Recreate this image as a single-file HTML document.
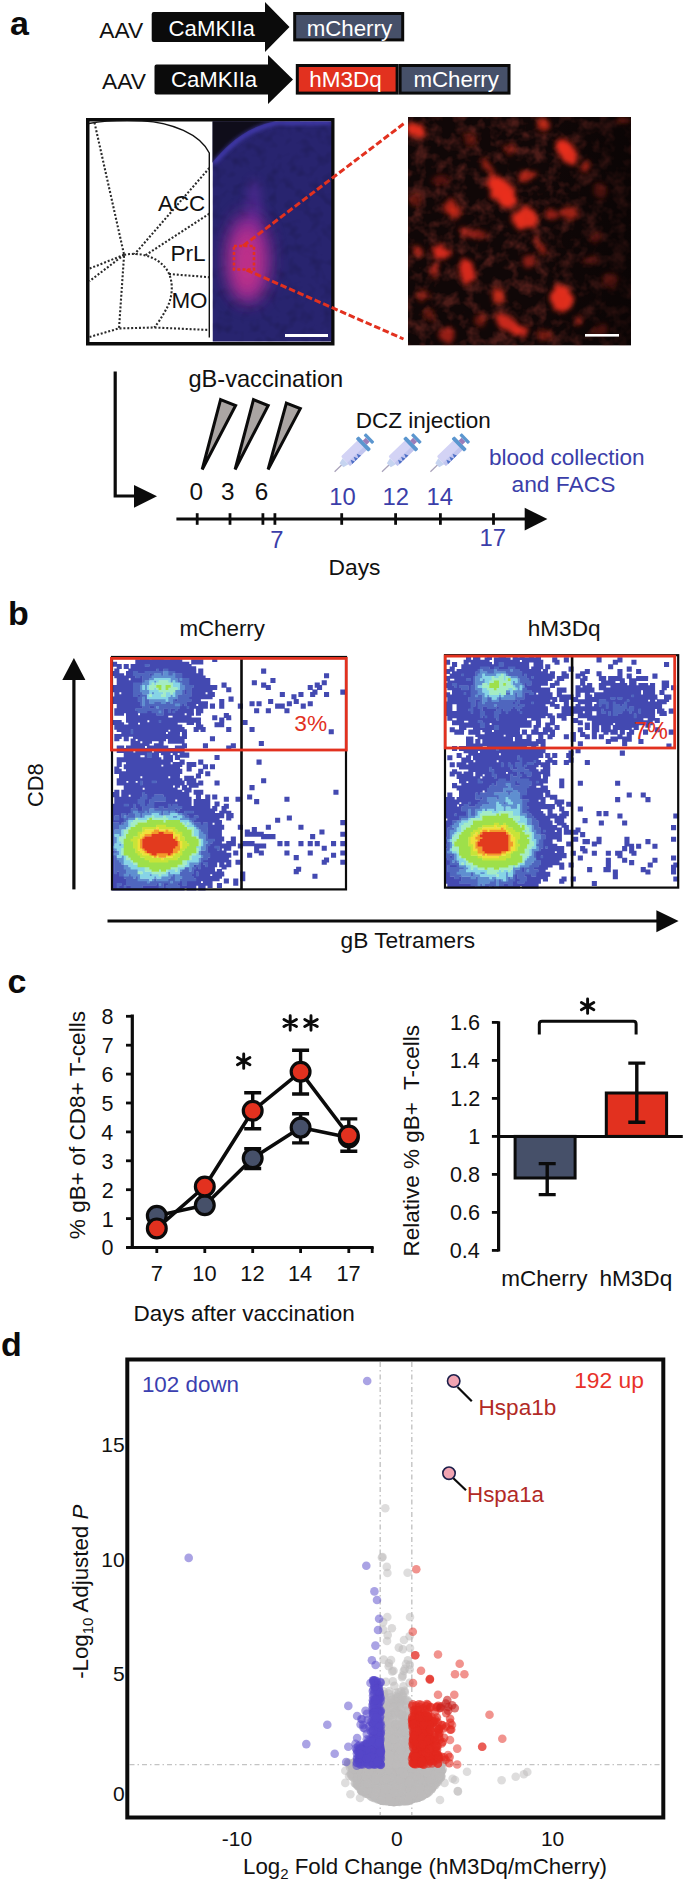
<!DOCTYPE html>
<html><head><meta charset="utf-8"><style>
html,body{margin:0;padding:0;background:#fff;width:685px;height:1881px;overflow:hidden}
svg{display:block;font-family:"Liberation Sans",sans-serif}
</style></head><body>
<svg width="685" height="1881" viewBox="0 0 685 1881">
<text x="10.08" y="34.50" font-size="34.00" fill="#0b0b0b" font-weight="bold">a</text>
<text x="7.99" y="624.80" font-size="34.00" fill="#0b0b0b" font-weight="bold">b</text>
<text x="7.44" y="992.80" font-size="34.00" fill="#0b0b0b" font-weight="bold">c</text>
<text x="0.94" y="1355.80" font-size="34.00" fill="#0b0b0b" font-weight="bold">d</text>
<text x="99.30" y="37.60" font-size="22.80" fill="#111">AAV</text>
<text x="102.00" y="88.60" font-size="22.80" fill="#111">AAV</text>
<path d="M153.7,12.1 L265,12.1 L265,2.0500000000000007 L289.5,27.05 L265,52.05 L265,42 L153.7,42 Q151.7,42 151.7,40 L151.7,14.1 Q151.7,12.1 153.7,12.1 Z" fill="#0b0b0b"/>
<path d="M156.5,64.5 L268,64.5 L268,55.05 L293,79.55 L268,104.05 L268,94.6 L156.5,94.6 Q154.5,94.6 154.5,92.6 L154.5,66.5 Q154.5,64.5 156.5,64.5 Z" fill="#0b0b0b"/>
<text x="168.59" y="35.60" font-size="22.20" fill="#fff">CaMKIIa</text>
<text x="170.89" y="87.20" font-size="22.20" fill="#fff">CaMKIIa</text>
<rect x="294.7" y="13.5" width="108.0" height="26.4" fill="#465069" stroke="#0b0b0b" stroke-width="3"/>
<text x="306.65" y="35.80" font-size="22.30" fill="#fff">mCherry</text>
<rect x="297.3" y="65.5" width="99.80000000000001" height="27.599999999999994" fill="#e2311f" stroke="#0b0b0b" stroke-width="3"/>
<rect x="400.1" y="65.5" width="108.89999999999998" height="27.599999999999994" fill="#465069" stroke="#0b0b0b" stroke-width="3"/>
<text x="309.23" y="87.00" font-size="22.50" fill="#fff">hM3Dq</text>
<text x="413.45" y="87.00" font-size="22.30" fill="#fff">mCherry</text>
<rect x="87.75" y="119.75" width="245" height="224" fill="#fff" stroke="#0b0b0b" stroke-width="3.5"/>
<path d="M88.8,123.5 C105,120.5 125,120 142,120.7 C172,122.5 200,134 209.3,153 L209.3,337.5" stroke="#111" stroke-width="1.4" fill="none"/>
<path d="M94.5,122.6 L124.1,254.8 L119,328.4" stroke="#2a2a2a" stroke-width="2.1" stroke-dasharray="2 1.9" fill="none"/>
<path d="M209.3,168 L134.6,254.2" stroke="#2a2a2a" stroke-width="2.1" stroke-dasharray="2 1.9" fill="none"/>
<path d="M124.1,254.8 L89.5,281.1" stroke="#2a2a2a" stroke-width="2.1" stroke-dasharray="2 1.9" fill="none"/>
<path d="M209.3,213.7 L145.1,255.5" stroke="#2a2a2a" stroke-width="2.1" stroke-dasharray="2 1.9" fill="none"/>
<path d="M124.1,254.8 L89.5,268.6" stroke="#2a2a2a" stroke-width="2.1" stroke-dasharray="2 1.9" fill="none"/>
<path d="M124.1,254.8 C145,251 162,260 168.5,272.6 C174,284 172,299 166.6,308.5 C162,317 158,323 154.3,327.5" stroke="#2a2a2a" stroke-width="2.1" stroke-dasharray="2 1.9" fill="none"/>
<path d="M169,274 L209.3,277.2" stroke="#2a2a2a" stroke-width="2.1" stroke-dasharray="2 1.9" fill="none"/>
<path d="M89.5,337 L119,328.4 L154.3,327.5 L209.3,330" stroke="#2a2a2a" stroke-width="2.1" stroke-dasharray="2 1.9" fill="none"/>
<text x="158.00" y="210.80" font-size="22.40" fill="#111">ACC</text>
<text x="170.49" y="261.40" font-size="22.60" fill="#111">PrL</text>
<text x="171.41" y="308.10" font-size="22.40" fill="#111">MO</text>
<defs>
<clipPath id="cb"><rect x="212.5" y="121.3" width="119" height="220.4"/></clipPath>
<clipPath id="cr"><rect x="408" y="117" width="223" height="228.5"/></clipPath>
<filter id="b2" x="-50%" y="-50%" width="200%" height="200%"><feGaussianBlur stdDeviation="2"/></filter>
<filter id="b3" x="-50%" y="-50%" width="200%" height="200%"><feGaussianBlur stdDeviation="3"/></filter>
<filter id="b5" x="-50%" y="-50%" width="200%" height="200%"><feGaussianBlur stdDeviation="5"/></filter>
<filter id="b9" x="-50%" y="-50%" width="200%" height="200%"><feGaussianBlur stdDeviation="9"/></filter>
<filter id="irr" x="-10%" y="-10%" width="120%" height="120%"><feTurbulence type="fractalNoise" baseFrequency="0.13" numOctaves="2" seed="4" result="t"/><feDisplacementMap in="SourceGraphic" in2="t" scale="9" xChannelSelector="R" yChannelSelector="G" result="d"/><feGaussianBlur in="d" stdDeviation="2.8"/></filter>
<filter id="nz1" x="0" y="0" width="100%" height="100%"><feTurbulence type="fractalNoise" baseFrequency="0.09" numOctaves="2" seed="5"/><feColorMatrix type="matrix" values="0 0 0 0 0  0 0 0 0 0  0 0 0 0 0  1.6 0 0 0 -0.75"/></filter>
<filter id="nzr" x="0" y="0" width="100%" height="100%"><feTurbulence type="fractalNoise" baseFrequency="0.075" numOctaves="3" seed="11"/><feColorMatrix type="matrix" values="0 0 0 0 0.62  0 0 0 0 0.07  0 0 0 0 0.05  2.6 0 0 0 -1.1"/></filter>
</defs>
<g clip-path="url(#cb)">
<rect x="212.5" y="121.3" width="119" height="220.4" fill="#28246f"/>
<rect x="212.5" y="121.3" width="119" height="220.4" fill="#000" filter="url(#nz1)" opacity="0.22"/>
<path d="M210,118 L300,118 L300,121.3 L276,121.3 C243,127 225,148 212.7,162 L210,166 Z" fill="#0f0d1a"/>
<path d="M213.5,163.5 C226,149.5 244,129 277,122.8 L331,122.6" stroke="#4d44cc" stroke-width="3" fill="none" filter="url(#b2)"/>
<ellipse cx="254" cy="205" rx="8" ry="26" fill="#6a2fa8" opacity="0.45" filter="url(#b5)"/>
<ellipse cx="248" cy="258" rx="21" ry="45" fill="#962c9c" opacity="0.92" filter="url(#b9)"/>
<ellipse cx="247" cy="262" rx="15" ry="34" fill="#c83286" opacity="0.9" filter="url(#b9)"/>
</g>
<rect x="285" y="334" width="43" height="3" fill="#fff"/>
<g clip-path="url(#cr)">
<rect x="408" y="117" width="223" height="228.5" fill="#100707"/>
<rect x="408" y="117" width="223" height="228.5" fill="#000" filter="url(#nzr)" opacity="0.32"/>
<defs><linearGradient id="gdk" x1="0" x2="1" y1="0" y2="0"><stop offset="0" stop-color="#070303" stop-opacity="0"/><stop offset="0.6" stop-color="#070303" stop-opacity="0"/><stop offset="1" stop-color="#070303" stop-opacity="0.6"/></linearGradient></defs>
<rect x="408" y="117" width="223" height="228.5" fill="url(#gdk)"/>
<g filter="url(#irr)">
<ellipse cx="415.4" cy="130.9" rx="9.8" ry="6.3" fill="#ea2f1c" opacity="0.95" transform="rotate(25 415.4 130.9)"/>
<ellipse cx="420" cy="127" rx="4.8" ry="3.6" fill="#ea2f1c" opacity="0.76" transform="rotate(0 420 127)"/>
<ellipse cx="502.8" cy="192.2" rx="11.2" ry="16.8" fill="#ea2f1c" opacity="0.95" transform="rotate(-35 502.8 192.2)"/>
<ellipse cx="497" cy="185" rx="8.4" ry="11.2" fill="#ea2f1c" opacity="0.85" transform="rotate(-35 497 185)"/>
<ellipse cx="508" cy="199" rx="8.4" ry="9.8" fill="#ea2f1c" opacity="0.95" transform="rotate(-35 508 199)"/>
<ellipse cx="488" cy="168" rx="3.6" ry="9.6" fill="#ea2f1c" opacity="0.66" transform="rotate(-30 488 168)"/>
<ellipse cx="450.5" cy="207" rx="8.4" ry="7.2" fill="#ea2f1c" opacity="0.71" transform="rotate(0 450.5 207)"/>
<ellipse cx="455" cy="212" rx="6.0" ry="6.0" fill="#ea2f1c" opacity="0.66" transform="rotate(0 455 212)"/>
<ellipse cx="516" cy="218.4" rx="6.0" ry="7.2" fill="#ea2f1c" opacity="0.66" transform="rotate(0 516 218.4)"/>
<ellipse cx="509.4" cy="149.7" rx="6.0" ry="4.8" fill="#ea2f1c" opacity="0.43" transform="rotate(0 509.4 149.7)"/>
<ellipse cx="542.7" cy="124.4" rx="7.2" ry="7.2" fill="#ea2f1c" opacity="0.76" transform="rotate(0 542.7 124.4)"/>
<ellipse cx="567.2" cy="151.3" rx="8.4" ry="14.0" fill="#ea2f1c" opacity="0.95" transform="rotate(-30 567.2 151.3)"/>
<ellipse cx="562" cy="146" rx="5.6" ry="8.4" fill="#ea2f1c" opacity="0.85" transform="rotate(-30 562 146)"/>
<ellipse cx="585.2" cy="166.9" rx="4.8" ry="4.8" fill="#ea2f1c" opacity="0.66" transform="rotate(0 585.2 166.9)"/>
<ellipse cx="526.4" cy="175.9" rx="9.6" ry="4.8" fill="#ea2f1c" opacity="0.71" transform="rotate(-15 526.4 175.9)"/>
<ellipse cx="525.5" cy="218.4" rx="11.2" ry="11.2" fill="#ea2f1c" opacity="0.95" transform="rotate(0 525.5 218.4)"/>
<ellipse cx="569.7" cy="213.5" rx="9.6" ry="6.0" fill="#ea2f1c" opacity="0.66" transform="rotate(0 569.7 213.5)"/>
<ellipse cx="551.7" cy="215" rx="7.2" ry="6.0" fill="#ea2f1c" opacity="0.62" transform="rotate(0 551.7 215)"/>
<ellipse cx="440.7" cy="252.9" rx="9.8" ry="7.0" fill="#ea2f1c" opacity="0.90" transform="rotate(20 440.7 252.9)"/>
<ellipse cx="417.8" cy="251.3" rx="6.0" ry="4.8" fill="#ea2f1c" opacity="0.66" transform="rotate(30 417.8 251.3)"/>
<ellipse cx="466.9" cy="270.9" rx="7.0" ry="12.6" fill="#ea2f1c" opacity="0.90" transform="rotate(-10 466.9 270.9)"/>
<ellipse cx="434.2" cy="269.2" rx="3.6" ry="8.4" fill="#ea2f1c" opacity="0.62" transform="rotate(15 434.2 269.2)"/>
<ellipse cx="473.4" cy="233.3" rx="14.4" ry="4.8" fill="#ea2f1c" opacity="0.57" transform="rotate(10 473.4 233.3)"/>
<ellipse cx="497.9" cy="295.4" rx="6.0" ry="8.4" fill="#ea2f1c" opacity="0.76" transform="rotate(0 497.9 295.4)"/>
<ellipse cx="507.7" cy="323.2" rx="14.0" ry="7.0" fill="#ea2f1c" opacity="0.85" transform="rotate(30 507.7 323.2)"/>
<ellipse cx="447.2" cy="334.6" rx="8.4" ry="7.2" fill="#ea2f1c" opacity="0.62" transform="rotate(0 447.2 334.6)"/>
<ellipse cx="422.7" cy="295.4" rx="6.0" ry="6.0" fill="#ea2f1c" opacity="0.43" transform="rotate(0 422.7 295.4)"/>
<ellipse cx="561.5" cy="298.7" rx="11.2" ry="14.0" fill="#ea2f1c" opacity="0.95" transform="rotate(-20 561.5 298.7)"/>
<ellipse cx="540.3" cy="246.4" rx="3.6" ry="10.8" fill="#ea2f1c" opacity="0.66" transform="rotate(-30 540.3 246.4)"/>
<ellipse cx="528.8" cy="261" rx="6.0" ry="4.8" fill="#ea2f1c" opacity="0.57" transform="rotate(0 528.8 261)"/>
<ellipse cx="521.5" cy="330.6" rx="7.0" ry="7.0" fill="#ea2f1c" opacity="0.85" transform="rotate(0 521.5 330.6)"/>
<ellipse cx="578.7" cy="320.7" rx="3.6" ry="3.6" fill="#ea2f1c" opacity="0.57" transform="rotate(0 578.7 320.7)"/>
<ellipse cx="595.8" cy="238.2" rx="4.8" ry="4.8" fill="#ea2f1c" opacity="0.33" transform="rotate(0 595.8 238.2)"/>
<ellipse cx="623.6" cy="119.5" rx="6.0" ry="3.6" fill="#ea2f1c" opacity="0.38" transform="rotate(0 623.6 119.5)"/>
<ellipse cx="470" cy="140" rx="7.2" ry="6.0" fill="#ea2f1c" opacity="0.38" transform="rotate(0 470 140)"/>
<ellipse cx="440" cy="180" rx="7.2" ry="6.0" fill="#ea2f1c" opacity="0.33" transform="rotate(0 440 180)"/>
<ellipse cx="600" cy="190" rx="7.2" ry="7.2" fill="#ea2f1c" opacity="0.28" transform="rotate(0 600 190)"/>
<ellipse cx="610" cy="280" rx="7.2" ry="7.2" fill="#ea2f1c" opacity="0.28" transform="rotate(0 610 280)"/>
<ellipse cx="600" cy="330" rx="7.2" ry="6.0" fill="#ea2f1c" opacity="0.28" transform="rotate(0 600 330)"/>
<ellipse cx="430" cy="315" rx="6.0" ry="6.0" fill="#ea2f1c" opacity="0.38" transform="rotate(0 430 315)"/>
<ellipse cx="480" cy="320" rx="6.0" ry="6.0" fill="#ea2f1c" opacity="0.43" transform="rotate(0 480 320)"/>
<ellipse cx="545" cy="335" rx="7.2" ry="4.8" fill="#ea2f1c" opacity="0.43" transform="rotate(0 545 335)"/>
<ellipse cx="415" cy="200" rx="6.0" ry="6.0" fill="#ea2f1c" opacity="0.38" transform="rotate(0 415 200)"/>
<ellipse cx="590" cy="260" rx="7.2" ry="6.0" fill="#ea2f1c" opacity="0.28" transform="rotate(0 590 260)"/>
</g>
</g>
<rect x="585" y="334" width="34" height="2.6" fill="#fff"/>
<rect x="234" y="246" width="20" height="23.5" fill="none" stroke="#e2311f" stroke-width="2.6" stroke-dasharray="3 2.2"/>
<path d="M243,246 L404,123.5 M246.5,270 L403.5,339" stroke="#e2311f" stroke-width="3" stroke-dasharray="6.5 2.8"/>
<path d="M115.2,371.4 L115.2,496 L136,496" stroke="#0b0b0b" stroke-width="3.2" fill="none"/>
<path d="M134,485 L157,496.3 L134,507.8 Z" fill="#0b0b0b"/>
<text x="188.46" y="386.90" font-size="23.60" fill="#111">gB-vaccination</text>
<path d="M220.6,399.6 L235.6,405.5 L202.2,469.5 Z" fill="#aaa5a3" stroke="#0b0b0b" stroke-width="3" stroke-linejoin="miter"/>
<path d="M253.5,399.6 L268.2,405.5 L235.1,469.5 Z" fill="#aaa5a3" stroke="#0b0b0b" stroke-width="3" stroke-linejoin="miter"/>
<path d="M286.4,403.1 L300.3,408.6 L268.1,469.5 Z" fill="#aaa5a3" stroke="#0b0b0b" stroke-width="3" stroke-linejoin="miter"/>
<text x="355.70" y="427.60" font-size="22.50" fill="#111">DCZ injection</text>
<text x="488.93" y="465.10" font-size="22.60" fill="#3b3ea9">blood collection</text>
<text x="511.49" y="491.80" font-size="22.80" fill="#3b3ea9">and FACS</text>
<g transform="translate(334.6,471.8) rotate(-44) scale(0.95)">
<line x1="0" y1="0" x2="11" y2="0" stroke="#a9a2ba" stroke-width="1.3"/>
<path d="M10,-3 L16,-4.5 L16,4.5 L10,3 Z" fill="#c6d4f0"/>
<rect x="16" y="-7" width="25" height="14" rx="1.5" fill="#d3d3f5"/>
<rect x="16" y="2.5" width="25" height="4.5" fill="#c2c6ef"/>
<path d="M19,7 l2,-4.5 l2,4.5 z M23.5,7 l2,-4.5 l2,4.5 z M28,7 l2,-4.5 l2,4.5z" fill="#4d6fc6"/>
<rect x="40" y="-9.5" width="4.2" height="19" rx="1.2" fill="#5b96cf"/>
<rect x="44" y="-3" width="4.5" height="6" fill="#9b7db9"/>
<rect x="48.5" y="-6.5" width="3.6" height="13" rx="1" fill="#5b96cf"/>
</g>
<g transform="translate(382,471.8) rotate(-44) scale(0.95)">
<line x1="0" y1="0" x2="11" y2="0" stroke="#a9a2ba" stroke-width="1.3"/>
<path d="M10,-3 L16,-4.5 L16,4.5 L10,3 Z" fill="#c6d4f0"/>
<rect x="16" y="-7" width="25" height="14" rx="1.5" fill="#d3d3f5"/>
<rect x="16" y="2.5" width="25" height="4.5" fill="#c2c6ef"/>
<path d="M19,7 l2,-4.5 l2,4.5 z M23.5,7 l2,-4.5 l2,4.5 z M28,7 l2,-4.5 l2,4.5z" fill="#4d6fc6"/>
<rect x="40" y="-9.5" width="4.2" height="19" rx="1.2" fill="#5b96cf"/>
<rect x="44" y="-3" width="4.5" height="6" fill="#9b7db9"/>
<rect x="48.5" y="-6.5" width="3.6" height="13" rx="1" fill="#5b96cf"/>
</g>
<g transform="translate(430.4,471.8) rotate(-44) scale(0.95)">
<line x1="0" y1="0" x2="11" y2="0" stroke="#a9a2ba" stroke-width="1.3"/>
<path d="M10,-3 L16,-4.5 L16,4.5 L10,3 Z" fill="#c6d4f0"/>
<rect x="16" y="-7" width="25" height="14" rx="1.5" fill="#d3d3f5"/>
<rect x="16" y="2.5" width="25" height="4.5" fill="#c2c6ef"/>
<path d="M19,7 l2,-4.5 l2,4.5 z M23.5,7 l2,-4.5 l2,4.5 z M28,7 l2,-4.5 l2,4.5z" fill="#4d6fc6"/>
<rect x="40" y="-9.5" width="4.2" height="19" rx="1.2" fill="#5b96cf"/>
<rect x="44" y="-3" width="4.5" height="6" fill="#9b7db9"/>
<rect x="48.5" y="-6.5" width="3.6" height="13" rx="1" fill="#5b96cf"/>
</g>
<line x1="176.4" y1="519" x2="526" y2="519" stroke="#0b0b0b" stroke-width="3"/>
<path d="M524.7,507.8 L547.4,519 L524.7,530.4 Z" fill="#0b0b0b"/>
<line x1="197.2" y1="513.2" x2="197.2" y2="524.8" stroke="#0b0b0b" stroke-width="2.8"/>
<line x1="230" y1="513.2" x2="230" y2="524.8" stroke="#0b0b0b" stroke-width="2.8"/>
<line x1="262.9" y1="513.2" x2="262.9" y2="524.8" stroke="#0b0b0b" stroke-width="2.8"/>
<line x1="274.9" y1="513.2" x2="274.9" y2="524.8" stroke="#0b0b0b" stroke-width="2.8"/>
<line x1="341.7" y1="513.2" x2="341.7" y2="524.8" stroke="#0b0b0b" stroke-width="2.8"/>
<line x1="395.6" y1="513.2" x2="395.6" y2="524.8" stroke="#0b0b0b" stroke-width="2.8"/>
<line x1="440.4" y1="513.2" x2="440.4" y2="524.8" stroke="#0b0b0b" stroke-width="2.8"/>
<line x1="493.5" y1="513.2" x2="493.5" y2="524.8" stroke="#0b0b0b" stroke-width="2.8"/>
<text x="189.53" y="500.20" font-size="24.30" fill="#111">0</text>
<text x="221.03" y="500.20" font-size="24.30" fill="#111">3</text>
<text x="254.78" y="500.20" font-size="24.30" fill="#111">6</text>
<text x="329.21" y="504.80" font-size="23.80" fill="#3b3ea9">10</text>
<text x="382.51" y="504.80" font-size="23.80" fill="#3b3ea9">12</text>
<text x="426.51" y="504.80" font-size="23.80" fill="#3b3ea9">14</text>
<text x="270.31" y="547.70" font-size="23.80" fill="#3b3ea9">7</text>
<text x="479.61" y="546.00" font-size="23.80" fill="#3b3ea9">17</text>
<text x="328.58" y="574.60" font-size="22.80" fill="#111">Days</text>
<text x="179.45" y="635.90" font-size="22.30" fill="#111">mCherry</text>
<text x="527.72" y="635.90" font-size="22.60" fill="#111">hM3Dq</text>
<line x1="73.9" y1="678" x2="73.9" y2="889.4" stroke="#0b0b0b" stroke-width="3.2"/>
<path d="M62.3,680 L73.9,658 L85.4,680 Z" fill="#0b0b0b"/>
<text transform="translate(43.3,785.3) rotate(-90)" text-anchor="middle" font-size="21.8" fill="#111">CD8</text>
<line x1="107.5" y1="921" x2="658" y2="921" stroke="#0b0b0b" stroke-width="3.2"/>
<path d="M656.4,910.3 L678.6,921 L656.4,932.2 Z" fill="#0b0b0b"/>
<text x="340.59" y="947.80" font-size="22.70" fill="#111">gB Tetramers</text>
<g><path fill="#4349b1" d="M140.0 657.0h9.7v2.73h-9.7zM151.6 657.0h12.1v2.73h-12.1zM170.2 657.0h9.7v2.73h-9.7zM212.2 657.0h5.1v2.73h-5.1zM135.3 659.3h47.0v2.73h-47.0zM191.2 659.3h12.1v2.73h-12.1zM212.2 659.3h5.1v2.73h-5.1zM112.0 661.7h5.1v2.73h-5.1zM135.3 661.7h54.0v2.73h-54.0zM191.2 661.7h12.1v2.73h-12.1zM112.0 664.0h9.7v2.73h-9.7zM123.7 664.0h5.1v2.73h-5.1zM130.6 664.0h14.4v2.73h-14.4zM149.3 664.0h42.3v2.73h-42.3zM116.7 666.3h5.1v2.73h-5.1zM123.7 666.3h5.1v2.73h-5.1zM130.6 666.3h65.6v2.73h-65.6zM114.3 668.6h5.1v2.73h-5.1zM128.3 668.6h28.4v2.73h-28.4zM158.6 668.6h5.1v2.73h-5.1zM167.9 668.6h28.4v2.73h-28.4zM198.2 668.6h5.1v2.73h-5.1zM261.1 668.6h5.1v2.73h-5.1zM112.0 671.0h7.4v2.73h-7.4zM126.0 671.0h7.4v2.73h-7.4zM137.6 671.0h7.4v2.73h-7.4zM174.9 671.0h21.4v2.73h-21.4zM198.2 671.0h5.1v2.73h-5.1zM261.1 671.0h5.1v2.73h-5.1zM112.0 673.3h12.1v2.73h-12.1zM126.0 673.3h7.4v2.73h-7.4zM149.3 673.3h2.7v2.73h-2.7zM181.9 673.3h21.4v2.73h-21.4zM324.0 673.3h5.1v2.73h-5.1zM114.3 675.6h21.4v2.73h-21.4zM140.0 675.6h2.7v2.73h-2.7zM181.9 675.6h23.7v2.73h-23.7zM324.0 675.6h5.1v2.73h-5.1zM116.7 678.0h12.1v2.73h-12.1zM130.6 678.0h12.1v2.73h-12.1zM188.9 678.0h21.4v2.73h-21.4zM270.4 678.0h5.1v2.73h-5.1zM116.7 680.3h26.0v2.73h-26.0zM188.9 680.3h21.4v2.73h-21.4zM251.8 680.3h5.1v2.73h-5.1zM270.4 680.3h5.1v2.73h-5.1zM321.7 680.3h5.1v2.73h-5.1zM116.7 682.6h16.7v2.73h-16.7zM188.9 682.6h21.4v2.73h-21.4zM221.5 682.6h5.1v2.73h-5.1zM251.8 682.6h5.1v2.73h-5.1zM261.1 682.6h5.1v2.73h-5.1zM314.7 682.6h5.1v2.73h-5.1zM321.7 682.6h5.1v2.73h-5.1zM112.0 685.0h21.4v2.73h-21.4zM193.6 685.0h23.7v2.73h-23.7zM221.5 685.0h5.1v2.73h-5.1zM261.1 685.0h9.7v2.73h-9.7zM307.7 685.0h5.1v2.73h-5.1zM314.7 685.0h7.4v2.73h-7.4zM112.0 687.3h21.4v2.73h-21.4zM191.2 687.3h26.0v2.73h-26.0zM226.2 687.3h5.1v2.73h-5.1zM265.8 687.3h5.1v2.73h-5.1zM307.7 687.3h5.1v2.73h-5.1zM317.0 687.3h5.1v2.73h-5.1zM112.0 689.6h21.4v2.73h-21.4zM184.2 689.6h2.7v2.73h-2.7zM191.2 689.6h21.4v2.73h-21.4zM226.2 689.6h5.1v2.73h-5.1zM312.4 689.6h5.1v2.73h-5.1zM340.3 689.6h5.1v2.73h-5.1zM114.3 692.0h5.1v2.73h-5.1zM121.3 692.0h12.1v2.73h-12.1zM184.2 692.0h2.7v2.73h-2.7zM191.2 692.0h14.4v2.73h-14.4zM207.5 692.0h7.4v2.73h-7.4zM279.8 692.0h5.1v2.73h-5.1zM298.4 692.0h5.1v2.73h-5.1zM310.1 692.0h7.4v2.73h-7.4zM324.0 692.0h5.1v2.73h-5.1zM340.3 692.0h5.1v2.73h-5.1zM114.3 694.3h19.0v2.73h-19.0zM137.6 694.3h2.7v2.73h-2.7zM191.2 694.3h23.7v2.73h-23.7zM279.8 694.3h5.1v2.73h-5.1zM291.4 694.3h5.1v2.73h-5.1zM298.4 694.3h5.1v2.73h-5.1zM310.1 694.3h5.1v2.73h-5.1zM324.0 694.3h5.1v2.73h-5.1zM112.0 696.6h26.0v2.73h-26.0zM188.9 696.6h23.7v2.73h-23.7zM228.5 696.6h5.1v2.73h-5.1zM291.4 696.6h5.1v2.73h-5.1zM112.0 698.9h26.0v2.73h-26.0zM174.9 698.9h2.7v2.73h-2.7zM191.2 698.9h9.7v2.73h-9.7zM219.2 698.9h5.1v2.73h-5.1zM228.5 698.9h5.1v2.73h-5.1zM268.1 698.9h5.1v2.73h-5.1zM293.7 698.9h5.1v2.73h-5.1zM112.0 701.3h28.4v2.73h-28.4zM186.6 701.3h21.4v2.73h-21.4zM219.2 701.3h5.1v2.73h-5.1zM249.5 701.3h5.1v2.73h-5.1zM256.5 701.3h5.1v2.73h-5.1zM268.1 701.3h5.1v2.73h-5.1zM286.8 701.3h5.1v2.73h-5.1zM293.7 701.3h5.1v2.73h-5.1zM307.7 701.3h5.1v2.73h-5.1zM116.7 703.6h23.7v2.73h-23.7zM181.9 703.6h2.7v2.73h-2.7zM186.6 703.6h9.7v2.73h-9.7zM198.2 703.6h9.7v2.73h-9.7zM209.9 703.6h5.1v2.73h-5.1zM219.2 703.6h5.1v2.73h-5.1zM237.8 703.6h5.1v2.73h-5.1zM249.5 703.6h5.1v2.73h-5.1zM256.5 703.6h5.1v2.73h-5.1zM275.1 703.6h9.7v2.73h-9.7zM286.8 703.6h5.1v2.73h-5.1zM300.7 703.6h5.1v2.73h-5.1zM307.7 703.6h5.1v2.73h-5.1zM116.7 705.9h26.0v2.73h-26.0zM149.3 705.9h5.1v2.73h-5.1zM179.6 705.9h7.4v2.73h-7.4zM188.9 705.9h19.0v2.73h-19.0zM209.9 705.9h5.1v2.73h-5.1zM219.2 705.9h5.1v2.73h-5.1zM237.8 705.9h5.1v2.73h-5.1zM275.1 705.9h9.7v2.73h-9.7zM300.7 705.9h5.1v2.73h-5.1zM114.3 708.3h21.4v2.73h-21.4zM163.3 708.3h5.1v2.73h-5.1zM170.2 708.3h5.1v2.73h-5.1zM177.2 708.3h16.7v2.73h-16.7zM195.9 708.3h7.4v2.73h-7.4zM254.1 708.3h5.1v2.73h-5.1zM265.8 708.3h5.1v2.73h-5.1zM284.4 708.3h5.1v2.73h-5.1zM114.3 710.6h23.7v2.73h-23.7zM146.9 710.6h5.1v2.73h-5.1zM163.3 710.6h5.1v2.73h-5.1zM170.2 710.6h2.7v2.73h-2.7zM174.9 710.6h19.0v2.73h-19.0zM195.9 710.6h7.4v2.73h-7.4zM254.1 710.6h5.1v2.73h-5.1zM265.8 710.6h5.1v2.73h-5.1zM284.4 710.6h5.1v2.73h-5.1zM114.3 712.9h9.7v2.73h-9.7zM126.0 712.9h12.1v2.73h-12.1zM140.0 712.9h16.7v2.73h-16.7zM163.3 712.9h21.4v2.73h-21.4zM186.6 712.9h7.4v2.73h-7.4zM195.9 712.9h5.1v2.73h-5.1zM223.8 712.9h5.1v2.73h-5.1zM126.0 715.2h42.3v2.73h-42.3zM172.6 715.2h19.0v2.73h-19.0zM212.2 715.2h5.1v2.73h-5.1zM223.8 715.2h7.4v2.73h-7.4zM126.0 717.6h75.0v2.73h-75.0zM212.2 717.6h5.1v2.73h-5.1zM219.2 717.6h5.1v2.73h-5.1zM226.2 717.6h5.1v2.73h-5.1zM112.0 719.9h9.7v2.73h-9.7zM126.0 719.9h21.4v2.73h-21.4zM149.3 719.9h9.7v2.73h-9.7zM160.9 719.9h40.0v2.73h-40.0zM219.2 719.9h5.1v2.73h-5.1zM242.5 719.9h5.1v2.73h-5.1zM112.0 722.2h12.1v2.73h-12.1zM128.3 722.2h9.7v2.73h-9.7zM140.0 722.2h37.7v2.73h-37.7zM186.6 722.2h7.4v2.73h-7.4zM195.9 722.2h5.1v2.73h-5.1zM214.5 722.2h9.7v2.73h-9.7zM242.5 722.2h5.1v2.73h-5.1zM114.3 724.6h68.0v2.73h-68.0zM195.9 724.6h7.4v2.73h-7.4zM214.5 724.6h9.7v2.73h-9.7zM114.3 726.9h70.3v2.73h-70.3zM193.6 726.9h12.1v2.73h-12.1zM226.2 726.9h5.1v2.73h-5.1zM249.5 726.9h5.1v2.73h-5.1zM116.7 729.2h14.4v2.73h-14.4zM133.0 729.2h35.4v2.73h-35.4zM170.2 729.2h16.7v2.73h-16.7zM193.6 729.2h5.1v2.73h-5.1zM200.5 729.2h5.1v2.73h-5.1zM226.2 729.2h5.1v2.73h-5.1zM249.5 729.2h5.1v2.73h-5.1zM328.7 729.2h5.1v2.73h-5.1zM121.3 731.6h9.7v2.73h-9.7zM133.0 731.6h33.0v2.73h-33.0zM167.9 731.6h12.1v2.73h-12.1zM181.9 731.6h5.1v2.73h-5.1zM328.7 731.6h5.1v2.73h-5.1zM114.3 733.9h65.6v2.73h-65.6zM181.9 733.9h5.1v2.73h-5.1zM114.3 736.2h7.4v2.73h-7.4zM123.7 736.2h5.1v2.73h-5.1zM133.0 736.2h54.0v2.73h-54.0zM209.9 736.2h5.1v2.73h-5.1zM114.3 738.5h5.1v2.73h-5.1zM123.7 738.5h5.1v2.73h-5.1zM130.6 738.5h5.1v2.73h-5.1zM137.6 738.5h28.4v2.73h-28.4zM167.9 738.5h16.7v2.73h-16.7zM209.9 738.5h5.1v2.73h-5.1zM130.6 740.9h9.7v2.73h-9.7zM142.3 740.9h9.7v2.73h-9.7zM158.6 740.9h5.1v2.73h-5.1zM167.9 740.9h16.7v2.73h-16.7zM258.8 740.9h5.1v2.73h-5.1zM130.6 743.2h19.0v2.73h-19.0zM153.9 743.2h9.7v2.73h-9.7zM181.9 743.2h5.1v2.73h-5.1zM202.9 743.2h5.1v2.73h-5.1zM230.8 743.2h5.1v2.73h-5.1zM258.8 743.2h5.1v2.73h-5.1zM116.7 745.5h7.4v2.73h-7.4zM126.0 745.5h19.0v2.73h-19.0zM146.9 745.5h21.4v2.73h-21.4zM174.9 745.5h12.1v2.73h-12.1zM202.9 745.5h5.1v2.73h-5.1zM226.2 745.5h9.7v2.73h-9.7zM116.7 747.9h68.0v2.73h-68.0zM226.2 747.9h5.1v2.73h-5.1zM116.7 750.2h16.7v2.73h-16.7zM135.3 750.2h16.7v2.73h-16.7zM153.9 750.2h30.7v2.73h-30.7zM123.7 752.5h23.7v2.73h-23.7zM151.6 752.5h7.4v2.73h-7.4zM160.9 752.5h9.7v2.73h-9.7zM172.6 752.5h5.1v2.73h-5.1zM179.6 752.5h9.7v2.73h-9.7zM123.7 754.9h16.7v2.73h-16.7zM144.6 754.9h2.7v2.73h-2.7zM151.6 754.9h7.4v2.73h-7.4zM163.3 754.9h9.7v2.73h-9.7zM174.9 754.9h14.4v2.73h-14.4zM214.5 754.9h5.1v2.73h-5.1zM116.7 757.2h44.7v2.73h-44.7zM163.3 757.2h9.7v2.73h-9.7zM174.9 757.2h5.1v2.73h-5.1zM214.5 757.2h5.1v2.73h-5.1zM116.7 759.5h56.3v2.73h-56.3zM179.6 759.5h5.1v2.73h-5.1zM198.2 759.5h5.1v2.73h-5.1zM256.5 759.5h5.1v2.73h-5.1zM116.7 761.9h5.1v2.73h-5.1zM126.0 761.9h44.7v2.73h-44.7zM172.6 761.9h12.1v2.73h-12.1zM186.6 761.9h9.7v2.73h-9.7zM198.2 761.9h5.1v2.73h-5.1zM256.5 761.9h5.1v2.73h-5.1zM116.7 764.2h5.1v2.73h-5.1zM123.7 764.2h37.7v2.73h-37.7zM163.3 764.2h19.0v2.73h-19.0zM186.6 764.2h9.7v2.73h-9.7zM202.9 764.2h5.1v2.73h-5.1zM209.9 764.2h5.1v2.73h-5.1zM114.3 766.5h5.1v2.73h-5.1zM123.7 766.5h56.3v2.73h-56.3zM186.6 766.5h5.1v2.73h-5.1zM202.9 766.5h5.1v2.73h-5.1zM209.9 766.5h5.1v2.73h-5.1zM114.3 768.8h7.4v2.73h-7.4zM126.0 768.8h56.3v2.73h-56.3zM186.6 768.8h5.1v2.73h-5.1zM198.2 768.8h5.1v2.73h-5.1zM114.3 771.2h68.0v2.73h-68.0zM198.2 771.2h5.1v2.73h-5.1zM205.2 771.2h5.1v2.73h-5.1zM119.0 773.5h61.0v2.73h-61.0zM195.9 773.5h5.1v2.73h-5.1zM205.2 773.5h5.1v2.73h-5.1zM119.0 775.8h21.4v2.73h-21.4zM142.3 775.8h26.0v2.73h-26.0zM170.2 775.8h9.7v2.73h-9.7zM184.2 775.8h9.7v2.73h-9.7zM195.9 775.8h5.1v2.73h-5.1zM116.7 778.2h65.6v2.73h-65.6zM184.2 778.2h12.1v2.73h-12.1zM261.1 778.2h5.1v2.73h-5.1zM116.7 780.5h9.7v2.73h-9.7zM128.3 780.5h7.4v2.73h-7.4zM137.6 780.5h2.7v2.73h-2.7zM142.3 780.5h9.7v2.73h-9.7zM156.3 780.5h28.4v2.73h-28.4zM186.6 780.5h9.7v2.73h-9.7zM198.2 780.5h5.1v2.73h-5.1zM214.5 780.5h5.1v2.73h-5.1zM261.1 780.5h5.1v2.73h-5.1zM116.7 782.8h23.7v2.73h-23.7zM142.3 782.8h42.3v2.73h-42.3zM186.6 782.8h16.7v2.73h-16.7zM214.5 782.8h5.1v2.73h-5.1zM123.7 785.1h49.3v2.73h-49.3zM174.9 785.1h5.1v2.73h-5.1zM181.9 785.1h5.1v2.73h-5.1zM188.9 785.1h9.7v2.73h-9.7zM249.5 785.1h5.1v2.73h-5.1zM123.7 787.5h19.0v2.73h-19.0zM144.6 787.5h33.0v2.73h-33.0zM181.9 787.5h9.7v2.73h-9.7zM249.5 787.5h5.1v2.73h-5.1zM114.3 789.8h5.1v2.73h-5.1zM121.3 789.8h61.0v2.73h-61.0zM184.2 789.8h7.4v2.73h-7.4zM193.6 789.8h9.7v2.73h-9.7zM333.4 789.8h5.1v2.73h-5.1zM112.0 792.1h7.4v2.73h-7.4zM121.3 792.1h21.4v2.73h-21.4zM144.6 792.1h44.7v2.73h-44.7zM193.6 792.1h9.7v2.73h-9.7zM333.4 792.1h5.1v2.73h-5.1zM112.0 794.5h7.4v2.73h-7.4zM121.3 794.5h7.4v2.73h-7.4zM130.6 794.5h12.1v2.73h-12.1zM146.9 794.5h7.4v2.73h-7.4zM163.3 794.5h26.0v2.73h-26.0zM195.9 794.5h5.1v2.73h-5.1zM205.2 794.5h5.1v2.73h-5.1zM212.2 794.5h5.1v2.73h-5.1zM247.1 794.5h5.1v2.73h-5.1zM114.3 796.8h26.0v2.73h-26.0zM146.9 796.8h5.1v2.73h-5.1zM165.6 796.8h26.0v2.73h-26.0zM195.9 796.8h5.1v2.73h-5.1zM205.2 796.8h5.1v2.73h-5.1zM212.2 796.8h5.1v2.73h-5.1zM223.8 796.8h5.1v2.73h-5.1zM235.5 796.8h5.1v2.73h-5.1zM247.1 796.8h5.1v2.73h-5.1zM284.4 796.8h5.1v2.73h-5.1zM114.3 799.1h23.7v2.73h-23.7zM144.6 799.1h5.1v2.73h-5.1zM165.6 799.1h9.7v2.73h-9.7zM177.2 799.1h14.4v2.73h-14.4zM193.6 799.1h16.7v2.73h-16.7zM223.8 799.1h5.1v2.73h-5.1zM235.5 799.1h5.1v2.73h-5.1zM254.1 799.1h5.1v2.73h-5.1zM284.4 799.1h5.1v2.73h-5.1zM114.3 801.5h23.7v2.73h-23.7zM144.6 801.5h5.1v2.73h-5.1zM153.9 801.5h37.7v2.73h-37.7zM193.6 801.5h16.7v2.73h-16.7zM214.5 801.5h5.1v2.73h-5.1zM254.1 801.5h5.1v2.73h-5.1zM112.0 803.8h12.1v2.73h-12.1zM128.3 803.8h5.1v2.73h-5.1zM135.3 803.8h5.1v2.73h-5.1zM144.6 803.8h2.7v2.73h-2.7zM153.9 803.8h14.4v2.73h-14.4zM170.2 803.8h2.7v2.73h-2.7zM177.2 803.8h14.4v2.73h-14.4zM193.6 803.8h16.7v2.73h-16.7zM214.5 803.8h5.1v2.73h-5.1zM223.8 803.8h5.1v2.73h-5.1zM112.0 806.1h21.4v2.73h-21.4zM135.3 806.1h7.4v2.73h-7.4zM153.9 806.1h5.1v2.73h-5.1zM163.3 806.1h5.1v2.73h-5.1zM181.9 806.1h28.4v2.73h-28.4zM212.2 806.1h5.1v2.73h-5.1zM221.5 806.1h7.4v2.73h-7.4zM112.0 808.5h19.0v2.73h-19.0zM137.6 808.5h5.1v2.73h-5.1zM174.9 808.5h2.7v2.73h-2.7zM179.6 808.5h37.7v2.73h-37.7zM221.5 808.5h5.1v2.73h-5.1zM112.0 810.8h19.0v2.73h-19.0zM177.2 810.8h7.4v2.73h-7.4zM193.6 810.8h21.4v2.73h-21.4zM219.2 810.8h12.1v2.73h-12.1zM112.0 813.1h9.7v2.73h-9.7zM126.0 813.1h2.7v2.73h-2.7zM186.6 813.1h37.7v2.73h-37.7zM226.2 813.1h7.4v2.73h-7.4zM112.0 815.4h2.7v2.73h-2.7zM119.0 815.4h2.7v2.73h-2.7zM188.9 815.4h5.1v2.73h-5.1zM198.2 815.4h26.0v2.73h-26.0zM226.2 815.4h7.4v2.73h-7.4zM286.8 815.4h5.1v2.73h-5.1zM112.0 817.8h2.7v2.73h-2.7zM119.0 817.8h5.1v2.73h-5.1zM195.9 817.8h23.7v2.73h-23.7zM226.2 817.8h5.1v2.73h-5.1zM275.1 817.8h5.1v2.73h-5.1zM286.8 817.8h5.1v2.73h-5.1zM112.0 820.1h12.1v2.73h-12.1zM193.6 820.1h28.4v2.73h-28.4zM275.1 820.1h5.1v2.73h-5.1zM340.3 820.1h5.1v2.73h-5.1zM119.0 822.4h2.7v2.73h-2.7zM200.5 822.4h2.7v2.73h-2.7zM207.5 822.4h5.1v2.73h-5.1zM214.5 822.4h7.4v2.73h-7.4zM340.3 822.4h5.1v2.73h-5.1zM207.5 824.8h16.7v2.73h-16.7zM237.8 824.8h5.1v2.73h-5.1zM265.8 824.8h5.1v2.73h-5.1zM298.4 824.8h5.1v2.73h-5.1zM207.5 827.1h16.7v2.73h-16.7zM237.8 827.1h5.1v2.73h-5.1zM251.8 827.1h5.1v2.73h-5.1zM265.8 827.1h5.1v2.73h-5.1zM298.4 827.1h5.1v2.73h-5.1zM207.5 829.4h14.4v2.73h-14.4zM244.8 829.4h5.1v2.73h-5.1zM251.8 829.4h5.1v2.73h-5.1zM319.4 829.4h5.1v2.73h-5.1zM207.5 831.8h14.4v2.73h-14.4zM244.8 831.8h19.0v2.73h-19.0zM319.4 831.8h5.1v2.73h-5.1zM340.3 831.8h5.1v2.73h-5.1zM207.5 834.1h14.4v2.73h-14.4zM244.8 834.1h30.7v2.73h-30.7zM310.1 834.1h5.1v2.73h-5.1zM340.3 834.1h5.1v2.73h-5.1zM207.5 836.4h16.7v2.73h-16.7zM230.8 836.4h5.1v2.73h-5.1zM261.1 836.4h14.4v2.73h-14.4zM310.1 836.4h5.1v2.73h-5.1zM214.5 838.7h9.7v2.73h-9.7zM230.8 838.7h5.1v2.73h-5.1zM212.2 841.1h9.7v2.73h-9.7zM226.2 841.1h9.7v2.73h-9.7zM242.5 841.1h12.1v2.73h-12.1zM277.4 841.1h5.1v2.73h-5.1zM284.4 841.1h5.1v2.73h-5.1zM298.4 841.1h5.1v2.73h-5.1zM307.7 841.1h5.1v2.73h-5.1zM314.7 841.1h5.1v2.73h-5.1zM331.0 841.1h5.1v2.73h-5.1zM340.3 841.1h5.1v2.73h-5.1zM209.9 843.4h26.0v2.73h-26.0zM237.8 843.4h28.4v2.73h-28.4zM277.4 843.4h5.1v2.73h-5.1zM284.4 843.4h5.1v2.73h-5.1zM298.4 843.4h5.1v2.73h-5.1zM307.7 843.4h5.1v2.73h-5.1zM314.7 843.4h5.1v2.73h-5.1zM331.0 843.4h5.1v2.73h-5.1zM340.3 843.4h5.1v2.73h-5.1zM207.5 845.7h7.4v2.73h-7.4zM219.2 845.7h12.1v2.73h-12.1zM237.8 845.7h5.1v2.73h-5.1zM254.1 845.7h12.1v2.73h-12.1zM321.7 845.7h5.1v2.73h-5.1zM207.5 848.1h9.7v2.73h-9.7zM219.2 848.1h2.7v2.73h-2.7zM223.8 848.1h7.4v2.73h-7.4zM254.1 848.1h5.1v2.73h-5.1zM321.7 848.1h5.1v2.73h-5.1zM112.0 850.4h2.7v2.73h-2.7zM207.5 850.4h19.0v2.73h-19.0zM233.2 850.4h5.1v2.73h-5.1zM254.1 850.4h9.7v2.73h-9.7zM284.4 850.4h5.1v2.73h-5.1zM307.7 850.4h5.1v2.73h-5.1zM340.3 850.4h5.1v2.73h-5.1zM209.9 852.7h21.4v2.73h-21.4zM233.2 852.7h5.1v2.73h-5.1zM247.1 852.7h5.1v2.73h-5.1zM258.8 852.7h5.1v2.73h-5.1zM284.4 852.7h5.1v2.73h-5.1zM307.7 852.7h5.1v2.73h-5.1zM331.0 852.7h5.1v2.73h-5.1zM340.3 852.7h5.1v2.73h-5.1zM112.0 855.0h2.7v2.73h-2.7zM209.9 855.0h21.4v2.73h-21.4zM247.1 855.0h5.1v2.73h-5.1zM293.7 855.0h5.1v2.73h-5.1zM331.0 855.0h5.1v2.73h-5.1zM112.0 857.4h2.7v2.73h-2.7zM207.5 857.4h21.4v2.73h-21.4zM293.7 857.4h5.1v2.73h-5.1zM324.0 857.4h5.1v2.73h-5.1zM112.0 859.7h2.7v2.73h-2.7zM202.9 859.7h28.4v2.73h-28.4zM235.5 859.7h5.1v2.73h-5.1zM321.7 859.7h7.4v2.73h-7.4zM340.3 859.7h5.1v2.73h-5.1zM112.0 862.0h2.7v2.73h-2.7zM200.5 862.0h2.7v2.73h-2.7zM207.5 862.0h9.7v2.73h-9.7zM219.2 862.0h5.1v2.73h-5.1zM226.2 862.0h5.1v2.73h-5.1zM235.5 862.0h5.1v2.73h-5.1zM321.7 862.0h5.1v2.73h-5.1zM340.3 862.0h5.1v2.73h-5.1zM112.0 864.4h2.7v2.73h-2.7zM193.6 864.4h2.7v2.73h-2.7zM200.5 864.4h5.1v2.73h-5.1zM207.5 864.4h9.7v2.73h-9.7zM219.2 864.4h12.1v2.73h-12.1zM112.0 866.7h2.7v2.73h-2.7zM195.9 866.7h2.7v2.73h-2.7zM200.5 866.7h14.4v2.73h-14.4zM221.5 866.7h5.1v2.73h-5.1zM296.1 866.7h5.1v2.73h-5.1zM112.0 869.0h2.7v2.73h-2.7zM193.6 869.0h21.4v2.73h-21.4zM216.9 869.0h5.1v2.73h-5.1zM293.7 869.0h7.4v2.73h-7.4zM112.0 871.4h2.7v2.73h-2.7zM116.7 871.4h2.7v2.73h-2.7zM193.6 871.4h2.7v2.73h-2.7zM198.2 871.4h26.0v2.73h-26.0zM240.2 871.4h5.1v2.73h-5.1zM293.7 871.4h5.1v2.73h-5.1zM112.0 873.7h7.4v2.73h-7.4zM191.2 873.7h5.1v2.73h-5.1zM198.2 873.7h12.1v2.73h-12.1zM212.2 873.7h12.1v2.73h-12.1zM240.2 873.7h5.1v2.73h-5.1zM312.4 873.7h5.1v2.73h-5.1zM112.0 876.0h12.1v2.73h-12.1zM193.6 876.0h28.4v2.73h-28.4zM240.2 876.0h5.1v2.73h-5.1zM312.4 876.0h5.1v2.73h-5.1zM112.0 878.4h14.4v2.73h-14.4zM195.9 878.4h23.7v2.73h-23.7zM223.8 878.4h5.1v2.73h-5.1zM233.2 878.4h5.1v2.73h-5.1zM240.2 878.4h5.1v2.73h-5.1zM112.0 880.7h14.4v2.73h-14.4zM179.6 880.7h2.7v2.73h-2.7zM186.6 880.7h14.4v2.73h-14.4zM202.9 880.7h9.7v2.73h-9.7zM223.8 880.7h5.1v2.73h-5.1zM233.2 880.7h5.1v2.73h-5.1zM112.0 883.0h5.1v2.73h-5.1zM121.3 883.0h5.1v2.73h-5.1zM156.3 883.0h2.7v2.73h-2.7zM163.3 883.0h5.1v2.73h-5.1zM177.2 883.0h5.1v2.73h-5.1zM186.6 883.0h26.0v2.73h-26.0zM216.9 883.0h5.1v2.73h-5.1zM233.2 883.0h5.1v2.73h-5.1zM112.0 885.3h5.1v2.73h-5.1zM119.0 885.3h5.1v2.73h-5.1zM126.0 885.3h5.1v2.73h-5.1zM142.3 885.3h16.7v2.73h-16.7zM163.3 885.3h2.7v2.73h-2.7zM179.6 885.3h16.7v2.73h-16.7zM198.2 885.3h7.4v2.73h-7.4zM207.5 885.3h5.1v2.73h-5.1zM216.9 885.3h5.1v2.73h-5.1zM112.0 887.7h56.3v2.73h-56.3zM170.2 887.7h14.4v2.73h-14.4zM186.6 887.7h9.7v2.73h-9.7zM198.2 887.7h7.4v2.73h-7.4z"/>
<path fill="#4f66be" d="M144.6 664.0h5.1v2.73h-5.1zM156.3 668.6h2.7v2.73h-2.7zM163.3 668.6h5.1v2.73h-5.1zM133.0 671.0h5.1v2.73h-5.1zM144.6 671.0h19.0v2.73h-19.0zM167.9 671.0h7.4v2.73h-7.4zM133.0 673.3h16.7v2.73h-16.7zM151.6 673.3h2.7v2.73h-2.7zM160.9 673.3h2.7v2.73h-2.7zM167.9 673.3h5.1v2.73h-5.1zM174.9 673.3h7.4v2.73h-7.4zM135.3 675.6h5.1v2.73h-5.1zM142.3 675.6h9.7v2.73h-9.7zM174.9 675.6h7.4v2.73h-7.4zM142.3 678.0h7.4v2.73h-7.4zM177.2 678.0h2.7v2.73h-2.7zM181.9 678.0h7.4v2.73h-7.4zM142.3 680.3h2.7v2.73h-2.7zM177.2 680.3h12.1v2.73h-12.1zM133.0 682.6h9.7v2.73h-9.7zM181.9 682.6h7.4v2.73h-7.4zM133.0 685.0h7.4v2.73h-7.4zM184.2 685.0h9.7v2.73h-9.7zM133.0 687.3h7.4v2.73h-7.4zM184.2 687.3h7.4v2.73h-7.4zM133.0 689.6h7.4v2.73h-7.4zM181.9 689.6h2.7v2.73h-2.7zM186.6 689.6h5.1v2.73h-5.1zM133.0 692.0h9.7v2.73h-9.7zM181.9 692.0h2.7v2.73h-2.7zM186.6 692.0h5.1v2.73h-5.1zM133.0 694.3h5.1v2.73h-5.1zM140.0 694.3h7.4v2.73h-7.4zM177.2 694.3h14.4v2.73h-14.4zM137.6 696.6h5.1v2.73h-5.1zM144.6 696.6h2.7v2.73h-2.7zM177.2 696.6h12.1v2.73h-12.1zM137.6 698.9h5.1v2.73h-5.1zM144.6 698.9h5.1v2.73h-5.1zM172.6 698.9h2.7v2.73h-2.7zM177.2 698.9h14.4v2.73h-14.4zM140.0 701.3h2.7v2.73h-2.7zM144.6 701.3h5.1v2.73h-5.1zM153.9 701.3h7.4v2.73h-7.4zM165.6 701.3h5.1v2.73h-5.1zM172.6 701.3h14.4v2.73h-14.4zM140.0 703.6h2.7v2.73h-2.7zM144.6 703.6h30.7v2.73h-30.7zM179.6 703.6h2.7v2.73h-2.7zM184.2 703.6h2.7v2.73h-2.7zM142.3 705.9h7.4v2.73h-7.4zM153.9 705.9h2.7v2.73h-2.7zM158.6 705.9h21.4v2.73h-21.4zM186.6 705.9h2.7v2.73h-2.7zM135.3 708.3h28.4v2.73h-28.4zM167.9 708.3h2.7v2.73h-2.7zM174.9 708.3h2.7v2.73h-2.7zM137.6 710.6h9.7v2.73h-9.7zM151.6 710.6h7.4v2.73h-7.4zM160.9 710.6h2.7v2.73h-2.7zM167.9 710.6h2.7v2.73h-2.7zM172.6 710.6h2.7v2.73h-2.7zM156.3 712.9h7.4v2.73h-7.4zM158.6 719.9h2.7v2.73h-2.7zM130.6 729.2h2.7v2.73h-2.7zM130.6 731.6h2.7v2.73h-2.7zM146.9 752.5h5.1v2.73h-5.1zM146.9 754.9h5.1v2.73h-5.1zM140.0 780.5h2.7v2.73h-2.7zM151.6 780.5h5.1v2.73h-5.1zM140.0 782.8h2.7v2.73h-2.7zM142.3 792.1h2.7v2.73h-2.7zM142.3 794.5h5.1v2.73h-5.1zM153.9 794.5h9.7v2.73h-9.7zM140.0 796.8h7.4v2.73h-7.4zM151.6 796.8h14.4v2.73h-14.4zM137.6 799.1h7.4v2.73h-7.4zM149.3 799.1h16.7v2.73h-16.7zM137.6 801.5h7.4v2.73h-7.4zM149.3 801.5h5.1v2.73h-5.1zM123.7 803.8h5.1v2.73h-5.1zM133.0 803.8h2.7v2.73h-2.7zM140.0 803.8h5.1v2.73h-5.1zM146.9 803.8h7.4v2.73h-7.4zM167.9 803.8h2.7v2.73h-2.7zM172.6 803.8h5.1v2.73h-5.1zM133.0 806.1h2.7v2.73h-2.7zM142.3 806.1h12.1v2.73h-12.1zM158.6 806.1h5.1v2.73h-5.1zM167.9 806.1h14.4v2.73h-14.4zM130.6 808.5h7.4v2.73h-7.4zM142.3 808.5h7.4v2.73h-7.4zM153.9 808.5h21.4v2.73h-21.4zM177.2 808.5h2.7v2.73h-2.7zM130.6 810.8h2.7v2.73h-2.7zM137.6 810.8h7.4v2.73h-7.4zM146.9 810.8h2.7v2.73h-2.7zM160.9 810.8h2.7v2.73h-2.7zM167.9 810.8h2.7v2.73h-2.7zM174.9 810.8h2.7v2.73h-2.7zM184.2 810.8h9.7v2.73h-9.7zM121.3 813.1h5.1v2.73h-5.1zM128.3 813.1h7.4v2.73h-7.4zM140.0 813.1h2.7v2.73h-2.7zM160.9 813.1h2.7v2.73h-2.7zM181.9 813.1h5.1v2.73h-5.1zM114.3 815.4h5.1v2.73h-5.1zM121.3 815.4h2.7v2.73h-2.7zM126.0 815.4h9.7v2.73h-9.7zM140.0 815.4h2.7v2.73h-2.7zM184.2 815.4h5.1v2.73h-5.1zM193.6 815.4h5.1v2.73h-5.1zM114.3 817.8h5.1v2.73h-5.1zM123.7 817.8h5.1v2.73h-5.1zM188.9 817.8h7.4v2.73h-7.4zM123.7 820.1h2.7v2.73h-2.7zM191.2 820.1h2.7v2.73h-2.7zM112.0 822.4h7.4v2.73h-7.4zM121.3 822.4h2.7v2.73h-2.7zM193.6 822.4h7.4v2.73h-7.4zM202.9 822.4h5.1v2.73h-5.1zM112.0 824.8h7.4v2.73h-7.4zM195.9 824.8h12.1v2.73h-12.1zM112.0 827.1h7.4v2.73h-7.4zM198.2 827.1h9.7v2.73h-9.7zM112.0 829.4h2.7v2.73h-2.7zM200.5 829.4h7.4v2.73h-7.4zM112.0 831.8h2.7v2.73h-2.7zM202.9 831.8h5.1v2.73h-5.1zM112.0 834.1h2.7v2.73h-2.7zM205.2 834.1h2.7v2.73h-2.7zM112.0 836.4h2.7v2.73h-2.7zM205.2 836.4h2.7v2.73h-2.7zM112.0 838.7h2.7v2.73h-2.7zM205.2 838.7h9.7v2.73h-9.7zM112.0 841.1h2.7v2.73h-2.7zM207.5 841.1h5.1v2.73h-5.1zM112.0 843.4h2.7v2.73h-2.7zM205.2 843.4h5.1v2.73h-5.1zM205.2 845.7h2.7v2.73h-2.7zM214.5 845.7h5.1v2.73h-5.1zM112.0 848.1h2.7v2.73h-2.7zM205.2 848.1h2.7v2.73h-2.7zM216.9 848.1h2.7v2.73h-2.7zM114.3 850.4h2.7v2.73h-2.7zM200.5 850.4h7.4v2.73h-7.4zM112.0 852.7h2.7v2.73h-2.7zM200.5 852.7h9.7v2.73h-9.7zM114.3 855.0h2.7v2.73h-2.7zM202.9 855.0h7.4v2.73h-7.4zM114.3 857.4h2.7v2.73h-2.7zM200.5 857.4h7.4v2.73h-7.4zM114.3 859.7h5.1v2.73h-5.1zM200.5 859.7h2.7v2.73h-2.7zM114.3 862.0h7.4v2.73h-7.4zM198.2 862.0h2.7v2.73h-2.7zM202.9 862.0h5.1v2.73h-5.1zM114.3 864.4h9.7v2.73h-9.7zM195.9 864.4h5.1v2.73h-5.1zM205.2 864.4h2.7v2.73h-2.7zM114.3 866.7h9.7v2.73h-9.7zM184.2 866.7h5.1v2.73h-5.1zM191.2 866.7h5.1v2.73h-5.1zM198.2 866.7h2.7v2.73h-2.7zM114.3 869.0h12.1v2.73h-12.1zM181.9 869.0h7.4v2.73h-7.4zM191.2 869.0h2.7v2.73h-2.7zM114.3 871.4h2.7v2.73h-2.7zM119.0 871.4h7.4v2.73h-7.4zM179.6 871.4h14.4v2.73h-14.4zM195.9 871.4h2.7v2.73h-2.7zM119.0 873.7h5.1v2.73h-5.1zM128.3 873.7h2.7v2.73h-2.7zM172.6 873.7h2.7v2.73h-2.7zM179.6 873.7h12.1v2.73h-12.1zM195.9 873.7h2.7v2.73h-2.7zM123.7 876.0h9.7v2.73h-9.7zM135.3 876.0h2.7v2.73h-2.7zM170.2 876.0h5.1v2.73h-5.1zM181.9 876.0h12.1v2.73h-12.1zM126.0 878.4h12.1v2.73h-12.1zM153.9 878.4h2.7v2.73h-2.7zM167.9 878.4h7.4v2.73h-7.4zM179.6 878.4h16.7v2.73h-16.7zM126.0 880.7h21.4v2.73h-21.4zM149.3 880.7h21.4v2.73h-21.4zM172.6 880.7h7.4v2.73h-7.4zM181.9 880.7h5.1v2.73h-5.1zM116.7 883.0h5.1v2.73h-5.1zM126.0 883.0h30.7v2.73h-30.7zM160.9 883.0h2.7v2.73h-2.7zM167.9 883.0h9.7v2.73h-9.7zM181.9 883.0h5.1v2.73h-5.1zM116.7 885.3h2.7v2.73h-2.7zM123.7 885.3h2.7v2.73h-2.7zM130.6 885.3h12.1v2.73h-12.1zM158.6 885.3h5.1v2.73h-5.1zM165.6 885.3h14.4v2.73h-14.4zM167.9 887.7h2.7v2.73h-2.7z"/>
<path fill="#5f8fd0" d="M163.3 671.0h5.1v2.73h-5.1zM153.9 673.3h7.4v2.73h-7.4zM163.3 673.3h5.1v2.73h-5.1zM172.6 673.3h2.7v2.73h-2.7zM151.6 675.6h23.7v2.73h-23.7zM149.3 678.0h5.1v2.73h-5.1zM170.2 678.0h7.4v2.73h-7.4zM179.6 678.0h2.7v2.73h-2.7zM144.6 680.3h5.1v2.73h-5.1zM153.9 680.3h2.7v2.73h-2.7zM170.2 680.3h2.7v2.73h-2.7zM174.9 680.3h2.7v2.73h-2.7zM142.3 682.6h7.4v2.73h-7.4zM179.6 682.6h2.7v2.73h-2.7zM140.0 685.0h2.7v2.73h-2.7zM144.6 685.0h2.7v2.73h-2.7zM179.6 685.0h5.1v2.73h-5.1zM140.0 687.3h2.7v2.73h-2.7zM144.6 687.3h2.7v2.73h-2.7zM179.6 687.3h5.1v2.73h-5.1zM140.0 689.6h9.7v2.73h-9.7zM174.9 689.6h7.4v2.73h-7.4zM142.3 692.0h7.4v2.73h-7.4zM151.6 692.0h2.7v2.73h-2.7zM174.9 692.0h7.4v2.73h-7.4zM170.2 694.3h2.7v2.73h-2.7zM174.9 694.3h2.7v2.73h-2.7zM142.3 696.6h2.7v2.73h-2.7zM167.9 696.6h9.7v2.73h-9.7zM142.3 698.9h2.7v2.73h-2.7zM149.3 698.9h16.7v2.73h-16.7zM167.9 698.9h5.1v2.73h-5.1zM142.3 701.3h2.7v2.73h-2.7zM149.3 701.3h5.1v2.73h-5.1zM160.9 701.3h5.1v2.73h-5.1zM170.2 701.3h2.7v2.73h-2.7zM142.3 703.6h2.7v2.73h-2.7zM174.9 703.6h5.1v2.73h-5.1zM156.3 705.9h2.7v2.73h-2.7zM158.6 710.6h2.7v2.73h-2.7zM149.3 808.5h5.1v2.73h-5.1zM133.0 810.8h5.1v2.73h-5.1zM144.6 810.8h2.7v2.73h-2.7zM149.3 810.8h12.1v2.73h-12.1zM163.3 810.8h5.1v2.73h-5.1zM170.2 810.8h5.1v2.73h-5.1zM135.3 813.1h5.1v2.73h-5.1zM142.3 813.1h9.7v2.73h-9.7zM158.6 813.1h2.7v2.73h-2.7zM163.3 813.1h7.4v2.73h-7.4zM177.2 813.1h5.1v2.73h-5.1zM123.7 815.4h2.7v2.73h-2.7zM135.3 815.4h5.1v2.73h-5.1zM142.3 815.4h2.7v2.73h-2.7zM172.6 815.4h5.1v2.73h-5.1zM181.9 815.4h2.7v2.73h-2.7zM128.3 817.8h7.4v2.73h-7.4zM179.6 817.8h9.7v2.73h-9.7zM126.0 820.1h2.7v2.73h-2.7zM188.9 820.1h2.7v2.73h-2.7zM123.7 822.4h5.1v2.73h-5.1zM191.2 822.4h2.7v2.73h-2.7zM119.0 824.8h9.7v2.73h-9.7zM193.6 824.8h2.7v2.73h-2.7zM119.0 827.1h7.4v2.73h-7.4zM195.9 827.1h2.7v2.73h-2.7zM114.3 829.4h7.4v2.73h-7.4zM198.2 829.4h2.7v2.73h-2.7zM114.3 831.8h7.4v2.73h-7.4zM198.2 831.8h5.1v2.73h-5.1zM119.0 834.1h2.7v2.73h-2.7zM198.2 834.1h7.4v2.73h-7.4zM114.3 836.4h2.7v2.73h-2.7zM198.2 836.4h7.4v2.73h-7.4zM114.3 838.7h2.7v2.73h-2.7zM202.9 838.7h2.7v2.73h-2.7zM114.3 841.1h2.7v2.73h-2.7zM202.9 841.1h5.1v2.73h-5.1zM119.0 843.4h2.7v2.73h-2.7zM202.9 843.4h2.7v2.73h-2.7zM112.0 845.7h2.7v2.73h-2.7zM200.5 845.7h5.1v2.73h-5.1zM114.3 848.1h2.7v2.73h-2.7zM200.5 848.1h5.1v2.73h-5.1zM116.7 850.4h2.7v2.73h-2.7zM198.2 850.4h2.7v2.73h-2.7zM114.3 852.7h5.1v2.73h-5.1zM198.2 852.7h2.7v2.73h-2.7zM121.3 855.0h2.7v2.73h-2.7zM200.5 855.0h2.7v2.73h-2.7zM116.7 857.4h7.4v2.73h-7.4zM198.2 857.4h2.7v2.73h-2.7zM119.0 859.7h5.1v2.73h-5.1zM198.2 859.7h2.7v2.73h-2.7zM121.3 862.0h2.7v2.73h-2.7zM188.9 862.0h9.7v2.73h-9.7zM123.7 864.4h5.1v2.73h-5.1zM188.9 864.4h5.1v2.73h-5.1zM123.7 866.7h7.4v2.73h-7.4zM188.9 866.7h2.7v2.73h-2.7zM126.0 869.0h12.1v2.73h-12.1zM179.6 869.0h2.7v2.73h-2.7zM188.9 869.0h2.7v2.73h-2.7zM126.0 871.4h12.1v2.73h-12.1zM167.9 871.4h2.7v2.73h-2.7zM123.7 873.7h5.1v2.73h-5.1zM130.6 873.7h9.7v2.73h-9.7zM149.3 873.7h2.7v2.73h-2.7zM167.9 873.7h5.1v2.73h-5.1zM174.9 873.7h5.1v2.73h-5.1zM133.0 876.0h2.7v2.73h-2.7zM137.6 876.0h2.7v2.73h-2.7zM153.9 876.0h2.7v2.73h-2.7zM160.9 876.0h9.7v2.73h-9.7zM174.9 876.0h7.4v2.73h-7.4zM137.6 878.4h12.1v2.73h-12.1zM151.6 878.4h2.7v2.73h-2.7zM156.3 878.4h12.1v2.73h-12.1zM174.9 878.4h5.1v2.73h-5.1zM146.9 880.7h2.7v2.73h-2.7zM170.2 880.7h2.7v2.73h-2.7zM158.6 883.0h2.7v2.73h-2.7z"/>
<path fill="#86d4e6" d="M153.9 678.0h16.7v2.73h-16.7zM149.3 680.3h5.1v2.73h-5.1zM156.3 680.3h2.7v2.73h-2.7zM167.9 680.3h2.7v2.73h-2.7zM172.6 680.3h2.7v2.73h-2.7zM149.3 682.6h2.7v2.73h-2.7zM153.9 682.6h2.7v2.73h-2.7zM172.6 682.6h7.4v2.73h-7.4zM142.3 685.0h2.7v2.73h-2.7zM146.9 685.0h2.7v2.73h-2.7zM172.6 685.0h7.4v2.73h-7.4zM142.3 687.3h2.7v2.73h-2.7zM146.9 687.3h2.7v2.73h-2.7zM153.9 687.3h2.7v2.73h-2.7zM177.2 687.3h2.7v2.73h-2.7zM149.3 689.6h9.7v2.73h-9.7zM149.3 692.0h2.7v2.73h-2.7zM153.9 692.0h9.7v2.73h-9.7zM165.6 692.0h5.1v2.73h-5.1zM172.6 692.0h2.7v2.73h-2.7zM146.9 694.3h2.7v2.73h-2.7zM151.6 694.3h9.7v2.73h-9.7zM165.6 694.3h5.1v2.73h-5.1zM172.6 694.3h2.7v2.73h-2.7zM146.9 696.6h21.4v2.73h-21.4zM165.6 698.9h2.7v2.73h-2.7zM151.6 813.1h7.4v2.73h-7.4zM170.2 813.1h7.4v2.73h-7.4zM144.6 815.4h7.4v2.73h-7.4zM153.9 815.4h9.7v2.73h-9.7zM165.6 815.4h7.4v2.73h-7.4zM177.2 815.4h5.1v2.73h-5.1zM137.6 817.8h9.7v2.73h-9.7zM167.9 817.8h12.1v2.73h-12.1zM128.3 820.1h5.1v2.73h-5.1zM179.6 820.1h9.7v2.73h-9.7zM128.3 822.4h2.7v2.73h-2.7zM184.2 822.4h2.7v2.73h-2.7zM188.9 822.4h2.7v2.73h-2.7zM128.3 824.8h2.7v2.73h-2.7zM186.6 824.8h7.4v2.73h-7.4zM126.0 827.1h2.7v2.73h-2.7zM193.6 827.1h2.7v2.73h-2.7zM121.3 829.4h2.7v2.73h-2.7zM193.6 829.4h5.1v2.73h-5.1zM121.3 831.8h2.7v2.73h-2.7zM193.6 831.8h5.1v2.73h-5.1zM114.3 834.1h5.1v2.73h-5.1zM121.3 834.1h2.7v2.73h-2.7zM193.6 834.1h5.1v2.73h-5.1zM116.7 836.4h2.7v2.73h-2.7zM116.7 838.7h2.7v2.73h-2.7zM200.5 838.7h2.7v2.73h-2.7zM116.7 841.1h5.1v2.73h-5.1zM200.5 841.1h2.7v2.73h-2.7zM114.3 843.4h5.1v2.73h-5.1zM121.3 843.4h2.7v2.73h-2.7zM200.5 843.4h2.7v2.73h-2.7zM114.3 845.7h9.7v2.73h-9.7zM195.9 845.7h5.1v2.73h-5.1zM116.7 848.1h5.1v2.73h-5.1zM198.2 848.1h2.7v2.73h-2.7zM119.0 850.4h2.7v2.73h-2.7zM119.0 852.7h2.7v2.73h-2.7zM195.9 852.7h2.7v2.73h-2.7zM116.7 855.0h5.1v2.73h-5.1zM123.7 855.0h2.7v2.73h-2.7zM191.2 855.0h9.7v2.73h-9.7zM123.7 857.4h2.7v2.73h-2.7zM191.2 857.4h7.4v2.73h-7.4zM123.7 859.7h7.4v2.73h-7.4zM186.6 859.7h12.1v2.73h-12.1zM123.7 862.0h9.7v2.73h-9.7zM186.6 862.0h2.7v2.73h-2.7zM128.3 864.4h9.7v2.73h-9.7zM184.2 864.4h5.1v2.73h-5.1zM130.6 866.7h14.4v2.73h-14.4zM177.2 866.7h7.4v2.73h-7.4zM137.6 869.0h7.4v2.73h-7.4zM167.9 869.0h7.4v2.73h-7.4zM177.2 869.0h2.7v2.73h-2.7zM142.3 871.4h9.7v2.73h-9.7zM165.6 871.4h2.7v2.73h-2.7zM170.2 871.4h9.7v2.73h-9.7zM140.0 873.7h9.7v2.73h-9.7zM151.6 873.7h7.4v2.73h-7.4zM160.9 873.7h7.4v2.73h-7.4zM140.0 876.0h14.4v2.73h-14.4zM156.3 876.0h5.1v2.73h-5.1zM149.3 878.4h2.7v2.73h-2.7z"/>
<path fill="#a4ecc4" d="M158.6 680.3h9.7v2.73h-9.7zM151.6 682.6h2.7v2.73h-2.7zM156.3 682.6h16.7v2.73h-16.7zM149.3 685.0h7.4v2.73h-7.4zM160.9 685.0h5.1v2.73h-5.1zM170.2 685.0h2.7v2.73h-2.7zM149.3 687.3h5.1v2.73h-5.1zM156.3 687.3h2.7v2.73h-2.7zM160.9 687.3h5.1v2.73h-5.1zM167.9 687.3h9.7v2.73h-9.7zM158.6 689.6h16.7v2.73h-16.7zM163.3 692.0h2.7v2.73h-2.7zM170.2 692.0h2.7v2.73h-2.7zM149.3 694.3h2.7v2.73h-2.7zM160.9 694.3h5.1v2.73h-5.1zM151.6 815.4h2.7v2.73h-2.7zM163.3 815.4h2.7v2.73h-2.7zM135.3 817.8h2.7v2.73h-2.7zM146.9 817.8h2.7v2.73h-2.7zM151.6 817.8h16.7v2.73h-16.7zM133.0 820.1h14.4v2.73h-14.4zM163.3 820.1h2.7v2.73h-2.7zM130.6 822.4h7.4v2.73h-7.4zM181.9 822.4h2.7v2.73h-2.7zM186.6 822.4h2.7v2.73h-2.7zM130.6 824.8h5.1v2.73h-5.1zM184.2 824.8h2.7v2.73h-2.7zM128.3 827.1h2.7v2.73h-2.7zM186.6 827.1h7.4v2.73h-7.4zM123.7 829.4h5.1v2.73h-5.1zM191.2 829.4h2.7v2.73h-2.7zM123.7 831.8h5.1v2.73h-5.1zM191.2 831.8h2.7v2.73h-2.7zM123.7 834.1h2.7v2.73h-2.7zM191.2 834.1h2.7v2.73h-2.7zM119.0 836.4h7.4v2.73h-7.4zM195.9 836.4h2.7v2.73h-2.7zM119.0 838.7h5.1v2.73h-5.1zM198.2 838.7h2.7v2.73h-2.7zM121.3 841.1h2.7v2.73h-2.7zM198.2 841.1h2.7v2.73h-2.7zM198.2 843.4h2.7v2.73h-2.7zM121.3 848.1h2.7v2.73h-2.7zM195.9 848.1h2.7v2.73h-2.7zM121.3 850.4h2.7v2.73h-2.7zM195.9 850.4h2.7v2.73h-2.7zM121.3 852.7h2.7v2.73h-2.7zM191.2 852.7h5.1v2.73h-5.1zM126.0 855.0h2.7v2.73h-2.7zM188.9 855.0h2.7v2.73h-2.7zM126.0 857.4h5.1v2.73h-5.1zM188.9 857.4h2.7v2.73h-2.7zM130.6 859.7h2.7v2.73h-2.7zM181.9 859.7h5.1v2.73h-5.1zM133.0 862.0h5.1v2.73h-5.1zM181.9 862.0h5.1v2.73h-5.1zM177.2 864.4h7.4v2.73h-7.4zM144.6 866.7h5.1v2.73h-5.1zM170.2 866.7h7.4v2.73h-7.4zM144.6 869.0h7.4v2.73h-7.4zM158.6 869.0h2.7v2.73h-2.7zM165.6 869.0h2.7v2.73h-2.7zM174.9 869.0h2.7v2.73h-2.7zM137.6 871.4h5.1v2.73h-5.1zM151.6 871.4h14.4v2.73h-14.4zM158.6 873.7h2.7v2.73h-2.7z"/>
<path fill="#9ee04a" d="M156.3 685.0h5.1v2.73h-5.1zM165.6 685.0h5.1v2.73h-5.1zM158.6 687.3h2.7v2.73h-2.7zM165.6 687.3h2.7v2.73h-2.7zM149.3 817.8h2.7v2.73h-2.7zM146.9 820.1h16.7v2.73h-16.7zM165.6 820.1h14.4v2.73h-14.4zM137.6 822.4h44.7v2.73h-44.7zM135.3 824.8h21.4v2.73h-21.4zM165.6 824.8h19.0v2.73h-19.0zM130.6 827.1h12.1v2.73h-12.1zM174.9 827.1h12.1v2.73h-12.1zM128.3 829.4h14.4v2.73h-14.4zM177.2 829.4h14.4v2.73h-14.4zM128.3 831.8h9.7v2.73h-9.7zM181.9 831.8h9.7v2.73h-9.7zM126.0 834.1h12.1v2.73h-12.1zM181.9 834.1h9.7v2.73h-9.7zM126.0 836.4h7.4v2.73h-7.4zM184.2 836.4h12.1v2.73h-12.1zM123.7 838.7h7.4v2.73h-7.4zM184.2 838.7h14.4v2.73h-14.4zM123.7 841.1h9.7v2.73h-9.7zM186.6 841.1h12.1v2.73h-12.1zM123.7 843.4h9.7v2.73h-9.7zM188.9 843.4h9.7v2.73h-9.7zM123.7 845.7h9.7v2.73h-9.7zM186.6 845.7h9.7v2.73h-9.7zM123.7 848.1h12.1v2.73h-12.1zM184.2 848.1h12.1v2.73h-12.1zM123.7 850.4h12.1v2.73h-12.1zM181.9 850.4h14.4v2.73h-14.4zM123.7 852.7h14.4v2.73h-14.4zM181.9 852.7h9.7v2.73h-9.7zM128.3 855.0h12.1v2.73h-12.1zM179.6 855.0h9.7v2.73h-9.7zM130.6 857.4h14.4v2.73h-14.4zM177.2 857.4h12.1v2.73h-12.1zM133.0 859.7h16.7v2.73h-16.7zM167.9 859.7h14.4v2.73h-14.4zM137.6 862.0h44.7v2.73h-44.7zM137.6 864.4h40.0v2.73h-40.0zM149.3 866.7h21.4v2.73h-21.4zM151.6 869.0h7.4v2.73h-7.4zM160.9 869.0h5.1v2.73h-5.1z"/>
<path fill="#c8e438" d="M156.3 824.8h9.7v2.73h-9.7zM142.3 827.1h14.4v2.73h-14.4zM158.6 827.1h16.7v2.73h-16.7zM142.3 829.4h2.7v2.73h-2.7zM172.6 829.4h5.1v2.73h-5.1zM137.6 831.8h5.1v2.73h-5.1zM174.9 831.8h7.4v2.73h-7.4zM137.6 834.1h2.7v2.73h-2.7zM179.6 834.1h2.7v2.73h-2.7zM133.0 836.4h7.4v2.73h-7.4zM179.6 836.4h5.1v2.73h-5.1zM130.6 838.7h7.4v2.73h-7.4zM179.6 838.7h5.1v2.73h-5.1zM133.0 841.1h5.1v2.73h-5.1zM181.9 841.1h5.1v2.73h-5.1zM133.0 843.4h5.1v2.73h-5.1zM181.9 843.4h7.4v2.73h-7.4zM133.0 845.7h5.1v2.73h-5.1zM181.9 845.7h5.1v2.73h-5.1zM135.3 848.1h2.7v2.73h-2.7zM179.6 848.1h5.1v2.73h-5.1zM135.3 850.4h5.1v2.73h-5.1zM179.6 850.4h2.7v2.73h-2.7zM137.6 852.7h5.1v2.73h-5.1zM174.9 852.7h7.4v2.73h-7.4zM140.0 855.0h12.1v2.73h-12.1zM172.6 855.0h7.4v2.73h-7.4zM144.6 857.4h16.7v2.73h-16.7zM163.3 857.4h14.4v2.73h-14.4zM149.3 859.7h19.0v2.73h-19.0z"/>
<path fill="#f0e03a" d="M156.3 827.1h2.7v2.73h-2.7zM144.6 829.4h9.7v2.73h-9.7zM158.6 829.4h7.4v2.73h-7.4zM167.9 829.4h5.1v2.73h-5.1zM142.3 831.8h9.7v2.73h-9.7zM172.6 831.8h2.7v2.73h-2.7zM140.0 834.1h5.1v2.73h-5.1zM172.6 834.1h7.4v2.73h-7.4zM140.0 836.4h2.7v2.73h-2.7zM172.6 836.4h2.7v2.73h-2.7zM177.2 836.4h2.7v2.73h-2.7zM137.6 838.7h2.7v2.73h-2.7zM177.2 838.7h2.7v2.73h-2.7zM137.6 841.1h2.7v2.73h-2.7zM179.6 841.1h2.7v2.73h-2.7zM137.6 843.4h2.7v2.73h-2.7zM179.6 843.4h2.7v2.73h-2.7zM137.6 845.7h2.7v2.73h-2.7zM179.6 845.7h2.7v2.73h-2.7zM137.6 848.1h5.1v2.73h-5.1zM140.0 850.4h5.1v2.73h-5.1zM177.2 850.4h2.7v2.73h-2.7zM142.3 852.7h7.4v2.73h-7.4zM172.6 852.7h2.7v2.73h-2.7zM151.6 855.0h2.7v2.73h-2.7zM156.3 855.0h2.7v2.73h-2.7zM165.6 855.0h7.4v2.73h-7.4zM160.9 857.4h2.7v2.73h-2.7z"/>
<path fill="#f29a2a" d="M153.9 829.4h5.1v2.73h-5.1zM165.6 829.4h2.7v2.73h-2.7zM151.6 831.8h7.4v2.73h-7.4zM163.3 831.8h9.7v2.73h-9.7zM144.6 834.1h7.4v2.73h-7.4zM142.3 836.4h2.7v2.73h-2.7zM174.9 836.4h2.7v2.73h-2.7zM140.0 838.7h2.7v2.73h-2.7zM174.9 838.7h2.7v2.73h-2.7zM140.0 841.1h2.7v2.73h-2.7zM177.2 841.1h2.7v2.73h-2.7zM140.0 843.4h2.7v2.73h-2.7zM177.2 843.4h2.7v2.73h-2.7zM140.0 845.7h2.7v2.73h-2.7zM174.9 845.7h5.1v2.73h-5.1zM142.3 848.1h2.7v2.73h-2.7zM172.6 848.1h7.4v2.73h-7.4zM144.6 850.4h2.7v2.73h-2.7zM172.6 850.4h5.1v2.73h-5.1zM149.3 852.7h2.7v2.73h-2.7zM156.3 852.7h12.1v2.73h-12.1zM170.2 852.7h2.7v2.73h-2.7zM153.9 855.0h2.7v2.73h-2.7zM158.6 855.0h7.4v2.73h-7.4z"/>
<path fill="#e23a1e" d="M158.6 831.8h5.1v2.73h-5.1zM151.6 834.1h21.4v2.73h-21.4zM144.6 836.4h28.4v2.73h-28.4zM142.3 838.7h33.0v2.73h-33.0zM142.3 841.1h35.4v2.73h-35.4zM142.3 843.4h35.4v2.73h-35.4zM142.3 845.7h33.0v2.73h-33.0zM144.6 848.1h28.4v2.73h-28.4zM146.9 850.4h26.0v2.73h-26.0zM151.6 852.7h5.1v2.73h-5.1zM167.9 852.7h2.7v2.73h-2.7z"/></g>
<rect x="112" y="657" width="234" height="232.4" fill="none" stroke="#0b0b0b" stroke-width="2.2"/>
<line x1="241.5" y1="657" x2="241.5" y2="889" stroke="#0b0b0b" stroke-width="2.6"/>
<rect x="111.4" y="658.4" width="234.9" height="91.6" fill="none" stroke="#e2311f" stroke-width="2.8"/>
<text x="294.29" y="731.00" font-size="22.70" fill="#e2311f">3%</text>
<g><path fill="#4349b1" d="M466.0 655.0h5.1v2.73h-5.1zM473.0 655.0h7.4v2.73h-7.4zM486.9 655.0h5.1v2.73h-5.1zM498.6 655.0h7.4v2.73h-7.4zM512.6 655.0h5.1v2.73h-5.1zM519.6 655.0h5.1v2.73h-5.1zM528.9 655.0h5.1v2.73h-5.1zM535.9 655.0h5.1v2.73h-5.1zM596.5 655.0h5.1v2.73h-5.1zM466.0 657.3h5.1v2.73h-5.1zM473.0 657.3h7.4v2.73h-7.4zM484.6 657.3h7.4v2.73h-7.4zM493.9 657.3h16.7v2.73h-16.7zM512.6 657.3h28.4v2.73h-28.4zM552.2 657.3h5.1v2.73h-5.1zM563.8 657.3h5.1v2.73h-5.1zM596.5 657.3h5.1v2.73h-5.1zM617.4 657.3h5.1v2.73h-5.1zM445.0 659.7h5.1v2.73h-5.1zM463.6 659.7h26.0v2.73h-26.0zM493.9 659.7h26.0v2.73h-26.0zM521.9 659.7h21.4v2.73h-21.4zM552.2 659.7h7.4v2.73h-7.4zM563.8 659.7h5.1v2.73h-5.1zM596.5 659.7h5.1v2.73h-5.1zM612.8 659.7h9.7v2.73h-9.7zM631.4 659.7h5.1v2.73h-5.1zM445.0 662.0h5.1v2.73h-5.1zM452.0 662.0h5.1v2.73h-5.1zM463.6 662.0h5.1v2.73h-5.1zM470.6 662.0h21.4v2.73h-21.4zM493.9 662.0h5.1v2.73h-5.1zM503.2 662.0h26.0v2.73h-26.0zM533.5 662.0h9.7v2.73h-9.7zM554.5 662.0h5.1v2.73h-5.1zM612.8 662.0h5.1v2.73h-5.1zM631.4 662.0h5.1v2.73h-5.1zM664.0 662.0h5.1v2.73h-5.1zM452.0 664.3h5.1v2.73h-5.1zM461.3 664.3h37.7v2.73h-37.7zM503.2 664.3h26.0v2.73h-26.0zM533.5 664.3h9.7v2.73h-9.7zM545.2 664.3h5.1v2.73h-5.1zM608.1 664.3h5.1v2.73h-5.1zM664.0 664.3h5.1v2.73h-5.1zM449.7 666.6h5.1v2.73h-5.1zM461.3 666.6h19.0v2.73h-19.0zM489.3 666.6h5.1v2.73h-5.1zM498.6 666.6h9.7v2.73h-9.7zM514.9 666.6h14.4v2.73h-14.4zM531.2 666.6h12.1v2.73h-12.1zM545.2 666.6h5.1v2.73h-5.1zM568.5 666.6h5.1v2.73h-5.1zM608.1 666.6h5.1v2.73h-5.1zM626.7 666.6h5.1v2.73h-5.1zM445.0 669.0h9.7v2.73h-9.7zM456.6 669.0h21.4v2.73h-21.4zM519.6 669.0h21.4v2.73h-21.4zM542.9 669.0h5.1v2.73h-5.1zM568.5 669.0h5.1v2.73h-5.1zM584.8 669.0h5.1v2.73h-5.1zM617.4 669.0h5.1v2.73h-5.1zM626.7 669.0h5.1v2.73h-5.1zM636.1 669.0h5.1v2.73h-5.1zM445.0 671.3h5.1v2.73h-5.1zM452.0 671.3h23.7v2.73h-23.7zM521.9 671.3h26.0v2.73h-26.0zM549.9 671.3h5.1v2.73h-5.1zM561.5 671.3h5.1v2.73h-5.1zM580.1 671.3h9.7v2.73h-9.7zM596.5 671.3h5.1v2.73h-5.1zM617.4 671.3h5.1v2.73h-5.1zM636.1 671.3h5.1v2.73h-5.1zM449.7 673.6h12.1v2.73h-12.1zM463.6 673.6h12.1v2.73h-12.1zM521.9 673.6h2.7v2.73h-2.7zM526.5 673.6h28.4v2.73h-28.4zM561.5 673.6h7.4v2.73h-7.4zM575.5 673.6h9.7v2.73h-9.7zM596.5 673.6h5.1v2.73h-5.1zM617.4 673.6h5.1v2.73h-5.1zM626.7 673.6h5.1v2.73h-5.1zM652.4 673.6h5.1v2.73h-5.1zM445.0 676.0h28.4v2.73h-28.4zM526.5 676.0h5.1v2.73h-5.1zM533.5 676.0h21.4v2.73h-21.4zM556.8 676.0h12.1v2.73h-12.1zM575.5 676.0h5.1v2.73h-5.1zM582.5 676.0h5.1v2.73h-5.1zM598.8 676.0h7.4v2.73h-7.4zM608.1 676.0h14.4v2.73h-14.4zM626.7 676.0h5.1v2.73h-5.1zM636.1 676.0h12.1v2.73h-12.1zM652.4 676.0h5.1v2.73h-5.1zM445.0 678.3h5.1v2.73h-5.1zM454.3 678.3h12.1v2.73h-12.1zM470.6 678.3h2.7v2.73h-2.7zM528.9 678.3h23.7v2.73h-23.7zM556.8 678.3h7.4v2.73h-7.4zM580.1 678.3h7.4v2.73h-7.4zM598.8 678.3h7.4v2.73h-7.4zM608.1 678.3h16.7v2.73h-16.7zM629.1 678.3h19.0v2.73h-19.0zM447.3 680.6h26.0v2.73h-26.0zM531.2 680.6h16.7v2.73h-16.7zM554.5 680.6h5.1v2.73h-5.1zM580.1 680.6h5.1v2.73h-5.1zM601.1 680.6h14.4v2.73h-14.4zM619.8 680.6h5.1v2.73h-5.1zM629.1 680.6h7.4v2.73h-7.4zM661.7 680.6h7.4v2.73h-7.4zM445.0 683.0h7.4v2.73h-7.4zM456.6 683.0h16.7v2.73h-16.7zM524.2 683.0h2.7v2.73h-2.7zM531.2 683.0h16.7v2.73h-16.7zM549.9 683.0h9.7v2.73h-9.7zM580.1 683.0h5.1v2.73h-5.1zM587.1 683.0h5.1v2.73h-5.1zM598.8 683.0h28.4v2.73h-28.4zM629.1 683.0h7.4v2.73h-7.4zM638.4 683.0h9.7v2.73h-9.7zM650.0 683.0h5.1v2.73h-5.1zM661.7 683.0h7.4v2.73h-7.4zM445.0 685.3h9.7v2.73h-9.7zM456.6 685.3h2.7v2.73h-2.7zM468.3 685.3h2.7v2.73h-2.7zM524.2 685.3h16.7v2.73h-16.7zM549.9 685.3h5.1v2.73h-5.1zM575.5 685.3h5.1v2.73h-5.1zM582.5 685.3h9.7v2.73h-9.7zM598.8 685.3h7.4v2.73h-7.4zM610.4 685.3h44.7v2.73h-44.7zM661.7 685.3h7.4v2.73h-7.4zM671.0 685.3h5.1v2.73h-5.1zM447.3 687.6h14.4v2.73h-14.4zM468.3 687.6h2.7v2.73h-2.7zM526.5 687.6h23.7v2.73h-23.7zM556.8 687.6h9.7v2.73h-9.7zM575.5 687.6h19.0v2.73h-19.0zM598.8 687.6h56.3v2.73h-56.3zM661.7 687.6h5.1v2.73h-5.1zM671.0 687.6h5.1v2.73h-5.1zM452.0 690.0h19.0v2.73h-19.0zM531.2 690.0h19.0v2.73h-19.0zM556.8 690.0h9.7v2.73h-9.7zM575.5 690.0h19.0v2.73h-19.0zM603.4 690.0h37.7v2.73h-37.7zM643.0 690.0h12.1v2.73h-12.1zM659.4 690.0h5.1v2.73h-5.1zM445.0 692.3h5.1v2.73h-5.1zM452.0 692.3h12.1v2.73h-12.1zM466.0 692.3h5.1v2.73h-5.1zM524.2 692.3h5.1v2.73h-5.1zM533.5 692.3h2.7v2.73h-2.7zM538.2 692.3h14.4v2.73h-14.4zM556.8 692.3h5.1v2.73h-5.1zM575.5 692.3h5.1v2.73h-5.1zM584.8 692.3h5.1v2.73h-5.1zM594.1 692.3h47.0v2.73h-47.0zM643.0 692.3h12.1v2.73h-12.1zM659.4 692.3h5.1v2.73h-5.1zM445.0 694.6h26.0v2.73h-26.0zM524.2 694.6h28.4v2.73h-28.4zM556.8 694.6h16.7v2.73h-16.7zM575.5 694.6h5.1v2.73h-5.1zM584.8 694.6h7.4v2.73h-7.4zM594.1 694.6h37.7v2.73h-37.7zM633.7 694.6h23.7v2.73h-23.7zM664.0 694.6h7.4v2.73h-7.4zM447.3 696.9h21.4v2.73h-21.4zM524.2 696.9h33.0v2.73h-33.0zM559.2 696.9h19.0v2.73h-19.0zM584.8 696.9h26.0v2.73h-26.0zM615.1 696.9h2.7v2.73h-2.7zM622.1 696.9h35.4v2.73h-35.4zM664.0 696.9h7.4v2.73h-7.4zM447.3 699.3h21.4v2.73h-21.4zM475.3 699.3h5.1v2.73h-5.1zM514.9 699.3h2.7v2.73h-2.7zM519.6 699.3h30.7v2.73h-30.7zM552.2 699.3h5.1v2.73h-5.1zM559.2 699.3h9.7v2.73h-9.7zM573.1 699.3h26.0v2.73h-26.0zM605.8 699.3h21.4v2.73h-21.4zM629.1 699.3h19.0v2.73h-19.0zM650.0 699.3h5.1v2.73h-5.1zM657.0 699.3h12.1v2.73h-12.1zM445.0 701.6h26.0v2.73h-26.0zM475.3 701.6h2.7v2.73h-2.7zM512.6 701.6h2.7v2.73h-2.7zM519.6 701.6h12.1v2.73h-12.1zM533.5 701.6h21.4v2.73h-21.4zM563.8 701.6h5.1v2.73h-5.1zM577.8 701.6h14.4v2.73h-14.4zM596.5 701.6h2.7v2.73h-2.7zM608.1 701.6h5.1v2.73h-5.1zM615.1 701.6h9.7v2.73h-9.7zM626.7 701.6h40.0v2.73h-40.0zM445.0 703.9h7.4v2.73h-7.4zM456.6 703.9h14.4v2.73h-14.4zM475.3 703.9h2.7v2.73h-2.7zM517.2 703.9h2.7v2.73h-2.7zM524.2 703.9h21.4v2.73h-21.4zM549.9 703.9h9.7v2.73h-9.7zM563.8 703.9h5.1v2.73h-5.1zM575.5 703.9h5.1v2.73h-5.1zM584.8 703.9h7.4v2.73h-7.4zM594.1 703.9h5.1v2.73h-5.1zM601.1 703.9h5.1v2.73h-5.1zM608.1 703.9h5.1v2.73h-5.1zM619.8 703.9h2.7v2.73h-2.7zM626.7 703.9h35.4v2.73h-35.4zM445.0 706.3h7.4v2.73h-7.4zM456.6 706.3h14.4v2.73h-14.4zM473.0 706.3h5.1v2.73h-5.1zM482.3 706.3h5.1v2.73h-5.1zM496.3 706.3h2.7v2.73h-2.7zM512.6 706.3h2.7v2.73h-2.7zM521.9 706.3h26.0v2.73h-26.0zM554.5 706.3h5.1v2.73h-5.1zM561.5 706.3h44.7v2.73h-44.7zM608.1 706.3h5.1v2.73h-5.1zM626.7 706.3h2.7v2.73h-2.7zM633.7 706.3h28.4v2.73h-28.4zM445.0 708.6h7.4v2.73h-7.4zM456.6 708.6h12.1v2.73h-12.1zM473.0 708.6h7.4v2.73h-7.4zM482.3 708.6h14.4v2.73h-14.4zM500.9 708.6h2.7v2.73h-2.7zM510.2 708.6h7.4v2.73h-7.4zM519.6 708.6h28.4v2.73h-28.4zM561.5 708.6h40.0v2.73h-40.0zM603.4 708.6h9.7v2.73h-9.7zM624.4 708.6h2.7v2.73h-2.7zM633.7 708.6h5.1v2.73h-5.1zM640.7 708.6h14.4v2.73h-14.4zM657.0 708.6h7.4v2.73h-7.4zM668.7 708.6h5.1v2.73h-5.1zM445.0 710.9h26.0v2.73h-26.0zM473.0 710.9h7.4v2.73h-7.4zM484.6 710.9h9.7v2.73h-9.7zM500.9 710.9h5.1v2.73h-5.1zM507.9 710.9h12.1v2.73h-12.1zM521.9 710.9h26.0v2.73h-26.0zM561.5 710.9h21.4v2.73h-21.4zM584.8 710.9h7.4v2.73h-7.4zM596.5 710.9h5.1v2.73h-5.1zM605.8 710.9h2.7v2.73h-2.7zM610.4 710.9h2.7v2.73h-2.7zM622.1 710.9h7.4v2.73h-7.4zM631.4 710.9h7.4v2.73h-7.4zM640.7 710.9h14.4v2.73h-14.4zM657.0 710.9h9.7v2.73h-9.7zM668.7 710.9h5.1v2.73h-5.1zM445.0 713.2h35.4v2.73h-35.4zM484.6 713.2h9.7v2.73h-9.7zM498.6 713.2h54.0v2.73h-54.0zM556.8 713.2h16.7v2.73h-16.7zM577.8 713.2h14.4v2.73h-14.4zM596.5 713.2h12.1v2.73h-12.1zM610.4 713.2h2.7v2.73h-2.7zM617.4 713.2h16.7v2.73h-16.7zM636.1 713.2h19.0v2.73h-19.0zM659.4 713.2h7.4v2.73h-7.4zM447.3 715.6h33.0v2.73h-33.0zM482.3 715.6h2.7v2.73h-2.7zM486.9 715.6h7.4v2.73h-7.4zM498.6 715.6h47.0v2.73h-47.0zM547.5 715.6h7.4v2.73h-7.4zM556.8 715.6h9.7v2.73h-9.7zM577.8 715.6h56.3v2.73h-56.3zM636.1 715.6h19.0v2.73h-19.0zM447.3 717.9h5.1v2.73h-5.1zM456.6 717.9h40.0v2.73h-40.0zM498.6 717.9h28.4v2.73h-28.4zM531.2 717.9h9.7v2.73h-9.7zM549.9 717.9h5.1v2.73h-5.1zM561.5 717.9h5.1v2.73h-5.1zM573.1 717.9h5.1v2.73h-5.1zM587.1 717.9h56.3v2.73h-56.3zM647.7 717.9h12.1v2.73h-12.1zM452.0 720.2h12.1v2.73h-12.1zM468.3 720.2h9.7v2.73h-9.7zM482.3 720.2h49.3v2.73h-49.3zM535.9 720.2h5.1v2.73h-5.1zM549.9 720.2h5.1v2.73h-5.1zM573.1 720.2h9.7v2.73h-9.7zM591.8 720.2h61.0v2.73h-61.0zM654.7 720.2h5.1v2.73h-5.1zM452.0 722.6h28.4v2.73h-28.4zM484.6 722.6h5.1v2.73h-5.1zM491.6 722.6h40.0v2.73h-40.0zM535.9 722.6h5.1v2.73h-5.1zM545.2 722.6h9.7v2.73h-9.7zM577.8 722.6h5.1v2.73h-5.1zM584.8 722.6h5.1v2.73h-5.1zM591.8 722.6h21.4v2.73h-21.4zM615.1 722.6h37.7v2.73h-37.7zM459.0 724.9h21.4v2.73h-21.4zM484.6 724.9h9.7v2.73h-9.7zM498.6 724.9h33.0v2.73h-33.0zM533.5 724.9h7.4v2.73h-7.4zM545.2 724.9h5.1v2.73h-5.1zM554.5 724.9h5.1v2.73h-5.1zM584.8 724.9h5.1v2.73h-5.1zM591.8 724.9h7.4v2.73h-7.4zM601.1 724.9h9.7v2.73h-9.7zM612.8 724.9h26.0v2.73h-26.0zM645.4 724.9h5.1v2.73h-5.1zM449.7 727.2h5.1v2.73h-5.1zM459.0 727.2h7.4v2.73h-7.4zM473.0 727.2h21.4v2.73h-21.4zM498.6 727.2h21.4v2.73h-21.4zM533.5 727.2h5.1v2.73h-5.1zM542.9 727.2h9.7v2.73h-9.7zM554.5 727.2h5.1v2.73h-5.1zM577.8 727.2h5.1v2.73h-5.1zM584.8 727.2h5.1v2.73h-5.1zM591.8 727.2h7.4v2.73h-7.4zM601.1 727.2h9.7v2.73h-9.7zM612.8 727.2h19.0v2.73h-19.0zM633.7 727.2h5.1v2.73h-5.1zM654.7 727.2h5.1v2.73h-5.1zM449.7 729.6h14.4v2.73h-14.4zM468.3 729.6h12.1v2.73h-12.1zM482.3 729.6h9.7v2.73h-9.7zM493.9 729.6h26.0v2.73h-26.0zM521.9 729.6h5.1v2.73h-5.1zM531.2 729.6h7.4v2.73h-7.4zM542.9 729.6h12.1v2.73h-12.1zM577.8 729.6h5.1v2.73h-5.1zM591.8 729.6h7.4v2.73h-7.4zM601.1 729.6h16.7v2.73h-16.7zM619.8 729.6h5.1v2.73h-5.1zM629.1 729.6h5.1v2.73h-5.1zM643.0 729.6h5.1v2.73h-5.1zM654.7 729.6h5.1v2.73h-5.1zM668.7 729.6h5.1v2.73h-5.1zM454.3 731.9h9.7v2.73h-9.7zM468.3 731.9h12.1v2.73h-12.1zM484.6 731.9h35.4v2.73h-35.4zM521.9 731.9h5.1v2.73h-5.1zM531.2 731.9h16.7v2.73h-16.7zM549.9 731.9h5.1v2.73h-5.1zM570.8 731.9h5.1v2.73h-5.1zM580.1 731.9h5.1v2.73h-5.1zM591.8 731.9h5.1v2.73h-5.1zM603.4 731.9h5.1v2.73h-5.1zM610.4 731.9h7.4v2.73h-7.4zM619.8 731.9h5.1v2.73h-5.1zM626.7 731.9h7.4v2.73h-7.4zM643.0 731.9h5.1v2.73h-5.1zM668.7 731.9h5.1v2.73h-5.1zM475.3 734.2h28.4v2.73h-28.4zM505.6 734.2h16.7v2.73h-16.7zM526.5 734.2h5.1v2.73h-5.1zM538.2 734.2h5.1v2.73h-5.1zM547.5 734.2h7.4v2.73h-7.4zM563.8 734.2h5.1v2.73h-5.1zM570.8 734.2h5.1v2.73h-5.1zM580.1 734.2h9.7v2.73h-9.7zM591.8 734.2h5.1v2.73h-5.1zM598.8 734.2h5.1v2.73h-5.1zM617.4 734.2h5.1v2.73h-5.1zM626.7 734.2h5.1v2.73h-5.1zM466.0 736.5h7.4v2.73h-7.4zM477.6 736.5h35.4v2.73h-35.4zM514.9 736.5h7.4v2.73h-7.4zM526.5 736.5h5.1v2.73h-5.1zM538.2 736.5h5.1v2.73h-5.1zM547.5 736.5h5.1v2.73h-5.1zM563.8 736.5h5.1v2.73h-5.1zM570.8 736.5h5.1v2.73h-5.1zM584.8 736.5h5.1v2.73h-5.1zM591.8 736.5h5.1v2.73h-5.1zM598.8 736.5h5.1v2.73h-5.1zM610.4 736.5h21.4v2.73h-21.4zM466.0 738.9h7.4v2.73h-7.4zM475.3 738.9h5.1v2.73h-5.1zM482.3 738.9h30.7v2.73h-30.7zM514.9 738.9h16.7v2.73h-16.7zM535.9 738.9h9.7v2.73h-9.7zM570.8 738.9h5.1v2.73h-5.1zM605.8 738.9h12.1v2.73h-12.1zM622.1 738.9h9.7v2.73h-9.7zM638.4 738.9h5.1v2.73h-5.1zM466.0 741.2h7.4v2.73h-7.4zM475.3 741.2h5.1v2.73h-5.1zM482.3 741.2h63.3v2.73h-63.3zM577.8 741.2h5.1v2.73h-5.1zM605.8 741.2h5.1v2.73h-5.1zM622.1 741.2h5.1v2.73h-5.1zM638.4 741.2h5.1v2.73h-5.1zM466.0 743.5h72.6v2.73h-72.6zM540.5 743.5h5.1v2.73h-5.1zM577.8 743.5h5.1v2.73h-5.1zM622.1 743.5h5.1v2.73h-5.1zM666.4 743.5h5.1v2.73h-5.1zM452.0 745.9h5.1v2.73h-5.1zM459.0 745.9h23.7v2.73h-23.7zM486.9 745.9h40.0v2.73h-40.0zM531.2 745.9h5.1v2.73h-5.1zM540.5 745.9h5.1v2.73h-5.1zM666.4 745.9h5.1v2.73h-5.1zM452.0 748.2h5.1v2.73h-5.1zM459.0 748.2h37.7v2.73h-37.7zM498.6 748.2h47.0v2.73h-47.0zM575.5 748.2h5.1v2.73h-5.1zM463.6 750.5h14.4v2.73h-14.4zM479.9 750.5h65.6v2.73h-65.6zM568.5 750.5h5.1v2.73h-5.1zM575.5 750.5h5.1v2.73h-5.1zM619.8 750.5h5.1v2.73h-5.1zM456.6 752.9h5.1v2.73h-5.1zM468.3 752.9h30.7v2.73h-30.7zM500.9 752.9h42.3v2.73h-42.3zM545.2 752.9h5.1v2.73h-5.1zM552.2 752.9h5.1v2.73h-5.1zM566.2 752.9h7.4v2.73h-7.4zM619.8 752.9h5.1v2.73h-5.1zM447.3 755.2h5.1v2.73h-5.1zM456.6 755.2h5.1v2.73h-5.1zM466.0 755.2h5.1v2.73h-5.1zM473.0 755.2h44.7v2.73h-44.7zM519.6 755.2h23.7v2.73h-23.7zM545.2 755.2h5.1v2.73h-5.1zM552.2 755.2h5.1v2.73h-5.1zM566.2 755.2h5.1v2.73h-5.1zM447.3 757.5h5.1v2.73h-5.1zM461.3 757.5h9.7v2.73h-9.7zM473.0 757.5h44.7v2.73h-44.7zM521.9 757.5h16.7v2.73h-16.7zM547.5 757.5h5.1v2.73h-5.1zM568.5 757.5h5.1v2.73h-5.1zM461.3 759.9h12.1v2.73h-12.1zM475.3 759.9h21.4v2.73h-21.4zM498.6 759.9h21.4v2.73h-21.4zM521.9 759.9h12.1v2.73h-12.1zM535.9 759.9h5.1v2.73h-5.1zM545.2 759.9h12.1v2.73h-12.1zM563.8 759.9h9.7v2.73h-9.7zM584.8 759.9h5.1v2.73h-5.1zM449.7 762.2h5.1v2.73h-5.1zM456.6 762.2h9.7v2.73h-9.7zM468.3 762.2h33.0v2.73h-33.0zM503.2 762.2h5.1v2.73h-5.1zM510.2 762.2h5.1v2.73h-5.1zM521.9 762.2h5.1v2.73h-5.1zM533.5 762.2h16.7v2.73h-16.7zM552.2 762.2h5.1v2.73h-5.1zM563.8 762.2h5.1v2.73h-5.1zM584.8 762.2h5.1v2.73h-5.1zM449.7 764.5h5.1v2.73h-5.1zM456.6 764.5h44.7v2.73h-44.7zM503.2 764.5h5.1v2.73h-5.1zM512.6 764.5h2.7v2.73h-2.7zM521.9 764.5h2.7v2.73h-2.7zM526.5 764.5h12.1v2.73h-12.1zM540.5 764.5h9.7v2.73h-9.7zM459.0 766.8h30.7v2.73h-30.7zM491.6 766.8h19.0v2.73h-19.0zM512.6 766.8h5.1v2.73h-5.1zM524.2 766.8h12.1v2.73h-12.1zM542.9 766.8h7.4v2.73h-7.4zM452.0 769.2h5.1v2.73h-5.1zM468.3 769.2h21.4v2.73h-21.4zM493.9 769.2h19.0v2.73h-19.0zM528.9 769.2h9.7v2.73h-9.7zM540.5 769.2h9.7v2.73h-9.7zM449.7 771.5h12.1v2.73h-12.1zM463.6 771.5h9.7v2.73h-9.7zM475.3 771.5h16.7v2.73h-16.7zM493.9 771.5h12.1v2.73h-12.1zM507.9 771.5h9.7v2.73h-9.7zM519.6 771.5h5.1v2.73h-5.1zM531.2 771.5h19.0v2.73h-19.0zM449.7 773.8h5.1v2.73h-5.1zM456.6 773.8h16.7v2.73h-16.7zM475.3 773.8h7.4v2.73h-7.4zM484.6 773.8h7.4v2.73h-7.4zM496.3 773.8h14.4v2.73h-14.4zM512.6 773.8h5.1v2.73h-5.1zM521.9 773.8h5.1v2.73h-5.1zM531.2 773.8h9.7v2.73h-9.7zM542.9 773.8h7.4v2.73h-7.4zM456.6 776.2h23.7v2.73h-23.7zM482.3 776.2h12.1v2.73h-12.1zM496.3 776.2h14.4v2.73h-14.4zM519.6 776.2h21.4v2.73h-21.4zM542.9 776.2h5.1v2.73h-5.1zM459.0 778.5h19.0v2.73h-19.0zM479.9 778.5h19.0v2.73h-19.0zM505.6 778.5h5.1v2.73h-5.1zM528.9 778.5h19.0v2.73h-19.0zM559.2 778.5h5.1v2.73h-5.1zM459.0 780.8h7.4v2.73h-7.4zM468.3 780.8h9.7v2.73h-9.7zM482.3 780.8h14.4v2.73h-14.4zM514.9 780.8h2.7v2.73h-2.7zM531.2 780.8h5.1v2.73h-5.1zM538.2 780.8h9.7v2.73h-9.7zM559.2 780.8h5.1v2.73h-5.1zM577.8 780.8h5.1v2.73h-5.1zM615.1 780.8h5.1v2.73h-5.1zM452.0 783.1h5.1v2.73h-5.1zM461.3 783.1h30.7v2.73h-30.7zM493.9 783.1h2.7v2.73h-2.7zM514.9 783.1h5.1v2.73h-5.1zM531.2 783.1h12.1v2.73h-12.1zM559.2 783.1h5.1v2.73h-5.1zM577.8 783.1h5.1v2.73h-5.1zM615.1 783.1h5.1v2.73h-5.1zM452.0 785.5h37.7v2.73h-37.7zM528.9 785.5h7.4v2.73h-7.4zM540.5 785.5h7.4v2.73h-7.4zM559.2 785.5h5.1v2.73h-5.1zM456.6 787.8h30.7v2.73h-30.7zM526.5 787.8h21.4v2.73h-21.4zM459.0 790.1h23.7v2.73h-23.7zM484.6 790.1h2.7v2.73h-2.7zM526.5 790.1h23.7v2.73h-23.7zM447.3 792.5h5.1v2.73h-5.1zM459.0 792.5h16.7v2.73h-16.7zM477.6 792.5h2.7v2.73h-2.7zM526.5 792.5h16.7v2.73h-16.7zM545.2 792.5h5.1v2.73h-5.1zM626.7 792.5h5.1v2.73h-5.1zM640.7 792.5h5.1v2.73h-5.1zM447.3 794.8h5.1v2.73h-5.1zM459.0 794.8h16.7v2.73h-16.7zM521.9 794.8h21.4v2.73h-21.4zM545.2 794.8h12.1v2.73h-12.1zM626.7 794.8h5.1v2.73h-5.1zM640.7 794.8h5.1v2.73h-5.1zM445.0 797.1h9.7v2.73h-9.7zM456.6 797.1h19.0v2.73h-19.0zM479.9 797.1h2.7v2.73h-2.7zM521.9 797.1h23.7v2.73h-23.7zM549.9 797.1h7.4v2.73h-7.4zM615.1 797.1h5.1v2.73h-5.1zM645.4 797.1h5.1v2.73h-5.1zM445.0 799.5h35.4v2.73h-35.4zM528.9 799.5h9.7v2.73h-9.7zM540.5 799.5h5.1v2.73h-5.1zM554.5 799.5h9.7v2.73h-9.7zM615.1 799.5h5.1v2.73h-5.1zM645.4 799.5h5.1v2.73h-5.1zM445.0 801.8h14.4v2.73h-14.4zM461.3 801.8h7.4v2.73h-7.4zM470.6 801.8h7.4v2.73h-7.4zM526.5 801.8h19.0v2.73h-19.0zM554.5 801.8h9.7v2.73h-9.7zM566.2 801.8h5.1v2.73h-5.1zM445.0 804.1h12.1v2.73h-12.1zM459.0 804.1h5.1v2.73h-5.1zM468.3 804.1h7.4v2.73h-7.4zM526.5 804.1h28.4v2.73h-28.4zM556.8 804.1h5.1v2.73h-5.1zM566.2 804.1h5.1v2.73h-5.1zM445.0 806.5h16.7v2.73h-16.7zM528.9 806.5h26.0v2.73h-26.0zM559.2 806.5h5.1v2.73h-5.1zM577.8 806.5h5.1v2.73h-5.1zM445.0 808.8h16.7v2.73h-16.7zM526.5 808.8h14.4v2.73h-14.4zM547.5 808.8h5.1v2.73h-5.1zM559.2 808.8h5.1v2.73h-5.1zM577.8 808.8h5.1v2.73h-5.1zM445.0 811.1h21.4v2.73h-21.4zM528.9 811.1h14.4v2.73h-14.4zM547.5 811.1h5.1v2.73h-5.1zM561.5 811.1h7.4v2.73h-7.4zM596.5 811.1h5.1v2.73h-5.1zM603.4 811.1h5.1v2.73h-5.1zM445.0 813.4h9.7v2.73h-9.7zM456.6 813.4h9.7v2.73h-9.7zM531.2 813.4h14.4v2.73h-14.4zM547.5 813.4h9.7v2.73h-9.7zM559.2 813.4h9.7v2.73h-9.7zM596.5 813.4h5.1v2.73h-5.1zM603.4 813.4h5.1v2.73h-5.1zM617.4 813.4h5.1v2.73h-5.1zM673.3 813.4h5.1v2.73h-5.1zM445.0 815.8h14.4v2.73h-14.4zM533.5 815.8h33.0v2.73h-33.0zM617.4 815.8h5.1v2.73h-5.1zM673.3 815.8h5.1v2.73h-5.1zM447.3 818.1h12.1v2.73h-12.1zM535.9 818.1h14.4v2.73h-14.4zM554.5 818.1h9.7v2.73h-9.7zM582.5 818.1h5.1v2.73h-5.1zM445.0 820.4h7.4v2.73h-7.4zM538.2 820.4h14.4v2.73h-14.4zM554.5 820.4h9.7v2.73h-9.7zM582.5 820.4h5.1v2.73h-5.1zM598.8 820.4h5.1v2.73h-5.1zM622.1 820.4h5.1v2.73h-5.1zM445.0 822.8h7.4v2.73h-7.4zM538.2 822.8h14.4v2.73h-14.4zM556.8 822.8h9.7v2.73h-9.7zM598.8 822.8h5.1v2.73h-5.1zM622.1 822.8h5.1v2.73h-5.1zM445.0 825.1h5.1v2.73h-5.1zM538.2 825.1h19.0v2.73h-19.0zM561.5 825.1h7.4v2.73h-7.4zM671.0 825.1h5.1v2.73h-5.1zM445.0 827.4h2.7v2.73h-2.7zM540.5 827.4h21.4v2.73h-21.4zM563.8 827.4h5.1v2.73h-5.1zM575.5 827.4h5.1v2.73h-5.1zM671.0 827.4h5.1v2.73h-5.1zM445.0 829.8h2.7v2.73h-2.7zM540.5 829.8h2.7v2.73h-2.7zM545.2 829.8h9.7v2.73h-9.7zM556.8 829.8h5.1v2.73h-5.1zM563.8 829.8h7.4v2.73h-7.4zM573.1 829.8h7.4v2.73h-7.4zM445.0 832.1h2.7v2.73h-2.7zM540.5 832.1h21.4v2.73h-21.4zM563.8 832.1h7.4v2.73h-7.4zM573.1 832.1h5.1v2.73h-5.1zM580.1 832.1h5.1v2.73h-5.1zM445.0 834.4h2.7v2.73h-2.7zM545.2 834.4h16.7v2.73h-16.7zM580.1 834.4h5.1v2.73h-5.1zM545.2 836.7h16.7v2.73h-16.7zM573.1 836.7h5.1v2.73h-5.1zM596.5 836.7h5.1v2.73h-5.1zM624.4 836.7h5.1v2.73h-5.1zM671.0 836.7h5.1v2.73h-5.1zM445.0 839.1h2.7v2.73h-2.7zM542.9 839.1h9.7v2.73h-9.7zM556.8 839.1h5.1v2.73h-5.1zM573.1 839.1h5.1v2.73h-5.1zM582.5 839.1h7.4v2.73h-7.4zM596.5 839.1h5.1v2.73h-5.1zM624.4 839.1h5.1v2.73h-5.1zM645.4 839.1h5.1v2.73h-5.1zM671.0 839.1h5.1v2.73h-5.1zM445.0 841.4h2.7v2.73h-2.7zM542.9 841.4h9.7v2.73h-9.7zM566.2 841.4h5.1v2.73h-5.1zM582.5 841.4h7.4v2.73h-7.4zM591.8 841.4h9.7v2.73h-9.7zM624.4 841.4h5.1v2.73h-5.1zM645.4 841.4h5.1v2.73h-5.1zM542.9 843.7h14.4v2.73h-14.4zM566.2 843.7h5.1v2.73h-5.1zM591.8 843.7h5.1v2.73h-5.1zM624.4 843.7h9.7v2.73h-9.7zM636.1 843.7h5.1v2.73h-5.1zM652.4 843.7h5.1v2.73h-5.1zM445.0 846.1h2.7v2.73h-2.7zM542.9 846.1h2.7v2.73h-2.7zM547.5 846.1h16.7v2.73h-16.7zM580.1 846.1h5.1v2.73h-5.1zM622.1 846.1h5.1v2.73h-5.1zM629.1 846.1h5.1v2.73h-5.1zM636.1 846.1h5.1v2.73h-5.1zM652.4 846.1h5.1v2.73h-5.1zM540.5 848.4h23.7v2.73h-23.7zM580.1 848.4h7.4v2.73h-7.4zM622.1 848.4h5.1v2.73h-5.1zM629.1 848.4h5.1v2.73h-5.1zM535.9 850.7h19.0v2.73h-19.0zM556.8 850.7h7.4v2.73h-7.4zM570.8 850.7h5.1v2.73h-5.1zM582.5 850.7h5.1v2.73h-5.1zM591.8 850.7h5.1v2.73h-5.1zM605.8 850.7h5.1v2.73h-5.1zM615.1 850.7h7.4v2.73h-7.4zM629.1 850.7h7.4v2.73h-7.4zM535.9 853.0h30.7v2.73h-30.7zM570.8 853.0h5.1v2.73h-5.1zM591.8 853.0h5.1v2.73h-5.1zM605.8 853.0h5.1v2.73h-5.1zM615.1 853.0h7.4v2.73h-7.4zM631.4 853.0h5.1v2.73h-5.1zM449.7 855.4h2.7v2.73h-2.7zM535.9 855.4h5.1v2.73h-5.1zM542.9 855.4h23.7v2.73h-23.7zM577.8 855.4h5.1v2.73h-5.1zM617.4 855.4h5.1v2.73h-5.1zM671.0 855.4h5.1v2.73h-5.1zM445.0 857.7h2.7v2.73h-2.7zM535.9 857.7h26.0v2.73h-26.0zM577.8 857.7h5.1v2.73h-5.1zM605.8 857.7h5.1v2.73h-5.1zM622.1 857.7h5.1v2.73h-5.1zM652.4 857.7h5.1v2.73h-5.1zM671.0 857.7h5.1v2.73h-5.1zM445.0 860.0h5.1v2.73h-5.1zM540.5 860.0h19.0v2.73h-19.0zM605.8 860.0h5.1v2.73h-5.1zM622.1 860.0h5.1v2.73h-5.1zM629.1 860.0h5.1v2.73h-5.1zM652.4 860.0h5.1v2.73h-5.1zM445.0 862.4h5.1v2.73h-5.1zM540.5 862.4h23.7v2.73h-23.7zM568.5 862.4h5.1v2.73h-5.1zM605.8 862.4h5.1v2.73h-5.1zM629.1 862.4h5.1v2.73h-5.1zM647.7 862.4h5.1v2.73h-5.1zM673.3 862.4h5.1v2.73h-5.1zM445.0 864.7h2.7v2.73h-2.7zM449.7 864.7h7.4v2.73h-7.4zM538.2 864.7h14.4v2.73h-14.4zM559.2 864.7h5.1v2.73h-5.1zM568.5 864.7h5.1v2.73h-5.1zM605.8 864.7h5.1v2.73h-5.1zM647.7 864.7h5.1v2.73h-5.1zM671.0 864.7h7.4v2.73h-7.4zM445.0 867.0h2.7v2.73h-2.7zM521.9 867.0h2.7v2.73h-2.7zM533.5 867.0h14.4v2.73h-14.4zM559.2 867.0h5.1v2.73h-5.1zM587.1 867.0h5.1v2.73h-5.1zM603.4 867.0h7.4v2.73h-7.4zM640.7 867.0h5.1v2.73h-5.1zM671.0 867.0h5.1v2.73h-5.1zM445.0 869.4h2.7v2.73h-2.7zM521.9 869.4h2.7v2.73h-2.7zM538.2 869.4h7.4v2.73h-7.4zM587.1 869.4h5.1v2.73h-5.1zM603.4 869.4h7.4v2.73h-7.4zM612.8 869.4h5.1v2.73h-5.1zM640.7 869.4h9.7v2.73h-9.7zM671.0 869.4h5.1v2.73h-5.1zM445.0 871.7h5.1v2.73h-5.1zM535.9 871.7h14.4v2.73h-14.4zM612.8 871.7h5.1v2.73h-5.1zM645.4 871.7h5.1v2.73h-5.1zM671.0 871.7h5.1v2.73h-5.1zM445.0 874.0h5.1v2.73h-5.1zM514.9 874.0h2.7v2.73h-2.7zM524.2 874.0h7.4v2.73h-7.4zM535.9 874.0h14.4v2.73h-14.4zM612.8 874.0h5.1v2.73h-5.1zM445.0 876.4h9.7v2.73h-9.7zM459.0 876.4h2.7v2.73h-2.7zM514.9 876.4h2.7v2.73h-2.7zM526.5 876.4h21.4v2.73h-21.4zM561.5 876.4h5.1v2.73h-5.1zM570.8 876.4h5.1v2.73h-5.1zM612.8 876.4h5.1v2.73h-5.1zM673.3 876.4h5.1v2.73h-5.1zM445.0 878.7h16.7v2.73h-16.7zM514.9 878.7h5.1v2.73h-5.1zM526.5 878.7h14.4v2.73h-14.4zM542.9 878.7h5.1v2.73h-5.1zM559.2 878.7h7.4v2.73h-7.4zM570.8 878.7h5.1v2.73h-5.1zM673.3 878.7h5.1v2.73h-5.1zM445.0 881.0h14.4v2.73h-14.4zM512.6 881.0h5.1v2.73h-5.1zM524.2 881.0h16.7v2.73h-16.7zM559.2 881.0h5.1v2.73h-5.1zM591.8 881.0h5.1v2.73h-5.1zM447.3 883.3h23.7v2.73h-23.7zM503.2 883.3h5.1v2.73h-5.1zM512.6 883.3h26.0v2.73h-26.0zM591.8 883.3h5.1v2.73h-5.1zM447.3 885.7h28.4v2.73h-28.4zM479.9 885.7h9.7v2.73h-9.7zM491.6 885.7h2.7v2.73h-2.7zM498.6 885.7h21.4v2.73h-21.4zM521.9 885.7h16.7v2.73h-16.7z"/>
<path fill="#4f66be" d="M498.6 662.0h5.1v2.73h-5.1zM498.6 664.3h5.1v2.73h-5.1zM479.9 666.6h9.7v2.73h-9.7zM493.9 666.6h5.1v2.73h-5.1zM507.9 666.6h7.4v2.73h-7.4zM477.6 669.0h2.7v2.73h-2.7zM482.3 669.0h12.1v2.73h-12.1zM496.3 669.0h14.4v2.73h-14.4zM512.6 669.0h7.4v2.73h-7.4zM475.3 671.3h5.1v2.73h-5.1zM486.9 671.3h7.4v2.73h-7.4zM505.6 671.3h16.7v2.73h-16.7zM461.3 673.6h2.7v2.73h-2.7zM475.3 673.6h2.7v2.73h-2.7zM507.9 673.6h14.4v2.73h-14.4zM524.2 673.6h2.7v2.73h-2.7zM473.0 676.0h2.7v2.73h-2.7zM517.2 676.0h9.7v2.73h-9.7zM531.2 676.0h2.7v2.73h-2.7zM466.0 678.3h5.1v2.73h-5.1zM473.0 678.3h2.7v2.73h-2.7zM519.6 678.3h9.7v2.73h-9.7zM473.0 680.6h2.7v2.73h-2.7zM519.6 680.6h12.1v2.73h-12.1zM452.0 683.0h5.1v2.73h-5.1zM473.0 683.0h2.7v2.73h-2.7zM521.9 683.0h2.7v2.73h-2.7zM526.5 683.0h5.1v2.73h-5.1zM454.3 685.3h2.7v2.73h-2.7zM459.0 685.3h9.7v2.73h-9.7zM470.6 685.3h5.1v2.73h-5.1zM461.3 687.6h7.4v2.73h-7.4zM470.6 687.6h5.1v2.73h-5.1zM521.9 687.6h5.1v2.73h-5.1zM470.6 690.0h7.4v2.73h-7.4zM521.9 690.0h9.7v2.73h-9.7zM463.6 692.3h2.7v2.73h-2.7zM470.6 692.3h7.4v2.73h-7.4zM505.6 692.3h5.1v2.73h-5.1zM514.9 692.3h2.7v2.73h-2.7zM521.9 692.3h2.7v2.73h-2.7zM528.9 692.3h5.1v2.73h-5.1zM470.6 694.6h5.1v2.73h-5.1zM477.6 694.6h5.1v2.73h-5.1zM514.9 694.6h2.7v2.73h-2.7zM521.9 694.6h2.7v2.73h-2.7zM631.4 694.6h2.7v2.73h-2.7zM468.3 696.9h14.4v2.73h-14.4zM486.9 696.9h5.1v2.73h-5.1zM498.6 696.9h2.7v2.73h-2.7zM514.9 696.9h9.7v2.73h-9.7zM610.4 696.9h5.1v2.73h-5.1zM617.4 696.9h5.1v2.73h-5.1zM468.3 699.3h7.4v2.73h-7.4zM479.9 699.3h2.7v2.73h-2.7zM486.9 699.3h5.1v2.73h-5.1zM498.6 699.3h16.7v2.73h-16.7zM517.2 699.3h2.7v2.73h-2.7zM598.8 699.3h7.4v2.73h-7.4zM626.7 699.3h2.7v2.73h-2.7zM470.6 701.6h5.1v2.73h-5.1zM477.6 701.6h5.1v2.73h-5.1zM484.6 701.6h28.4v2.73h-28.4zM514.9 701.6h5.1v2.73h-5.1zM531.2 701.6h2.7v2.73h-2.7zM598.8 701.6h9.7v2.73h-9.7zM612.8 701.6h2.7v2.73h-2.7zM624.4 701.6h2.7v2.73h-2.7zM470.6 703.9h5.1v2.73h-5.1zM477.6 703.9h16.7v2.73h-16.7zM496.3 703.9h21.4v2.73h-21.4zM519.6 703.9h5.1v2.73h-5.1zM598.8 703.9h2.7v2.73h-2.7zM605.8 703.9h2.7v2.73h-2.7zM612.8 703.9h7.4v2.73h-7.4zM622.1 703.9h5.1v2.73h-5.1zM470.6 706.3h2.7v2.73h-2.7zM477.6 706.3h5.1v2.73h-5.1zM486.9 706.3h9.7v2.73h-9.7zM498.6 706.3h14.4v2.73h-14.4zM514.9 706.3h7.4v2.73h-7.4zM605.8 706.3h2.7v2.73h-2.7zM612.8 706.3h14.4v2.73h-14.4zM629.1 706.3h5.1v2.73h-5.1zM468.3 708.6h5.1v2.73h-5.1zM479.9 708.6h2.7v2.73h-2.7zM496.3 708.6h5.1v2.73h-5.1zM503.2 708.6h7.4v2.73h-7.4zM517.2 708.6h2.7v2.73h-2.7zM601.1 708.6h2.7v2.73h-2.7zM612.8 708.6h12.1v2.73h-12.1zM626.7 708.6h7.4v2.73h-7.4zM638.4 708.6h2.7v2.73h-2.7zM470.6 710.9h2.7v2.73h-2.7zM479.9 710.9h5.1v2.73h-5.1zM493.9 710.9h7.4v2.73h-7.4zM505.6 710.9h2.7v2.73h-2.7zM519.6 710.9h2.7v2.73h-2.7zM601.1 710.9h5.1v2.73h-5.1zM608.1 710.9h2.7v2.73h-2.7zM612.8 710.9h9.7v2.73h-9.7zM629.1 710.9h2.7v2.73h-2.7zM638.4 710.9h2.7v2.73h-2.7zM479.9 713.2h5.1v2.73h-5.1zM493.9 713.2h5.1v2.73h-5.1zM608.1 713.2h2.7v2.73h-2.7zM612.8 713.2h5.1v2.73h-5.1zM633.7 713.2h2.7v2.73h-2.7zM479.9 715.6h2.7v2.73h-2.7zM484.6 715.6h2.7v2.73h-2.7zM493.9 715.6h5.1v2.73h-5.1zM633.7 715.6h2.7v2.73h-2.7zM496.3 717.9h2.7v2.73h-2.7zM477.6 720.2h5.1v2.73h-5.1zM479.9 722.6h5.1v2.73h-5.1zM479.9 724.9h5.1v2.73h-5.1zM493.9 724.9h5.1v2.73h-5.1zM493.9 727.2h5.1v2.73h-5.1zM496.3 748.2h2.7v2.73h-2.7zM517.2 755.2h2.7v2.73h-2.7zM517.2 757.5h5.1v2.73h-5.1zM519.6 759.9h2.7v2.73h-2.7zM533.5 759.9h2.7v2.73h-2.7zM500.9 762.2h2.7v2.73h-2.7zM507.9 762.2h2.7v2.73h-2.7zM514.9 762.2h7.4v2.73h-7.4zM526.5 762.2h7.4v2.73h-7.4zM500.9 764.5h2.7v2.73h-2.7zM507.9 764.5h5.1v2.73h-5.1zM514.9 764.5h7.4v2.73h-7.4zM524.2 764.5h2.7v2.73h-2.7zM489.3 766.8h2.7v2.73h-2.7zM510.2 766.8h2.7v2.73h-2.7zM517.2 766.8h7.4v2.73h-7.4zM489.3 769.2h5.1v2.73h-5.1zM512.6 769.2h16.7v2.73h-16.7zM491.6 771.5h2.7v2.73h-2.7zM517.2 771.5h2.7v2.73h-2.7zM524.2 771.5h7.4v2.73h-7.4zM491.6 773.8h5.1v2.73h-5.1zM510.2 773.8h2.7v2.73h-2.7zM517.2 773.8h5.1v2.73h-5.1zM526.5 773.8h5.1v2.73h-5.1zM493.9 776.2h2.7v2.73h-2.7zM510.2 776.2h9.7v2.73h-9.7zM477.6 778.5h2.7v2.73h-2.7zM498.6 778.5h7.4v2.73h-7.4zM510.2 778.5h19.0v2.73h-19.0zM477.6 780.8h5.1v2.73h-5.1zM496.3 780.8h19.0v2.73h-19.0zM517.2 780.8h14.4v2.73h-14.4zM535.9 780.8h2.7v2.73h-2.7zM491.6 783.1h2.7v2.73h-2.7zM496.3 783.1h9.7v2.73h-9.7zM510.2 783.1h5.1v2.73h-5.1zM519.6 783.1h12.1v2.73h-12.1zM489.3 785.5h19.0v2.73h-19.0zM510.2 785.5h19.0v2.73h-19.0zM486.9 787.8h16.7v2.73h-16.7zM512.6 787.8h14.4v2.73h-14.4zM486.9 790.1h16.7v2.73h-16.7zM505.6 790.1h7.4v2.73h-7.4zM517.2 790.1h9.7v2.73h-9.7zM475.3 792.5h2.7v2.73h-2.7zM479.9 792.5h14.4v2.73h-14.4zM507.9 792.5h2.7v2.73h-2.7zM519.6 792.5h7.4v2.73h-7.4zM475.3 794.8h23.7v2.73h-23.7zM519.6 794.8h2.7v2.73h-2.7zM475.3 797.1h5.1v2.73h-5.1zM482.3 797.1h5.1v2.73h-5.1zM496.3 797.1h2.7v2.73h-2.7zM519.6 797.1h2.7v2.73h-2.7zM479.9 799.5h7.4v2.73h-7.4zM521.9 799.5h7.4v2.73h-7.4zM468.3 801.8h2.7v2.73h-2.7zM477.6 801.8h12.1v2.73h-12.1zM503.2 801.8h2.7v2.73h-2.7zM521.9 801.8h5.1v2.73h-5.1zM463.6 804.1h5.1v2.73h-5.1zM475.3 804.1h7.4v2.73h-7.4zM521.9 804.1h5.1v2.73h-5.1zM461.3 806.5h19.0v2.73h-19.0zM521.9 806.5h7.4v2.73h-7.4zM461.3 808.8h7.4v2.73h-7.4zM470.6 808.8h5.1v2.73h-5.1zM521.9 808.8h5.1v2.73h-5.1zM466.0 811.1h2.7v2.73h-2.7zM470.6 811.1h5.1v2.73h-5.1zM521.9 811.1h7.4v2.73h-7.4zM454.3 813.4h2.7v2.73h-2.7zM466.0 813.4h2.7v2.73h-2.7zM470.6 813.4h5.1v2.73h-5.1zM526.5 813.4h5.1v2.73h-5.1zM459.0 815.8h9.7v2.73h-9.7zM526.5 815.8h7.4v2.73h-7.4zM459.0 818.1h2.7v2.73h-2.7zM531.2 818.1h5.1v2.73h-5.1zM452.0 820.4h5.1v2.73h-5.1zM531.2 820.4h7.4v2.73h-7.4zM452.0 822.8h2.7v2.73h-2.7zM531.2 822.8h7.4v2.73h-7.4zM449.7 825.1h2.7v2.73h-2.7zM533.5 825.1h5.1v2.73h-5.1zM447.3 827.4h7.4v2.73h-7.4zM533.5 827.4h7.4v2.73h-7.4zM447.3 829.8h2.7v2.73h-2.7zM535.9 829.8h5.1v2.73h-5.1zM542.9 829.8h2.7v2.73h-2.7zM447.3 832.1h2.7v2.73h-2.7zM535.9 832.1h5.1v2.73h-5.1zM447.3 834.4h2.7v2.73h-2.7zM540.5 834.4h5.1v2.73h-5.1zM445.0 836.7h5.1v2.73h-5.1zM540.5 836.7h5.1v2.73h-5.1zM538.2 839.1h5.1v2.73h-5.1zM447.3 841.4h2.7v2.73h-2.7zM538.2 841.4h5.1v2.73h-5.1zM445.0 843.7h5.1v2.73h-5.1zM535.9 843.7h7.4v2.73h-7.4zM447.3 846.1h2.7v2.73h-2.7zM538.2 846.1h5.1v2.73h-5.1zM545.2 846.1h2.7v2.73h-2.7zM445.0 848.4h5.1v2.73h-5.1zM538.2 848.4h2.7v2.73h-2.7zM445.0 850.7h2.7v2.73h-2.7zM533.5 850.7h2.7v2.73h-2.7zM445.0 853.0h9.7v2.73h-9.7zM533.5 853.0h2.7v2.73h-2.7zM445.0 855.4h5.1v2.73h-5.1zM452.0 855.4h2.7v2.73h-2.7zM533.5 855.4h2.7v2.73h-2.7zM540.5 855.4h2.7v2.73h-2.7zM447.3 857.7h7.4v2.73h-7.4zM449.7 860.0h2.7v2.73h-2.7zM454.3 860.0h2.7v2.73h-2.7zM533.5 860.0h7.4v2.73h-7.4zM449.7 862.4h9.7v2.73h-9.7zM531.2 862.4h9.7v2.73h-9.7zM447.3 864.7h2.7v2.73h-2.7zM456.6 864.7h2.7v2.73h-2.7zM528.9 864.7h9.7v2.73h-9.7zM447.3 867.0h16.7v2.73h-16.7zM519.6 867.0h2.7v2.73h-2.7zM524.2 867.0h9.7v2.73h-9.7zM447.3 869.4h12.1v2.73h-12.1zM514.9 869.4h7.4v2.73h-7.4zM524.2 869.4h2.7v2.73h-2.7zM528.9 869.4h9.7v2.73h-9.7zM449.7 871.7h7.4v2.73h-7.4zM470.6 871.7h2.7v2.73h-2.7zM514.9 871.7h21.4v2.73h-21.4zM449.7 874.0h12.1v2.73h-12.1zM470.6 874.0h2.7v2.73h-2.7zM512.6 874.0h2.7v2.73h-2.7zM517.2 874.0h7.4v2.73h-7.4zM531.2 874.0h5.1v2.73h-5.1zM454.3 876.4h5.1v2.73h-5.1zM461.3 876.4h9.7v2.73h-9.7zM475.3 876.4h2.7v2.73h-2.7zM507.9 876.4h2.7v2.73h-2.7zM512.6 876.4h2.7v2.73h-2.7zM517.2 876.4h9.7v2.73h-9.7zM461.3 878.7h16.7v2.73h-16.7zM493.9 878.7h2.7v2.73h-2.7zM498.6 878.7h2.7v2.73h-2.7zM507.9 878.7h7.4v2.73h-7.4zM519.6 878.7h7.4v2.73h-7.4zM459.0 881.0h19.0v2.73h-19.0zM489.3 881.0h7.4v2.73h-7.4zM498.6 881.0h14.4v2.73h-14.4zM517.2 881.0h7.4v2.73h-7.4zM470.6 883.3h7.4v2.73h-7.4zM479.9 883.3h2.7v2.73h-2.7zM484.6 883.3h12.1v2.73h-12.1zM498.6 883.3h5.1v2.73h-5.1zM507.9 883.3h5.1v2.73h-5.1zM475.3 885.7h5.1v2.73h-5.1zM489.3 885.7h2.7v2.73h-2.7zM493.9 885.7h5.1v2.73h-5.1z"/>
<path fill="#5f8fd0" d="M479.9 669.0h2.7v2.73h-2.7zM493.9 669.0h2.7v2.73h-2.7zM510.2 669.0h2.7v2.73h-2.7zM479.9 671.3h7.4v2.73h-7.4zM493.9 671.3h12.1v2.73h-12.1zM477.6 673.6h5.1v2.73h-5.1zM484.6 673.6h12.1v2.73h-12.1zM505.6 673.6h2.7v2.73h-2.7zM475.3 676.0h7.4v2.73h-7.4zM510.2 676.0h7.4v2.73h-7.4zM475.3 678.3h5.1v2.73h-5.1zM482.3 678.3h2.7v2.73h-2.7zM517.2 678.3h2.7v2.73h-2.7zM475.3 680.6h9.7v2.73h-9.7zM512.6 680.6h2.7v2.73h-2.7zM517.2 680.6h2.7v2.73h-2.7zM475.3 683.0h7.4v2.73h-7.4zM512.6 683.0h9.7v2.73h-9.7zM475.3 685.3h2.7v2.73h-2.7zM514.9 685.3h5.1v2.73h-5.1zM521.9 685.3h2.7v2.73h-2.7zM475.3 687.6h7.4v2.73h-7.4zM517.2 687.6h2.7v2.73h-2.7zM477.6 690.0h5.1v2.73h-5.1zM505.6 690.0h5.1v2.73h-5.1zM512.6 690.0h9.7v2.73h-9.7zM477.6 692.3h7.4v2.73h-7.4zM512.6 692.3h2.7v2.73h-2.7zM517.2 692.3h5.1v2.73h-5.1zM475.3 694.6h2.7v2.73h-2.7zM482.3 694.6h2.7v2.73h-2.7zM486.9 694.6h2.7v2.73h-2.7zM498.6 694.6h2.7v2.73h-2.7zM503.2 694.6h12.1v2.73h-12.1zM517.2 694.6h5.1v2.73h-5.1zM482.3 696.9h5.1v2.73h-5.1zM496.3 696.9h2.7v2.73h-2.7zM500.9 696.9h14.4v2.73h-14.4zM482.3 699.3h5.1v2.73h-5.1zM491.6 699.3h7.4v2.73h-7.4zM482.3 701.6h2.7v2.73h-2.7zM493.9 703.9h2.7v2.73h-2.7zM505.6 783.1h5.1v2.73h-5.1zM507.9 785.5h2.7v2.73h-2.7zM503.2 787.8h9.7v2.73h-9.7zM503.2 790.1h2.7v2.73h-2.7zM512.6 790.1h5.1v2.73h-5.1zM493.9 792.5h14.4v2.73h-14.4zM510.2 792.5h9.7v2.73h-9.7zM498.6 794.8h21.4v2.73h-21.4zM486.9 797.1h9.7v2.73h-9.7zM498.6 797.1h7.4v2.73h-7.4zM507.9 797.1h12.1v2.73h-12.1zM486.9 799.5h19.0v2.73h-19.0zM510.2 799.5h12.1v2.73h-12.1zM489.3 801.8h7.4v2.73h-7.4zM498.6 801.8h5.1v2.73h-5.1zM505.6 801.8h2.7v2.73h-2.7zM512.6 801.8h9.7v2.73h-9.7zM482.3 804.1h14.4v2.73h-14.4zM500.9 804.1h16.7v2.73h-16.7zM519.6 804.1h2.7v2.73h-2.7zM479.9 806.5h16.7v2.73h-16.7zM503.2 806.5h2.7v2.73h-2.7zM510.2 806.5h7.4v2.73h-7.4zM519.6 806.5h2.7v2.73h-2.7zM468.3 808.8h2.7v2.73h-2.7zM475.3 808.8h7.4v2.73h-7.4zM484.6 808.8h2.7v2.73h-2.7zM493.9 808.8h2.7v2.73h-2.7zM503.2 808.8h2.7v2.73h-2.7zM519.6 808.8h2.7v2.73h-2.7zM468.3 811.1h2.7v2.73h-2.7zM475.3 811.1h2.7v2.73h-2.7zM519.6 811.1h2.7v2.73h-2.7zM468.3 813.4h2.7v2.73h-2.7zM475.3 813.4h2.7v2.73h-2.7zM519.6 813.4h7.4v2.73h-7.4zM468.3 815.8h7.4v2.73h-7.4zM524.2 815.8h2.7v2.73h-2.7zM461.3 818.1h7.4v2.73h-7.4zM526.5 818.1h5.1v2.73h-5.1zM456.6 820.4h5.1v2.73h-5.1zM526.5 820.4h5.1v2.73h-5.1zM454.3 822.8h5.1v2.73h-5.1zM526.5 822.8h5.1v2.73h-5.1zM452.0 825.1h7.4v2.73h-7.4zM531.2 825.1h2.7v2.73h-2.7zM454.3 827.4h2.7v2.73h-2.7zM531.2 827.4h2.7v2.73h-2.7zM449.7 829.8h7.4v2.73h-7.4zM531.2 829.8h5.1v2.73h-5.1zM449.7 832.1h5.1v2.73h-5.1zM533.5 832.1h2.7v2.73h-2.7zM449.7 834.4h2.7v2.73h-2.7zM533.5 834.4h7.4v2.73h-7.4zM449.7 836.7h2.7v2.73h-2.7zM533.5 836.7h7.4v2.73h-7.4zM447.3 839.1h2.7v2.73h-2.7zM535.9 839.1h2.7v2.73h-2.7zM449.7 841.4h2.7v2.73h-2.7zM535.9 841.4h2.7v2.73h-2.7zM449.7 843.7h2.7v2.73h-2.7zM449.7 846.1h2.7v2.73h-2.7zM535.9 846.1h2.7v2.73h-2.7zM531.2 848.4h7.4v2.73h-7.4zM447.3 850.7h5.1v2.73h-5.1zM531.2 850.7h2.7v2.73h-2.7zM454.3 853.0h2.7v2.73h-2.7zM531.2 853.0h2.7v2.73h-2.7zM454.3 855.4h2.7v2.73h-2.7zM528.9 855.4h5.1v2.73h-5.1zM454.3 857.7h2.7v2.73h-2.7zM526.5 857.7h9.7v2.73h-9.7zM452.0 860.0h2.7v2.73h-2.7zM456.6 860.0h2.7v2.73h-2.7zM524.2 860.0h9.7v2.73h-9.7zM524.2 862.4h7.4v2.73h-7.4zM459.0 864.7h7.4v2.73h-7.4zM519.6 864.7h9.7v2.73h-9.7zM463.6 867.0h5.1v2.73h-5.1zM512.6 867.0h7.4v2.73h-7.4zM459.0 869.4h7.4v2.73h-7.4zM512.6 869.4h2.7v2.73h-2.7zM526.5 869.4h2.7v2.73h-2.7zM456.6 871.7h14.4v2.73h-14.4zM473.0 871.7h2.7v2.73h-2.7zM479.9 871.7h5.1v2.73h-5.1zM505.6 871.7h2.7v2.73h-2.7zM512.6 871.7h2.7v2.73h-2.7zM461.3 874.0h9.7v2.73h-9.7zM473.0 874.0h7.4v2.73h-7.4zM505.6 874.0h2.7v2.73h-2.7zM470.6 876.4h5.1v2.73h-5.1zM477.6 876.4h12.1v2.73h-12.1zM491.6 876.4h5.1v2.73h-5.1zM505.6 876.4h2.7v2.73h-2.7zM510.2 876.4h2.7v2.73h-2.7zM477.6 878.7h16.7v2.73h-16.7zM496.3 878.7h2.7v2.73h-2.7zM500.9 878.7h2.7v2.73h-2.7zM505.6 878.7h2.7v2.73h-2.7zM477.6 881.0h12.1v2.73h-12.1zM496.3 881.0h2.7v2.73h-2.7zM477.6 883.3h2.7v2.73h-2.7zM482.3 883.3h2.7v2.73h-2.7zM496.3 883.3h2.7v2.73h-2.7z"/>
<path fill="#86d4e6" d="M482.3 673.6h2.7v2.73h-2.7zM496.3 673.6h5.1v2.73h-5.1zM503.2 673.6h2.7v2.73h-2.7zM482.3 676.0h9.7v2.73h-9.7zM493.9 676.0h5.1v2.73h-5.1zM503.2 676.0h2.7v2.73h-2.7zM507.9 676.0h2.7v2.73h-2.7zM479.9 678.3h2.7v2.73h-2.7zM484.6 678.3h7.4v2.73h-7.4zM503.2 678.3h2.7v2.73h-2.7zM510.2 678.3h7.4v2.73h-7.4zM484.6 680.6h5.1v2.73h-5.1zM510.2 680.6h2.7v2.73h-2.7zM514.9 680.6h2.7v2.73h-2.7zM486.9 683.0h2.7v2.73h-2.7zM510.2 683.0h2.7v2.73h-2.7zM477.6 685.3h5.1v2.73h-5.1zM512.6 685.3h2.7v2.73h-2.7zM519.6 685.3h2.7v2.73h-2.7zM482.3 687.6h5.1v2.73h-5.1zM507.9 687.6h5.1v2.73h-5.1zM514.9 687.6h2.7v2.73h-2.7zM519.6 687.6h2.7v2.73h-2.7zM482.3 690.0h7.4v2.73h-7.4zM510.2 690.0h2.7v2.73h-2.7zM484.6 692.3h5.1v2.73h-5.1zM498.6 692.3h2.7v2.73h-2.7zM510.2 692.3h2.7v2.73h-2.7zM484.6 694.6h2.7v2.73h-2.7zM489.3 694.6h9.7v2.73h-9.7zM500.9 694.6h2.7v2.73h-2.7zM491.6 696.9h5.1v2.73h-5.1zM505.6 797.1h2.7v2.73h-2.7zM505.6 799.5h5.1v2.73h-5.1zM496.3 801.8h2.7v2.73h-2.7zM507.9 801.8h5.1v2.73h-5.1zM496.3 804.1h5.1v2.73h-5.1zM517.2 804.1h2.7v2.73h-2.7zM496.3 806.5h7.4v2.73h-7.4zM505.6 806.5h5.1v2.73h-5.1zM517.2 806.5h2.7v2.73h-2.7zM482.3 808.8h2.7v2.73h-2.7zM486.9 808.8h7.4v2.73h-7.4zM496.3 808.8h7.4v2.73h-7.4zM505.6 808.8h14.4v2.73h-14.4zM477.6 811.1h5.1v2.73h-5.1zM491.6 811.1h7.4v2.73h-7.4zM512.6 811.1h7.4v2.73h-7.4zM477.6 813.4h2.7v2.73h-2.7zM512.6 813.4h7.4v2.73h-7.4zM475.3 815.8h5.1v2.73h-5.1zM519.6 815.8h5.1v2.73h-5.1zM468.3 818.1h2.7v2.73h-2.7zM519.6 818.1h7.4v2.73h-7.4zM461.3 820.4h7.4v2.73h-7.4zM517.2 820.4h9.7v2.73h-9.7zM459.0 822.8h5.1v2.73h-5.1zM524.2 822.8h2.7v2.73h-2.7zM459.0 825.1h2.7v2.73h-2.7zM526.5 825.1h5.1v2.73h-5.1zM456.6 827.4h5.1v2.73h-5.1zM528.9 827.4h2.7v2.73h-2.7zM456.6 829.8h5.1v2.73h-5.1zM524.2 829.8h2.7v2.73h-2.7zM528.9 829.8h2.7v2.73h-2.7zM454.3 832.1h2.7v2.73h-2.7zM531.2 832.1h2.7v2.73h-2.7zM452.0 834.4h2.7v2.73h-2.7zM531.2 834.4h2.7v2.73h-2.7zM531.2 836.7h2.7v2.73h-2.7zM449.7 839.1h2.7v2.73h-2.7zM531.2 839.1h5.1v2.73h-5.1zM533.5 841.4h2.7v2.73h-2.7zM452.0 843.7h2.7v2.73h-2.7zM533.5 843.7h2.7v2.73h-2.7zM531.2 846.1h5.1v2.73h-5.1zM449.7 848.4h2.7v2.73h-2.7zM528.9 848.4h2.7v2.73h-2.7zM452.0 850.7h5.1v2.73h-5.1zM528.9 850.7h2.7v2.73h-2.7zM456.6 853.0h2.7v2.73h-2.7zM528.9 853.0h2.7v2.73h-2.7zM456.6 855.4h2.7v2.73h-2.7zM526.5 855.4h2.7v2.73h-2.7zM456.6 857.7h7.4v2.73h-7.4zM524.2 857.7h2.7v2.73h-2.7zM459.0 860.0h7.4v2.73h-7.4zM459.0 862.4h2.7v2.73h-2.7zM463.6 862.4h2.7v2.73h-2.7zM519.6 862.4h5.1v2.73h-5.1zM466.0 864.7h5.1v2.73h-5.1zM512.6 864.7h2.7v2.73h-2.7zM517.2 864.7h2.7v2.73h-2.7zM468.3 867.0h2.7v2.73h-2.7zM473.0 867.0h5.1v2.73h-5.1zM466.0 869.4h21.4v2.73h-21.4zM498.6 869.4h2.7v2.73h-2.7zM503.2 869.4h5.1v2.73h-5.1zM510.2 869.4h2.7v2.73h-2.7zM475.3 871.7h5.1v2.73h-5.1zM484.6 871.7h2.7v2.73h-2.7zM496.3 871.7h9.7v2.73h-9.7zM507.9 871.7h5.1v2.73h-5.1zM479.9 874.0h16.7v2.73h-16.7zM498.6 874.0h7.4v2.73h-7.4zM507.9 874.0h5.1v2.73h-5.1zM489.3 876.4h2.7v2.73h-2.7zM496.3 876.4h9.7v2.73h-9.7zM503.2 878.7h2.7v2.73h-2.7z"/>
<path fill="#a4ecc4" d="M500.9 673.6h2.7v2.73h-2.7zM491.6 676.0h2.7v2.73h-2.7zM498.6 676.0h5.1v2.73h-5.1zM505.6 676.0h2.7v2.73h-2.7zM491.6 678.3h12.1v2.73h-12.1zM505.6 678.3h2.7v2.73h-2.7zM489.3 680.6h5.1v2.73h-5.1zM498.6 680.6h12.1v2.73h-12.1zM482.3 683.0h5.1v2.73h-5.1zM498.6 683.0h5.1v2.73h-5.1zM505.6 683.0h5.1v2.73h-5.1zM482.3 685.3h7.4v2.73h-7.4zM498.6 685.3h14.4v2.73h-14.4zM486.9 687.6h7.4v2.73h-7.4zM496.3 687.6h12.1v2.73h-12.1zM512.6 687.6h2.7v2.73h-2.7zM489.3 690.0h16.7v2.73h-16.7zM489.3 692.3h9.7v2.73h-9.7zM500.9 692.3h5.1v2.73h-5.1zM482.3 811.1h9.7v2.73h-9.7zM498.6 811.1h14.4v2.73h-14.4zM479.9 813.4h16.7v2.73h-16.7zM498.6 813.4h2.7v2.73h-2.7zM507.9 813.4h5.1v2.73h-5.1zM479.9 815.8h2.7v2.73h-2.7zM507.9 815.8h12.1v2.73h-12.1zM470.6 818.1h12.1v2.73h-12.1zM512.6 818.1h7.4v2.73h-7.4zM468.3 820.4h5.1v2.73h-5.1zM514.9 820.4h2.7v2.73h-2.7zM463.6 822.8h9.7v2.73h-9.7zM517.2 822.8h7.4v2.73h-7.4zM461.3 825.1h9.7v2.73h-9.7zM519.6 825.1h2.7v2.73h-2.7zM524.2 825.1h2.7v2.73h-2.7zM461.3 827.4h5.1v2.73h-5.1zM524.2 827.4h5.1v2.73h-5.1zM461.3 829.8h2.7v2.73h-2.7zM521.9 829.8h2.7v2.73h-2.7zM526.5 829.8h2.7v2.73h-2.7zM456.6 832.1h5.1v2.73h-5.1zM524.2 832.1h7.4v2.73h-7.4zM454.3 834.4h5.1v2.73h-5.1zM528.9 834.4h2.7v2.73h-2.7zM452.0 836.7h7.4v2.73h-7.4zM526.5 836.7h5.1v2.73h-5.1zM452.0 839.1h5.1v2.73h-5.1zM528.9 839.1h2.7v2.73h-2.7zM452.0 841.4h2.7v2.73h-2.7zM528.9 841.4h5.1v2.73h-5.1zM526.5 843.7h7.4v2.73h-7.4zM452.0 846.1h7.4v2.73h-7.4zM526.5 846.1h5.1v2.73h-5.1zM452.0 848.4h7.4v2.73h-7.4zM524.2 848.4h5.1v2.73h-5.1zM456.6 850.7h2.7v2.73h-2.7zM524.2 850.7h5.1v2.73h-5.1zM519.6 853.0h9.7v2.73h-9.7zM459.0 855.4h2.7v2.73h-2.7zM521.9 855.4h5.1v2.73h-5.1zM463.6 857.7h2.7v2.73h-2.7zM521.9 857.7h2.7v2.73h-2.7zM466.0 860.0h2.7v2.73h-2.7zM521.9 860.0h2.7v2.73h-2.7zM461.3 862.4h2.7v2.73h-2.7zM466.0 862.4h7.4v2.73h-7.4zM517.2 862.4h2.7v2.73h-2.7zM470.6 864.7h7.4v2.73h-7.4zM507.9 864.7h5.1v2.73h-5.1zM514.9 864.7h2.7v2.73h-2.7zM470.6 867.0h2.7v2.73h-2.7zM477.6 867.0h7.4v2.73h-7.4zM486.9 867.0h7.4v2.73h-7.4zM498.6 867.0h14.4v2.73h-14.4zM486.9 869.4h12.1v2.73h-12.1zM500.9 869.4h2.7v2.73h-2.7zM507.9 869.4h2.7v2.73h-2.7zM486.9 871.7h9.7v2.73h-9.7zM496.3 874.0h2.7v2.73h-2.7z"/>
<path fill="#9ee04a" d="M507.9 678.3h2.7v2.73h-2.7zM493.9 680.6h5.1v2.73h-5.1zM489.3 683.0h9.7v2.73h-9.7zM503.2 683.0h2.7v2.73h-2.7zM489.3 685.3h9.7v2.73h-9.7zM493.9 687.6h2.7v2.73h-2.7zM496.3 813.4h2.7v2.73h-2.7zM500.9 813.4h7.4v2.73h-7.4zM482.3 815.8h26.0v2.73h-26.0zM482.3 818.1h30.7v2.73h-30.7zM473.0 820.4h42.3v2.73h-42.3zM473.0 822.8h21.4v2.73h-21.4zM498.6 822.8h5.1v2.73h-5.1zM505.6 822.8h12.1v2.73h-12.1zM470.6 825.1h12.1v2.73h-12.1zM507.9 825.1h12.1v2.73h-12.1zM521.9 825.1h2.7v2.73h-2.7zM466.0 827.4h12.1v2.73h-12.1zM512.6 827.4h12.1v2.73h-12.1zM463.6 829.8h9.7v2.73h-9.7zM514.9 829.8h7.4v2.73h-7.4zM461.3 832.1h9.7v2.73h-9.7zM519.6 832.1h5.1v2.73h-5.1zM459.0 834.4h12.1v2.73h-12.1zM519.6 834.4h9.7v2.73h-9.7zM459.0 836.7h9.7v2.73h-9.7zM519.6 836.7h7.4v2.73h-7.4zM456.6 839.1h12.1v2.73h-12.1zM517.2 839.1h12.1v2.73h-12.1zM454.3 841.4h14.4v2.73h-14.4zM517.2 841.4h12.1v2.73h-12.1zM454.3 843.7h14.4v2.73h-14.4zM519.6 843.7h7.4v2.73h-7.4zM459.0 846.1h12.1v2.73h-12.1zM517.2 846.1h9.7v2.73h-9.7zM459.0 848.4h12.1v2.73h-12.1zM517.2 848.4h7.4v2.73h-7.4zM459.0 850.7h12.1v2.73h-12.1zM512.6 850.7h12.1v2.73h-12.1zM459.0 853.0h12.1v2.73h-12.1zM510.2 853.0h9.7v2.73h-9.7zM461.3 855.4h16.7v2.73h-16.7zM510.2 855.4h12.1v2.73h-12.1zM466.0 857.7h16.7v2.73h-16.7zM505.6 857.7h16.7v2.73h-16.7zM468.3 860.0h54.0v2.73h-54.0zM473.0 862.4h44.7v2.73h-44.7zM477.6 864.7h30.7v2.73h-30.7zM484.6 867.0h2.7v2.73h-2.7zM493.9 867.0h5.1v2.73h-5.1z"/>
<path fill="#c8e438" d="M493.9 822.8h5.1v2.73h-5.1zM503.2 822.8h2.7v2.73h-2.7zM482.3 825.1h12.1v2.73h-12.1zM496.3 825.1h5.1v2.73h-5.1zM505.6 825.1h2.7v2.73h-2.7zM477.6 827.4h5.1v2.73h-5.1zM505.6 827.4h7.4v2.73h-7.4zM473.0 829.8h7.4v2.73h-7.4zM507.9 829.8h7.4v2.73h-7.4zM470.6 832.1h5.1v2.73h-5.1zM477.6 832.1h2.7v2.73h-2.7zM510.2 832.1h9.7v2.73h-9.7zM470.6 834.4h2.7v2.73h-2.7zM512.6 834.4h7.4v2.73h-7.4zM468.3 836.7h2.7v2.73h-2.7zM514.9 836.7h5.1v2.73h-5.1zM468.3 839.1h2.7v2.73h-2.7zM514.9 839.1h2.7v2.73h-2.7zM468.3 841.4h2.7v2.73h-2.7zM514.9 841.4h2.7v2.73h-2.7zM468.3 843.7h5.1v2.73h-5.1zM514.9 843.7h5.1v2.73h-5.1zM470.6 846.1h2.7v2.73h-2.7zM514.9 846.1h2.7v2.73h-2.7zM470.6 848.4h2.7v2.73h-2.7zM514.9 848.4h2.7v2.73h-2.7zM470.6 850.7h7.4v2.73h-7.4zM510.2 850.7h2.7v2.73h-2.7zM470.6 853.0h7.4v2.73h-7.4zM505.6 853.0h5.1v2.73h-5.1zM477.6 855.4h5.1v2.73h-5.1zM498.6 855.4h12.1v2.73h-12.1zM482.3 857.7h23.7v2.73h-23.7z"/>
<path fill="#f0e03a" d="M493.9 825.1h2.7v2.73h-2.7zM500.9 825.1h5.1v2.73h-5.1zM482.3 827.4h19.0v2.73h-19.0zM503.2 827.4h2.7v2.73h-2.7zM479.9 829.8h2.7v2.73h-2.7zM486.9 829.8h2.7v2.73h-2.7zM505.6 829.8h2.7v2.73h-2.7zM475.3 832.1h2.7v2.73h-2.7zM507.9 832.1h2.7v2.73h-2.7zM473.0 834.4h5.1v2.73h-5.1zM510.2 834.4h2.7v2.73h-2.7zM470.6 836.7h5.1v2.73h-5.1zM510.2 836.7h5.1v2.73h-5.1zM470.6 839.1h7.4v2.73h-7.4zM510.2 839.1h5.1v2.73h-5.1zM470.6 841.4h5.1v2.73h-5.1zM512.6 841.4h2.7v2.73h-2.7zM473.0 843.7h2.7v2.73h-2.7zM512.6 843.7h2.7v2.73h-2.7zM473.0 846.1h2.7v2.73h-2.7zM510.2 846.1h5.1v2.73h-5.1zM473.0 848.4h5.1v2.73h-5.1zM510.2 848.4h5.1v2.73h-5.1zM505.6 850.7h5.1v2.73h-5.1zM477.6 853.0h5.1v2.73h-5.1zM484.6 853.0h2.7v2.73h-2.7zM500.9 853.0h5.1v2.73h-5.1zM482.3 855.4h16.7v2.73h-16.7z"/>
<path fill="#f29a2a" d="M500.9 827.4h2.7v2.73h-2.7zM482.3 829.8h5.1v2.73h-5.1zM489.3 829.8h16.7v2.73h-16.7zM479.9 832.1h2.7v2.73h-2.7zM505.6 832.1h2.7v2.73h-2.7zM477.6 834.4h2.7v2.73h-2.7zM507.9 834.4h2.7v2.73h-2.7zM475.3 836.7h7.4v2.73h-7.4zM507.9 836.7h2.7v2.73h-2.7zM477.6 839.1h2.7v2.73h-2.7zM507.9 839.1h2.7v2.73h-2.7zM475.3 841.4h2.7v2.73h-2.7zM507.9 841.4h5.1v2.73h-5.1zM475.3 843.7h2.7v2.73h-2.7zM507.9 843.7h5.1v2.73h-5.1zM475.3 846.1h7.4v2.73h-7.4zM507.9 846.1h2.7v2.73h-2.7zM477.6 848.4h5.1v2.73h-5.1zM507.9 848.4h2.7v2.73h-2.7zM477.6 850.7h7.4v2.73h-7.4zM500.9 850.7h5.1v2.73h-5.1zM482.3 853.0h2.7v2.73h-2.7zM486.9 853.0h14.4v2.73h-14.4z"/>
<path fill="#e23a1e" d="M482.3 832.1h23.7v2.73h-23.7zM479.9 834.4h28.4v2.73h-28.4zM482.3 836.7h26.0v2.73h-26.0zM479.9 839.1h28.4v2.73h-28.4zM477.6 841.4h30.7v2.73h-30.7zM477.6 843.7h30.7v2.73h-30.7zM482.3 846.1h26.0v2.73h-26.0zM482.3 848.4h26.0v2.73h-26.0zM484.6 850.7h16.7v2.73h-16.7z"/></g>
<rect x="445" y="655.2" width="233.2" height="232.4" fill="none" stroke="#0b0b0b" stroke-width="2.2"/>
<line x1="572.1" y1="655" x2="572.1" y2="888" stroke="#0b0b0b" stroke-width="2.6"/>
<rect x="445.2" y="656.1" width="229.5" height="91.9" fill="none" stroke="#e2311f" stroke-width="2.8"/>
<text x="633.93" y="738.50" font-size="23.50" fill="#e2311f">7%</text>
<path d="M132.3,1014.6 L132.3,1247.5 M126.4,1247.5 L373.6,1247.5" stroke="#0b0b0b" stroke-width="3.2" fill="none"/>
<line x1="126" y1="1247.5" x2="132" y2="1247.5" stroke="#0b0b0b" stroke-width="2.8"/>
<text x="101.42" y="1255.40" font-size="21.50" fill="#111">0</text>
<line x1="126" y1="1218.6" x2="132" y2="1218.6" stroke="#0b0b0b" stroke-width="2.8"/>
<text x="101.63" y="1226.50" font-size="21.50" fill="#111">1</text>
<line x1="126" y1="1189.7" x2="132" y2="1189.7" stroke="#0b0b0b" stroke-width="2.8"/>
<text x="101.74" y="1197.60" font-size="21.50" fill="#111">2</text>
<line x1="126" y1="1160.8" x2="132" y2="1160.8" stroke="#0b0b0b" stroke-width="2.8"/>
<text x="101.53" y="1168.70" font-size="21.50" fill="#111">3</text>
<line x1="126" y1="1131.9" x2="132" y2="1131.9" stroke="#0b0b0b" stroke-width="2.8"/>
<text x="101.31" y="1139.80" font-size="21.50" fill="#111">4</text>
<line x1="126" y1="1103.0" x2="132" y2="1103.0" stroke="#0b0b0b" stroke-width="2.8"/>
<text x="101.53" y="1110.90" font-size="21.50" fill="#111">5</text>
<line x1="126" y1="1074.1" x2="132" y2="1074.1" stroke="#0b0b0b" stroke-width="2.8"/>
<text x="101.53" y="1082.00" font-size="21.50" fill="#111">6</text>
<line x1="126" y1="1045.2" x2="132" y2="1045.2" stroke="#0b0b0b" stroke-width="2.8"/>
<text x="101.74" y="1053.10" font-size="21.50" fill="#111">7</text>
<line x1="126" y1="1016.3" x2="132" y2="1016.3" stroke="#0b0b0b" stroke-width="2.8"/>
<text x="101.53" y="1024.20" font-size="21.50" fill="#111">8</text>
<line x1="156.8" y1="1247" x2="156.8" y2="1253" stroke="#0b0b0b" stroke-width="2.8"/>
<line x1="204.8" y1="1247" x2="204.8" y2="1253" stroke="#0b0b0b" stroke-width="2.8"/>
<line x1="252.7" y1="1247" x2="252.7" y2="1253" stroke="#0b0b0b" stroke-width="2.8"/>
<line x1="300.6" y1="1247" x2="300.6" y2="1253" stroke="#0b0b0b" stroke-width="2.8"/>
<line x1="348.8" y1="1247" x2="348.8" y2="1253" stroke="#0b0b0b" stroke-width="2.8"/>
<line x1="372.2" y1="1247" x2="372.2" y2="1253" stroke="#0b0b0b" stroke-width="2.8"/>
<text x="150.75" y="1281.20" font-size="21.80" fill="#111">7</text>
<text x="192.27" y="1281.20" font-size="21.80" fill="#111">10</text>
<text x="240.33" y="1281.20" font-size="21.80" fill="#111">12</text>
<text x="288.01" y="1281.20" font-size="21.80" fill="#111">14</text>
<text x="336.43" y="1281.20" font-size="21.80" fill="#111">17</text>
<text x="133.50" y="1321.00" font-size="22.50" fill="#111">Days after vaccination</text>
<text transform="translate(84.7,1125.1) rotate(-90)" text-anchor="middle" font-size="22.6" fill="#111">% gB+ of CD8+ T-cells</text>
<path d="M252.7,1148.8 L252.7,1168.5 M244.2,1148.8 L261.2,1148.8 M244.2,1168.5 L261.2,1168.5" stroke="#0b0b0b" stroke-width="3.4"/>
<path d="M300.6,1113.7 L300.6,1142.9 M292.1,1113.7 L309.1,1113.7 M292.1,1142.9 L309.1,1142.9" stroke="#0b0b0b" stroke-width="3.4"/>
<polyline points="156.8,1215.7 204.8,1205.2 252.7,1158.2 300.6,1127.6 348.8,1137.5" fill="none" stroke="#0b0b0b" stroke-width="3.6" stroke-linejoin="round"/>
<circle cx="156.8" cy="1215.7" r="9.4" fill="#465069" stroke="#0b0b0b" stroke-width="3.2"/>
<circle cx="204.8" cy="1205.2" r="9.4" fill="#465069" stroke="#0b0b0b" stroke-width="3.2"/>
<circle cx="252.7" cy="1158.2" r="9.4" fill="#465069" stroke="#0b0b0b" stroke-width="3.2"/>
<circle cx="300.6" cy="1127.6" r="9.4" fill="#465069" stroke="#0b0b0b" stroke-width="3.2"/>
<circle cx="348.8" cy="1137.5" r="9.4" fill="#465069" stroke="#0b0b0b" stroke-width="3.2"/>
<path d="M252.7,1092.8 L252.7,1128.8 M244.2,1092.8 L261.2,1092.8 M244.2,1128.8 L261.2,1128.8" stroke="#0b0b0b" stroke-width="3.4"/>
<path d="M300.6,1050.2 L300.6,1094 M292.1,1050.2 L309.1,1050.2 M292.1,1094 L309.1,1094" stroke="#0b0b0b" stroke-width="3.4"/>
<path d="M348.8,1118.9 L348.8,1151.3 M340.3,1118.9 L357.3,1118.9 M340.3,1151.3 L357.3,1151.3" stroke="#0b0b0b" stroke-width="3.4"/>
<polyline points="156.8,1228.4 204.8,1186.5 252.7,1110.8 300.6,1071.8 348.8,1135.5" fill="none" stroke="#0b0b0b" stroke-width="3.6" stroke-linejoin="round"/>
<circle cx="156.8" cy="1228.4" r="9.4" fill="#e2311f" stroke="#0b0b0b" stroke-width="3.2"/>
<circle cx="204.8" cy="1186.5" r="9.4" fill="#e2311f" stroke="#0b0b0b" stroke-width="3.2"/>
<circle cx="252.7" cy="1110.8" r="9.4" fill="#e2311f" stroke="#0b0b0b" stroke-width="3.2"/>
<circle cx="300.6" cy="1071.8" r="9.4" fill="#e2311f" stroke="#0b0b0b" stroke-width="3.2"/>
<circle cx="348.8" cy="1135.5" r="9.4" fill="#e2311f" stroke="#0b0b0b" stroke-width="3.2"/>
<path d="M243.70,1068.40L243.70,1054.00M237.46,1064.80L249.94,1057.60M237.46,1057.60L249.94,1064.80" stroke="#0b0b0b" stroke-width="2.9" stroke-linecap="round"/>
<path d="M290.20,1030.20L290.20,1015.80M283.96,1026.60L296.44,1019.40M283.96,1019.40L296.44,1026.60" stroke="#0b0b0b" stroke-width="2.9" stroke-linecap="round"/>
<path d="M311.00,1030.20L311.00,1015.80M304.76,1026.60L317.24,1019.40M304.76,1019.40L317.24,1026.60" stroke="#0b0b0b" stroke-width="2.9" stroke-linecap="round"/>
<path d="M498.6,1021.3 L498.6,1251.5" stroke="#0b0b0b" stroke-width="3.2"/>
<line x1="491.9" y1="1022.4" x2="498.6" y2="1022.4" stroke="#0b0b0b" stroke-width="2.8"/>
<text x="450.04" y="1030.30" font-size="21.60" fill="#111">1.6</text>
<line x1="491.9" y1="1060.4" x2="498.6" y2="1060.4" stroke="#0b0b0b" stroke-width="2.8"/>
<text x="449.82" y="1068.30" font-size="21.60" fill="#111">1.4</text>
<line x1="491.9" y1="1098.4" x2="498.6" y2="1098.4" stroke="#0b0b0b" stroke-width="2.8"/>
<text x="450.26" y="1106.30" font-size="21.60" fill="#111">1.2</text>
<line x1="491.9" y1="1136.4" x2="498.6" y2="1136.4" stroke="#0b0b0b" stroke-width="2.8"/>
<text x="468.18" y="1144.30" font-size="21.60" fill="#111">1</text>
<line x1="491.9" y1="1174.4" x2="498.6" y2="1174.4" stroke="#0b0b0b" stroke-width="2.8"/>
<text x="450.04" y="1182.30" font-size="21.60" fill="#111">0.8</text>
<line x1="491.9" y1="1212.4" x2="498.6" y2="1212.4" stroke="#0b0b0b" stroke-width="2.8"/>
<text x="450.04" y="1220.30" font-size="21.60" fill="#111">0.6</text>
<line x1="491.9" y1="1250.4" x2="498.6" y2="1250.4" stroke="#0b0b0b" stroke-width="2.8"/>
<text x="449.82" y="1258.30" font-size="21.60" fill="#111">0.4</text>
<rect x="515.1" y="1136.4" width="60" height="41.6" fill="#465069" stroke="#0b0b0b" stroke-width="3"/>
<rect x="606.3" y="1093" width="60.3" height="43.4" fill="#e2311f" stroke="#0b0b0b" stroke-width="3"/>
<line x1="498.6" y1="1136.5" x2="682.8" y2="1136.5" stroke="#0b0b0b" stroke-width="3.2"/>
<path d="M547.2,1163.6 L547.2,1194.6 M538.7,1163.6 L555.7,1163.6 M538.7,1194.6 L555.7,1194.6" stroke="#0b0b0b" stroke-width="3.4"/>
<path d="M636.8,1063.1 L636.8,1122.3 M628.3,1063.1 L645.3,1063.1 M628.3,1122.3 L645.3,1122.3" stroke="#0b0b0b" stroke-width="3.4"/>
<path d="M539.3,1034.4 L539.3,1024 Q539.3,1021.2 542,1021.2 L633.4,1021.2 Q636.1,1021.2 636.1,1024 L636.1,1034.4" stroke="#0b0b0b" stroke-width="3" fill="none"/>
<path d="M587.60,1013.40L587.60,999.00M581.36,1009.80L593.84,1002.60M581.36,1002.60L593.84,1009.80" stroke="#0b0b0b" stroke-width="2.9" stroke-linecap="round"/>
<text x="501.34" y="1286.00" font-size="22.50" fill="#111">mCherry</text>
<text x="599.42" y="1286.00" font-size="22.60" fill="#111">hM3Dq</text>
<text transform="translate(418.8,1140.8) rotate(-90)" text-anchor="middle" font-size="22.5" fill="#111" xml:space="preserve">Relative % gB+  T-cells</text>
<path d="M380.2,1362 L380.2,1815 M411.8,1362 L411.8,1815 M129.5,1764.6 L661.5,1764.6" stroke="#c4c4c4" stroke-width="1.4" stroke-dasharray="5 3 1.5 3" fill="none"/>
<g clip-path="url(#cv)">
<circle cx="370.8" cy="1765.4" r="4.3" fill="#bdbbbb" fill-opacity="0.6"/>
<circle cx="401.0" cy="1794.1" r="4.3" fill="#bdbbbb" fill-opacity="0.6"/>
<circle cx="389.6" cy="1765.8" r="4.3" fill="#bdbbbb" fill-opacity="0.6"/>
<circle cx="366.6" cy="1781.2" r="4.3" fill="#bdbbbb" fill-opacity="0.6"/>
<circle cx="369.5" cy="1791.4" r="4.3" fill="#bdbbbb" fill-opacity="0.6"/>
<circle cx="397.5" cy="1777.6" r="4.3" fill="#bdbbbb" fill-opacity="0.6"/>
<circle cx="403.7" cy="1779.2" r="4.3" fill="#bdbbbb" fill-opacity="0.6"/>
<circle cx="427.1" cy="1791.5" r="4.3" fill="#bdbbbb" fill-opacity="0.6"/>
<circle cx="409.8" cy="1773.4" r="4.3" fill="#bdbbbb" fill-opacity="0.6"/>
<circle cx="381.0" cy="1789.8" r="4.3" fill="#bdbbbb" fill-opacity="0.6"/>
<circle cx="441.5" cy="1762.1" r="4.3" fill="#bdbbbb" fill-opacity="0.6"/>
<circle cx="378.8" cy="1773.9" r="4.3" fill="#bdbbbb" fill-opacity="0.6"/>
<circle cx="400.0" cy="1797.7" r="4.3" fill="#bdbbbb" fill-opacity="0.6"/>
<circle cx="419.7" cy="1780.9" r="4.3" fill="#bdbbbb" fill-opacity="0.6"/>
<circle cx="415.9" cy="1763.2" r="4.3" fill="#bdbbbb" fill-opacity="0.6"/>
<circle cx="359.0" cy="1777.0" r="4.3" fill="#bdbbbb" fill-opacity="0.6"/>
<circle cx="428.4" cy="1788.4" r="4.3" fill="#bdbbbb" fill-opacity="0.6"/>
<circle cx="408.3" cy="1770.3" r="4.3" fill="#bdbbbb" fill-opacity="0.6"/>
<circle cx="418.4" cy="1773.9" r="4.3" fill="#bdbbbb" fill-opacity="0.6"/>
<circle cx="376.4" cy="1790.9" r="4.3" fill="#bdbbbb" fill-opacity="0.6"/>
<circle cx="405.0" cy="1795.2" r="4.3" fill="#bdbbbb" fill-opacity="0.6"/>
<circle cx="419.5" cy="1789.3" r="4.3" fill="#bdbbbb" fill-opacity="0.6"/>
<circle cx="418.9" cy="1779.1" r="4.3" fill="#bdbbbb" fill-opacity="0.6"/>
<circle cx="376.2" cy="1797.1" r="4.3" fill="#bdbbbb" fill-opacity="0.6"/>
<circle cx="390.2" cy="1796.0" r="4.3" fill="#bdbbbb" fill-opacity="0.6"/>
<circle cx="365.5" cy="1781.2" r="4.3" fill="#bdbbbb" fill-opacity="0.6"/>
<circle cx="381.0" cy="1789.9" r="4.3" fill="#bdbbbb" fill-opacity="0.6"/>
<circle cx="384.5" cy="1796.8" r="4.3" fill="#bdbbbb" fill-opacity="0.6"/>
<circle cx="387.8" cy="1784.5" r="4.3" fill="#bdbbbb" fill-opacity="0.6"/>
<circle cx="372.1" cy="1786.5" r="4.3" fill="#bdbbbb" fill-opacity="0.6"/>
<circle cx="419.4" cy="1769.2" r="4.3" fill="#bdbbbb" fill-opacity="0.6"/>
<circle cx="400.5" cy="1792.1" r="4.3" fill="#bdbbbb" fill-opacity="0.6"/>
<circle cx="383.8" cy="1798.8" r="4.3" fill="#bdbbbb" fill-opacity="0.6"/>
<circle cx="378.0" cy="1796.0" r="4.3" fill="#bdbbbb" fill-opacity="0.6"/>
<circle cx="399.6" cy="1800.6" r="4.3" fill="#bdbbbb" fill-opacity="0.6"/>
<circle cx="433.2" cy="1786.3" r="4.3" fill="#bdbbbb" fill-opacity="0.6"/>
<circle cx="414.2" cy="1793.5" r="4.3" fill="#bdbbbb" fill-opacity="0.6"/>
<circle cx="383.5" cy="1764.2" r="4.3" fill="#bdbbbb" fill-opacity="0.6"/>
<circle cx="366.6" cy="1765.4" r="4.3" fill="#bdbbbb" fill-opacity="0.6"/>
<circle cx="429.9" cy="1770.6" r="4.3" fill="#bdbbbb" fill-opacity="0.6"/>
<circle cx="376.6" cy="1767.1" r="4.3" fill="#bdbbbb" fill-opacity="0.6"/>
<circle cx="426.0" cy="1781.7" r="4.3" fill="#bdbbbb" fill-opacity="0.6"/>
<circle cx="402.1" cy="1800.6" r="4.3" fill="#bdbbbb" fill-opacity="0.6"/>
<circle cx="400.2" cy="1770.5" r="4.3" fill="#bdbbbb" fill-opacity="0.6"/>
<circle cx="364.0" cy="1790.2" r="4.3" fill="#bdbbbb" fill-opacity="0.6"/>
<circle cx="386.3" cy="1789.2" r="4.3" fill="#bdbbbb" fill-opacity="0.6"/>
<circle cx="409.6" cy="1785.6" r="4.3" fill="#bdbbbb" fill-opacity="0.6"/>
<circle cx="397.7" cy="1788.8" r="4.3" fill="#bdbbbb" fill-opacity="0.6"/>
<circle cx="371.1" cy="1784.2" r="4.3" fill="#bdbbbb" fill-opacity="0.6"/>
<circle cx="363.9" cy="1781.8" r="4.3" fill="#bdbbbb" fill-opacity="0.6"/>
<circle cx="399.1" cy="1781.2" r="4.3" fill="#bdbbbb" fill-opacity="0.6"/>
<circle cx="389.2" cy="1793.0" r="4.3" fill="#bdbbbb" fill-opacity="0.6"/>
<circle cx="398.7" cy="1762.8" r="4.3" fill="#bdbbbb" fill-opacity="0.6"/>
<circle cx="418.8" cy="1770.2" r="4.3" fill="#bdbbbb" fill-opacity="0.6"/>
<circle cx="385.2" cy="1777.5" r="4.3" fill="#bdbbbb" fill-opacity="0.6"/>
<circle cx="391.3" cy="1798.4" r="4.3" fill="#bdbbbb" fill-opacity="0.6"/>
<circle cx="382.1" cy="1776.0" r="4.3" fill="#bdbbbb" fill-opacity="0.6"/>
<circle cx="360.9" cy="1781.2" r="4.3" fill="#bdbbbb" fill-opacity="0.6"/>
<circle cx="430.9" cy="1783.9" r="4.3" fill="#bdbbbb" fill-opacity="0.6"/>
<circle cx="416.0" cy="1784.5" r="4.3" fill="#bdbbbb" fill-opacity="0.6"/>
<circle cx="407.9" cy="1799.9" r="4.3" fill="#bdbbbb" fill-opacity="0.6"/>
<circle cx="417.2" cy="1791.8" r="4.3" fill="#bdbbbb" fill-opacity="0.6"/>
<circle cx="381.5" cy="1794.8" r="4.3" fill="#bdbbbb" fill-opacity="0.6"/>
<circle cx="382.4" cy="1781.3" r="4.3" fill="#bdbbbb" fill-opacity="0.6"/>
<circle cx="402.7" cy="1772.5" r="4.3" fill="#bdbbbb" fill-opacity="0.6"/>
<circle cx="406.9" cy="1774.7" r="4.3" fill="#bdbbbb" fill-opacity="0.6"/>
<circle cx="364.1" cy="1785.3" r="4.3" fill="#bdbbbb" fill-opacity="0.6"/>
<circle cx="386.3" cy="1779.7" r="4.3" fill="#bdbbbb" fill-opacity="0.6"/>
<circle cx="366.7" cy="1790.3" r="4.3" fill="#bdbbbb" fill-opacity="0.6"/>
<circle cx="397.2" cy="1768.8" r="4.3" fill="#bdbbbb" fill-opacity="0.6"/>
<circle cx="410.8" cy="1778.2" r="4.3" fill="#bdbbbb" fill-opacity="0.6"/>
<circle cx="368.2" cy="1775.3" r="4.3" fill="#bdbbbb" fill-opacity="0.6"/>
<circle cx="386.0" cy="1799.3" r="4.3" fill="#bdbbbb" fill-opacity="0.6"/>
<circle cx="375.0" cy="1767.9" r="4.3" fill="#bdbbbb" fill-opacity="0.6"/>
<circle cx="370.8" cy="1775.6" r="4.3" fill="#bdbbbb" fill-opacity="0.6"/>
<circle cx="432.5" cy="1783.5" r="4.3" fill="#bdbbbb" fill-opacity="0.6"/>
<circle cx="387.9" cy="1767.0" r="4.3" fill="#bdbbbb" fill-opacity="0.6"/>
<circle cx="424.7" cy="1788.7" r="4.3" fill="#bdbbbb" fill-opacity="0.6"/>
<circle cx="393.9" cy="1802.0" r="4.3" fill="#bdbbbb" fill-opacity="0.6"/>
<circle cx="427.8" cy="1783.5" r="4.3" fill="#bdbbbb" fill-opacity="0.6"/>
<circle cx="404.5" cy="1764.1" r="4.3" fill="#bdbbbb" fill-opacity="0.6"/>
<circle cx="421.4" cy="1769.0" r="4.3" fill="#bdbbbb" fill-opacity="0.6"/>
<circle cx="397.4" cy="1799.5" r="4.3" fill="#bdbbbb" fill-opacity="0.6"/>
<circle cx="354.2" cy="1762.4" r="4.3" fill="#bdbbbb" fill-opacity="0.6"/>
<circle cx="426.9" cy="1778.6" r="4.3" fill="#bdbbbb" fill-opacity="0.6"/>
<circle cx="411.9" cy="1771.5" r="4.3" fill="#bdbbbb" fill-opacity="0.6"/>
<circle cx="375.0" cy="1778.2" r="4.3" fill="#bdbbbb" fill-opacity="0.6"/>
<circle cx="382.3" cy="1790.2" r="4.3" fill="#bdbbbb" fill-opacity="0.6"/>
<circle cx="420.0" cy="1776.9" r="4.3" fill="#bdbbbb" fill-opacity="0.6"/>
<circle cx="420.3" cy="1781.8" r="4.3" fill="#bdbbbb" fill-opacity="0.6"/>
<circle cx="367.3" cy="1782.7" r="4.3" fill="#bdbbbb" fill-opacity="0.6"/>
<circle cx="428.8" cy="1779.7" r="4.3" fill="#bdbbbb" fill-opacity="0.6"/>
<circle cx="434.0" cy="1784.6" r="4.3" fill="#bdbbbb" fill-opacity="0.6"/>
<circle cx="380.7" cy="1762.0" r="4.3" fill="#bdbbbb" fill-opacity="0.6"/>
<circle cx="408.1" cy="1792.8" r="4.3" fill="#bdbbbb" fill-opacity="0.6"/>
<circle cx="409.4" cy="1784.4" r="4.3" fill="#bdbbbb" fill-opacity="0.6"/>
<circle cx="405.2" cy="1797.1" r="4.3" fill="#bdbbbb" fill-opacity="0.6"/>
<circle cx="401.2" cy="1783.9" r="4.3" fill="#bdbbbb" fill-opacity="0.6"/>
<circle cx="382.8" cy="1788.7" r="4.3" fill="#bdbbbb" fill-opacity="0.6"/>
<circle cx="404.6" cy="1788.8" r="4.3" fill="#bdbbbb" fill-opacity="0.6"/>
<circle cx="394.8" cy="1793.4" r="4.3" fill="#bdbbbb" fill-opacity="0.6"/>
<circle cx="399.5" cy="1763.1" r="4.3" fill="#bdbbbb" fill-opacity="0.6"/>
<circle cx="403.5" cy="1796.3" r="4.3" fill="#bdbbbb" fill-opacity="0.6"/>
<circle cx="387.7" cy="1787.7" r="4.3" fill="#bdbbbb" fill-opacity="0.6"/>
<circle cx="415.9" cy="1776.3" r="4.3" fill="#bdbbbb" fill-opacity="0.6"/>
<circle cx="431.1" cy="1765.1" r="4.3" fill="#bdbbbb" fill-opacity="0.6"/>
<circle cx="419.2" cy="1797.1" r="4.3" fill="#bdbbbb" fill-opacity="0.6"/>
<circle cx="359.3" cy="1767.4" r="4.3" fill="#bdbbbb" fill-opacity="0.6"/>
<circle cx="391.4" cy="1797.8" r="4.3" fill="#bdbbbb" fill-opacity="0.6"/>
<circle cx="385.0" cy="1772.8" r="4.3" fill="#bdbbbb" fill-opacity="0.6"/>
<circle cx="370.5" cy="1788.4" r="4.3" fill="#bdbbbb" fill-opacity="0.6"/>
<circle cx="409.8" cy="1781.5" r="4.3" fill="#bdbbbb" fill-opacity="0.6"/>
<circle cx="361.9" cy="1790.8" r="4.3" fill="#bdbbbb" fill-opacity="0.6"/>
<circle cx="392.1" cy="1794.4" r="4.3" fill="#bdbbbb" fill-opacity="0.6"/>
<circle cx="401.5" cy="1779.4" r="4.3" fill="#bdbbbb" fill-opacity="0.6"/>
<circle cx="432.0" cy="1773.2" r="4.3" fill="#bdbbbb" fill-opacity="0.6"/>
<circle cx="400.0" cy="1770.5" r="4.3" fill="#bdbbbb" fill-opacity="0.6"/>
<circle cx="407.0" cy="1768.7" r="4.3" fill="#bdbbbb" fill-opacity="0.6"/>
<circle cx="413.4" cy="1798.1" r="4.3" fill="#bdbbbb" fill-opacity="0.6"/>
<circle cx="407.9" cy="1767.4" r="4.3" fill="#bdbbbb" fill-opacity="0.6"/>
<circle cx="381.8" cy="1797.7" r="4.3" fill="#bdbbbb" fill-opacity="0.6"/>
<circle cx="415.0" cy="1778.6" r="4.3" fill="#bdbbbb" fill-opacity="0.6"/>
<circle cx="392.7" cy="1791.5" r="4.3" fill="#bdbbbb" fill-opacity="0.6"/>
<circle cx="409.0" cy="1787.5" r="4.3" fill="#bdbbbb" fill-opacity="0.6"/>
<circle cx="409.9" cy="1776.1" r="4.3" fill="#bdbbbb" fill-opacity="0.6"/>
<circle cx="412.0" cy="1785.1" r="4.3" fill="#bdbbbb" fill-opacity="0.6"/>
<circle cx="382.1" cy="1782.5" r="4.3" fill="#bdbbbb" fill-opacity="0.6"/>
<circle cx="433.3" cy="1779.4" r="4.3" fill="#bdbbbb" fill-opacity="0.6"/>
<circle cx="362.6" cy="1769.5" r="4.3" fill="#bdbbbb" fill-opacity="0.6"/>
<circle cx="429.8" cy="1762.5" r="4.3" fill="#bdbbbb" fill-opacity="0.6"/>
<circle cx="391.1" cy="1801.5" r="4.3" fill="#bdbbbb" fill-opacity="0.6"/>
<circle cx="367.8" cy="1772.6" r="4.3" fill="#bdbbbb" fill-opacity="0.6"/>
<circle cx="394.8" cy="1786.0" r="4.3" fill="#bdbbbb" fill-opacity="0.6"/>
<circle cx="379.0" cy="1794.8" r="4.3" fill="#bdbbbb" fill-opacity="0.6"/>
<circle cx="394.2" cy="1797.1" r="4.3" fill="#bdbbbb" fill-opacity="0.6"/>
<circle cx="414.2" cy="1794.3" r="4.3" fill="#bdbbbb" fill-opacity="0.6"/>
<circle cx="395.9" cy="1798.4" r="4.3" fill="#bdbbbb" fill-opacity="0.6"/>
<circle cx="400.8" cy="1786.4" r="4.3" fill="#bdbbbb" fill-opacity="0.6"/>
<circle cx="396.1" cy="1769.6" r="4.3" fill="#bdbbbb" fill-opacity="0.6"/>
<circle cx="412.4" cy="1799.1" r="4.3" fill="#bdbbbb" fill-opacity="0.6"/>
<circle cx="411.7" cy="1762.9" r="4.3" fill="#bdbbbb" fill-opacity="0.6"/>
<circle cx="362.5" cy="1775.1" r="4.3" fill="#bdbbbb" fill-opacity="0.6"/>
<circle cx="424.1" cy="1767.6" r="4.3" fill="#bdbbbb" fill-opacity="0.6"/>
<circle cx="396.6" cy="1800.4" r="4.3" fill="#bdbbbb" fill-opacity="0.6"/>
<circle cx="396.9" cy="1777.3" r="4.3" fill="#bdbbbb" fill-opacity="0.6"/>
<circle cx="410.2" cy="1795.2" r="4.3" fill="#bdbbbb" fill-opacity="0.6"/>
<circle cx="368.4" cy="1764.6" r="4.3" fill="#bdbbbb" fill-opacity="0.6"/>
<circle cx="395.6" cy="1796.7" r="4.3" fill="#bdbbbb" fill-opacity="0.6"/>
<circle cx="416.9" cy="1788.3" r="4.3" fill="#bdbbbb" fill-opacity="0.6"/>
<circle cx="414.0" cy="1787.5" r="4.3" fill="#bdbbbb" fill-opacity="0.6"/>
<circle cx="373.6" cy="1783.8" r="4.3" fill="#bdbbbb" fill-opacity="0.6"/>
<circle cx="442.8" cy="1769.5" r="4.3" fill="#bdbbbb" fill-opacity="0.6"/>
<circle cx="414.3" cy="1762.4" r="4.3" fill="#bdbbbb" fill-opacity="0.6"/>
<circle cx="382.7" cy="1797.2" r="4.3" fill="#bdbbbb" fill-opacity="0.6"/>
<circle cx="386.3" cy="1763.9" r="4.3" fill="#bdbbbb" fill-opacity="0.6"/>
<circle cx="392.5" cy="1775.2" r="4.3" fill="#bdbbbb" fill-opacity="0.6"/>
<circle cx="435.2" cy="1779.1" r="4.3" fill="#bdbbbb" fill-opacity="0.6"/>
<circle cx="438.4" cy="1766.8" r="4.3" fill="#bdbbbb" fill-opacity="0.6"/>
<circle cx="438.0" cy="1763.8" r="4.3" fill="#bdbbbb" fill-opacity="0.6"/>
<circle cx="416.8" cy="1775.3" r="4.3" fill="#bdbbbb" fill-opacity="0.6"/>
<circle cx="390.9" cy="1762.1" r="4.3" fill="#bdbbbb" fill-opacity="0.6"/>
<circle cx="405.5" cy="1789.1" r="4.3" fill="#bdbbbb" fill-opacity="0.6"/>
<circle cx="375.0" cy="1794.3" r="4.3" fill="#bdbbbb" fill-opacity="0.6"/>
<circle cx="406.2" cy="1778.0" r="4.3" fill="#bdbbbb" fill-opacity="0.6"/>
<circle cx="428.2" cy="1763.1" r="4.3" fill="#bdbbbb" fill-opacity="0.6"/>
<circle cx="373.4" cy="1778.6" r="4.3" fill="#bdbbbb" fill-opacity="0.6"/>
<circle cx="410.2" cy="1770.9" r="4.3" fill="#bdbbbb" fill-opacity="0.6"/>
<circle cx="371.5" cy="1763.9" r="4.3" fill="#bdbbbb" fill-opacity="0.6"/>
<circle cx="373.6" cy="1774.2" r="4.3" fill="#bdbbbb" fill-opacity="0.6"/>
<circle cx="402.4" cy="1791.2" r="4.3" fill="#bdbbbb" fill-opacity="0.6"/>
<circle cx="405.1" cy="1798.2" r="4.3" fill="#bdbbbb" fill-opacity="0.6"/>
<circle cx="379.7" cy="1773.8" r="4.3" fill="#bdbbbb" fill-opacity="0.6"/>
<circle cx="371.4" cy="1766.9" r="4.3" fill="#bdbbbb" fill-opacity="0.6"/>
<circle cx="414.3" cy="1786.2" r="4.3" fill="#bdbbbb" fill-opacity="0.6"/>
<circle cx="381.5" cy="1773.8" r="4.3" fill="#bdbbbb" fill-opacity="0.6"/>
<circle cx="423.9" cy="1794.1" r="4.3" fill="#bdbbbb" fill-opacity="0.6"/>
<circle cx="354.9" cy="1765.4" r="4.3" fill="#bdbbbb" fill-opacity="0.6"/>
<circle cx="395.7" cy="1792.4" r="4.3" fill="#bdbbbb" fill-opacity="0.6"/>
<circle cx="407.8" cy="1779.0" r="4.3" fill="#bdbbbb" fill-opacity="0.6"/>
<circle cx="367.7" cy="1792.4" r="4.3" fill="#bdbbbb" fill-opacity="0.6"/>
<circle cx="409.9" cy="1800.5" r="4.3" fill="#bdbbbb" fill-opacity="0.6"/>
<circle cx="393.3" cy="1778.7" r="4.3" fill="#bdbbbb" fill-opacity="0.6"/>
<circle cx="404.2" cy="1772.9" r="4.3" fill="#bdbbbb" fill-opacity="0.6"/>
<circle cx="399.3" cy="1770.2" r="4.3" fill="#bdbbbb" fill-opacity="0.6"/>
<circle cx="396.3" cy="1798.2" r="4.3" fill="#bdbbbb" fill-opacity="0.6"/>
<circle cx="377.5" cy="1795.1" r="4.3" fill="#bdbbbb" fill-opacity="0.6"/>
<circle cx="377.6" cy="1797.3" r="4.3" fill="#bdbbbb" fill-opacity="0.6"/>
<circle cx="416.8" cy="1770.5" r="4.3" fill="#bdbbbb" fill-opacity="0.6"/>
<circle cx="360.7" cy="1774.1" r="4.3" fill="#bdbbbb" fill-opacity="0.6"/>
<circle cx="424.1" cy="1765.5" r="4.3" fill="#bdbbbb" fill-opacity="0.6"/>
<circle cx="353.4" cy="1762.8" r="4.3" fill="#bdbbbb" fill-opacity="0.6"/>
<circle cx="406.0" cy="1799.8" r="4.3" fill="#bdbbbb" fill-opacity="0.6"/>
<circle cx="368.1" cy="1776.8" r="4.3" fill="#bdbbbb" fill-opacity="0.6"/>
<circle cx="410.9" cy="1796.7" r="4.3" fill="#bdbbbb" fill-opacity="0.6"/>
<circle cx="398.3" cy="1788.7" r="4.3" fill="#bdbbbb" fill-opacity="0.6"/>
<circle cx="436.2" cy="1783.0" r="4.3" fill="#bdbbbb" fill-opacity="0.6"/>
<circle cx="361.0" cy="1782.9" r="4.3" fill="#bdbbbb" fill-opacity="0.6"/>
<circle cx="405.2" cy="1765.0" r="4.3" fill="#bdbbbb" fill-opacity="0.6"/>
<circle cx="404.8" cy="1791.3" r="4.3" fill="#bdbbbb" fill-opacity="0.6"/>
<circle cx="382.1" cy="1791.7" r="4.3" fill="#bdbbbb" fill-opacity="0.6"/>
<circle cx="374.7" cy="1776.8" r="4.3" fill="#bdbbbb" fill-opacity="0.6"/>
<circle cx="374.9" cy="1776.9" r="4.3" fill="#bdbbbb" fill-opacity="0.6"/>
<circle cx="376.0" cy="1795.4" r="4.3" fill="#bdbbbb" fill-opacity="0.6"/>
<circle cx="416.2" cy="1770.3" r="4.3" fill="#bdbbbb" fill-opacity="0.6"/>
<circle cx="381.8" cy="1777.9" r="4.3" fill="#bdbbbb" fill-opacity="0.6"/>
<circle cx="406.1" cy="1801.0" r="4.3" fill="#bdbbbb" fill-opacity="0.6"/>
<circle cx="363.5" cy="1770.8" r="4.3" fill="#bdbbbb" fill-opacity="0.6"/>
<circle cx="402.4" cy="1781.7" r="4.3" fill="#bdbbbb" fill-opacity="0.6"/>
<circle cx="404.4" cy="1775.9" r="4.3" fill="#bdbbbb" fill-opacity="0.6"/>
<circle cx="419.2" cy="1789.1" r="4.3" fill="#bdbbbb" fill-opacity="0.6"/>
<circle cx="409.6" cy="1771.7" r="4.3" fill="#bdbbbb" fill-opacity="0.6"/>
<circle cx="354.3" cy="1764.3" r="4.3" fill="#bdbbbb" fill-opacity="0.6"/>
<circle cx="359.2" cy="1764.2" r="4.3" fill="#bdbbbb" fill-opacity="0.6"/>
<circle cx="387.8" cy="1793.3" r="4.3" fill="#bdbbbb" fill-opacity="0.6"/>
<circle cx="391.8" cy="1781.7" r="4.3" fill="#bdbbbb" fill-opacity="0.6"/>
<circle cx="353.1" cy="1770.3" r="4.3" fill="#bdbbbb" fill-opacity="0.6"/>
<circle cx="430.0" cy="1769.3" r="4.3" fill="#bdbbbb" fill-opacity="0.6"/>
<circle cx="388.7" cy="1775.5" r="4.3" fill="#bdbbbb" fill-opacity="0.6"/>
<circle cx="418.6" cy="1772.6" r="4.3" fill="#bdbbbb" fill-opacity="0.6"/>
<circle cx="387.7" cy="1790.1" r="4.3" fill="#bdbbbb" fill-opacity="0.6"/>
<circle cx="387.1" cy="1782.3" r="4.3" fill="#bdbbbb" fill-opacity="0.6"/>
<circle cx="403.6" cy="1784.9" r="4.3" fill="#bdbbbb" fill-opacity="0.6"/>
<circle cx="428.5" cy="1785.1" r="4.3" fill="#bdbbbb" fill-opacity="0.6"/>
<circle cx="380.8" cy="1800.0" r="4.3" fill="#bdbbbb" fill-opacity="0.6"/>
<circle cx="354.5" cy="1777.2" r="4.3" fill="#bdbbbb" fill-opacity="0.6"/>
<circle cx="423.4" cy="1777.0" r="4.3" fill="#bdbbbb" fill-opacity="0.6"/>
<circle cx="401.0" cy="1789.2" r="4.3" fill="#bdbbbb" fill-opacity="0.6"/>
<circle cx="425.8" cy="1765.5" r="4.3" fill="#bdbbbb" fill-opacity="0.6"/>
<circle cx="380.5" cy="1786.5" r="4.3" fill="#bdbbbb" fill-opacity="0.6"/>
<circle cx="366.9" cy="1793.4" r="4.3" fill="#bdbbbb" fill-opacity="0.6"/>
<circle cx="423.4" cy="1769.5" r="4.3" fill="#bdbbbb" fill-opacity="0.6"/>
<circle cx="360.7" cy="1763.8" r="4.3" fill="#bdbbbb" fill-opacity="0.6"/>
<circle cx="413.9" cy="1782.1" r="4.3" fill="#bdbbbb" fill-opacity="0.6"/>
<circle cx="358.8" cy="1785.6" r="4.3" fill="#bdbbbb" fill-opacity="0.6"/>
<circle cx="415.2" cy="1773.0" r="4.3" fill="#bdbbbb" fill-opacity="0.6"/>
<circle cx="368.1" cy="1775.9" r="4.3" fill="#bdbbbb" fill-opacity="0.6"/>
<circle cx="373.2" cy="1762.1" r="4.3" fill="#bdbbbb" fill-opacity="0.6"/>
<circle cx="378.4" cy="1799.2" r="4.3" fill="#bdbbbb" fill-opacity="0.6"/>
<circle cx="429.8" cy="1784.1" r="4.3" fill="#bdbbbb" fill-opacity="0.6"/>
<circle cx="380.3" cy="1790.0" r="4.3" fill="#bdbbbb" fill-opacity="0.6"/>
<circle cx="367.0" cy="1787.9" r="4.3" fill="#bdbbbb" fill-opacity="0.6"/>
<circle cx="375.8" cy="1782.0" r="4.3" fill="#bdbbbb" fill-opacity="0.6"/>
<circle cx="414.4" cy="1797.0" r="4.3" fill="#bdbbbb" fill-opacity="0.6"/>
<circle cx="387.8" cy="1792.5" r="4.3" fill="#bdbbbb" fill-opacity="0.6"/>
<circle cx="425.6" cy="1793.9" r="4.3" fill="#bdbbbb" fill-opacity="0.6"/>
<circle cx="398.3" cy="1776.8" r="4.3" fill="#bdbbbb" fill-opacity="0.6"/>
<circle cx="358.7" cy="1768.5" r="4.3" fill="#bdbbbb" fill-opacity="0.6"/>
<circle cx="365.2" cy="1790.8" r="4.3" fill="#bdbbbb" fill-opacity="0.6"/>
<circle cx="365.3" cy="1786.1" r="4.3" fill="#bdbbbb" fill-opacity="0.6"/>
<circle cx="414.9" cy="1788.8" r="4.3" fill="#bdbbbb" fill-opacity="0.6"/>
<circle cx="392.0" cy="1799.6" r="4.3" fill="#bdbbbb" fill-opacity="0.6"/>
<circle cx="387.0" cy="1777.6" r="4.3" fill="#bdbbbb" fill-opacity="0.6"/>
<circle cx="416.5" cy="1790.2" r="4.3" fill="#bdbbbb" fill-opacity="0.6"/>
<circle cx="379.2" cy="1766.6" r="4.3" fill="#bdbbbb" fill-opacity="0.6"/>
<circle cx="370.6" cy="1764.2" r="4.3" fill="#bdbbbb" fill-opacity="0.6"/>
<circle cx="426.0" cy="1791.3" r="4.3" fill="#bdbbbb" fill-opacity="0.6"/>
<circle cx="386.1" cy="1801.2" r="4.3" fill="#bdbbbb" fill-opacity="0.6"/>
<circle cx="429.4" cy="1778.1" r="4.3" fill="#bdbbbb" fill-opacity="0.6"/>
<circle cx="383.2" cy="1782.2" r="4.3" fill="#bdbbbb" fill-opacity="0.6"/>
<circle cx="419.1" cy="1793.3" r="4.3" fill="#bdbbbb" fill-opacity="0.6"/>
<circle cx="397.6" cy="1767.8" r="4.3" fill="#bdbbbb" fill-opacity="0.6"/>
<circle cx="365.5" cy="1767.9" r="4.3" fill="#bdbbbb" fill-opacity="0.6"/>
<circle cx="375.3" cy="1783.2" r="4.3" fill="#bdbbbb" fill-opacity="0.6"/>
<circle cx="387.8" cy="1794.2" r="4.3" fill="#bdbbbb" fill-opacity="0.6"/>
<circle cx="408.3" cy="1769.3" r="4.3" fill="#bdbbbb" fill-opacity="0.6"/>
<circle cx="355.4" cy="1772.5" r="4.3" fill="#bdbbbb" fill-opacity="0.6"/>
<circle cx="393.4" cy="1802.0" r="4.3" fill="#bdbbbb" fill-opacity="0.6"/>
<circle cx="394.1" cy="1767.3" r="4.3" fill="#bdbbbb" fill-opacity="0.6"/>
<circle cx="423.8" cy="1762.2" r="4.3" fill="#bdbbbb" fill-opacity="0.6"/>
<circle cx="351.9" cy="1765.0" r="4.3" fill="#bdbbbb" fill-opacity="0.6"/>
<circle cx="396.5" cy="1800.6" r="4.3" fill="#bdbbbb" fill-opacity="0.6"/>
<circle cx="411.7" cy="1799.2" r="4.3" fill="#bdbbbb" fill-opacity="0.6"/>
<circle cx="363.7" cy="1791.4" r="4.3" fill="#bdbbbb" fill-opacity="0.6"/>
<circle cx="362.7" cy="1787.8" r="4.3" fill="#bdbbbb" fill-opacity="0.6"/>
<circle cx="429.1" cy="1762.4" r="4.3" fill="#bdbbbb" fill-opacity="0.6"/>
<circle cx="418.9" cy="1774.3" r="4.3" fill="#bdbbbb" fill-opacity="0.6"/>
<circle cx="419.8" cy="1783.2" r="4.3" fill="#bdbbbb" fill-opacity="0.6"/>
<circle cx="432.3" cy="1787.6" r="4.3" fill="#bdbbbb" fill-opacity="0.6"/>
<circle cx="426.6" cy="1781.0" r="4.3" fill="#bdbbbb" fill-opacity="0.6"/>
<circle cx="401.1" cy="1794.9" r="4.3" fill="#bdbbbb" fill-opacity="0.6"/>
<circle cx="390.1" cy="1782.3" r="4.3" fill="#bdbbbb" fill-opacity="0.6"/>
<circle cx="372.8" cy="1787.8" r="4.3" fill="#bdbbbb" fill-opacity="0.6"/>
<circle cx="409.0" cy="1779.6" r="4.3" fill="#bdbbbb" fill-opacity="0.6"/>
<circle cx="369.8" cy="1774.3" r="4.3" fill="#bdbbbb" fill-opacity="0.6"/>
<circle cx="425.1" cy="1766.3" r="4.3" fill="#bdbbbb" fill-opacity="0.6"/>
<circle cx="412.8" cy="1797.0" r="4.3" fill="#bdbbbb" fill-opacity="0.6"/>
<circle cx="403.5" cy="1790.3" r="4.3" fill="#bdbbbb" fill-opacity="0.6"/>
<circle cx="432.5" cy="1764.3" r="4.3" fill="#bdbbbb" fill-opacity="0.6"/>
<circle cx="412.2" cy="1780.9" r="4.3" fill="#bdbbbb" fill-opacity="0.6"/>
<circle cx="419.5" cy="1766.8" r="4.3" fill="#bdbbbb" fill-opacity="0.6"/>
<circle cx="439.7" cy="1767.9" r="4.3" fill="#bdbbbb" fill-opacity="0.6"/>
<circle cx="398.2" cy="1790.4" r="4.3" fill="#bdbbbb" fill-opacity="0.6"/>
<circle cx="375.5" cy="1788.1" r="4.3" fill="#bdbbbb" fill-opacity="0.6"/>
<circle cx="360.6" cy="1782.0" r="4.3" fill="#bdbbbb" fill-opacity="0.6"/>
<circle cx="376.0" cy="1773.2" r="4.3" fill="#bdbbbb" fill-opacity="0.6"/>
<circle cx="388.0" cy="1768.6" r="4.3" fill="#bdbbbb" fill-opacity="0.6"/>
<circle cx="350.5" cy="1764.5" r="4.3" fill="#bdbbbb" fill-opacity="0.6"/>
<circle cx="441.1" cy="1775.3" r="4.3" fill="#bdbbbb" fill-opacity="0.6"/>
<circle cx="391.0" cy="1791.1" r="4.3" fill="#bdbbbb" fill-opacity="0.6"/>
<circle cx="360.2" cy="1770.0" r="4.3" fill="#bdbbbb" fill-opacity="0.6"/>
<circle cx="409.7" cy="1778.7" r="4.3" fill="#bdbbbb" fill-opacity="0.6"/>
<circle cx="393.8" cy="1795.0" r="4.3" fill="#bdbbbb" fill-opacity="0.6"/>
<circle cx="412.9" cy="1796.1" r="4.3" fill="#bdbbbb" fill-opacity="0.6"/>
<circle cx="386.8" cy="1796.0" r="4.3" fill="#bdbbbb" fill-opacity="0.6"/>
<circle cx="366.5" cy="1780.7" r="4.3" fill="#bdbbbb" fill-opacity="0.6"/>
<circle cx="359.1" cy="1785.4" r="4.3" fill="#bdbbbb" fill-opacity="0.6"/>
<circle cx="366.8" cy="1780.8" r="4.3" fill="#bdbbbb" fill-opacity="0.6"/>
<circle cx="368.4" cy="1781.1" r="4.3" fill="#bdbbbb" fill-opacity="0.6"/>
<circle cx="388.5" cy="1762.1" r="4.3" fill="#bdbbbb" fill-opacity="0.6"/>
<circle cx="399.6" cy="1779.1" r="4.3" fill="#bdbbbb" fill-opacity="0.6"/>
<circle cx="395.8" cy="1767.0" r="4.3" fill="#bdbbbb" fill-opacity="0.6"/>
<circle cx="357.2" cy="1774.0" r="4.3" fill="#bdbbbb" fill-opacity="0.6"/>
<circle cx="410.9" cy="1778.4" r="4.3" fill="#bdbbbb" fill-opacity="0.6"/>
<circle cx="415.8" cy="1774.1" r="4.3" fill="#bdbbbb" fill-opacity="0.6"/>
<circle cx="365.5" cy="1793.6" r="4.3" fill="#bdbbbb" fill-opacity="0.6"/>
<circle cx="375.6" cy="1770.6" r="4.3" fill="#bdbbbb" fill-opacity="0.6"/>
<circle cx="395.0" cy="1785.7" r="4.3" fill="#bdbbbb" fill-opacity="0.6"/>
<circle cx="361.2" cy="1784.7" r="4.3" fill="#bdbbbb" fill-opacity="0.6"/>
<circle cx="364.5" cy="1773.5" r="4.3" fill="#bdbbbb" fill-opacity="0.6"/>
<circle cx="408.4" cy="1791.8" r="4.3" fill="#bdbbbb" fill-opacity="0.6"/>
<circle cx="430.8" cy="1774.2" r="4.3" fill="#bdbbbb" fill-opacity="0.6"/>
<circle cx="350.0" cy="1767.4" r="4.3" fill="#bdbbbb" fill-opacity="0.6"/>
<circle cx="411.3" cy="1776.9" r="4.3" fill="#bdbbbb" fill-opacity="0.6"/>
<circle cx="396.3" cy="1799.8" r="4.3" fill="#bdbbbb" fill-opacity="0.6"/>
<circle cx="405.3" cy="1767.5" r="4.3" fill="#bdbbbb" fill-opacity="0.6"/>
<circle cx="426.5" cy="1762.7" r="4.3" fill="#bdbbbb" fill-opacity="0.6"/>
<circle cx="359.3" cy="1774.9" r="4.3" fill="#bdbbbb" fill-opacity="0.6"/>
<circle cx="427.3" cy="1768.0" r="4.3" fill="#bdbbbb" fill-opacity="0.6"/>
<circle cx="381.9" cy="1798.3" r="4.3" fill="#bdbbbb" fill-opacity="0.6"/>
<circle cx="399.6" cy="1801.9" r="4.3" fill="#bdbbbb" fill-opacity="0.6"/>
<circle cx="354.7" cy="1775.2" r="4.3" fill="#bdbbbb" fill-opacity="0.6"/>
<circle cx="389.9" cy="1768.0" r="4.3" fill="#bdbbbb" fill-opacity="0.6"/>
<circle cx="365.9" cy="1770.2" r="4.3" fill="#bdbbbb" fill-opacity="0.6"/>
<circle cx="431.2" cy="1772.9" r="4.3" fill="#bdbbbb" fill-opacity="0.6"/>
<circle cx="436.5" cy="1763.5" r="4.3" fill="#bdbbbb" fill-opacity="0.6"/>
<circle cx="416.9" cy="1780.0" r="4.3" fill="#bdbbbb" fill-opacity="0.6"/>
<circle cx="433.8" cy="1782.5" r="4.3" fill="#bdbbbb" fill-opacity="0.6"/>
<circle cx="372.8" cy="1769.3" r="4.3" fill="#bdbbbb" fill-opacity="0.6"/>
<circle cx="396.6" cy="1782.3" r="4.3" fill="#bdbbbb" fill-opacity="0.6"/>
<circle cx="378.1" cy="1775.2" r="4.3" fill="#bdbbbb" fill-opacity="0.6"/>
<circle cx="396.2" cy="1765.6" r="4.3" fill="#bdbbbb" fill-opacity="0.6"/>
<circle cx="417.0" cy="1795.2" r="4.3" fill="#bdbbbb" fill-opacity="0.6"/>
<circle cx="438.7" cy="1778.6" r="4.3" fill="#bdbbbb" fill-opacity="0.6"/>
<circle cx="390.8" cy="1800.7" r="4.3" fill="#bdbbbb" fill-opacity="0.6"/>
<circle cx="428.1" cy="1766.7" r="4.3" fill="#bdbbbb" fill-opacity="0.6"/>
<circle cx="401.5" cy="1799.6" r="4.3" fill="#bdbbbb" fill-opacity="0.6"/>
<circle cx="395.3" cy="1800.6" r="4.3" fill="#bdbbbb" fill-opacity="0.6"/>
<circle cx="360.2" cy="1783.0" r="4.3" fill="#bdbbbb" fill-opacity="0.6"/>
<circle cx="434.5" cy="1776.8" r="4.3" fill="#bdbbbb" fill-opacity="0.6"/>
<circle cx="361.3" cy="1766.1" r="4.3" fill="#bdbbbb" fill-opacity="0.6"/>
<circle cx="395.6" cy="1763.3" r="4.3" fill="#bdbbbb" fill-opacity="0.6"/>
<circle cx="398.6" cy="1786.1" r="4.3" fill="#bdbbbb" fill-opacity="0.6"/>
<circle cx="405.0" cy="1797.2" r="4.3" fill="#bdbbbb" fill-opacity="0.6"/>
<circle cx="403.9" cy="1787.5" r="4.3" fill="#bdbbbb" fill-opacity="0.6"/>
<circle cx="359.8" cy="1782.2" r="4.3" fill="#bdbbbb" fill-opacity="0.6"/>
<circle cx="409.8" cy="1765.9" r="4.3" fill="#bdbbbb" fill-opacity="0.6"/>
<circle cx="388.0" cy="1770.5" r="4.3" fill="#bdbbbb" fill-opacity="0.6"/>
<circle cx="403.6" cy="1787.9" r="4.3" fill="#bdbbbb" fill-opacity="0.6"/>
<circle cx="374.1" cy="1771.8" r="4.3" fill="#bdbbbb" fill-opacity="0.6"/>
<circle cx="411.5" cy="1767.6" r="4.3" fill="#bdbbbb" fill-opacity="0.6"/>
<circle cx="370.2" cy="1790.8" r="4.3" fill="#bdbbbb" fill-opacity="0.6"/>
<circle cx="363.2" cy="1772.8" r="4.3" fill="#bdbbbb" fill-opacity="0.6"/>
<circle cx="379.9" cy="1786.5" r="4.3" fill="#bdbbbb" fill-opacity="0.6"/>
<circle cx="384.0" cy="1796.8" r="4.3" fill="#bdbbbb" fill-opacity="0.6"/>
<circle cx="406.4" cy="1787.8" r="4.3" fill="#bdbbbb" fill-opacity="0.6"/>
<circle cx="404.1" cy="1799.7" r="4.3" fill="#bdbbbb" fill-opacity="0.6"/>
<circle cx="399.3" cy="1799.3" r="4.3" fill="#bdbbbb" fill-opacity="0.6"/>
<circle cx="379.3" cy="1762.1" r="4.3" fill="#bdbbbb" fill-opacity="0.6"/>
<circle cx="385.3" cy="1791.6" r="4.3" fill="#bdbbbb" fill-opacity="0.6"/>
<circle cx="367.2" cy="1788.3" r="4.3" fill="#bdbbbb" fill-opacity="0.6"/>
<circle cx="387.2" cy="1787.9" r="4.3" fill="#bdbbbb" fill-opacity="0.6"/>
<circle cx="380.9" cy="1799.8" r="4.3" fill="#bdbbbb" fill-opacity="0.6"/>
<circle cx="420.3" cy="1776.4" r="4.3" fill="#bdbbbb" fill-opacity="0.6"/>
<circle cx="392.6" cy="1777.7" r="4.3" fill="#bdbbbb" fill-opacity="0.6"/>
<circle cx="359.1" cy="1775.4" r="4.3" fill="#bdbbbb" fill-opacity="0.6"/>
<circle cx="430.7" cy="1774.8" r="4.3" fill="#bdbbbb" fill-opacity="0.6"/>
<circle cx="383.6" cy="1792.7" r="4.3" fill="#bdbbbb" fill-opacity="0.6"/>
<circle cx="417.9" cy="1788.7" r="4.3" fill="#bdbbbb" fill-opacity="0.6"/>
<circle cx="368.6" cy="1793.9" r="4.3" fill="#bdbbbb" fill-opacity="0.6"/>
<circle cx="439.4" cy="1768.6" r="4.3" fill="#bdbbbb" fill-opacity="0.6"/>
<circle cx="422.0" cy="1773.2" r="4.3" fill="#bdbbbb" fill-opacity="0.6"/>
<circle cx="424.8" cy="1787.2" r="4.3" fill="#bdbbbb" fill-opacity="0.6"/>
<circle cx="437.6" cy="1765.1" r="4.3" fill="#bdbbbb" fill-opacity="0.6"/>
<circle cx="382.9" cy="1797.0" r="4.3" fill="#bdbbbb" fill-opacity="0.6"/>
<circle cx="361.0" cy="1790.4" r="4.3" fill="#bdbbbb" fill-opacity="0.6"/>
<circle cx="391.6" cy="1796.6" r="4.3" fill="#bdbbbb" fill-opacity="0.6"/>
<circle cx="416.1" cy="1791.6" r="4.3" fill="#bdbbbb" fill-opacity="0.6"/>
<circle cx="432.7" cy="1763.1" r="4.3" fill="#bdbbbb" fill-opacity="0.6"/>
<circle cx="363.0" cy="1766.2" r="4.3" fill="#bdbbbb" fill-opacity="0.6"/>
<circle cx="374.4" cy="1780.3" r="4.3" fill="#bdbbbb" fill-opacity="0.6"/>
<circle cx="372.4" cy="1787.9" r="4.3" fill="#bdbbbb" fill-opacity="0.6"/>
<circle cx="416.4" cy="1786.9" r="4.3" fill="#bdbbbb" fill-opacity="0.6"/>
<circle cx="393.0" cy="1800.5" r="4.3" fill="#bdbbbb" fill-opacity="0.6"/>
<circle cx="403.2" cy="1773.4" r="4.3" fill="#bdbbbb" fill-opacity="0.6"/>
<circle cx="428.1" cy="1788.1" r="4.3" fill="#bdbbbb" fill-opacity="0.6"/>
<circle cx="391.0" cy="1785.4" r="4.3" fill="#bdbbbb" fill-opacity="0.6"/>
<circle cx="416.9" cy="1773.9" r="4.3" fill="#bdbbbb" fill-opacity="0.6"/>
<circle cx="363.0" cy="1787.5" r="4.3" fill="#bdbbbb" fill-opacity="0.6"/>
<circle cx="365.1" cy="1774.0" r="4.3" fill="#bdbbbb" fill-opacity="0.6"/>
<circle cx="385.8" cy="1781.8" r="4.3" fill="#bdbbbb" fill-opacity="0.6"/>
<circle cx="398.8" cy="1768.4" r="4.3" fill="#bdbbbb" fill-opacity="0.6"/>
<circle cx="384.0" cy="1788.4" r="4.3" fill="#bdbbbb" fill-opacity="0.6"/>
<circle cx="373.4" cy="1795.4" r="4.3" fill="#bdbbbb" fill-opacity="0.6"/>
<circle cx="415.9" cy="1764.3" r="4.3" fill="#bdbbbb" fill-opacity="0.6"/>
<circle cx="416.6" cy="1784.5" r="4.3" fill="#bdbbbb" fill-opacity="0.6"/>
<circle cx="396.4" cy="1799.4" r="4.3" fill="#bdbbbb" fill-opacity="0.6"/>
<circle cx="404.7" cy="1794.7" r="4.3" fill="#bdbbbb" fill-opacity="0.6"/>
<circle cx="396.3" cy="1782.6" r="4.3" fill="#bdbbbb" fill-opacity="0.6"/>
<circle cx="393.5" cy="1801.7" r="4.3" fill="#bdbbbb" fill-opacity="0.6"/>
<circle cx="393.7" cy="1779.0" r="4.3" fill="#bdbbbb" fill-opacity="0.6"/>
<circle cx="362.3" cy="1787.6" r="4.3" fill="#bdbbbb" fill-opacity="0.6"/>
<circle cx="361.0" cy="1788.1" r="4.3" fill="#bdbbbb" fill-opacity="0.6"/>
<circle cx="390.8" cy="1777.2" r="4.3" fill="#bdbbbb" fill-opacity="0.6"/>
<circle cx="401.9" cy="1784.6" r="4.3" fill="#bdbbbb" fill-opacity="0.6"/>
<circle cx="358.3" cy="1786.1" r="4.3" fill="#bdbbbb" fill-opacity="0.6"/>
<circle cx="417.9" cy="1775.1" r="4.3" fill="#bdbbbb" fill-opacity="0.6"/>
<circle cx="425.0" cy="1778.7" r="4.3" fill="#bdbbbb" fill-opacity="0.6"/>
<circle cx="401.8" cy="1783.7" r="4.3" fill="#bdbbbb" fill-opacity="0.6"/>
<circle cx="431.7" cy="1789.1" r="4.3" fill="#bdbbbb" fill-opacity="0.6"/>
<circle cx="359.4" cy="1762.2" r="4.3" fill="#bdbbbb" fill-opacity="0.6"/>
<circle cx="367.9" cy="1765.6" r="4.3" fill="#bdbbbb" fill-opacity="0.6"/>
<circle cx="442.8" cy="1762.8" r="4.3" fill="#bdbbbb" fill-opacity="0.6"/>
<circle cx="393.5" cy="1768.0" r="4.3" fill="#bdbbbb" fill-opacity="0.6"/>
<circle cx="394.7" cy="1797.3" r="4.3" fill="#bdbbbb" fill-opacity="0.6"/>
<circle cx="376.5" cy="1771.9" r="4.3" fill="#bdbbbb" fill-opacity="0.6"/>
<circle cx="378.9" cy="1778.9" r="4.3" fill="#bdbbbb" fill-opacity="0.6"/>
<circle cx="388.5" cy="1780.8" r="4.3" fill="#bdbbbb" fill-opacity="0.6"/>
<circle cx="431.8" cy="1765.3" r="4.3" fill="#bdbbbb" fill-opacity="0.6"/>
<circle cx="397.7" cy="1800.8" r="4.3" fill="#bdbbbb" fill-opacity="0.6"/>
<circle cx="435.1" cy="1765.8" r="4.3" fill="#bdbbbb" fill-opacity="0.6"/>
<circle cx="385.2" cy="1776.5" r="4.3" fill="#bdbbbb" fill-opacity="0.6"/>
<circle cx="436.2" cy="1772.2" r="4.3" fill="#bdbbbb" fill-opacity="0.6"/>
<circle cx="381.6" cy="1789.7" r="4.3" fill="#bdbbbb" fill-opacity="0.6"/>
<circle cx="389.0" cy="1776.8" r="4.3" fill="#bdbbbb" fill-opacity="0.6"/>
<circle cx="411.6" cy="1777.2" r="4.3" fill="#bdbbbb" fill-opacity="0.6"/>
<circle cx="380.4" cy="1800.0" r="4.3" fill="#bdbbbb" fill-opacity="0.6"/>
<circle cx="415.1" cy="1795.9" r="4.3" fill="#bdbbbb" fill-opacity="0.6"/>
<circle cx="441.1" cy="1770.8" r="4.3" fill="#bdbbbb" fill-opacity="0.6"/>
<circle cx="407.2" cy="1797.0" r="4.3" fill="#bdbbbb" fill-opacity="0.6"/>
<circle cx="391.0" cy="1766.3" r="4.3" fill="#bdbbbb" fill-opacity="0.6"/>
<circle cx="399.6" cy="1792.3" r="4.3" fill="#bdbbbb" fill-opacity="0.6"/>
<circle cx="421.3" cy="1764.4" r="4.3" fill="#bdbbbb" fill-opacity="0.6"/>
<circle cx="371.0" cy="1778.4" r="4.3" fill="#bdbbbb" fill-opacity="0.6"/>
<circle cx="359.8" cy="1775.9" r="4.3" fill="#bdbbbb" fill-opacity="0.6"/>
<circle cx="351.9" cy="1776.4" r="4.3" fill="#bdbbbb" fill-opacity="0.6"/>
<circle cx="392.6" cy="1801.9" r="4.3" fill="#bdbbbb" fill-opacity="0.6"/>
<circle cx="377.8" cy="1775.6" r="4.3" fill="#bdbbbb" fill-opacity="0.6"/>
<circle cx="382.0" cy="1780.4" r="4.3" fill="#bdbbbb" fill-opacity="0.6"/>
<circle cx="380.9" cy="1797.5" r="4.3" fill="#bdbbbb" fill-opacity="0.6"/>
<circle cx="394.8" cy="1801.9" r="4.3" fill="#bdbbbb" fill-opacity="0.6"/>
<circle cx="392.4" cy="1801.3" r="4.3" fill="#bdbbbb" fill-opacity="0.6"/>
<circle cx="427.9" cy="1765.2" r="4.3" fill="#bdbbbb" fill-opacity="0.6"/>
<circle cx="419.1" cy="1768.3" r="4.3" fill="#bdbbbb" fill-opacity="0.6"/>
<circle cx="382.0" cy="1797.2" r="4.3" fill="#bdbbbb" fill-opacity="0.6"/>
<circle cx="401.9" cy="1774.7" r="4.3" fill="#bdbbbb" fill-opacity="0.6"/>
<circle cx="414.3" cy="1796.8" r="4.3" fill="#bdbbbb" fill-opacity="0.6"/>
<circle cx="401.7" cy="1781.5" r="4.3" fill="#bdbbbb" fill-opacity="0.6"/>
<circle cx="375.0" cy="1794.1" r="4.3" fill="#bdbbbb" fill-opacity="0.6"/>
<circle cx="410.2" cy="1799.3" r="4.3" fill="#bdbbbb" fill-opacity="0.6"/>
<circle cx="408.1" cy="1771.4" r="4.3" fill="#bdbbbb" fill-opacity="0.6"/>
<circle cx="406.2" cy="1791.3" r="4.3" fill="#bdbbbb" fill-opacity="0.6"/>
<circle cx="354.0" cy="1764.9" r="4.3" fill="#bdbbbb" fill-opacity="0.6"/>
<circle cx="358.7" cy="1770.9" r="4.3" fill="#bdbbbb" fill-opacity="0.6"/>
<circle cx="416.4" cy="1781.4" r="4.3" fill="#bdbbbb" fill-opacity="0.6"/>
<circle cx="428.9" cy="1785.0" r="4.3" fill="#bdbbbb" fill-opacity="0.6"/>
<circle cx="391.6" cy="1781.6" r="4.3" fill="#bdbbbb" fill-opacity="0.6"/>
<circle cx="439.3" cy="1767.1" r="4.3" fill="#bdbbbb" fill-opacity="0.6"/>
<circle cx="431.6" cy="1788.9" r="4.3" fill="#bdbbbb" fill-opacity="0.6"/>
<circle cx="380.2" cy="1799.4" r="4.3" fill="#bdbbbb" fill-opacity="0.6"/>
<circle cx="395.0" cy="1786.1" r="4.3" fill="#bdbbbb" fill-opacity="0.6"/>
<circle cx="365.7" cy="1792.2" r="4.3" fill="#bdbbbb" fill-opacity="0.6"/>
<circle cx="404.3" cy="1788.4" r="4.3" fill="#bdbbbb" fill-opacity="0.6"/>
<circle cx="362.1" cy="1776.9" r="4.3" fill="#bdbbbb" fill-opacity="0.6"/>
<circle cx="363.0" cy="1789.4" r="4.3" fill="#bdbbbb" fill-opacity="0.6"/>
<circle cx="352.7" cy="1775.5" r="4.3" fill="#bdbbbb" fill-opacity="0.6"/>
<circle cx="372.8" cy="1774.3" r="4.3" fill="#bdbbbb" fill-opacity="0.6"/>
<circle cx="410.4" cy="1786.8" r="4.3" fill="#bdbbbb" fill-opacity="0.6"/>
<circle cx="389.6" cy="1790.3" r="4.3" fill="#bdbbbb" fill-opacity="0.6"/>
<circle cx="406.7" cy="1792.2" r="4.3" fill="#bdbbbb" fill-opacity="0.6"/>
<circle cx="419.3" cy="1783.4" r="4.3" fill="#bdbbbb" fill-opacity="0.6"/>
<circle cx="395.5" cy="1800.9" r="4.3" fill="#bdbbbb" fill-opacity="0.6"/>
<circle cx="399.8" cy="1800.5" r="4.3" fill="#bdbbbb" fill-opacity="0.6"/>
<circle cx="393.9" cy="1777.5" r="4.3" fill="#bdbbbb" fill-opacity="0.6"/>
<circle cx="382.0" cy="1788.2" r="4.3" fill="#bdbbbb" fill-opacity="0.6"/>
<circle cx="391.3" cy="1798.9" r="4.3" fill="#bdbbbb" fill-opacity="0.6"/>
<circle cx="424.0" cy="1787.0" r="4.3" fill="#bdbbbb" fill-opacity="0.6"/>
<circle cx="406.0" cy="1795.2" r="4.3" fill="#bdbbbb" fill-opacity="0.6"/>
<circle cx="414.1" cy="1790.6" r="4.3" fill="#bdbbbb" fill-opacity="0.6"/>
<circle cx="390.6" cy="1785.5" r="4.3" fill="#bdbbbb" fill-opacity="0.6"/>
<circle cx="380.3" cy="1797.9" r="4.3" fill="#bdbbbb" fill-opacity="0.6"/>
<circle cx="378.1" cy="1767.1" r="4.3" fill="#bdbbbb" fill-opacity="0.6"/>
<circle cx="440.6" cy="1771.4" r="4.3" fill="#bdbbbb" fill-opacity="0.6"/>
<circle cx="428.2" cy="1783.2" r="4.3" fill="#bdbbbb" fill-opacity="0.6"/>
<circle cx="372.7" cy="1784.1" r="4.3" fill="#bdbbbb" fill-opacity="0.6"/>
<circle cx="415.3" cy="1797.0" r="4.3" fill="#bdbbbb" fill-opacity="0.6"/>
<circle cx="421.5" cy="1767.0" r="4.3" fill="#bdbbbb" fill-opacity="0.6"/>
<circle cx="369.8" cy="1784.7" r="4.3" fill="#bdbbbb" fill-opacity="0.6"/>
<circle cx="417.5" cy="1775.5" r="4.3" fill="#bdbbbb" fill-opacity="0.6"/>
<circle cx="406.2" cy="1769.5" r="4.3" fill="#bdbbbb" fill-opacity="0.6"/>
<circle cx="398.6" cy="1783.3" r="4.3" fill="#bdbbbb" fill-opacity="0.6"/>
<circle cx="426.9" cy="1769.3" r="4.3" fill="#bdbbbb" fill-opacity="0.6"/>
<circle cx="411.8" cy="1783.6" r="4.3" fill="#bdbbbb" fill-opacity="0.6"/>
<circle cx="382.0" cy="1787.1" r="4.3" fill="#bdbbbb" fill-opacity="0.6"/>
<circle cx="389.0" cy="1791.5" r="4.3" fill="#bdbbbb" fill-opacity="0.6"/>
<circle cx="394.3" cy="1798.9" r="4.3" fill="#bdbbbb" fill-opacity="0.6"/>
<circle cx="392.7" cy="1769.8" r="4.3" fill="#bdbbbb" fill-opacity="0.6"/>
<circle cx="436.6" cy="1777.8" r="4.3" fill="#bdbbbb" fill-opacity="0.6"/>
<circle cx="432.0" cy="1774.3" r="4.3" fill="#bdbbbb" fill-opacity="0.6"/>
<circle cx="360.9" cy="1763.0" r="4.3" fill="#bdbbbb" fill-opacity="0.6"/>
<circle cx="418.4" cy="1773.8" r="4.3" fill="#bdbbbb" fill-opacity="0.6"/>
<circle cx="389.4" cy="1786.1" r="4.3" fill="#bdbbbb" fill-opacity="0.6"/>
<circle cx="426.4" cy="1778.5" r="4.3" fill="#bdbbbb" fill-opacity="0.6"/>
<circle cx="423.1" cy="1770.7" r="4.3" fill="#bdbbbb" fill-opacity="0.6"/>
<circle cx="413.4" cy="1776.9" r="4.3" fill="#bdbbbb" fill-opacity="0.6"/>
<circle cx="391.8" cy="1794.7" r="4.3" fill="#bdbbbb" fill-opacity="0.6"/>
<circle cx="371.4" cy="1769.8" r="4.3" fill="#bdbbbb" fill-opacity="0.6"/>
<circle cx="358.1" cy="1771.9" r="4.3" fill="#bdbbbb" fill-opacity="0.6"/>
<circle cx="408.8" cy="1779.1" r="4.3" fill="#bdbbbb" fill-opacity="0.6"/>
<circle cx="437.1" cy="1777.5" r="4.3" fill="#bdbbbb" fill-opacity="0.6"/>
<circle cx="406.2" cy="1799.6" r="4.3" fill="#bdbbbb" fill-opacity="0.6"/>
<circle cx="384.4" cy="1793.7" r="4.3" fill="#bdbbbb" fill-opacity="0.6"/>
<circle cx="366.4" cy="1792.3" r="4.3" fill="#bdbbbb" fill-opacity="0.6"/>
<circle cx="354.5" cy="1762.8" r="4.3" fill="#bdbbbb" fill-opacity="0.6"/>
<circle cx="416.9" cy="1774.7" r="4.3" fill="#bdbbbb" fill-opacity="0.6"/>
<circle cx="384.8" cy="1763.3" r="4.3" fill="#bdbbbb" fill-opacity="0.6"/>
<circle cx="423.7" cy="1785.8" r="4.3" fill="#bdbbbb" fill-opacity="0.6"/>
<circle cx="375.2" cy="1784.5" r="4.3" fill="#bdbbbb" fill-opacity="0.6"/>
<circle cx="396.6" cy="1765.5" r="4.3" fill="#bdbbbb" fill-opacity="0.6"/>
<circle cx="416.1" cy="1794.3" r="4.3" fill="#bdbbbb" fill-opacity="0.6"/>
<circle cx="371.0" cy="1786.8" r="4.3" fill="#bdbbbb" fill-opacity="0.6"/>
<circle cx="352.7" cy="1765.0" r="4.3" fill="#bdbbbb" fill-opacity="0.6"/>
<circle cx="399.2" cy="1772.8" r="4.3" fill="#bdbbbb" fill-opacity="0.6"/>
<circle cx="407.4" cy="1768.0" r="4.3" fill="#bdbbbb" fill-opacity="0.6"/>
<circle cx="422.7" cy="1774.6" r="4.3" fill="#bdbbbb" fill-opacity="0.6"/>
<circle cx="418.4" cy="1783.2" r="4.3" fill="#bdbbbb" fill-opacity="0.6"/>
<circle cx="402.5" cy="1772.3" r="4.3" fill="#bdbbbb" fill-opacity="0.6"/>
<circle cx="372.6" cy="1797.5" r="4.3" fill="#bdbbbb" fill-opacity="0.6"/>
<circle cx="399.5" cy="1799.3" r="4.3" fill="#bdbbbb" fill-opacity="0.6"/>
<circle cx="393.7" cy="1801.9" r="4.3" fill="#bdbbbb" fill-opacity="0.6"/>
<circle cx="411.8" cy="1781.6" r="4.3" fill="#bdbbbb" fill-opacity="0.6"/>
<circle cx="405.7" cy="1785.8" r="4.3" fill="#bdbbbb" fill-opacity="0.6"/>
<circle cx="378.4" cy="1796.6" r="4.3" fill="#bdbbbb" fill-opacity="0.6"/>
<circle cx="392.2" cy="1790.7" r="4.3" fill="#bdbbbb" fill-opacity="0.6"/>
<circle cx="415.4" cy="1798.5" r="4.3" fill="#bdbbbb" fill-opacity="0.6"/>
<circle cx="383.5" cy="1779.8" r="4.3" fill="#bdbbbb" fill-opacity="0.6"/>
<circle cx="416.2" cy="1798.0" r="4.3" fill="#bdbbbb" fill-opacity="0.6"/>
<circle cx="422.1" cy="1792.9" r="4.3" fill="#bdbbbb" fill-opacity="0.6"/>
<circle cx="395.5" cy="1799.9" r="4.3" fill="#bdbbbb" fill-opacity="0.6"/>
<circle cx="355.7" cy="1776.4" r="4.3" fill="#bdbbbb" fill-opacity="0.6"/>
<circle cx="371.1" cy="1779.5" r="4.3" fill="#bdbbbb" fill-opacity="0.6"/>
<circle cx="403.8" cy="1791.0" r="4.3" fill="#bdbbbb" fill-opacity="0.6"/>
<circle cx="403.1" cy="1799.5" r="4.3" fill="#bdbbbb" fill-opacity="0.6"/>
<circle cx="384.2" cy="1772.0" r="4.3" fill="#bdbbbb" fill-opacity="0.6"/>
<circle cx="399.1" cy="1782.0" r="4.3" fill="#bdbbbb" fill-opacity="0.6"/>
<circle cx="400.9" cy="1799.6" r="4.3" fill="#bdbbbb" fill-opacity="0.6"/>
<circle cx="375.3" cy="1775.0" r="4.3" fill="#bdbbbb" fill-opacity="0.6"/>
<circle cx="362.4" cy="1785.0" r="4.3" fill="#bdbbbb" fill-opacity="0.6"/>
<circle cx="430.6" cy="1780.3" r="4.3" fill="#bdbbbb" fill-opacity="0.6"/>
<circle cx="398.5" cy="1798.7" r="4.3" fill="#bdbbbb" fill-opacity="0.6"/>
<circle cx="382.0" cy="1783.8" r="4.3" fill="#bdbbbb" fill-opacity="0.6"/>
<circle cx="392.6" cy="1785.5" r="4.3" fill="#bdbbbb" fill-opacity="0.6"/>
<circle cx="430.5" cy="1788.0" r="4.3" fill="#bdbbbb" fill-opacity="0.6"/>
<circle cx="371.9" cy="1792.2" r="4.3" fill="#bdbbbb" fill-opacity="0.6"/>
<circle cx="414.1" cy="1768.9" r="4.3" fill="#bdbbbb" fill-opacity="0.6"/>
<circle cx="398.5" cy="1801.0" r="4.3" fill="#bdbbbb" fill-opacity="0.6"/>
<circle cx="383.6" cy="1795.5" r="4.3" fill="#bdbbbb" fill-opacity="0.6"/>
<circle cx="441.3" cy="1771.7" r="4.3" fill="#bdbbbb" fill-opacity="0.6"/>
<circle cx="393.5" cy="1797.1" r="4.3" fill="#bdbbbb" fill-opacity="0.6"/>
<circle cx="404.5" cy="1794.6" r="4.3" fill="#bdbbbb" fill-opacity="0.6"/>
<circle cx="401.6" cy="1793.2" r="4.3" fill="#bdbbbb" fill-opacity="0.6"/>
<circle cx="428.5" cy="1789.3" r="4.3" fill="#bdbbbb" fill-opacity="0.6"/>
<circle cx="416.9" cy="1779.2" r="4.3" fill="#bdbbbb" fill-opacity="0.6"/>
<circle cx="381.8" cy="1800.4" r="4.3" fill="#bdbbbb" fill-opacity="0.6"/>
<circle cx="382.7" cy="1772.1" r="4.3" fill="#bdbbbb" fill-opacity="0.6"/>
<circle cx="392.4" cy="1785.0" r="4.3" fill="#bdbbbb" fill-opacity="0.6"/>
<circle cx="384.8" cy="1799.7" r="4.3" fill="#bdbbbb" fill-opacity="0.6"/>
<circle cx="356.8" cy="1774.2" r="4.3" fill="#bdbbbb" fill-opacity="0.6"/>
<circle cx="405.0" cy="1769.1" r="4.3" fill="#bdbbbb" fill-opacity="0.6"/>
<circle cx="438.3" cy="1764.1" r="4.3" fill="#bdbbbb" fill-opacity="0.6"/>
<circle cx="368.6" cy="1792.4" r="4.3" fill="#bdbbbb" fill-opacity="0.6"/>
<circle cx="372.4" cy="1793.6" r="4.3" fill="#bdbbbb" fill-opacity="0.6"/>
<circle cx="371.9" cy="1782.7" r="4.3" fill="#bdbbbb" fill-opacity="0.6"/>
<circle cx="399.1" cy="1768.9" r="4.3" fill="#bdbbbb" fill-opacity="0.6"/>
<circle cx="375.7" cy="1797.4" r="4.3" fill="#bdbbbb" fill-opacity="0.6"/>
<circle cx="394.6" cy="1770.3" r="4.3" fill="#bdbbbb" fill-opacity="0.6"/>
<circle cx="391.6" cy="1800.2" r="4.3" fill="#bdbbbb" fill-opacity="0.6"/>
<circle cx="398.1" cy="1796.8" r="4.3" fill="#bdbbbb" fill-opacity="0.6"/>
<circle cx="419.0" cy="1780.1" r="4.3" fill="#bdbbbb" fill-opacity="0.6"/>
<circle cx="398.5" cy="1769.8" r="4.3" fill="#bdbbbb" fill-opacity="0.6"/>
<circle cx="398.3" cy="1763.4" r="4.3" fill="#bdbbbb" fill-opacity="0.6"/>
<circle cx="390.7" cy="1801.8" r="4.3" fill="#bdbbbb" fill-opacity="0.6"/>
<circle cx="403.0" cy="1766.0" r="4.3" fill="#bdbbbb" fill-opacity="0.6"/>
<circle cx="398.2" cy="1799.3" r="4.3" fill="#bdbbbb" fill-opacity="0.6"/>
<circle cx="390.5" cy="1800.5" r="4.3" fill="#bdbbbb" fill-opacity="0.6"/>
<circle cx="391.2" cy="1801.7" r="4.3" fill="#bdbbbb" fill-opacity="0.6"/>
<circle cx="385.4" cy="1792.9" r="4.3" fill="#bdbbbb" fill-opacity="0.6"/>
<circle cx="369.7" cy="1795.4" r="4.3" fill="#bdbbbb" fill-opacity="0.6"/>
<circle cx="435.2" cy="1774.5" r="4.3" fill="#bdbbbb" fill-opacity="0.6"/>
<circle cx="395.0" cy="1792.9" r="4.3" fill="#bdbbbb" fill-opacity="0.6"/>
<circle cx="436.2" cy="1777.1" r="4.3" fill="#bdbbbb" fill-opacity="0.6"/>
<circle cx="366.7" cy="1769.8" r="4.3" fill="#bdbbbb" fill-opacity="0.6"/>
<circle cx="412.3" cy="1764.5" r="4.3" fill="#bdbbbb" fill-opacity="0.6"/>
<circle cx="380.1" cy="1798.6" r="4.3" fill="#bdbbbb" fill-opacity="0.6"/>
<circle cx="413.5" cy="1792.5" r="4.3" fill="#bdbbbb" fill-opacity="0.6"/>
<circle cx="397.9" cy="1770.2" r="4.3" fill="#bdbbbb" fill-opacity="0.6"/>
<circle cx="359.9" cy="1784.9" r="4.3" fill="#bdbbbb" fill-opacity="0.6"/>
<circle cx="383.0" cy="1799.8" r="4.3" fill="#bdbbbb" fill-opacity="0.6"/>
<circle cx="415.4" cy="1768.0" r="4.3" fill="#bdbbbb" fill-opacity="0.6"/>
<circle cx="420.4" cy="1782.0" r="4.3" fill="#bdbbbb" fill-opacity="0.6"/>
<circle cx="365.0" cy="1787.8" r="4.3" fill="#bdbbbb" fill-opacity="0.6"/>
<circle cx="438.0" cy="1780.1" r="4.3" fill="#bdbbbb" fill-opacity="0.6"/>
<circle cx="366.7" cy="1774.3" r="4.3" fill="#bdbbbb" fill-opacity="0.6"/>
<circle cx="375.9" cy="1797.5" r="4.3" fill="#bdbbbb" fill-opacity="0.6"/>
<circle cx="440.2" cy="1778.3" r="4.3" fill="#bdbbbb" fill-opacity="0.6"/>
<circle cx="376.6" cy="1796.4" r="4.3" fill="#bdbbbb" fill-opacity="0.6"/>
<circle cx="394.3" cy="1765.5" r="4.3" fill="#bdbbbb" fill-opacity="0.6"/>
<circle cx="418.8" cy="1789.4" r="4.3" fill="#bdbbbb" fill-opacity="0.6"/>
<circle cx="389.0" cy="1770.0" r="4.3" fill="#bdbbbb" fill-opacity="0.6"/>
<circle cx="378.9" cy="1780.1" r="4.3" fill="#bdbbbb" fill-opacity="0.6"/>
<circle cx="398.9" cy="1789.2" r="4.3" fill="#bdbbbb" fill-opacity="0.6"/>
<circle cx="420.2" cy="1778.6" r="4.3" fill="#bdbbbb" fill-opacity="0.6"/>
<circle cx="405.5" cy="1773.9" r="4.3" fill="#bdbbbb" fill-opacity="0.6"/>
<circle cx="385.8" cy="1793.3" r="4.3" fill="#bdbbbb" fill-opacity="0.6"/>
<circle cx="348.2" cy="1763.3" r="4.3" fill="#bdbbbb" fill-opacity="0.6"/>
<circle cx="415.6" cy="1793.6" r="4.3" fill="#bdbbbb" fill-opacity="0.6"/>
<circle cx="362.4" cy="1790.5" r="4.3" fill="#bdbbbb" fill-opacity="0.6"/>
<circle cx="438.1" cy="1772.3" r="4.3" fill="#bdbbbb" fill-opacity="0.6"/>
<circle cx="390.2" cy="1784.3" r="4.3" fill="#bdbbbb" fill-opacity="0.6"/>
<circle cx="408.6" cy="1800.9" r="4.3" fill="#bdbbbb" fill-opacity="0.6"/>
<circle cx="416.8" cy="1772.0" r="4.3" fill="#bdbbbb" fill-opacity="0.6"/>
<circle cx="416.8" cy="1794.7" r="4.3" fill="#bdbbbb" fill-opacity="0.6"/>
<circle cx="406.8" cy="1798.5" r="4.3" fill="#bdbbbb" fill-opacity="0.6"/>
<circle cx="377.4" cy="1764.7" r="4.3" fill="#bdbbbb" fill-opacity="0.6"/>
<circle cx="408.9" cy="1770.0" r="4.3" fill="#bdbbbb" fill-opacity="0.6"/>
<circle cx="435.1" cy="1783.8" r="4.3" fill="#bdbbbb" fill-opacity="0.6"/>
<circle cx="360.8" cy="1771.5" r="4.3" fill="#bdbbbb" fill-opacity="0.6"/>
<circle cx="367.2" cy="1763.2" r="4.3" fill="#bdbbbb" fill-opacity="0.6"/>
<circle cx="401.4" cy="1797.8" r="4.3" fill="#bdbbbb" fill-opacity="0.6"/>
<circle cx="403.2" cy="1771.9" r="4.3" fill="#bdbbbb" fill-opacity="0.6"/>
<circle cx="383.2" cy="1787.9" r="4.3" fill="#bdbbbb" fill-opacity="0.6"/>
<circle cx="415.4" cy="1762.8" r="4.3" fill="#bdbbbb" fill-opacity="0.6"/>
<circle cx="362.2" cy="1785.2" r="4.3" fill="#bdbbbb" fill-opacity="0.6"/>
<circle cx="365.7" cy="1782.1" r="4.3" fill="#bdbbbb" fill-opacity="0.6"/>
<circle cx="416.8" cy="1778.5" r="4.3" fill="#bdbbbb" fill-opacity="0.6"/>
<circle cx="382.6" cy="1786.2" r="4.3" fill="#bdbbbb" fill-opacity="0.6"/>
<circle cx="379.9" cy="1792.6" r="4.3" fill="#bdbbbb" fill-opacity="0.6"/>
<circle cx="380.3" cy="1788.1" r="4.3" fill="#bdbbbb" fill-opacity="0.6"/>
<circle cx="401.8" cy="1787.3" r="4.3" fill="#bdbbbb" fill-opacity="0.6"/>
<circle cx="423.5" cy="1786.1" r="4.3" fill="#bdbbbb" fill-opacity="0.6"/>
<circle cx="424.6" cy="1794.5" r="4.3" fill="#bdbbbb" fill-opacity="0.6"/>
<circle cx="441.6" cy="1771.0" r="4.3" fill="#bdbbbb" fill-opacity="0.6"/>
<circle cx="369.8" cy="1788.8" r="4.3" fill="#bdbbbb" fill-opacity="0.6"/>
<circle cx="370.9" cy="1762.1" r="4.3" fill="#bdbbbb" fill-opacity="0.6"/>
<circle cx="408.1" cy="1780.1" r="4.3" fill="#bdbbbb" fill-opacity="0.6"/>
<circle cx="412.3" cy="1797.5" r="4.3" fill="#bdbbbb" fill-opacity="0.6"/>
<circle cx="411.5" cy="1798.8" r="4.3" fill="#bdbbbb" fill-opacity="0.6"/>
<circle cx="420.7" cy="1796.8" r="4.3" fill="#bdbbbb" fill-opacity="0.6"/>
<circle cx="372.8" cy="1792.0" r="4.3" fill="#bdbbbb" fill-opacity="0.6"/>
<circle cx="391.8" cy="1785.0" r="4.3" fill="#bdbbbb" fill-opacity="0.6"/>
<circle cx="380.5" cy="1789.3" r="4.3" fill="#bdbbbb" fill-opacity="0.6"/>
<circle cx="387.2" cy="1799.0" r="4.3" fill="#bdbbbb" fill-opacity="0.6"/>
<circle cx="367.3" cy="1780.3" r="4.3" fill="#bdbbbb" fill-opacity="0.6"/>
<circle cx="412.7" cy="1798.8" r="4.3" fill="#bdbbbb" fill-opacity="0.6"/>
<circle cx="386.4" cy="1800.0" r="4.3" fill="#bdbbbb" fill-opacity="0.6"/>
<circle cx="433.9" cy="1775.4" r="4.3" fill="#bdbbbb" fill-opacity="0.6"/>
<circle cx="376.9" cy="1797.2" r="4.3" fill="#bdbbbb" fill-opacity="0.6"/>
<circle cx="357.4" cy="1780.6" r="4.3" fill="#bdbbbb" fill-opacity="0.6"/>
<circle cx="415.6" cy="1795.2" r="4.3" fill="#bdbbbb" fill-opacity="0.6"/>
<circle cx="407.6" cy="1799.6" r="4.3" fill="#bdbbbb" fill-opacity="0.6"/>
<circle cx="385.1" cy="1778.9" r="4.3" fill="#bdbbbb" fill-opacity="0.6"/>
<circle cx="390.2" cy="1788.3" r="4.3" fill="#bdbbbb" fill-opacity="0.6"/>
<circle cx="394.9" cy="1800.4" r="4.3" fill="#bdbbbb" fill-opacity="0.6"/>
<circle cx="437.5" cy="1780.3" r="4.3" fill="#bdbbbb" fill-opacity="0.6"/>
<circle cx="379.9" cy="1772.4" r="4.3" fill="#bdbbbb" fill-opacity="0.6"/>
<circle cx="436.9" cy="1765.1" r="4.3" fill="#bdbbbb" fill-opacity="0.6"/>
<circle cx="391.4" cy="1782.9" r="4.3" fill="#bdbbbb" fill-opacity="0.6"/>
<circle cx="415.5" cy="1797.7" r="4.3" fill="#bdbbbb" fill-opacity="0.6"/>
<circle cx="360.6" cy="1770.3" r="4.3" fill="#bdbbbb" fill-opacity="0.6"/>
<circle cx="418.6" cy="1797.2" r="4.3" fill="#bdbbbb" fill-opacity="0.6"/>
<circle cx="415.0" cy="1783.7" r="4.3" fill="#bdbbbb" fill-opacity="0.6"/>
<circle cx="395.1" cy="1762.8" r="4.3" fill="#bdbbbb" fill-opacity="0.6"/>
<circle cx="360.7" cy="1765.2" r="4.3" fill="#bdbbbb" fill-opacity="0.6"/>
<circle cx="399.5" cy="1764.2" r="4.3" fill="#bdbbbb" fill-opacity="0.6"/>
<circle cx="390.3" cy="1785.0" r="4.3" fill="#bdbbbb" fill-opacity="0.6"/>
<circle cx="366.6" cy="1790.6" r="4.3" fill="#bdbbbb" fill-opacity="0.6"/>
<circle cx="365.6" cy="1771.3" r="4.3" fill="#bdbbbb" fill-opacity="0.6"/>
<circle cx="420.7" cy="1782.3" r="4.3" fill="#bdbbbb" fill-opacity="0.6"/>
<circle cx="434.1" cy="1769.1" r="4.3" fill="#bdbbbb" fill-opacity="0.6"/>
<circle cx="368.5" cy="1776.0" r="4.3" fill="#bdbbbb" fill-opacity="0.6"/>
<circle cx="421.1" cy="1772.2" r="4.3" fill="#bdbbbb" fill-opacity="0.6"/>
<circle cx="389.1" cy="1762.3" r="4.3" fill="#bdbbbb" fill-opacity="0.6"/>
<circle cx="399.0" cy="1773.6" r="4.3" fill="#bdbbbb" fill-opacity="0.6"/>
<circle cx="359.4" cy="1777.8" r="4.3" fill="#bdbbbb" fill-opacity="0.6"/>
<circle cx="440.0" cy="1768.1" r="4.3" fill="#bdbbbb" fill-opacity="0.6"/>
<circle cx="430.4" cy="1784.5" r="4.3" fill="#bdbbbb" fill-opacity="0.6"/>
<circle cx="399.4" cy="1800.2" r="4.3" fill="#bdbbbb" fill-opacity="0.6"/>
<circle cx="392.6" cy="1798.6" r="4.3" fill="#bdbbbb" fill-opacity="0.6"/>
<circle cx="424.9" cy="1773.9" r="4.3" fill="#bdbbbb" fill-opacity="0.6"/>
<circle cx="374.4" cy="1775.1" r="4.3" fill="#bdbbbb" fill-opacity="0.6"/>
<circle cx="387.8" cy="1781.1" r="4.3" fill="#bdbbbb" fill-opacity="0.6"/>
<circle cx="408.6" cy="1800.3" r="4.3" fill="#bdbbbb" fill-opacity="0.6"/>
<circle cx="423.5" cy="1790.9" r="4.3" fill="#bdbbbb" fill-opacity="0.6"/>
<circle cx="373.7" cy="1772.1" r="4.3" fill="#bdbbbb" fill-opacity="0.6"/>
<circle cx="404.8" cy="1775.8" r="4.3" fill="#bdbbbb" fill-opacity="0.6"/>
<circle cx="357.5" cy="1763.0" r="4.3" fill="#bdbbbb" fill-opacity="0.6"/>
<circle cx="358.2" cy="1772.1" r="4.3" fill="#bdbbbb" fill-opacity="0.6"/>
<circle cx="358.7" cy="1772.1" r="4.3" fill="#bdbbbb" fill-opacity="0.6"/>
<circle cx="390.0" cy="1773.9" r="4.3" fill="#bdbbbb" fill-opacity="0.6"/>
<circle cx="421.3" cy="1783.8" r="4.3" fill="#bdbbbb" fill-opacity="0.6"/>
<circle cx="385.3" cy="1773.6" r="4.3" fill="#bdbbbb" fill-opacity="0.6"/>
<circle cx="371.2" cy="1796.7" r="4.3" fill="#bdbbbb" fill-opacity="0.6"/>
<circle cx="363.7" cy="1782.5" r="4.3" fill="#bdbbbb" fill-opacity="0.6"/>
<circle cx="433.1" cy="1762.5" r="4.3" fill="#bdbbbb" fill-opacity="0.6"/>
<circle cx="393.4" cy="1788.6" r="4.3" fill="#bdbbbb" fill-opacity="0.6"/>
<circle cx="423.4" cy="1794.4" r="4.3" fill="#bdbbbb" fill-opacity="0.6"/>
<circle cx="392.4" cy="1785.2" r="4.3" fill="#bdbbbb" fill-opacity="0.6"/>
<circle cx="439.0" cy="1762.0" r="4.3" fill="#bdbbbb" fill-opacity="0.6"/>
<circle cx="370.7" cy="1793.1" r="4.3" fill="#bdbbbb" fill-opacity="0.6"/>
<circle cx="373.7" cy="1779.9" r="4.3" fill="#bdbbbb" fill-opacity="0.6"/>
<circle cx="389.1" cy="1799.9" r="4.3" fill="#bdbbbb" fill-opacity="0.6"/>
<circle cx="434.0" cy="1767.7" r="4.3" fill="#bdbbbb" fill-opacity="0.6"/>
<circle cx="361.7" cy="1774.2" r="4.3" fill="#bdbbbb" fill-opacity="0.6"/>
<circle cx="363.7" cy="1764.5" r="4.3" fill="#bdbbbb" fill-opacity="0.6"/>
<circle cx="374.0" cy="1779.4" r="4.3" fill="#bdbbbb" fill-opacity="0.6"/>
<circle cx="424.8" cy="1789.0" r="4.3" fill="#bdbbbb" fill-opacity="0.6"/>
<circle cx="352.0" cy="1767.9" r="4.3" fill="#bdbbbb" fill-opacity="0.6"/>
<circle cx="406.8" cy="1792.4" r="4.3" fill="#bdbbbb" fill-opacity="0.6"/>
<circle cx="376.3" cy="1796.7" r="4.3" fill="#bdbbbb" fill-opacity="0.6"/>
<circle cx="380.3" cy="1789.9" r="4.3" fill="#bdbbbb" fill-opacity="0.6"/>
<circle cx="384.6" cy="1769.4" r="4.3" fill="#bdbbbb" fill-opacity="0.6"/>
<circle cx="413.3" cy="1796.0" r="4.3" fill="#bdbbbb" fill-opacity="0.6"/>
<circle cx="381.7" cy="1795.6" r="4.3" fill="#bdbbbb" fill-opacity="0.6"/>
<circle cx="367.6" cy="1780.1" r="4.3" fill="#bdbbbb" fill-opacity="0.6"/>
<circle cx="428.4" cy="1770.9" r="4.3" fill="#bdbbbb" fill-opacity="0.6"/>
<circle cx="436.0" cy="1766.3" r="4.3" fill="#bdbbbb" fill-opacity="0.6"/>
<circle cx="394.2" cy="1800.5" r="4.3" fill="#bdbbbb" fill-opacity="0.6"/>
<circle cx="433.0" cy="1785.9" r="4.3" fill="#bdbbbb" fill-opacity="0.6"/>
<circle cx="416.2" cy="1790.8" r="4.3" fill="#bdbbbb" fill-opacity="0.6"/>
<circle cx="365.9" cy="1791.7" r="4.3" fill="#bdbbbb" fill-opacity="0.6"/>
<circle cx="408.6" cy="1793.3" r="4.3" fill="#bdbbbb" fill-opacity="0.6"/>
<circle cx="354.2" cy="1775.6" r="4.3" fill="#bdbbbb" fill-opacity="0.6"/>
<circle cx="400.9" cy="1776.1" r="4.3" fill="#bdbbbb" fill-opacity="0.6"/>
<circle cx="403.4" cy="1776.4" r="4.3" fill="#bdbbbb" fill-opacity="0.6"/>
<circle cx="413.5" cy="1777.9" r="4.3" fill="#bdbbbb" fill-opacity="0.6"/>
<circle cx="377.7" cy="1799.4" r="4.3" fill="#bdbbbb" fill-opacity="0.6"/>
<circle cx="420.3" cy="1786.7" r="4.3" fill="#bdbbbb" fill-opacity="0.6"/>
<circle cx="392.0" cy="1763.0" r="4.3" fill="#bdbbbb" fill-opacity="0.6"/>
<circle cx="407.1" cy="1794.3" r="4.3" fill="#bdbbbb" fill-opacity="0.6"/>
<circle cx="381.7" cy="1777.3" r="4.3" fill="#bdbbbb" fill-opacity="0.6"/>
<circle cx="396.0" cy="1763.3" r="4.3" fill="#bdbbbb" fill-opacity="0.6"/>
<circle cx="415.1" cy="1794.8" r="4.3" fill="#bdbbbb" fill-opacity="0.6"/>
<circle cx="395.6" cy="1790.5" r="4.3" fill="#bdbbbb" fill-opacity="0.6"/>
<circle cx="375.5" cy="1771.8" r="4.3" fill="#bdbbbb" fill-opacity="0.6"/>
<circle cx="379.8" cy="1768.9" r="4.3" fill="#bdbbbb" fill-opacity="0.6"/>
<circle cx="391.6" cy="1762.2" r="4.3" fill="#bdbbbb" fill-opacity="0.6"/>
<circle cx="385.3" cy="1793.3" r="4.3" fill="#bdbbbb" fill-opacity="0.6"/>
<circle cx="399.1" cy="1796.2" r="4.3" fill="#bdbbbb" fill-opacity="0.6"/>
<circle cx="427.3" cy="1793.4" r="4.3" fill="#bdbbbb" fill-opacity="0.6"/>
<circle cx="387.0" cy="1766.2" r="4.3" fill="#bdbbbb" fill-opacity="0.6"/>
<circle cx="361.2" cy="1768.6" r="4.3" fill="#bdbbbb" fill-opacity="0.6"/>
<circle cx="361.1" cy="1790.6" r="4.3" fill="#bdbbbb" fill-opacity="0.6"/>
<circle cx="429.3" cy="1785.8" r="4.3" fill="#bdbbbb" fill-opacity="0.6"/>
<circle cx="412.6" cy="1778.8" r="4.3" fill="#bdbbbb" fill-opacity="0.6"/>
<circle cx="420.2" cy="1767.3" r="4.3" fill="#bdbbbb" fill-opacity="0.6"/>
<circle cx="401.5" cy="1793.0" r="4.3" fill="#bdbbbb" fill-opacity="0.6"/>
<circle cx="398.1" cy="1798.7" r="4.3" fill="#bdbbbb" fill-opacity="0.6"/>
<circle cx="357.4" cy="1785.8" r="4.3" fill="#bdbbbb" fill-opacity="0.6"/>
<circle cx="386.9" cy="1794.9" r="4.3" fill="#bdbbbb" fill-opacity="0.6"/>
<circle cx="395.4" cy="1789.7" r="4.3" fill="#bdbbbb" fill-opacity="0.6"/>
<circle cx="393.9" cy="1768.2" r="4.3" fill="#bdbbbb" fill-opacity="0.6"/>
<circle cx="402.0" cy="1799.3" r="4.3" fill="#bdbbbb" fill-opacity="0.6"/>
<circle cx="399.8" cy="1766.5" r="4.3" fill="#bdbbbb" fill-opacity="0.6"/>
<circle cx="374.6" cy="1798.1" r="4.3" fill="#bdbbbb" fill-opacity="0.6"/>
<circle cx="426.7" cy="1762.1" r="4.3" fill="#bdbbbb" fill-opacity="0.6"/>
<circle cx="416.1" cy="1785.7" r="4.3" fill="#bdbbbb" fill-opacity="0.6"/>
<circle cx="401.8" cy="1774.9" r="4.3" fill="#bdbbbb" fill-opacity="0.6"/>
<circle cx="359.5" cy="1768.0" r="4.3" fill="#bdbbbb" fill-opacity="0.6"/>
<circle cx="425.0" cy="1784.1" r="4.3" fill="#bdbbbb" fill-opacity="0.6"/>
<circle cx="355.8" cy="1783.7" r="4.3" fill="#bdbbbb" fill-opacity="0.6"/>
<circle cx="421.1" cy="1762.1" r="4.3" fill="#bdbbbb" fill-opacity="0.6"/>
<circle cx="368.5" cy="1776.6" r="4.3" fill="#bdbbbb" fill-opacity="0.6"/>
<circle cx="435.5" cy="1772.3" r="4.3" fill="#bdbbbb" fill-opacity="0.6"/>
<circle cx="364.8" cy="1781.2" r="4.3" fill="#bdbbbb" fill-opacity="0.6"/>
<circle cx="354.4" cy="1769.2" r="4.3" fill="#bdbbbb" fill-opacity="0.6"/>
<circle cx="394.5" cy="1799.9" r="4.3" fill="#bdbbbb" fill-opacity="0.6"/>
<circle cx="357.3" cy="1780.0" r="4.3" fill="#bdbbbb" fill-opacity="0.6"/>
<circle cx="425.0" cy="1773.0" r="4.3" fill="#bdbbbb" fill-opacity="0.6"/>
<circle cx="393.1" cy="1795.8" r="4.3" fill="#bdbbbb" fill-opacity="0.6"/>
<circle cx="438.7" cy="1773.2" r="4.3" fill="#bdbbbb" fill-opacity="0.6"/>
<circle cx="375.1" cy="1774.9" r="4.3" fill="#bdbbbb" fill-opacity="0.6"/>
<circle cx="395.2" cy="1767.7" r="4.3" fill="#bdbbbb" fill-opacity="0.6"/>
<circle cx="397.1" cy="1795.6" r="4.3" fill="#bdbbbb" fill-opacity="0.6"/>
<circle cx="385.7" cy="1794.9" r="4.3" fill="#bdbbbb" fill-opacity="0.6"/>
<circle cx="372.3" cy="1789.5" r="4.3" fill="#bdbbbb" fill-opacity="0.6"/>
<circle cx="379.3" cy="1780.3" r="4.3" fill="#bdbbbb" fill-opacity="0.6"/>
<circle cx="420.0" cy="1774.0" r="4.3" fill="#bdbbbb" fill-opacity="0.6"/>
<circle cx="396.4" cy="1770.7" r="4.3" fill="#bdbbbb" fill-opacity="0.6"/>
<circle cx="431.0" cy="1776.5" r="4.3" fill="#bdbbbb" fill-opacity="0.6"/>
<circle cx="381.7" cy="1771.2" r="4.3" fill="#bdbbbb" fill-opacity="0.6"/>
<circle cx="381.5" cy="1790.4" r="4.3" fill="#bdbbbb" fill-opacity="0.6"/>
<circle cx="429.0" cy="1791.3" r="4.3" fill="#bdbbbb" fill-opacity="0.6"/>
<circle cx="399.4" cy="1776.5" r="4.3" fill="#bdbbbb" fill-opacity="0.6"/>
<circle cx="424.9" cy="1762.8" r="4.3" fill="#bdbbbb" fill-opacity="0.6"/>
<circle cx="405.9" cy="1777.0" r="4.3" fill="#bdbbbb" fill-opacity="0.6"/>
<circle cx="412.0" cy="1770.2" r="4.3" fill="#bdbbbb" fill-opacity="0.6"/>
<circle cx="438.1" cy="1781.9" r="4.3" fill="#bdbbbb" fill-opacity="0.6"/>
<circle cx="398.4" cy="1800.0" r="4.3" fill="#bdbbbb" fill-opacity="0.6"/>
<circle cx="375.8" cy="1768.9" r="4.3" fill="#bdbbbb" fill-opacity="0.6"/>
<circle cx="421.0" cy="1783.7" r="4.3" fill="#bdbbbb" fill-opacity="0.6"/>
<circle cx="414.0" cy="1797.6" r="4.3" fill="#bdbbbb" fill-opacity="0.6"/>
<circle cx="393.2" cy="1793.2" r="4.3" fill="#bdbbbb" fill-opacity="0.6"/>
<circle cx="376.2" cy="1784.9" r="4.3" fill="#bdbbbb" fill-opacity="0.6"/>
<circle cx="385.7" cy="1784.3" r="4.3" fill="#bdbbbb" fill-opacity="0.6"/>
<circle cx="357.7" cy="1784.1" r="4.3" fill="#bdbbbb" fill-opacity="0.6"/>
<circle cx="411.0" cy="1765.7" r="4.3" fill="#bdbbbb" fill-opacity="0.6"/>
<circle cx="371.4" cy="1779.1" r="4.3" fill="#bdbbbb" fill-opacity="0.6"/>
<circle cx="382.5" cy="1800.7" r="4.3" fill="#bdbbbb" fill-opacity="0.6"/>
<circle cx="408.8" cy="1799.6" r="4.3" fill="#bdbbbb" fill-opacity="0.6"/>
<circle cx="431.9" cy="1762.0" r="4.3" fill="#bdbbbb" fill-opacity="0.6"/>
<circle cx="376.3" cy="1790.7" r="4.3" fill="#bdbbbb" fill-opacity="0.6"/>
<circle cx="428.0" cy="1789.4" r="4.3" fill="#bdbbbb" fill-opacity="0.6"/>
<circle cx="376.6" cy="1764.6" r="4.3" fill="#bdbbbb" fill-opacity="0.6"/>
<circle cx="431.3" cy="1767.1" r="4.3" fill="#bdbbbb" fill-opacity="0.6"/>
<circle cx="358.0" cy="1767.0" r="4.3" fill="#bdbbbb" fill-opacity="0.6"/>
<circle cx="428.2" cy="1765.8" r="4.3" fill="#bdbbbb" fill-opacity="0.6"/>
<circle cx="440.3" cy="1770.0" r="4.3" fill="#bdbbbb" fill-opacity="0.6"/>
<circle cx="391.9" cy="1763.4" r="4.3" fill="#bdbbbb" fill-opacity="0.6"/>
<circle cx="365.6" cy="1767.2" r="4.3" fill="#bdbbbb" fill-opacity="0.6"/>
<circle cx="401.8" cy="1769.3" r="4.3" fill="#bdbbbb" fill-opacity="0.6"/>
<circle cx="381.0" cy="1770.8" r="4.3" fill="#bdbbbb" fill-opacity="0.6"/>
<circle cx="401.4" cy="1796.5" r="4.3" fill="#bdbbbb" fill-opacity="0.6"/>
<circle cx="373.5" cy="1762.3" r="4.3" fill="#bdbbbb" fill-opacity="0.6"/>
<circle cx="381.4" cy="1786.4" r="4.3" fill="#bdbbbb" fill-opacity="0.6"/>
<circle cx="357.9" cy="1765.7" r="4.3" fill="#bdbbbb" fill-opacity="0.6"/>
<circle cx="406.9" cy="1776.2" r="4.3" fill="#bdbbbb" fill-opacity="0.6"/>
<circle cx="373.2" cy="1780.8" r="4.3" fill="#bdbbbb" fill-opacity="0.6"/>
<circle cx="377.3" cy="1768.1" r="4.3" fill="#bdbbbb" fill-opacity="0.6"/>
<circle cx="375.1" cy="1797.2" r="4.3" fill="#bdbbbb" fill-opacity="0.6"/>
<circle cx="356.4" cy="1764.9" r="4.3" fill="#bdbbbb" fill-opacity="0.6"/>
<circle cx="357.0" cy="1784.2" r="4.3" fill="#bdbbbb" fill-opacity="0.6"/>
<circle cx="377.8" cy="1774.2" r="4.3" fill="#bdbbbb" fill-opacity="0.6"/>
<circle cx="390.0" cy="1778.9" r="4.3" fill="#bdbbbb" fill-opacity="0.6"/>
<circle cx="384.9" cy="1795.6" r="4.3" fill="#bdbbbb" fill-opacity="0.6"/>
<circle cx="423.3" cy="1768.5" r="4.3" fill="#bdbbbb" fill-opacity="0.6"/>
<circle cx="362.1" cy="1770.9" r="4.3" fill="#bdbbbb" fill-opacity="0.6"/>
<circle cx="440.0" cy="1762.8" r="4.3" fill="#bdbbbb" fill-opacity="0.6"/>
<circle cx="405.6" cy="1788.6" r="4.3" fill="#bdbbbb" fill-opacity="0.6"/>
<circle cx="428.0" cy="1765.6" r="4.3" fill="#bdbbbb" fill-opacity="0.6"/>
<circle cx="414.7" cy="1764.4" r="4.3" fill="#bdbbbb" fill-opacity="0.6"/>
<circle cx="393.8" cy="1795.2" r="4.3" fill="#bdbbbb" fill-opacity="0.6"/>
<circle cx="441.1" cy="1769.6" r="4.3" fill="#bdbbbb" fill-opacity="0.6"/>
<circle cx="374.0" cy="1763.7" r="4.3" fill="#bdbbbb" fill-opacity="0.6"/>
<circle cx="406.4" cy="1786.6" r="4.3" fill="#bdbbbb" fill-opacity="0.6"/>
<circle cx="374.0" cy="1769.6" r="4.3" fill="#bdbbbb" fill-opacity="0.6"/>
<circle cx="438.8" cy="1778.1" r="4.3" fill="#bdbbbb" fill-opacity="0.6"/>
<circle cx="389.8" cy="1801.7" r="4.3" fill="#bdbbbb" fill-opacity="0.6"/>
<circle cx="390.5" cy="1796.2" r="4.3" fill="#bdbbbb" fill-opacity="0.6"/>
<circle cx="390.1" cy="1772.0" r="4.3" fill="#bdbbbb" fill-opacity="0.6"/>
<circle cx="417.6" cy="1764.2" r="4.3" fill="#bdbbbb" fill-opacity="0.6"/>
<circle cx="377.9" cy="1790.0" r="4.3" fill="#bdbbbb" fill-opacity="0.6"/>
<circle cx="419.4" cy="1763.3" r="4.3" fill="#bdbbbb" fill-opacity="0.6"/>
<circle cx="387.1" cy="1801.1" r="4.3" fill="#bdbbbb" fill-opacity="0.6"/>
<circle cx="397.2" cy="1801.3" r="4.3" fill="#bdbbbb" fill-opacity="0.6"/>
<circle cx="421.0" cy="1771.3" r="4.3" fill="#bdbbbb" fill-opacity="0.6"/>
<circle cx="386.5" cy="1792.7" r="4.3" fill="#bdbbbb" fill-opacity="0.6"/>
<circle cx="373.0" cy="1784.9" r="4.3" fill="#bdbbbb" fill-opacity="0.6"/>
<circle cx="371.6" cy="1785.5" r="4.3" fill="#bdbbbb" fill-opacity="0.6"/>
<circle cx="422.5" cy="1776.5" r="4.3" fill="#bdbbbb" fill-opacity="0.6"/>
<circle cx="406.2" cy="1793.8" r="4.3" fill="#bdbbbb" fill-opacity="0.6"/>
<circle cx="408.3" cy="1798.3" r="4.3" fill="#bdbbbb" fill-opacity="0.6"/>
<circle cx="409.4" cy="1786.0" r="4.3" fill="#bdbbbb" fill-opacity="0.6"/>
<circle cx="352.4" cy="1767.3" r="4.3" fill="#bdbbbb" fill-opacity="0.6"/>
<circle cx="420.5" cy="1771.8" r="4.3" fill="#bdbbbb" fill-opacity="0.6"/>
<circle cx="390.4" cy="1801.5" r="4.3" fill="#bdbbbb" fill-opacity="0.6"/>
<circle cx="403.5" cy="1801.2" r="4.3" fill="#bdbbbb" fill-opacity="0.6"/>
<circle cx="399.6" cy="1768.5" r="4.3" fill="#bdbbbb" fill-opacity="0.6"/>
<circle cx="419.1" cy="1772.5" r="4.3" fill="#bdbbbb" fill-opacity="0.6"/>
<circle cx="386.4" cy="1776.2" r="4.3" fill="#bdbbbb" fill-opacity="0.6"/>
<circle cx="379.3" cy="1784.8" r="4.3" fill="#bdbbbb" fill-opacity="0.6"/>
<circle cx="402.8" cy="1793.7" r="4.3" fill="#bdbbbb" fill-opacity="0.6"/>
<circle cx="402.4" cy="1764.1" r="4.3" fill="#bdbbbb" fill-opacity="0.6"/>
<circle cx="434.0" cy="1779.5" r="4.3" fill="#bdbbbb" fill-opacity="0.6"/>
<circle cx="381.6" cy="1800.2" r="4.3" fill="#bdbbbb" fill-opacity="0.6"/>
<circle cx="403.8" cy="1792.7" r="4.3" fill="#bdbbbb" fill-opacity="0.6"/>
<circle cx="362.9" cy="1782.1" r="4.3" fill="#bdbbbb" fill-opacity="0.6"/>
<circle cx="402.7" cy="1797.8" r="4.3" fill="#bdbbbb" fill-opacity="0.6"/>
<circle cx="431.8" cy="1787.2" r="4.3" fill="#bdbbbb" fill-opacity="0.6"/>
<circle cx="385.0" cy="1766.7" r="4.3" fill="#bdbbbb" fill-opacity="0.6"/>
<circle cx="375.1" cy="1763.4" r="4.3" fill="#bdbbbb" fill-opacity="0.6"/>
<circle cx="394.9" cy="1801.9" r="4.3" fill="#bdbbbb" fill-opacity="0.6"/>
<circle cx="417.0" cy="1795.0" r="4.3" fill="#bdbbbb" fill-opacity="0.6"/>
<circle cx="423.6" cy="1783.6" r="4.3" fill="#bdbbbb" fill-opacity="0.6"/>
<circle cx="356.0" cy="1770.6" r="4.3" fill="#bdbbbb" fill-opacity="0.6"/>
<circle cx="357.9" cy="1770.2" r="4.3" fill="#bdbbbb" fill-opacity="0.6"/>
<circle cx="352.6" cy="1765.9" r="4.3" fill="#bdbbbb" fill-opacity="0.6"/>
<circle cx="358.7" cy="1764.9" r="4.3" fill="#bdbbbb" fill-opacity="0.6"/>
<circle cx="379.5" cy="1783.9" r="4.3" fill="#bdbbbb" fill-opacity="0.6"/>
<circle cx="398.1" cy="1801.7" r="4.3" fill="#bdbbbb" fill-opacity="0.6"/>
<circle cx="404.8" cy="1799.5" r="4.3" fill="#bdbbbb" fill-opacity="0.6"/>
<circle cx="416.5" cy="1797.9" r="4.3" fill="#bdbbbb" fill-opacity="0.6"/>
<circle cx="372.1" cy="1777.6" r="4.3" fill="#bdbbbb" fill-opacity="0.6"/>
<circle cx="440.5" cy="1765.2" r="4.3" fill="#bdbbbb" fill-opacity="0.6"/>
<circle cx="441.3" cy="1771.6" r="4.3" fill="#bdbbbb" fill-opacity="0.6"/>
<circle cx="417.8" cy="1791.1" r="4.3" fill="#bdbbbb" fill-opacity="0.6"/>
<circle cx="435.6" cy="1763.4" r="4.3" fill="#bdbbbb" fill-opacity="0.6"/>
<circle cx="425.6" cy="1765.3" r="4.3" fill="#bdbbbb" fill-opacity="0.6"/>
<circle cx="439.2" cy="1763.4" r="4.3" fill="#bdbbbb" fill-opacity="0.6"/>
<circle cx="363.3" cy="1764.3" r="4.3" fill="#bdbbbb" fill-opacity="0.6"/>
<circle cx="367.5" cy="1780.1" r="4.3" fill="#bdbbbb" fill-opacity="0.6"/>
<circle cx="383.0" cy="1766.5" r="4.3" fill="#bdbbbb" fill-opacity="0.6"/>
<circle cx="403.6" cy="1764.3" r="4.3" fill="#bdbbbb" fill-opacity="0.6"/>
<circle cx="395.9" cy="1791.5" r="4.3" fill="#bdbbbb" fill-opacity="0.6"/>
<circle cx="375.4" cy="1784.6" r="4.3" fill="#bdbbbb" fill-opacity="0.6"/>
<circle cx="406.9" cy="1780.8" r="4.3" fill="#bdbbbb" fill-opacity="0.6"/>
<circle cx="396.9" cy="1799.4" r="4.3" fill="#bdbbbb" fill-opacity="0.6"/>
<circle cx="393.8" cy="1801.3" r="4.3" fill="#bdbbbb" fill-opacity="0.6"/>
<circle cx="414.3" cy="1786.2" r="4.3" fill="#bdbbbb" fill-opacity="0.6"/>
<circle cx="427.9" cy="1766.1" r="4.3" fill="#bdbbbb" fill-opacity="0.6"/>
<circle cx="374.1" cy="1795.2" r="4.3" fill="#bdbbbb" fill-opacity="0.6"/>
<circle cx="389.5" cy="1788.3" r="4.3" fill="#bdbbbb" fill-opacity="0.6"/>
<circle cx="369.0" cy="1769.2" r="4.3" fill="#bdbbbb" fill-opacity="0.6"/>
<circle cx="436.9" cy="1767.5" r="4.3" fill="#bdbbbb" fill-opacity="0.6"/>
<circle cx="409.8" cy="1794.9" r="4.3" fill="#bdbbbb" fill-opacity="0.6"/>
<circle cx="418.2" cy="1769.2" r="4.3" fill="#bdbbbb" fill-opacity="0.6"/>
<circle cx="396.9" cy="1772.7" r="4.3" fill="#bdbbbb" fill-opacity="0.6"/>
<circle cx="435.7" cy="1762.9" r="4.3" fill="#bdbbbb" fill-opacity="0.6"/>
<circle cx="413.7" cy="1775.8" r="4.3" fill="#bdbbbb" fill-opacity="0.6"/>
<circle cx="367.0" cy="1766.7" r="4.3" fill="#bdbbbb" fill-opacity="0.6"/>
<circle cx="409.3" cy="1792.4" r="4.3" fill="#bdbbbb" fill-opacity="0.6"/>
<circle cx="387.5" cy="1786.3" r="4.3" fill="#bdbbbb" fill-opacity="0.6"/>
<circle cx="427.4" cy="1787.4" r="4.3" fill="#bdbbbb" fill-opacity="0.6"/>
<circle cx="412.9" cy="1795.0" r="4.3" fill="#bdbbbb" fill-opacity="0.6"/>
<circle cx="391.7" cy="1779.9" r="4.3" fill="#bdbbbb" fill-opacity="0.6"/>
<circle cx="385.7" cy="1798.0" r="4.3" fill="#bdbbbb" fill-opacity="0.6"/>
<circle cx="372.2" cy="1783.3" r="4.3" fill="#bdbbbb" fill-opacity="0.6"/>
<circle cx="372.9" cy="1779.9" r="4.3" fill="#bdbbbb" fill-opacity="0.6"/>
<circle cx="416.1" cy="1797.2" r="4.3" fill="#bdbbbb" fill-opacity="0.6"/>
<circle cx="422.4" cy="1776.5" r="4.3" fill="#bdbbbb" fill-opacity="0.6"/>
<circle cx="419.2" cy="1794.0" r="4.3" fill="#bdbbbb" fill-opacity="0.6"/>
<circle cx="377.1" cy="1791.5" r="4.3" fill="#bdbbbb" fill-opacity="0.6"/>
<circle cx="378.0" cy="1787.5" r="4.3" fill="#bdbbbb" fill-opacity="0.6"/>
<circle cx="357.6" cy="1781.0" r="4.3" fill="#bdbbbb" fill-opacity="0.6"/>
<circle cx="435.7" cy="1762.8" r="4.3" fill="#bdbbbb" fill-opacity="0.6"/>
<circle cx="395.4" cy="1780.4" r="4.3" fill="#bdbbbb" fill-opacity="0.6"/>
<circle cx="359.8" cy="1787.3" r="4.3" fill="#bdbbbb" fill-opacity="0.6"/>
<circle cx="412.9" cy="1788.1" r="4.3" fill="#bdbbbb" fill-opacity="0.6"/>
<circle cx="426.3" cy="1764.4" r="4.3" fill="#bdbbbb" fill-opacity="0.6"/>
<circle cx="397.3" cy="1782.3" r="4.3" fill="#bdbbbb" fill-opacity="0.6"/>
<circle cx="355.0" cy="1774.5" r="4.3" fill="#bdbbbb" fill-opacity="0.6"/>
<circle cx="367.2" cy="1770.2" r="4.3" fill="#bdbbbb" fill-opacity="0.6"/>
<circle cx="403.7" cy="1793.7" r="4.3" fill="#bdbbbb" fill-opacity="0.6"/>
<circle cx="384.9" cy="1799.8" r="4.3" fill="#bdbbbb" fill-opacity="0.6"/>
<circle cx="407.1" cy="1793.5" r="4.3" fill="#bdbbbb" fill-opacity="0.6"/>
<circle cx="415.0" cy="1780.4" r="4.3" fill="#bdbbbb" fill-opacity="0.6"/>
<circle cx="418.6" cy="1768.8" r="4.3" fill="#bdbbbb" fill-opacity="0.6"/>
<circle cx="399.3" cy="1772.7" r="4.3" fill="#bdbbbb" fill-opacity="0.6"/>
<circle cx="375.4" cy="1788.6" r="4.3" fill="#bdbbbb" fill-opacity="0.6"/>
<circle cx="385.1" cy="1800.7" r="4.3" fill="#bdbbbb" fill-opacity="0.6"/>
<circle cx="417.7" cy="1797.9" r="4.3" fill="#bdbbbb" fill-opacity="0.6"/>
<circle cx="393.0" cy="1794.4" r="4.3" fill="#bdbbbb" fill-opacity="0.6"/>
<circle cx="404.2" cy="1793.6" r="4.3" fill="#bdbbbb" fill-opacity="0.6"/>
<circle cx="400.1" cy="1801.4" r="4.3" fill="#bdbbbb" fill-opacity="0.6"/>
<circle cx="400.3" cy="1766.9" r="4.3" fill="#bdbbbb" fill-opacity="0.6"/>
<circle cx="398.3" cy="1765.2" r="4.3" fill="#bdbbbb" fill-opacity="0.6"/>
<circle cx="394.6" cy="1766.7" r="4.3" fill="#bdbbbb" fill-opacity="0.6"/>
<circle cx="366.7" cy="1793.8" r="4.3" fill="#bdbbbb" fill-opacity="0.6"/>
<circle cx="356.1" cy="1776.0" r="4.3" fill="#bdbbbb" fill-opacity="0.6"/>
<circle cx="384.5" cy="1774.7" r="4.3" fill="#bdbbbb" fill-opacity="0.6"/>
<circle cx="378.5" cy="1762.6" r="4.3" fill="#bdbbbb" fill-opacity="0.6"/>
<circle cx="393.3" cy="1789.0" r="4.3" fill="#bdbbbb" fill-opacity="0.6"/>
<circle cx="387.1" cy="1766.9" r="4.3" fill="#bdbbbb" fill-opacity="0.6"/>
<circle cx="361.9" cy="1762.8" r="4.3" fill="#bdbbbb" fill-opacity="0.6"/>
<circle cx="365.8" cy="1779.1" r="4.3" fill="#bdbbbb" fill-opacity="0.6"/>
<circle cx="364.7" cy="1784.0" r="4.3" fill="#bdbbbb" fill-opacity="0.6"/>
<circle cx="417.6" cy="1792.9" r="4.3" fill="#bdbbbb" fill-opacity="0.6"/>
<circle cx="410.9" cy="1795.1" r="4.3" fill="#bdbbbb" fill-opacity="0.6"/>
<circle cx="425.1" cy="1786.1" r="4.3" fill="#bdbbbb" fill-opacity="0.6"/>
<circle cx="352.6" cy="1766.7" r="4.3" fill="#bdbbbb" fill-opacity="0.6"/>
<circle cx="439.4" cy="1775.4" r="4.3" fill="#bdbbbb" fill-opacity="0.6"/>
<circle cx="401.1" cy="1780.7" r="4.3" fill="#bdbbbb" fill-opacity="0.6"/>
<circle cx="401.3" cy="1772.4" r="4.3" fill="#bdbbbb" fill-opacity="0.6"/>
<circle cx="400.4" cy="1792.6" r="4.3" fill="#bdbbbb" fill-opacity="0.6"/>
<circle cx="382.3" cy="1763.7" r="4.3" fill="#bdbbbb" fill-opacity="0.6"/>
<circle cx="361.7" cy="1777.9" r="4.3" fill="#bdbbbb" fill-opacity="0.6"/>
<circle cx="415.5" cy="1763.5" r="4.3" fill="#bdbbbb" fill-opacity="0.6"/>
<circle cx="375.5" cy="1762.5" r="4.3" fill="#bdbbbb" fill-opacity="0.6"/>
<circle cx="418.8" cy="1786.5" r="4.3" fill="#bdbbbb" fill-opacity="0.6"/>
<circle cx="356.2" cy="1772.7" r="4.3" fill="#bdbbbb" fill-opacity="0.6"/>
<circle cx="403.1" cy="1798.8" r="4.3" fill="#bdbbbb" fill-opacity="0.6"/>
<circle cx="407.4" cy="1792.5" r="4.3" fill="#bdbbbb" fill-opacity="0.6"/>
<circle cx="365.3" cy="1790.1" r="4.3" fill="#bdbbbb" fill-opacity="0.6"/>
<circle cx="433.1" cy="1767.1" r="4.3" fill="#bdbbbb" fill-opacity="0.6"/>
<circle cx="406.7" cy="1773.9" r="4.3" fill="#bdbbbb" fill-opacity="0.6"/>
<circle cx="397.3" cy="1790.4" r="4.3" fill="#bdbbbb" fill-opacity="0.6"/>
<circle cx="403.3" cy="1764.4" r="4.3" fill="#bdbbbb" fill-opacity="0.6"/>
<circle cx="378.2" cy="1780.8" r="4.3" fill="#bdbbbb" fill-opacity="0.6"/>
<circle cx="402.4" cy="1779.9" r="4.3" fill="#bdbbbb" fill-opacity="0.6"/>
<circle cx="384.9" cy="1763.5" r="4.3" fill="#bdbbbb" fill-opacity="0.6"/>
<circle cx="396.2" cy="1770.2" r="4.3" fill="#bdbbbb" fill-opacity="0.6"/>
<circle cx="389.5" cy="1769.1" r="4.3" fill="#bdbbbb" fill-opacity="0.6"/>
<circle cx="366.4" cy="1780.5" r="4.3" fill="#bdbbbb" fill-opacity="0.6"/>
<circle cx="402.8" cy="1771.7" r="4.3" fill="#bdbbbb" fill-opacity="0.6"/>
<circle cx="429.1" cy="1786.8" r="4.3" fill="#bdbbbb" fill-opacity="0.6"/>
<circle cx="400.9" cy="1787.1" r="4.3" fill="#bdbbbb" fill-opacity="0.6"/>
<circle cx="406.7" cy="1801.3" r="4.3" fill="#bdbbbb" fill-opacity="0.6"/>
<circle cx="394.5" cy="1782.8" r="4.3" fill="#bdbbbb" fill-opacity="0.6"/>
<circle cx="391.0" cy="1799.7" r="4.3" fill="#bdbbbb" fill-opacity="0.6"/>
<circle cx="377.7" cy="1794.9" r="4.3" fill="#bdbbbb" fill-opacity="0.6"/>
<circle cx="376.0" cy="1769.1" r="4.3" fill="#bdbbbb" fill-opacity="0.6"/>
<circle cx="385.0" cy="1782.2" r="4.3" fill="#bdbbbb" fill-opacity="0.6"/>
<circle cx="357.3" cy="1770.4" r="4.3" fill="#bdbbbb" fill-opacity="0.6"/>
<circle cx="434.6" cy="1764.8" r="4.3" fill="#bdbbbb" fill-opacity="0.6"/>
<circle cx="413.9" cy="1793.7" r="4.3" fill="#bdbbbb" fill-opacity="0.6"/>
<circle cx="401.1" cy="1787.4" r="4.3" fill="#bdbbbb" fill-opacity="0.6"/>
<circle cx="412.5" cy="1780.5" r="4.3" fill="#bdbbbb" fill-opacity="0.6"/>
<circle cx="429.2" cy="1779.2" r="4.3" fill="#bdbbbb" fill-opacity="0.6"/>
<circle cx="392.1" cy="1771.5" r="4.3" fill="#bdbbbb" fill-opacity="0.6"/>
<circle cx="400.8" cy="1793.0" r="4.3" fill="#bdbbbb" fill-opacity="0.6"/>
<circle cx="411.9" cy="1792.2" r="4.3" fill="#bdbbbb" fill-opacity="0.6"/>
<circle cx="389.2" cy="1777.1" r="4.3" fill="#bdbbbb" fill-opacity="0.6"/>
<circle cx="385.0" cy="1764.3" r="4.3" fill="#bdbbbb" fill-opacity="0.6"/>
<circle cx="380.8" cy="1799.8" r="4.3" fill="#bdbbbb" fill-opacity="0.6"/>
<circle cx="411.1" cy="1798.8" r="4.3" fill="#bdbbbb" fill-opacity="0.6"/>
<circle cx="374.4" cy="1793.1" r="4.3" fill="#bdbbbb" fill-opacity="0.6"/>
<circle cx="422.5" cy="1795.7" r="4.3" fill="#bdbbbb" fill-opacity="0.6"/>
<circle cx="362.8" cy="1775.0" r="4.3" fill="#bdbbbb" fill-opacity="0.6"/>
<circle cx="373.6" cy="1768.4" r="4.3" fill="#bdbbbb" fill-opacity="0.6"/>
<circle cx="356.3" cy="1772.2" r="4.3" fill="#bdbbbb" fill-opacity="0.6"/>
<circle cx="383.4" cy="1770.6" r="4.3" fill="#bdbbbb" fill-opacity="0.6"/>
<circle cx="429.0" cy="1792.0" r="4.3" fill="#bdbbbb" fill-opacity="0.6"/>
<circle cx="435.6" cy="1762.3" r="4.3" fill="#bdbbbb" fill-opacity="0.6"/>
<circle cx="418.3" cy="1797.8" r="4.3" fill="#bdbbbb" fill-opacity="0.6"/>
<circle cx="386.1" cy="1782.1" r="4.3" fill="#bdbbbb" fill-opacity="0.6"/>
<circle cx="376.4" cy="1770.8" r="4.3" fill="#bdbbbb" fill-opacity="0.6"/>
<circle cx="373.8" cy="1772.2" r="4.3" fill="#bdbbbb" fill-opacity="0.6"/>
<circle cx="357.6" cy="1778.9" r="4.3" fill="#bdbbbb" fill-opacity="0.6"/>
<circle cx="389.8" cy="1767.3" r="4.3" fill="#bdbbbb" fill-opacity="0.6"/>
<circle cx="428.8" cy="1763.1" r="4.3" fill="#bdbbbb" fill-opacity="0.6"/>
<circle cx="378.3" cy="1790.6" r="4.3" fill="#bdbbbb" fill-opacity="0.6"/>
<circle cx="426.8" cy="1792.8" r="4.3" fill="#bdbbbb" fill-opacity="0.6"/>
<circle cx="382.9" cy="1793.6" r="4.3" fill="#bdbbbb" fill-opacity="0.6"/>
<circle cx="413.2" cy="1786.4" r="4.3" fill="#bdbbbb" fill-opacity="0.6"/>
<circle cx="390.5" cy="1795.8" r="4.3" fill="#bdbbbb" fill-opacity="0.6"/>
<circle cx="386.8" cy="1772.4" r="4.3" fill="#bdbbbb" fill-opacity="0.6"/>
<circle cx="430.8" cy="1763.7" r="4.3" fill="#bdbbbb" fill-opacity="0.6"/>
<circle cx="398.4" cy="1788.8" r="4.3" fill="#bdbbbb" fill-opacity="0.6"/>
<circle cx="434.0" cy="1784.2" r="4.3" fill="#bdbbbb" fill-opacity="0.6"/>
<circle cx="435.3" cy="1763.4" r="4.3" fill="#bdbbbb" fill-opacity="0.6"/>
<circle cx="396.2" cy="1773.9" r="4.3" fill="#bdbbbb" fill-opacity="0.6"/>
<circle cx="380.3" cy="1779.7" r="4.3" fill="#bdbbbb" fill-opacity="0.6"/>
<circle cx="402.4" cy="1777.1" r="4.3" fill="#bdbbbb" fill-opacity="0.6"/>
<circle cx="370.5" cy="1774.5" r="4.3" fill="#bdbbbb" fill-opacity="0.6"/>
<circle cx="379.5" cy="1762.2" r="4.3" fill="#bdbbbb" fill-opacity="0.6"/>
<circle cx="358.2" cy="1782.9" r="4.3" fill="#bdbbbb" fill-opacity="0.6"/>
<circle cx="432.3" cy="1764.0" r="4.3" fill="#bdbbbb" fill-opacity="0.6"/>
<circle cx="356.8" cy="1762.3" r="4.3" fill="#bdbbbb" fill-opacity="0.6"/>
<circle cx="412.1" cy="1776.1" r="4.3" fill="#bdbbbb" fill-opacity="0.6"/>
<circle cx="400.0" cy="1788.6" r="4.3" fill="#bdbbbb" fill-opacity="0.6"/>
<circle cx="386.6" cy="1778.8" r="4.3" fill="#bdbbbb" fill-opacity="0.6"/>
<circle cx="417.4" cy="1763.7" r="4.3" fill="#bdbbbb" fill-opacity="0.6"/>
<circle cx="422.1" cy="1796.4" r="4.3" fill="#bdbbbb" fill-opacity="0.6"/>
<circle cx="391.5" cy="1773.1" r="4.3" fill="#bdbbbb" fill-opacity="0.6"/>
<circle cx="416.4" cy="1772.3" r="4.3" fill="#bdbbbb" fill-opacity="0.6"/>
<circle cx="373.8" cy="1791.1" r="4.3" fill="#bdbbbb" fill-opacity="0.6"/>
<circle cx="435.4" cy="1770.6" r="4.3" fill="#bdbbbb" fill-opacity="0.6"/>
<circle cx="369.9" cy="1785.9" r="4.3" fill="#bdbbbb" fill-opacity="0.6"/>
<circle cx="389.7" cy="1776.3" r="4.3" fill="#bdbbbb" fill-opacity="0.6"/>
<circle cx="419.2" cy="1790.3" r="4.3" fill="#bdbbbb" fill-opacity="0.6"/>
<circle cx="373.1" cy="1794.3" r="4.3" fill="#bdbbbb" fill-opacity="0.6"/>
<circle cx="410.4" cy="1765.2" r="4.3" fill="#bdbbbb" fill-opacity="0.6"/>
<circle cx="366.3" cy="1790.0" r="4.3" fill="#bdbbbb" fill-opacity="0.6"/>
<circle cx="422.5" cy="1782.7" r="4.3" fill="#bdbbbb" fill-opacity="0.6"/>
<circle cx="420.1" cy="1792.1" r="4.3" fill="#bdbbbb" fill-opacity="0.6"/>
<circle cx="392.1" cy="1783.8" r="4.3" fill="#bdbbbb" fill-opacity="0.6"/>
<circle cx="412.5" cy="1787.0" r="4.3" fill="#bdbbbb" fill-opacity="0.6"/>
<circle cx="418.8" cy="1772.0" r="4.3" fill="#bdbbbb" fill-opacity="0.6"/>
<circle cx="441.3" cy="1776.6" r="4.3" fill="#bdbbbb" fill-opacity="0.6"/>
<circle cx="422.2" cy="1772.2" r="4.3" fill="#bdbbbb" fill-opacity="0.6"/>
<circle cx="410.4" cy="1796.6" r="4.3" fill="#bdbbbb" fill-opacity="0.6"/>
<circle cx="424.8" cy="1788.0" r="4.3" fill="#bdbbbb" fill-opacity="0.6"/>
<circle cx="382.7" cy="1764.0" r="4.3" fill="#bdbbbb" fill-opacity="0.6"/>
<circle cx="396.6" cy="1800.9" r="4.3" fill="#bdbbbb" fill-opacity="0.6"/>
<circle cx="372.8" cy="1776.1" r="4.3" fill="#bdbbbb" fill-opacity="0.6"/>
<circle cx="351.2" cy="1773.8" r="4.3" fill="#bdbbbb" fill-opacity="0.6"/>
<circle cx="362.3" cy="1790.2" r="4.3" fill="#bdbbbb" fill-opacity="0.6"/>
<circle cx="364.9" cy="1791.8" r="4.3" fill="#bdbbbb" fill-opacity="0.6"/>
<circle cx="390.1" cy="1767.8" r="4.3" fill="#bdbbbb" fill-opacity="0.6"/>
<circle cx="352.6" cy="1765.2" r="4.3" fill="#bdbbbb" fill-opacity="0.6"/>
<circle cx="407.5" cy="1801.0" r="4.3" fill="#bdbbbb" fill-opacity="0.6"/>
<circle cx="412.1" cy="1788.3" r="4.3" fill="#bdbbbb" fill-opacity="0.6"/>
<circle cx="352.1" cy="1767.8" r="4.3" fill="#bdbbbb" fill-opacity="0.6"/>
<circle cx="395.4" cy="1772.0" r="4.3" fill="#bdbbbb" fill-opacity="0.6"/>
<circle cx="393.0" cy="1792.5" r="4.3" fill="#bdbbbb" fill-opacity="0.6"/>
<circle cx="357.2" cy="1776.7" r="4.3" fill="#bdbbbb" fill-opacity="0.6"/>
<circle cx="388.5" cy="1768.7" r="4.3" fill="#bdbbbb" fill-opacity="0.6"/>
<circle cx="388.7" cy="1772.7" r="4.3" fill="#bdbbbb" fill-opacity="0.6"/>
<circle cx="377.8" cy="1786.7" r="4.3" fill="#bdbbbb" fill-opacity="0.6"/>
<circle cx="397.3" cy="1800.3" r="4.3" fill="#bdbbbb" fill-opacity="0.6"/>
<circle cx="395.3" cy="1800.7" r="4.3" fill="#bdbbbb" fill-opacity="0.6"/>
<circle cx="435.3" cy="1785.2" r="4.3" fill="#bdbbbb" fill-opacity="0.6"/>
<circle cx="415.2" cy="1776.9" r="4.3" fill="#bdbbbb" fill-opacity="0.6"/>
<circle cx="379.0" cy="1793.1" r="4.3" fill="#bdbbbb" fill-opacity="0.6"/>
<circle cx="383.9" cy="1776.9" r="4.3" fill="#bdbbbb" fill-opacity="0.6"/>
<circle cx="376.7" cy="1767.0" r="4.3" fill="#bdbbbb" fill-opacity="0.6"/>
<circle cx="423.5" cy="1773.6" r="4.3" fill="#bdbbbb" fill-opacity="0.6"/>
<circle cx="383.0" cy="1800.9" r="4.3" fill="#bdbbbb" fill-opacity="0.6"/>
<circle cx="408.0" cy="1787.7" r="4.3" fill="#bdbbbb" fill-opacity="0.6"/>
<circle cx="425.7" cy="1773.1" r="4.3" fill="#bdbbbb" fill-opacity="0.6"/>
<circle cx="358.0" cy="1778.0" r="4.3" fill="#bdbbbb" fill-opacity="0.6"/>
<circle cx="413.4" cy="1764.1" r="4.3" fill="#bdbbbb" fill-opacity="0.6"/>
<circle cx="397.6" cy="1800.8" r="4.3" fill="#bdbbbb" fill-opacity="0.6"/>
<circle cx="387.3" cy="1800.4" r="4.3" fill="#bdbbbb" fill-opacity="0.6"/>
<circle cx="429.5" cy="1770.4" r="4.3" fill="#bdbbbb" fill-opacity="0.6"/>
<circle cx="412.4" cy="1775.4" r="4.3" fill="#bdbbbb" fill-opacity="0.6"/>
<circle cx="388.6" cy="1785.6" r="4.3" fill="#bdbbbb" fill-opacity="0.6"/>
<circle cx="408.4" cy="1790.5" r="4.3" fill="#bdbbbb" fill-opacity="0.6"/>
<circle cx="404.2" cy="1801.4" r="4.3" fill="#bdbbbb" fill-opacity="0.6"/>
<circle cx="385.0" cy="1790.4" r="4.3" fill="#bdbbbb" fill-opacity="0.6"/>
<circle cx="377.1" cy="1786.9" r="4.3" fill="#bdbbbb" fill-opacity="0.6"/>
<circle cx="401.9" cy="1799.5" r="4.3" fill="#bdbbbb" fill-opacity="0.6"/>
<circle cx="425.2" cy="1768.9" r="4.3" fill="#bdbbbb" fill-opacity="0.6"/>
<circle cx="426.2" cy="1792.6" r="4.3" fill="#bdbbbb" fill-opacity="0.6"/>
<circle cx="395.9" cy="1801.6" r="4.3" fill="#bdbbbb" fill-opacity="0.6"/>
<circle cx="361.7" cy="1767.7" r="4.3" fill="#bdbbbb" fill-opacity="0.6"/>
<circle cx="362.8" cy="1762.8" r="4.3" fill="#bdbbbb" fill-opacity="0.6"/>
<circle cx="362.2" cy="1791.7" r="4.3" fill="#bdbbbb" fill-opacity="0.6"/>
<circle cx="410.8" cy="1780.1" r="4.3" fill="#bdbbbb" fill-opacity="0.6"/>
<circle cx="407.5" cy="1769.6" r="4.3" fill="#bdbbbb" fill-opacity="0.6"/>
<circle cx="399.6" cy="1788.4" r="4.3" fill="#bdbbbb" fill-opacity="0.6"/>
<circle cx="407.0" cy="1762.9" r="4.3" fill="#bdbbbb" fill-opacity="0.6"/>
<circle cx="351.9" cy="1766.1" r="4.3" fill="#bdbbbb" fill-opacity="0.6"/>
<circle cx="414.0" cy="1796.6" r="4.3" fill="#bdbbbb" fill-opacity="0.6"/>
<circle cx="379.3" cy="1798.8" r="4.3" fill="#bdbbbb" fill-opacity="0.6"/>
<circle cx="367.5" cy="1774.4" r="4.3" fill="#bdbbbb" fill-opacity="0.6"/>
<circle cx="362.2" cy="1775.2" r="4.3" fill="#bdbbbb" fill-opacity="0.6"/>
<circle cx="421.6" cy="1783.6" r="4.3" fill="#bdbbbb" fill-opacity="0.6"/>
<circle cx="405.4" cy="1800.4" r="4.3" fill="#bdbbbb" fill-opacity="0.6"/>
<circle cx="384.0" cy="1781.2" r="4.3" fill="#bdbbbb" fill-opacity="0.6"/>
<circle cx="407.2" cy="1775.2" r="4.3" fill="#bdbbbb" fill-opacity="0.6"/>
<circle cx="385.5" cy="1789.0" r="4.3" fill="#bdbbbb" fill-opacity="0.6"/>
<circle cx="368.0" cy="1786.7" r="4.3" fill="#bdbbbb" fill-opacity="0.6"/>
<circle cx="424.4" cy="1764.3" r="4.3" fill="#bdbbbb" fill-opacity="0.6"/>
<circle cx="430.7" cy="1769.6" r="4.3" fill="#bdbbbb" fill-opacity="0.6"/>
<circle cx="385.3" cy="1799.7" r="4.3" fill="#bdbbbb" fill-opacity="0.6"/>
<circle cx="402.5" cy="1773.1" r="4.3" fill="#bdbbbb" fill-opacity="0.6"/>
<circle cx="355.1" cy="1773.8" r="4.3" fill="#bdbbbb" fill-opacity="0.6"/>
<circle cx="365.5" cy="1783.5" r="4.3" fill="#bdbbbb" fill-opacity="0.6"/>
<circle cx="370.2" cy="1784.2" r="4.3" fill="#bdbbbb" fill-opacity="0.6"/>
<circle cx="419.7" cy="1787.7" r="4.3" fill="#bdbbbb" fill-opacity="0.6"/>
<circle cx="437.2" cy="1767.3" r="4.3" fill="#bdbbbb" fill-opacity="0.6"/>
<circle cx="407.5" cy="1789.7" r="4.3" fill="#bdbbbb" fill-opacity="0.6"/>
<circle cx="378.9" cy="1788.1" r="4.3" fill="#bdbbbb" fill-opacity="0.6"/>
<circle cx="413.0" cy="1764.7" r="4.3" fill="#bdbbbb" fill-opacity="0.6"/>
<circle cx="430.4" cy="1777.2" r="4.3" fill="#bdbbbb" fill-opacity="0.6"/>
<circle cx="418.7" cy="1771.1" r="4.3" fill="#bdbbbb" fill-opacity="0.6"/>
<circle cx="411.4" cy="1791.2" r="4.3" fill="#bdbbbb" fill-opacity="0.6"/>
<circle cx="378.2" cy="1786.6" r="4.3" fill="#bdbbbb" fill-opacity="0.6"/>
<circle cx="389.3" cy="1800.2" r="4.3" fill="#bdbbbb" fill-opacity="0.6"/>
<circle cx="429.2" cy="1773.6" r="4.3" fill="#bdbbbb" fill-opacity="0.6"/>
<circle cx="393.7" cy="1799.0" r="4.3" fill="#bdbbbb" fill-opacity="0.6"/>
<circle cx="402.4" cy="1763.0" r="4.3" fill="#bdbbbb" fill-opacity="0.6"/>
<circle cx="418.5" cy="1797.0" r="4.3" fill="#bdbbbb" fill-opacity="0.6"/>
<circle cx="425.7" cy="1772.6" r="4.3" fill="#bdbbbb" fill-opacity="0.6"/>
<circle cx="419.9" cy="1792.4" r="4.3" fill="#bdbbbb" fill-opacity="0.6"/>
<circle cx="405.0" cy="1795.2" r="4.3" fill="#bdbbbb" fill-opacity="0.6"/>
<circle cx="388.0" cy="1780.3" r="4.3" fill="#bdbbbb" fill-opacity="0.6"/>
<circle cx="377.4" cy="1789.2" r="4.3" fill="#bdbbbb" fill-opacity="0.6"/>
<circle cx="362.7" cy="1785.1" r="4.3" fill="#bdbbbb" fill-opacity="0.6"/>
<circle cx="351.8" cy="1773.6" r="4.3" fill="#bdbbbb" fill-opacity="0.6"/>
<circle cx="355.7" cy="1764.8" r="4.3" fill="#bdbbbb" fill-opacity="0.6"/>
<circle cx="364.8" cy="1764.5" r="4.3" fill="#bdbbbb" fill-opacity="0.6"/>
<circle cx="431.2" cy="1768.0" r="4.3" fill="#bdbbbb" fill-opacity="0.6"/>
<circle cx="358.3" cy="1783.5" r="4.3" fill="#bdbbbb" fill-opacity="0.6"/>
<circle cx="425.9" cy="1769.1" r="4.3" fill="#bdbbbb" fill-opacity="0.6"/>
<circle cx="380.6" cy="1787.0" r="4.3" fill="#bdbbbb" fill-opacity="0.6"/>
<circle cx="383.6" cy="1762.6" r="4.3" fill="#bdbbbb" fill-opacity="0.6"/>
<circle cx="376.3" cy="1775.0" r="4.3" fill="#bdbbbb" fill-opacity="0.6"/>
<circle cx="405.7" cy="1800.5" r="4.3" fill="#bdbbbb" fill-opacity="0.6"/>
<circle cx="401.6" cy="1793.0" r="4.3" fill="#bdbbbb" fill-opacity="0.6"/>
<circle cx="417.1" cy="1795.8" r="4.3" fill="#bdbbbb" fill-opacity="0.6"/>
<circle cx="388.7" cy="1785.2" r="4.3" fill="#bdbbbb" fill-opacity="0.6"/>
<circle cx="399.4" cy="1773.1" r="4.3" fill="#bdbbbb" fill-opacity="0.6"/>
<circle cx="366.7" cy="1770.3" r="4.3" fill="#bdbbbb" fill-opacity="0.6"/>
<circle cx="373.6" cy="1794.5" r="4.3" fill="#bdbbbb" fill-opacity="0.6"/>
<circle cx="433.5" cy="1774.0" r="4.3" fill="#bdbbbb" fill-opacity="0.6"/>
<circle cx="403.2" cy="1790.2" r="4.3" fill="#bdbbbb" fill-opacity="0.6"/>
<circle cx="355.4" cy="1764.8" r="4.3" fill="#bdbbbb" fill-opacity="0.6"/>
<circle cx="363.7" cy="1764.5" r="4.3" fill="#bdbbbb" fill-opacity="0.6"/>
<circle cx="357.9" cy="1769.0" r="4.3" fill="#bdbbbb" fill-opacity="0.6"/>
<circle cx="437.9" cy="1765.4" r="4.3" fill="#bdbbbb" fill-opacity="0.6"/>
<circle cx="401.0" cy="1800.6" r="4.3" fill="#bdbbbb" fill-opacity="0.6"/>
<circle cx="382.8" cy="1791.0" r="4.3" fill="#bdbbbb" fill-opacity="0.6"/>
<circle cx="384.5" cy="1779.3" r="4.3" fill="#bdbbbb" fill-opacity="0.6"/>
<circle cx="376.3" cy="1788.7" r="4.3" fill="#bdbbbb" fill-opacity="0.6"/>
<circle cx="361.5" cy="1773.2" r="4.3" fill="#bdbbbb" fill-opacity="0.6"/>
<circle cx="430.4" cy="1787.6" r="4.3" fill="#bdbbbb" fill-opacity="0.6"/>
<circle cx="368.8" cy="1787.8" r="4.3" fill="#bdbbbb" fill-opacity="0.6"/>
<circle cx="406.5" cy="1771.2" r="4.3" fill="#bdbbbb" fill-opacity="0.6"/>
<circle cx="386.1" cy="1784.1" r="4.3" fill="#bdbbbb" fill-opacity="0.6"/>
<circle cx="359.6" cy="1762.1" r="4.3" fill="#bdbbbb" fill-opacity="0.6"/>
<circle cx="404.7" cy="1771.5" r="4.3" fill="#bdbbbb" fill-opacity="0.6"/>
<circle cx="416.5" cy="1791.3" r="4.3" fill="#bdbbbb" fill-opacity="0.6"/>
<circle cx="379.1" cy="1794.1" r="4.3" fill="#bdbbbb" fill-opacity="0.6"/>
<circle cx="378.9" cy="1795.5" r="4.3" fill="#bdbbbb" fill-opacity="0.6"/>
<circle cx="372.5" cy="1772.7" r="4.3" fill="#bdbbbb" fill-opacity="0.6"/>
<circle cx="386.1" cy="1773.2" r="4.3" fill="#bdbbbb" fill-opacity="0.6"/>
<circle cx="372.1" cy="1789.7" r="4.3" fill="#bdbbbb" fill-opacity="0.6"/>
<circle cx="406.3" cy="1770.5" r="4.3" fill="#bdbbbb" fill-opacity="0.6"/>
<circle cx="438.6" cy="1779.2" r="4.3" fill="#bdbbbb" fill-opacity="0.6"/>
<circle cx="356.6" cy="1763.7" r="4.3" fill="#bdbbbb" fill-opacity="0.6"/>
<circle cx="364.9" cy="1781.4" r="4.3" fill="#bdbbbb" fill-opacity="0.6"/>
<circle cx="393.3" cy="1791.2" r="4.3" fill="#bdbbbb" fill-opacity="0.6"/>
<circle cx="405.3" cy="1782.6" r="4.3" fill="#bdbbbb" fill-opacity="0.6"/>
<circle cx="394.2" cy="1789.2" r="4.3" fill="#bdbbbb" fill-opacity="0.6"/>
<circle cx="412.4" cy="1772.9" r="4.3" fill="#bdbbbb" fill-opacity="0.6"/>
<circle cx="379.0" cy="1766.9" r="4.3" fill="#bdbbbb" fill-opacity="0.6"/>
<circle cx="385.9" cy="1786.3" r="4.3" fill="#bdbbbb" fill-opacity="0.6"/>
<circle cx="413.9" cy="1790.4" r="4.3" fill="#bdbbbb" fill-opacity="0.6"/>
<circle cx="402.7" cy="1792.0" r="4.3" fill="#bdbbbb" fill-opacity="0.6"/>
<circle cx="390.6" cy="1775.0" r="4.3" fill="#bdbbbb" fill-opacity="0.6"/>
<circle cx="425.7" cy="1789.4" r="4.3" fill="#bdbbbb" fill-opacity="0.6"/>
<circle cx="404.7" cy="1796.0" r="4.3" fill="#bdbbbb" fill-opacity="0.6"/>
<circle cx="363.5" cy="1790.9" r="4.3" fill="#bdbbbb" fill-opacity="0.6"/>
<circle cx="436.3" cy="1778.1" r="4.3" fill="#bdbbbb" fill-opacity="0.6"/>
<circle cx="410.2" cy="1790.3" r="4.3" fill="#bdbbbb" fill-opacity="0.6"/>
<circle cx="386.9" cy="1796.9" r="4.3" fill="#bdbbbb" fill-opacity="0.6"/>
<circle cx="411.4" cy="1763.4" r="4.3" fill="#bdbbbb" fill-opacity="0.6"/>
<circle cx="387.0" cy="1778.8" r="4.3" fill="#bdbbbb" fill-opacity="0.6"/>
<circle cx="368.5" cy="1765.9" r="4.3" fill="#bdbbbb" fill-opacity="0.6"/>
<circle cx="425.6" cy="1792.3" r="4.3" fill="#bdbbbb" fill-opacity="0.6"/>
<circle cx="404.4" cy="1763.9" r="4.3" fill="#bdbbbb" fill-opacity="0.6"/>
<circle cx="407.3" cy="1773.0" r="4.3" fill="#bdbbbb" fill-opacity="0.6"/>
<circle cx="435.5" cy="1770.7" r="4.3" fill="#bdbbbb" fill-opacity="0.6"/>
<circle cx="408.9" cy="1776.5" r="4.3" fill="#bdbbbb" fill-opacity="0.6"/>
<circle cx="413.1" cy="1778.9" r="4.3" fill="#bdbbbb" fill-opacity="0.6"/>
<circle cx="382.4" cy="1789.2" r="4.3" fill="#bdbbbb" fill-opacity="0.6"/>
<circle cx="348.3" cy="1762.5" r="4.3" fill="#bdbbbb" fill-opacity="0.6"/>
<circle cx="420.1" cy="1772.9" r="4.3" fill="#bdbbbb" fill-opacity="0.6"/>
<circle cx="393.6" cy="1783.4" r="4.3" fill="#bdbbbb" fill-opacity="0.6"/>
<circle cx="378.1" cy="1763.8" r="4.3" fill="#bdbbbb" fill-opacity="0.6"/>
<circle cx="412.9" cy="1783.2" r="4.3" fill="#bdbbbb" fill-opacity="0.6"/>
<circle cx="386.9" cy="1791.6" r="4.3" fill="#bdbbbb" fill-opacity="0.6"/>
<circle cx="362.8" cy="1790.5" r="4.3" fill="#bdbbbb" fill-opacity="0.6"/>
<circle cx="409.9" cy="1779.8" r="4.3" fill="#bdbbbb" fill-opacity="0.6"/>
<circle cx="420.8" cy="1795.7" r="4.3" fill="#bdbbbb" fill-opacity="0.6"/>
<circle cx="410.4" cy="1790.5" r="4.3" fill="#bdbbbb" fill-opacity="0.6"/>
<circle cx="392.6" cy="1779.7" r="4.3" fill="#bdbbbb" fill-opacity="0.6"/>
<circle cx="434.7" cy="1774.9" r="4.3" fill="#bdbbbb" fill-opacity="0.6"/>
<circle cx="373.1" cy="1776.4" r="4.3" fill="#bdbbbb" fill-opacity="0.6"/>
<circle cx="395.9" cy="1794.6" r="4.3" fill="#bdbbbb" fill-opacity="0.6"/>
<circle cx="433.2" cy="1779.4" r="4.3" fill="#bdbbbb" fill-opacity="0.6"/>
<circle cx="357.0" cy="1764.7" r="4.3" fill="#bdbbbb" fill-opacity="0.6"/>
<circle cx="357.9" cy="1784.2" r="4.3" fill="#bdbbbb" fill-opacity="0.6"/>
<circle cx="418.1" cy="1797.5" r="4.3" fill="#bdbbbb" fill-opacity="0.6"/>
<circle cx="430.2" cy="1773.3" r="4.3" fill="#bdbbbb" fill-opacity="0.6"/>
<circle cx="400.4" cy="1780.4" r="4.3" fill="#bdbbbb" fill-opacity="0.6"/>
<circle cx="431.3" cy="1779.1" r="4.3" fill="#bdbbbb" fill-opacity="0.6"/>
<circle cx="434.8" cy="1774.9" r="4.3" fill="#bdbbbb" fill-opacity="0.6"/>
<circle cx="373.1" cy="1775.4" r="4.3" fill="#bdbbbb" fill-opacity="0.6"/>
<circle cx="390.5" cy="1801.8" r="4.3" fill="#bdbbbb" fill-opacity="0.6"/>
<circle cx="406.1" cy="1767.6" r="4.3" fill="#bdbbbb" fill-opacity="0.6"/>
<circle cx="409.0" cy="1799.6" r="4.3" fill="#bdbbbb" fill-opacity="0.6"/>
<circle cx="361.8" cy="1790.5" r="4.3" fill="#bdbbbb" fill-opacity="0.6"/>
<circle cx="424.1" cy="1764.6" r="4.3" fill="#bdbbbb" fill-opacity="0.6"/>
<circle cx="425.8" cy="1793.7" r="4.3" fill="#bdbbbb" fill-opacity="0.6"/>
<circle cx="400.7" cy="1776.4" r="4.3" fill="#bdbbbb" fill-opacity="0.6"/>
<circle cx="358.1" cy="1773.0" r="4.3" fill="#bdbbbb" fill-opacity="0.6"/>
<circle cx="410.2" cy="1789.7" r="4.3" fill="#bdbbbb" fill-opacity="0.6"/>
<circle cx="403.1" cy="1764.6" r="4.3" fill="#bdbbbb" fill-opacity="0.6"/>
<circle cx="410.3" cy="1796.0" r="4.3" fill="#bdbbbb" fill-opacity="0.6"/>
<circle cx="350.6" cy="1774.2" r="4.3" fill="#bdbbbb" fill-opacity="0.6"/>
<circle cx="362.3" cy="1771.5" r="4.3" fill="#bdbbbb" fill-opacity="0.6"/>
<circle cx="393.8" cy="1777.1" r="4.3" fill="#bdbbbb" fill-opacity="0.6"/>
<circle cx="365.5" cy="1780.9" r="4.3" fill="#bdbbbb" fill-opacity="0.6"/>
<circle cx="370.8" cy="1775.4" r="4.3" fill="#bdbbbb" fill-opacity="0.6"/>
<circle cx="412.1" cy="1796.0" r="4.3" fill="#bdbbbb" fill-opacity="0.6"/>
<circle cx="392.2" cy="1799.6" r="4.3" fill="#bdbbbb" fill-opacity="0.6"/>
<circle cx="377.4" cy="1794.2" r="4.3" fill="#bdbbbb" fill-opacity="0.6"/>
<circle cx="385.4" cy="1776.1" r="4.3" fill="#bdbbbb" fill-opacity="0.6"/>
<circle cx="368.4" cy="1773.9" r="4.3" fill="#bdbbbb" fill-opacity="0.6"/>
<circle cx="393.8" cy="1798.7" r="4.3" fill="#bdbbbb" fill-opacity="0.6"/>
<circle cx="375.7" cy="1790.5" r="4.3" fill="#bdbbbb" fill-opacity="0.6"/>
<circle cx="410.1" cy="1789.8" r="4.3" fill="#bdbbbb" fill-opacity="0.6"/>
<circle cx="385.6" cy="1798.1" r="4.3" fill="#bdbbbb" fill-opacity="0.6"/>
<circle cx="408.2" cy="1799.9" r="4.3" fill="#bdbbbb" fill-opacity="0.6"/>
<circle cx="386.9" cy="1768.2" r="4.3" fill="#bdbbbb" fill-opacity="0.6"/>
<circle cx="441.0" cy="1777.1" r="4.3" fill="#bdbbbb" fill-opacity="0.6"/>
<circle cx="369.8" cy="1789.2" r="4.3" fill="#bdbbbb" fill-opacity="0.6"/>
<circle cx="418.6" cy="1781.6" r="4.3" fill="#bdbbbb" fill-opacity="0.6"/>
<circle cx="418.7" cy="1764.3" r="4.3" fill="#bdbbbb" fill-opacity="0.6"/>
<circle cx="414.8" cy="1789.0" r="4.3" fill="#bdbbbb" fill-opacity="0.6"/>
<circle cx="438.8" cy="1768.1" r="4.3" fill="#bdbbbb" fill-opacity="0.6"/>
<circle cx="410.7" cy="1777.6" r="4.3" fill="#bdbbbb" fill-opacity="0.6"/>
<circle cx="352.5" cy="1771.8" r="4.3" fill="#bdbbbb" fill-opacity="0.6"/>
<circle cx="402.8" cy="1764.3" r="4.3" fill="#bdbbbb" fill-opacity="0.6"/>
<circle cx="404.1" cy="1798.0" r="4.3" fill="#bdbbbb" fill-opacity="0.6"/>
<circle cx="349.9" cy="1764.0" r="4.3" fill="#bdbbbb" fill-opacity="0.6"/>
<circle cx="394.3" cy="1801.3" r="4.3" fill="#bdbbbb" fill-opacity="0.6"/>
<circle cx="408.3" cy="1797.5" r="4.3" fill="#bdbbbb" fill-opacity="0.6"/>
<circle cx="419.2" cy="1791.3" r="4.3" fill="#bdbbbb" fill-opacity="0.6"/>
<circle cx="378.5" cy="1777.0" r="4.3" fill="#bdbbbb" fill-opacity="0.6"/>
<circle cx="442.2" cy="1764.1" r="4.3" fill="#bdbbbb" fill-opacity="0.6"/>
<circle cx="431.2" cy="1765.6" r="4.3" fill="#bdbbbb" fill-opacity="0.6"/>
<circle cx="406.2" cy="1765.0" r="4.3" fill="#bdbbbb" fill-opacity="0.6"/>
<circle cx="399.5" cy="1797.2" r="4.3" fill="#bdbbbb" fill-opacity="0.6"/>
<circle cx="397.9" cy="1785.4" r="4.3" fill="#bdbbbb" fill-opacity="0.6"/>
<circle cx="440.4" cy="1765.7" r="4.3" fill="#bdbbbb" fill-opacity="0.6"/>
<circle cx="428.1" cy="1789.7" r="4.3" fill="#bdbbbb" fill-opacity="0.6"/>
<circle cx="381.5" cy="1796.3" r="4.3" fill="#bdbbbb" fill-opacity="0.6"/>
<circle cx="398.7" cy="1792.7" r="4.3" fill="#bdbbbb" fill-opacity="0.6"/>
<circle cx="403.3" cy="1770.4" r="4.3" fill="#bdbbbb" fill-opacity="0.6"/>
<circle cx="384.0" cy="1801.0" r="4.3" fill="#bdbbbb" fill-opacity="0.6"/>
<circle cx="389.7" cy="1788.6" r="4.3" fill="#bdbbbb" fill-opacity="0.6"/>
<circle cx="411.9" cy="1781.9" r="4.3" fill="#bdbbbb" fill-opacity="0.6"/>
<circle cx="353.1" cy="1769.9" r="4.3" fill="#bdbbbb" fill-opacity="0.6"/>
<circle cx="385.6" cy="1768.0" r="4.3" fill="#bdbbbb" fill-opacity="0.6"/>
<circle cx="394.7" cy="1788.0" r="4.3" fill="#bdbbbb" fill-opacity="0.6"/>
<circle cx="381.6" cy="1793.7" r="4.3" fill="#bdbbbb" fill-opacity="0.6"/>
<circle cx="404.5" cy="1766.6" r="4.3" fill="#bdbbbb" fill-opacity="0.6"/>
<circle cx="394.8" cy="1790.6" r="4.3" fill="#bdbbbb" fill-opacity="0.6"/>
<circle cx="390.5" cy="1764.2" r="4.3" fill="#bdbbbb" fill-opacity="0.6"/>
<circle cx="386.0" cy="1789.9" r="4.3" fill="#bdbbbb" fill-opacity="0.6"/>
<circle cx="381.1" cy="1795.6" r="4.3" fill="#bdbbbb" fill-opacity="0.6"/>
<circle cx="388.5" cy="1788.9" r="4.3" fill="#bdbbbb" fill-opacity="0.6"/>
<circle cx="373.2" cy="1766.3" r="4.3" fill="#bdbbbb" fill-opacity="0.6"/>
<circle cx="400.6" cy="1767.4" r="4.3" fill="#bdbbbb" fill-opacity="0.6"/>
<circle cx="409.9" cy="1795.9" r="4.3" fill="#bdbbbb" fill-opacity="0.6"/>
<circle cx="360.8" cy="1787.3" r="4.3" fill="#bdbbbb" fill-opacity="0.6"/>
<circle cx="417.7" cy="1786.5" r="4.3" fill="#bdbbbb" fill-opacity="0.6"/>
<circle cx="393.0" cy="1774.7" r="4.3" fill="#bdbbbb" fill-opacity="0.6"/>
<circle cx="395.2" cy="1779.8" r="4.3" fill="#bdbbbb" fill-opacity="0.6"/>
<circle cx="397.4" cy="1765.6" r="4.3" fill="#bdbbbb" fill-opacity="0.6"/>
<circle cx="400.3" cy="1772.7" r="4.3" fill="#bdbbbb" fill-opacity="0.6"/>
<circle cx="377.3" cy="1764.9" r="4.3" fill="#bdbbbb" fill-opacity="0.6"/>
<circle cx="420.5" cy="1766.3" r="4.3" fill="#bdbbbb" fill-opacity="0.6"/>
<circle cx="404.1" cy="1799.5" r="4.3" fill="#bdbbbb" fill-opacity="0.6"/>
<circle cx="390.1" cy="1777.7" r="4.3" fill="#bdbbbb" fill-opacity="0.6"/>
<circle cx="372.9" cy="1786.2" r="4.3" fill="#bdbbbb" fill-opacity="0.6"/>
<circle cx="430.0" cy="1762.9" r="4.3" fill="#bdbbbb" fill-opacity="0.6"/>
<circle cx="414.8" cy="1781.2" r="4.3" fill="#bdbbbb" fill-opacity="0.6"/>
<circle cx="375.3" cy="1780.2" r="4.3" fill="#bdbbbb" fill-opacity="0.6"/>
<circle cx="405.8" cy="1763.3" r="4.3" fill="#bdbbbb" fill-opacity="0.6"/>
<circle cx="354.8" cy="1783.2" r="4.3" fill="#bdbbbb" fill-opacity="0.6"/>
<circle cx="437.8" cy="1767.6" r="4.3" fill="#bdbbbb" fill-opacity="0.6"/>
<circle cx="376.4" cy="1790.6" r="4.3" fill="#bdbbbb" fill-opacity="0.6"/>
<circle cx="410.8" cy="1777.0" r="4.3" fill="#bdbbbb" fill-opacity="0.6"/>
<circle cx="374.8" cy="1795.6" r="4.3" fill="#bdbbbb" fill-opacity="0.6"/>
<circle cx="401.4" cy="1788.3" r="4.3" fill="#bdbbbb" fill-opacity="0.6"/>
<circle cx="367.4" cy="1790.3" r="4.3" fill="#bdbbbb" fill-opacity="0.6"/>
<circle cx="409.5" cy="1777.0" r="4.3" fill="#bdbbbb" fill-opacity="0.6"/>
<circle cx="401.0" cy="1773.1" r="4.3" fill="#bdbbbb" fill-opacity="0.6"/>
<circle cx="399.9" cy="1779.0" r="4.3" fill="#bdbbbb" fill-opacity="0.6"/>
<circle cx="410.1" cy="1795.6" r="4.3" fill="#bdbbbb" fill-opacity="0.6"/>
<circle cx="411.9" cy="1766.0" r="4.3" fill="#bdbbbb" fill-opacity="0.6"/>
<circle cx="379.5" cy="1763.8" r="4.3" fill="#bdbbbb" fill-opacity="0.6"/>
<circle cx="414.9" cy="1791.1" r="4.3" fill="#bdbbbb" fill-opacity="0.6"/>
<circle cx="391.6" cy="1801.5" r="4.3" fill="#bdbbbb" fill-opacity="0.6"/>
<circle cx="408.7" cy="1782.9" r="4.3" fill="#bdbbbb" fill-opacity="0.6"/>
<circle cx="419.6" cy="1793.5" r="4.3" fill="#bdbbbb" fill-opacity="0.6"/>
<circle cx="364.8" cy="1774.7" r="4.3" fill="#bdbbbb" fill-opacity="0.6"/>
<circle cx="420.5" cy="1771.6" r="4.3" fill="#bdbbbb" fill-opacity="0.6"/>
<circle cx="371.5" cy="1764.7" r="4.3" fill="#bdbbbb" fill-opacity="0.6"/>
<circle cx="421.9" cy="1795.4" r="4.3" fill="#bdbbbb" fill-opacity="0.6"/>
<circle cx="420.0" cy="1779.8" r="4.3" fill="#bdbbbb" fill-opacity="0.6"/>
<circle cx="375.3" cy="1777.5" r="4.3" fill="#bdbbbb" fill-opacity="0.6"/>
<circle cx="364.7" cy="1784.7" r="4.3" fill="#bdbbbb" fill-opacity="0.6"/>
<circle cx="410.1" cy="1780.7" r="4.3" fill="#bdbbbb" fill-opacity="0.6"/>
<circle cx="408.5" cy="1800.2" r="4.3" fill="#bdbbbb" fill-opacity="0.6"/>
<circle cx="389.0" cy="1770.6" r="4.3" fill="#bdbbbb" fill-opacity="0.6"/>
<circle cx="353.1" cy="1764.2" r="4.3" fill="#bdbbbb" fill-opacity="0.6"/>
<circle cx="390.6" cy="1801.6" r="4.3" fill="#bdbbbb" fill-opacity="0.6"/>
<circle cx="416.3" cy="1776.2" r="4.3" fill="#bdbbbb" fill-opacity="0.6"/>
<circle cx="387.8" cy="1770.8" r="4.3" fill="#bdbbbb" fill-opacity="0.6"/>
<circle cx="424.3" cy="1766.6" r="4.3" fill="#bdbbbb" fill-opacity="0.6"/>
<circle cx="365.4" cy="1775.6" r="4.3" fill="#bdbbbb" fill-opacity="0.6"/>
<circle cx="403.8" cy="1773.9" r="4.3" fill="#bdbbbb" fill-opacity="0.6"/>
<circle cx="378.2" cy="1779.5" r="4.3" fill="#bdbbbb" fill-opacity="0.6"/>
<circle cx="381.8" cy="1773.7" r="4.3" fill="#bdbbbb" fill-opacity="0.6"/>
<circle cx="383.9" cy="1780.8" r="4.3" fill="#bdbbbb" fill-opacity="0.6"/>
<circle cx="384.5" cy="1789.1" r="4.3" fill="#bdbbbb" fill-opacity="0.6"/>
<circle cx="354.6" cy="1765.8" r="4.3" fill="#bdbbbb" fill-opacity="0.6"/>
<circle cx="439.2" cy="1776.4" r="4.3" fill="#bdbbbb" fill-opacity="0.6"/>
<circle cx="386.4" cy="1779.0" r="4.3" fill="#bdbbbb" fill-opacity="0.6"/>
<circle cx="395.1" cy="1763.4" r="4.3" fill="#bdbbbb" fill-opacity="0.6"/>
<circle cx="370.1" cy="1763.0" r="4.3" fill="#bdbbbb" fill-opacity="0.6"/>
<circle cx="380.6" cy="1769.9" r="4.3" fill="#bdbbbb" fill-opacity="0.6"/>
<circle cx="366.1" cy="1768.3" r="4.3" fill="#bdbbbb" fill-opacity="0.6"/>
<circle cx="393.8" cy="1762.3" r="4.3" fill="#bdbbbb" fill-opacity="0.6"/>
<circle cx="427.2" cy="1772.5" r="4.3" fill="#bdbbbb" fill-opacity="0.6"/>
<circle cx="393.3" cy="1793.0" r="4.3" fill="#bdbbbb" fill-opacity="0.6"/>
<circle cx="387.9" cy="1797.9" r="4.3" fill="#bdbbbb" fill-opacity="0.6"/>
<circle cx="429.9" cy="1764.5" r="4.3" fill="#bdbbbb" fill-opacity="0.6"/>
<circle cx="381.3" cy="1800.3" r="4.3" fill="#bdbbbb" fill-opacity="0.6"/>
<circle cx="353.3" cy="1777.7" r="4.3" fill="#bdbbbb" fill-opacity="0.6"/>
<circle cx="420.2" cy="1788.2" r="4.3" fill="#bdbbbb" fill-opacity="0.6"/>
<circle cx="417.6" cy="1765.6" r="4.3" fill="#bdbbbb" fill-opacity="0.6"/>
<circle cx="367.7" cy="1783.3" r="4.3" fill="#bdbbbb" fill-opacity="0.6"/>
<circle cx="369.1" cy="1771.8" r="4.3" fill="#bdbbbb" fill-opacity="0.6"/>
<circle cx="399.6" cy="1770.2" r="4.3" fill="#bdbbbb" fill-opacity="0.6"/>
<circle cx="435.0" cy="1764.3" r="4.3" fill="#bdbbbb" fill-opacity="0.6"/>
<circle cx="393.3" cy="1756.9" r="4.3" fill="#bdbbbb" fill-opacity="0.55"/>
<circle cx="384.1" cy="1742.1" r="4.3" fill="#bdbbbb" fill-opacity="0.55"/>
<circle cx="401.1" cy="1762.4" r="4.3" fill="#bdbbbb" fill-opacity="0.55"/>
<circle cx="395.4" cy="1724.2" r="4.3" fill="#bdbbbb" fill-opacity="0.55"/>
<circle cx="399.6" cy="1725.5" r="4.3" fill="#bdbbbb" fill-opacity="0.55"/>
<circle cx="405.4" cy="1735.6" r="4.3" fill="#bdbbbb" fill-opacity="0.55"/>
<circle cx="405.9" cy="1755.5" r="4.3" fill="#bdbbbb" fill-opacity="0.55"/>
<circle cx="404.9" cy="1731.2" r="4.3" fill="#bdbbbb" fill-opacity="0.55"/>
<circle cx="382.3" cy="1721.7" r="4.3" fill="#bdbbbb" fill-opacity="0.55"/>
<circle cx="407.3" cy="1755.9" r="4.3" fill="#bdbbbb" fill-opacity="0.55"/>
<circle cx="392.3" cy="1730.2" r="4.3" fill="#bdbbbb" fill-opacity="0.55"/>
<circle cx="404.9" cy="1763.6" r="4.3" fill="#bdbbbb" fill-opacity="0.55"/>
<circle cx="387.8" cy="1739.1" r="4.3" fill="#bdbbbb" fill-opacity="0.55"/>
<circle cx="409.6" cy="1682.9" r="4.3" fill="#bdbbbb" fill-opacity="0.55"/>
<circle cx="382.9" cy="1739.8" r="4.3" fill="#bdbbbb" fill-opacity="0.55"/>
<circle cx="390.6" cy="1761.2" r="4.3" fill="#bdbbbb" fill-opacity="0.55"/>
<circle cx="407.4" cy="1740.4" r="4.3" fill="#bdbbbb" fill-opacity="0.55"/>
<circle cx="385.0" cy="1713.0" r="4.3" fill="#bdbbbb" fill-opacity="0.55"/>
<circle cx="403.8" cy="1671.0" r="4.3" fill="#bdbbbb" fill-opacity="0.55"/>
<circle cx="388.1" cy="1736.7" r="4.3" fill="#bdbbbb" fill-opacity="0.55"/>
<circle cx="394.5" cy="1758.3" r="4.3" fill="#bdbbbb" fill-opacity="0.55"/>
<circle cx="382.5" cy="1754.2" r="4.3" fill="#bdbbbb" fill-opacity="0.55"/>
<circle cx="402.9" cy="1754.1" r="4.3" fill="#bdbbbb" fill-opacity="0.55"/>
<circle cx="400.4" cy="1763.3" r="4.3" fill="#bdbbbb" fill-opacity="0.55"/>
<circle cx="388.2" cy="1756.7" r="4.3" fill="#bdbbbb" fill-opacity="0.55"/>
<circle cx="407.9" cy="1747.3" r="4.3" fill="#bdbbbb" fill-opacity="0.55"/>
<circle cx="402.8" cy="1715.1" r="4.3" fill="#bdbbbb" fill-opacity="0.55"/>
<circle cx="406.4" cy="1757.4" r="4.3" fill="#bdbbbb" fill-opacity="0.55"/>
<circle cx="398.7" cy="1725.1" r="4.3" fill="#bdbbbb" fill-opacity="0.55"/>
<circle cx="385.0" cy="1749.4" r="4.3" fill="#bdbbbb" fill-opacity="0.55"/>
<circle cx="400.6" cy="1763.2" r="4.3" fill="#bdbbbb" fill-opacity="0.55"/>
<circle cx="390.1" cy="1744.5" r="4.3" fill="#bdbbbb" fill-opacity="0.55"/>
<circle cx="383.1" cy="1737.3" r="4.3" fill="#bdbbbb" fill-opacity="0.55"/>
<circle cx="401.5" cy="1723.8" r="4.3" fill="#bdbbbb" fill-opacity="0.55"/>
<circle cx="382.6" cy="1734.2" r="4.3" fill="#bdbbbb" fill-opacity="0.55"/>
<circle cx="404.3" cy="1760.8" r="4.3" fill="#bdbbbb" fill-opacity="0.55"/>
<circle cx="406.9" cy="1741.4" r="4.3" fill="#bdbbbb" fill-opacity="0.55"/>
<circle cx="391.3" cy="1741.3" r="4.3" fill="#bdbbbb" fill-opacity="0.55"/>
<circle cx="392.2" cy="1671.4" r="4.3" fill="#bdbbbb" fill-opacity="0.55"/>
<circle cx="396.3" cy="1724.6" r="4.3" fill="#bdbbbb" fill-opacity="0.55"/>
<circle cx="382.7" cy="1764.7" r="4.3" fill="#bdbbbb" fill-opacity="0.55"/>
<circle cx="390.9" cy="1746.3" r="4.3" fill="#bdbbbb" fill-opacity="0.55"/>
<circle cx="383.8" cy="1761.0" r="4.3" fill="#bdbbbb" fill-opacity="0.55"/>
<circle cx="408.4" cy="1747.4" r="4.3" fill="#bdbbbb" fill-opacity="0.55"/>
<circle cx="404.3" cy="1764.8" r="4.3" fill="#bdbbbb" fill-opacity="0.55"/>
<circle cx="403.7" cy="1756.6" r="4.3" fill="#bdbbbb" fill-opacity="0.55"/>
<circle cx="407.4" cy="1739.7" r="4.3" fill="#bdbbbb" fill-opacity="0.55"/>
<circle cx="402.0" cy="1753.1" r="4.3" fill="#bdbbbb" fill-opacity="0.55"/>
<circle cx="388.0" cy="1754.4" r="4.3" fill="#bdbbbb" fill-opacity="0.55"/>
<circle cx="409.3" cy="1751.2" r="4.3" fill="#bdbbbb" fill-opacity="0.55"/>
<circle cx="403.0" cy="1753.6" r="4.3" fill="#bdbbbb" fill-opacity="0.55"/>
<circle cx="385.5" cy="1758.5" r="4.3" fill="#bdbbbb" fill-opacity="0.55"/>
<circle cx="397.1" cy="1740.3" r="4.3" fill="#bdbbbb" fill-opacity="0.55"/>
<circle cx="401.3" cy="1714.9" r="4.3" fill="#bdbbbb" fill-opacity="0.55"/>
<circle cx="397.1" cy="1740.9" r="4.3" fill="#bdbbbb" fill-opacity="0.55"/>
<circle cx="394.8" cy="1724.4" r="4.3" fill="#bdbbbb" fill-opacity="0.55"/>
<circle cx="393.9" cy="1763.2" r="4.3" fill="#bdbbbb" fill-opacity="0.55"/>
<circle cx="398.3" cy="1730.6" r="4.3" fill="#bdbbbb" fill-opacity="0.55"/>
<circle cx="402.6" cy="1752.9" r="4.3" fill="#bdbbbb" fill-opacity="0.55"/>
<circle cx="402.3" cy="1716.5" r="4.3" fill="#bdbbbb" fill-opacity="0.55"/>
<circle cx="386.9" cy="1761.1" r="4.3" fill="#bdbbbb" fill-opacity="0.55"/>
<circle cx="394.0" cy="1761.2" r="4.3" fill="#bdbbbb" fill-opacity="0.55"/>
<circle cx="389.4" cy="1759.5" r="4.3" fill="#bdbbbb" fill-opacity="0.55"/>
<circle cx="388.1" cy="1716.0" r="4.3" fill="#bdbbbb" fill-opacity="0.55"/>
<circle cx="394.7" cy="1762.3" r="4.3" fill="#bdbbbb" fill-opacity="0.55"/>
<circle cx="382.8" cy="1722.1" r="4.3" fill="#bdbbbb" fill-opacity="0.55"/>
<circle cx="394.8" cy="1733.2" r="4.3" fill="#bdbbbb" fill-opacity="0.55"/>
<circle cx="400.1" cy="1726.6" r="4.3" fill="#bdbbbb" fill-opacity="0.55"/>
<circle cx="408.8" cy="1760.0" r="4.3" fill="#bdbbbb" fill-opacity="0.55"/>
<circle cx="407.1" cy="1739.2" r="4.3" fill="#bdbbbb" fill-opacity="0.55"/>
<circle cx="388.4" cy="1727.9" r="4.3" fill="#bdbbbb" fill-opacity="0.55"/>
<circle cx="404.7" cy="1751.8" r="4.3" fill="#bdbbbb" fill-opacity="0.55"/>
<circle cx="384.5" cy="1743.0" r="4.3" fill="#bdbbbb" fill-opacity="0.55"/>
<circle cx="385.3" cy="1720.5" r="4.3" fill="#bdbbbb" fill-opacity="0.55"/>
<circle cx="389.2" cy="1722.9" r="4.3" fill="#bdbbbb" fill-opacity="0.55"/>
<circle cx="402.9" cy="1726.7" r="4.3" fill="#bdbbbb" fill-opacity="0.55"/>
<circle cx="402.3" cy="1737.9" r="4.3" fill="#bdbbbb" fill-opacity="0.55"/>
<circle cx="383.5" cy="1750.7" r="4.3" fill="#bdbbbb" fill-opacity="0.55"/>
<circle cx="393.5" cy="1670.8" r="4.3" fill="#bdbbbb" fill-opacity="0.55"/>
<circle cx="393.7" cy="1760.5" r="4.3" fill="#bdbbbb" fill-opacity="0.55"/>
<circle cx="403.9" cy="1740.3" r="4.3" fill="#bdbbbb" fill-opacity="0.55"/>
<circle cx="387.4" cy="1712.4" r="4.3" fill="#bdbbbb" fill-opacity="0.55"/>
<circle cx="407.5" cy="1764.7" r="4.3" fill="#bdbbbb" fill-opacity="0.55"/>
<circle cx="388.5" cy="1743.4" r="4.3" fill="#bdbbbb" fill-opacity="0.55"/>
<circle cx="405.7" cy="1742.2" r="4.3" fill="#bdbbbb" fill-opacity="0.55"/>
<circle cx="405.2" cy="1759.4" r="4.3" fill="#bdbbbb" fill-opacity="0.55"/>
<circle cx="387.6" cy="1757.2" r="4.3" fill="#bdbbbb" fill-opacity="0.55"/>
<circle cx="407.6" cy="1722.1" r="4.3" fill="#bdbbbb" fill-opacity="0.55"/>
<circle cx="395.8" cy="1761.7" r="4.3" fill="#bdbbbb" fill-opacity="0.55"/>
<circle cx="393.7" cy="1733.0" r="4.3" fill="#bdbbbb" fill-opacity="0.55"/>
<circle cx="394.4" cy="1685.7" r="4.3" fill="#bdbbbb" fill-opacity="0.55"/>
<circle cx="407.5" cy="1723.1" r="4.3" fill="#bdbbbb" fill-opacity="0.55"/>
<circle cx="398.8" cy="1647.6" r="4.3" fill="#bdbbbb" fill-opacity="0.55"/>
<circle cx="394.5" cy="1724.5" r="4.3" fill="#bdbbbb" fill-opacity="0.55"/>
<circle cx="383.9" cy="1725.8" r="4.3" fill="#bdbbbb" fill-opacity="0.55"/>
<circle cx="391.0" cy="1749.0" r="4.3" fill="#bdbbbb" fill-opacity="0.55"/>
<circle cx="383.7" cy="1720.0" r="4.3" fill="#bdbbbb" fill-opacity="0.55"/>
<circle cx="397.0" cy="1762.2" r="4.3" fill="#bdbbbb" fill-opacity="0.55"/>
<circle cx="407.9" cy="1660.2" r="4.3" fill="#bdbbbb" fill-opacity="0.55"/>
<circle cx="387.9" cy="1718.0" r="4.3" fill="#bdbbbb" fill-opacity="0.55"/>
<circle cx="390.3" cy="1703.7" r="4.3" fill="#bdbbbb" fill-opacity="0.55"/>
<circle cx="395.8" cy="1750.6" r="4.3" fill="#bdbbbb" fill-opacity="0.55"/>
<circle cx="385.4" cy="1761.2" r="4.3" fill="#bdbbbb" fill-opacity="0.55"/>
<circle cx="390.2" cy="1735.9" r="4.3" fill="#bdbbbb" fill-opacity="0.55"/>
<circle cx="395.8" cy="1750.0" r="4.3" fill="#bdbbbb" fill-opacity="0.55"/>
<circle cx="409.8" cy="1754.4" r="4.3" fill="#bdbbbb" fill-opacity="0.55"/>
<circle cx="400.8" cy="1726.7" r="4.3" fill="#bdbbbb" fill-opacity="0.55"/>
<circle cx="395.6" cy="1753.2" r="4.3" fill="#bdbbbb" fill-opacity="0.55"/>
<circle cx="394.5" cy="1749.1" r="4.3" fill="#bdbbbb" fill-opacity="0.55"/>
<circle cx="396.0" cy="1696.0" r="4.3" fill="#bdbbbb" fill-opacity="0.55"/>
<circle cx="407.7" cy="1739.9" r="4.3" fill="#bdbbbb" fill-opacity="0.55"/>
<circle cx="390.9" cy="1759.7" r="4.3" fill="#bdbbbb" fill-opacity="0.55"/>
<circle cx="398.5" cy="1755.9" r="4.3" fill="#bdbbbb" fill-opacity="0.55"/>
<circle cx="395.3" cy="1711.7" r="4.3" fill="#bdbbbb" fill-opacity="0.55"/>
<circle cx="405.8" cy="1710.6" r="4.3" fill="#bdbbbb" fill-opacity="0.55"/>
<circle cx="408.5" cy="1755.4" r="4.3" fill="#bdbbbb" fill-opacity="0.55"/>
<circle cx="402.7" cy="1715.5" r="4.3" fill="#bdbbbb" fill-opacity="0.55"/>
<circle cx="404.8" cy="1763.3" r="4.3" fill="#bdbbbb" fill-opacity="0.55"/>
<circle cx="408.4" cy="1710.1" r="4.3" fill="#bdbbbb" fill-opacity="0.55"/>
<circle cx="404.9" cy="1759.3" r="4.3" fill="#bdbbbb" fill-opacity="0.55"/>
<circle cx="399.1" cy="1718.6" r="4.3" fill="#bdbbbb" fill-opacity="0.55"/>
<circle cx="389.0" cy="1691.3" r="4.3" fill="#bdbbbb" fill-opacity="0.55"/>
<circle cx="398.0" cy="1759.7" r="4.3" fill="#bdbbbb" fill-opacity="0.55"/>
<circle cx="402.1" cy="1677.3" r="4.3" fill="#bdbbbb" fill-opacity="0.55"/>
<circle cx="405.4" cy="1760.7" r="4.3" fill="#bdbbbb" fill-opacity="0.55"/>
<circle cx="405.0" cy="1754.1" r="4.3" fill="#bdbbbb" fill-opacity="0.55"/>
<circle cx="401.2" cy="1702.2" r="4.3" fill="#bdbbbb" fill-opacity="0.55"/>
<circle cx="385.9" cy="1726.6" r="4.3" fill="#bdbbbb" fill-opacity="0.55"/>
<circle cx="405.9" cy="1758.2" r="4.3" fill="#bdbbbb" fill-opacity="0.55"/>
<circle cx="390.8" cy="1732.4" r="4.3" fill="#bdbbbb" fill-opacity="0.55"/>
<circle cx="391.4" cy="1755.2" r="4.3" fill="#bdbbbb" fill-opacity="0.55"/>
<circle cx="398.7" cy="1733.2" r="4.3" fill="#bdbbbb" fill-opacity="0.55"/>
<circle cx="393.7" cy="1736.7" r="4.3" fill="#bdbbbb" fill-opacity="0.55"/>
<circle cx="400.1" cy="1698.8" r="4.3" fill="#bdbbbb" fill-opacity="0.55"/>
<circle cx="389.6" cy="1742.8" r="4.3" fill="#bdbbbb" fill-opacity="0.55"/>
<circle cx="384.1" cy="1696.5" r="4.3" fill="#bdbbbb" fill-opacity="0.55"/>
<circle cx="402.6" cy="1699.7" r="4.3" fill="#bdbbbb" fill-opacity="0.55"/>
<circle cx="384.4" cy="1762.0" r="4.3" fill="#bdbbbb" fill-opacity="0.55"/>
<circle cx="395.6" cy="1760.8" r="4.3" fill="#bdbbbb" fill-opacity="0.55"/>
<circle cx="395.3" cy="1756.8" r="4.3" fill="#bdbbbb" fill-opacity="0.55"/>
<circle cx="405.4" cy="1728.6" r="4.3" fill="#bdbbbb" fill-opacity="0.55"/>
<circle cx="383.1" cy="1744.1" r="4.3" fill="#bdbbbb" fill-opacity="0.55"/>
<circle cx="404.6" cy="1754.1" r="4.3" fill="#bdbbbb" fill-opacity="0.55"/>
<circle cx="404.5" cy="1753.4" r="4.3" fill="#bdbbbb" fill-opacity="0.55"/>
<circle cx="387.7" cy="1635.1" r="4.3" fill="#bdbbbb" fill-opacity="0.55"/>
<circle cx="391.6" cy="1755.1" r="4.3" fill="#bdbbbb" fill-opacity="0.55"/>
<circle cx="398.0" cy="1754.1" r="4.3" fill="#bdbbbb" fill-opacity="0.55"/>
<circle cx="402.8" cy="1755.6" r="4.3" fill="#bdbbbb" fill-opacity="0.55"/>
<circle cx="400.8" cy="1763.2" r="4.3" fill="#bdbbbb" fill-opacity="0.55"/>
<circle cx="405.2" cy="1744.5" r="4.3" fill="#bdbbbb" fill-opacity="0.55"/>
<circle cx="397.6" cy="1733.5" r="4.3" fill="#bdbbbb" fill-opacity="0.55"/>
<circle cx="383.8" cy="1764.0" r="4.3" fill="#bdbbbb" fill-opacity="0.55"/>
<circle cx="389.0" cy="1732.2" r="4.3" fill="#bdbbbb" fill-opacity="0.55"/>
<circle cx="404.9" cy="1745.5" r="4.3" fill="#bdbbbb" fill-opacity="0.55"/>
<circle cx="409.8" cy="1664.8" r="4.3" fill="#bdbbbb" fill-opacity="0.55"/>
<circle cx="392.0" cy="1747.7" r="4.3" fill="#bdbbbb" fill-opacity="0.55"/>
<circle cx="395.1" cy="1742.0" r="4.3" fill="#bdbbbb" fill-opacity="0.55"/>
<circle cx="410.0" cy="1755.2" r="4.3" fill="#bdbbbb" fill-opacity="0.55"/>
<circle cx="392.8" cy="1731.0" r="4.3" fill="#bdbbbb" fill-opacity="0.55"/>
<circle cx="409.6" cy="1735.6" r="4.3" fill="#bdbbbb" fill-opacity="0.55"/>
<circle cx="398.7" cy="1745.6" r="4.3" fill="#bdbbbb" fill-opacity="0.55"/>
<circle cx="397.3" cy="1697.0" r="4.3" fill="#bdbbbb" fill-opacity="0.55"/>
<circle cx="402.6" cy="1694.3" r="4.3" fill="#bdbbbb" fill-opacity="0.55"/>
<circle cx="382.1" cy="1762.3" r="4.3" fill="#bdbbbb" fill-opacity="0.55"/>
<circle cx="390.1" cy="1740.3" r="4.3" fill="#bdbbbb" fill-opacity="0.55"/>
<circle cx="382.8" cy="1706.1" r="4.3" fill="#bdbbbb" fill-opacity="0.55"/>
<circle cx="398.4" cy="1748.3" r="4.3" fill="#bdbbbb" fill-opacity="0.55"/>
<circle cx="392.8" cy="1722.0" r="4.3" fill="#bdbbbb" fill-opacity="0.55"/>
<circle cx="392.2" cy="1751.4" r="4.3" fill="#bdbbbb" fill-opacity="0.55"/>
<circle cx="392.4" cy="1749.1" r="4.3" fill="#bdbbbb" fill-opacity="0.55"/>
<circle cx="399.2" cy="1727.8" r="4.3" fill="#bdbbbb" fill-opacity="0.55"/>
<circle cx="398.8" cy="1759.7" r="4.3" fill="#bdbbbb" fill-opacity="0.55"/>
<circle cx="393.1" cy="1731.0" r="4.3" fill="#bdbbbb" fill-opacity="0.55"/>
<circle cx="402.6" cy="1730.9" r="4.3" fill="#bdbbbb" fill-opacity="0.55"/>
<circle cx="384.3" cy="1694.2" r="4.3" fill="#bdbbbb" fill-opacity="0.55"/>
<circle cx="390.3" cy="1713.5" r="4.3" fill="#bdbbbb" fill-opacity="0.55"/>
<circle cx="405.8" cy="1734.8" r="4.3" fill="#bdbbbb" fill-opacity="0.55"/>
<circle cx="401.5" cy="1746.5" r="4.3" fill="#bdbbbb" fill-opacity="0.55"/>
<circle cx="408.1" cy="1718.0" r="4.3" fill="#bdbbbb" fill-opacity="0.55"/>
<circle cx="393.7" cy="1754.0" r="4.3" fill="#bdbbbb" fill-opacity="0.55"/>
<circle cx="404.8" cy="1744.3" r="4.3" fill="#bdbbbb" fill-opacity="0.55"/>
<circle cx="383.2" cy="1759.3" r="4.3" fill="#bdbbbb" fill-opacity="0.55"/>
<circle cx="402.6" cy="1749.4" r="4.3" fill="#bdbbbb" fill-opacity="0.55"/>
<circle cx="405.6" cy="1758.6" r="4.3" fill="#bdbbbb" fill-opacity="0.55"/>
<circle cx="393.5" cy="1746.8" r="4.3" fill="#bdbbbb" fill-opacity="0.55"/>
<circle cx="386.0" cy="1763.5" r="4.3" fill="#bdbbbb" fill-opacity="0.55"/>
<circle cx="389.0" cy="1752.8" r="4.3" fill="#bdbbbb" fill-opacity="0.55"/>
<circle cx="393.0" cy="1761.6" r="4.3" fill="#bdbbbb" fill-opacity="0.55"/>
<circle cx="401.1" cy="1761.6" r="4.3" fill="#bdbbbb" fill-opacity="0.55"/>
<circle cx="398.4" cy="1743.6" r="4.3" fill="#bdbbbb" fill-opacity="0.55"/>
<circle cx="388.5" cy="1708.9" r="4.3" fill="#bdbbbb" fill-opacity="0.55"/>
<circle cx="391.4" cy="1745.6" r="4.3" fill="#bdbbbb" fill-opacity="0.55"/>
<circle cx="384.7" cy="1744.4" r="4.3" fill="#bdbbbb" fill-opacity="0.55"/>
<circle cx="399.9" cy="1733.1" r="4.3" fill="#bdbbbb" fill-opacity="0.55"/>
<circle cx="385.2" cy="1759.2" r="4.3" fill="#bdbbbb" fill-opacity="0.55"/>
<circle cx="395.2" cy="1760.3" r="4.3" fill="#bdbbbb" fill-opacity="0.55"/>
<circle cx="382.9" cy="1741.6" r="4.3" fill="#bdbbbb" fill-opacity="0.55"/>
<circle cx="404.7" cy="1762.5" r="4.3" fill="#bdbbbb" fill-opacity="0.55"/>
<circle cx="396.7" cy="1758.0" r="4.3" fill="#bdbbbb" fill-opacity="0.55"/>
<circle cx="389.7" cy="1737.4" r="4.3" fill="#bdbbbb" fill-opacity="0.55"/>
<circle cx="392.8" cy="1681.4" r="4.3" fill="#bdbbbb" fill-opacity="0.55"/>
<circle cx="409.4" cy="1755.2" r="4.3" fill="#bdbbbb" fill-opacity="0.55"/>
<circle cx="387.7" cy="1747.9" r="4.3" fill="#bdbbbb" fill-opacity="0.55"/>
<circle cx="405.5" cy="1760.6" r="4.3" fill="#bdbbbb" fill-opacity="0.55"/>
<circle cx="391.5" cy="1699.8" r="4.3" fill="#bdbbbb" fill-opacity="0.55"/>
<circle cx="382.5" cy="1764.9" r="4.3" fill="#bdbbbb" fill-opacity="0.55"/>
<circle cx="390.0" cy="1757.4" r="4.3" fill="#bdbbbb" fill-opacity="0.55"/>
<circle cx="383.2" cy="1622.1" r="4.3" fill="#bdbbbb" fill-opacity="0.55"/>
<circle cx="390.3" cy="1702.5" r="4.3" fill="#bdbbbb" fill-opacity="0.55"/>
<circle cx="409.7" cy="1737.5" r="4.3" fill="#bdbbbb" fill-opacity="0.55"/>
<circle cx="403.1" cy="1756.9" r="4.3" fill="#bdbbbb" fill-opacity="0.55"/>
<circle cx="387.3" cy="1747.3" r="4.3" fill="#bdbbbb" fill-opacity="0.55"/>
<circle cx="384.0" cy="1738.9" r="4.3" fill="#bdbbbb" fill-opacity="0.55"/>
<circle cx="404.8" cy="1747.8" r="4.3" fill="#bdbbbb" fill-opacity="0.55"/>
<circle cx="402.4" cy="1764.3" r="4.3" fill="#bdbbbb" fill-opacity="0.55"/>
<circle cx="401.9" cy="1759.6" r="4.3" fill="#bdbbbb" fill-opacity="0.55"/>
<circle cx="394.7" cy="1760.6" r="4.3" fill="#bdbbbb" fill-opacity="0.55"/>
<circle cx="383.9" cy="1752.3" r="4.3" fill="#bdbbbb" fill-opacity="0.55"/>
<circle cx="384.1" cy="1723.2" r="4.3" fill="#bdbbbb" fill-opacity="0.55"/>
<circle cx="395.7" cy="1743.7" r="4.3" fill="#bdbbbb" fill-opacity="0.55"/>
<circle cx="394.5" cy="1714.9" r="4.3" fill="#bdbbbb" fill-opacity="0.55"/>
<circle cx="391.5" cy="1761.3" r="4.3" fill="#bdbbbb" fill-opacity="0.55"/>
<circle cx="384.4" cy="1698.5" r="4.3" fill="#bdbbbb" fill-opacity="0.55"/>
<circle cx="385.0" cy="1759.6" r="4.3" fill="#bdbbbb" fill-opacity="0.55"/>
<circle cx="389.4" cy="1726.5" r="4.3" fill="#bdbbbb" fill-opacity="0.55"/>
<circle cx="400.2" cy="1748.8" r="4.3" fill="#bdbbbb" fill-opacity="0.55"/>
<circle cx="398.4" cy="1755.9" r="4.3" fill="#bdbbbb" fill-opacity="0.55"/>
<circle cx="399.7" cy="1720.0" r="4.3" fill="#bdbbbb" fill-opacity="0.55"/>
<circle cx="388.7" cy="1666.2" r="4.3" fill="#bdbbbb" fill-opacity="0.55"/>
<circle cx="398.9" cy="1692.4" r="4.3" fill="#bdbbbb" fill-opacity="0.55"/>
<circle cx="400.1" cy="1753.9" r="4.3" fill="#bdbbbb" fill-opacity="0.55"/>
<circle cx="386.2" cy="1705.6" r="4.3" fill="#bdbbbb" fill-opacity="0.55"/>
<circle cx="397.4" cy="1750.6" r="4.3" fill="#bdbbbb" fill-opacity="0.55"/>
<circle cx="394.6" cy="1742.2" r="4.3" fill="#bdbbbb" fill-opacity="0.55"/>
<circle cx="397.2" cy="1756.8" r="4.3" fill="#bdbbbb" fill-opacity="0.55"/>
<circle cx="399.3" cy="1757.7" r="4.3" fill="#bdbbbb" fill-opacity="0.55"/>
<circle cx="395.7" cy="1747.6" r="4.3" fill="#bdbbbb" fill-opacity="0.55"/>
<circle cx="387.5" cy="1740.6" r="4.3" fill="#bdbbbb" fill-opacity="0.55"/>
<circle cx="408.4" cy="1748.6" r="4.3" fill="#bdbbbb" fill-opacity="0.55"/>
<circle cx="391.0" cy="1714.7" r="4.3" fill="#bdbbbb" fill-opacity="0.55"/>
<circle cx="393.5" cy="1706.9" r="4.3" fill="#bdbbbb" fill-opacity="0.55"/>
<circle cx="394.6" cy="1759.2" r="4.3" fill="#bdbbbb" fill-opacity="0.55"/>
<circle cx="384.6" cy="1764.0" r="4.3" fill="#bdbbbb" fill-opacity="0.55"/>
<circle cx="408.2" cy="1726.0" r="4.3" fill="#bdbbbb" fill-opacity="0.55"/>
<circle cx="401.0" cy="1691.2" r="4.3" fill="#bdbbbb" fill-opacity="0.55"/>
<circle cx="382.0" cy="1760.2" r="4.3" fill="#bdbbbb" fill-opacity="0.55"/>
<circle cx="383.2" cy="1629.7" r="4.3" fill="#bdbbbb" fill-opacity="0.55"/>
<circle cx="402.7" cy="1752.5" r="4.3" fill="#bdbbbb" fill-opacity="0.55"/>
<circle cx="402.7" cy="1760.8" r="4.3" fill="#bdbbbb" fill-opacity="0.55"/>
<circle cx="390.3" cy="1751.0" r="4.3" fill="#bdbbbb" fill-opacity="0.55"/>
<circle cx="389.0" cy="1715.5" r="4.3" fill="#bdbbbb" fill-opacity="0.55"/>
<circle cx="385.7" cy="1719.5" r="4.3" fill="#bdbbbb" fill-opacity="0.55"/>
<circle cx="402.2" cy="1737.6" r="4.3" fill="#bdbbbb" fill-opacity="0.55"/>
<circle cx="385.1" cy="1752.2" r="4.3" fill="#bdbbbb" fill-opacity="0.55"/>
<circle cx="409.5" cy="1726.3" r="4.3" fill="#bdbbbb" fill-opacity="0.55"/>
<circle cx="394.5" cy="1755.3" r="4.3" fill="#bdbbbb" fill-opacity="0.55"/>
<circle cx="395.2" cy="1761.1" r="4.3" fill="#bdbbbb" fill-opacity="0.55"/>
<circle cx="385.6" cy="1744.3" r="4.3" fill="#bdbbbb" fill-opacity="0.55"/>
<circle cx="405.2" cy="1759.4" r="4.3" fill="#bdbbbb" fill-opacity="0.55"/>
<circle cx="395.4" cy="1698.5" r="4.3" fill="#bdbbbb" fill-opacity="0.55"/>
<circle cx="402.4" cy="1761.2" r="4.3" fill="#bdbbbb" fill-opacity="0.55"/>
<circle cx="403.5" cy="1745.9" r="4.3" fill="#bdbbbb" fill-opacity="0.55"/>
<circle cx="390.4" cy="1720.3" r="4.3" fill="#bdbbbb" fill-opacity="0.55"/>
<circle cx="398.3" cy="1754.6" r="4.3" fill="#bdbbbb" fill-opacity="0.55"/>
<circle cx="398.5" cy="1759.7" r="4.3" fill="#bdbbbb" fill-opacity="0.55"/>
<circle cx="389.8" cy="1752.8" r="4.3" fill="#bdbbbb" fill-opacity="0.55"/>
<circle cx="405.9" cy="1759.1" r="4.3" fill="#bdbbbb" fill-opacity="0.55"/>
<circle cx="384.5" cy="1697.2" r="4.3" fill="#bdbbbb" fill-opacity="0.55"/>
<circle cx="393.3" cy="1742.0" r="4.3" fill="#bdbbbb" fill-opacity="0.55"/>
<circle cx="394.6" cy="1745.1" r="4.3" fill="#bdbbbb" fill-opacity="0.55"/>
<circle cx="393.5" cy="1760.6" r="4.3" fill="#bdbbbb" fill-opacity="0.55"/>
<circle cx="383.8" cy="1751.5" r="4.3" fill="#bdbbbb" fill-opacity="0.55"/>
<circle cx="407.6" cy="1758.7" r="4.3" fill="#bdbbbb" fill-opacity="0.55"/>
<circle cx="402.8" cy="1753.1" r="4.3" fill="#bdbbbb" fill-opacity="0.55"/>
<circle cx="407.3" cy="1727.2" r="4.3" fill="#bdbbbb" fill-opacity="0.55"/>
<circle cx="383.9" cy="1760.4" r="4.3" fill="#bdbbbb" fill-opacity="0.55"/>
<circle cx="390.6" cy="1759.1" r="4.3" fill="#bdbbbb" fill-opacity="0.55"/>
<circle cx="399.5" cy="1753.9" r="4.3" fill="#bdbbbb" fill-opacity="0.55"/>
<circle cx="403.6" cy="1723.7" r="4.3" fill="#bdbbbb" fill-opacity="0.55"/>
<circle cx="394.1" cy="1758.9" r="4.3" fill="#bdbbbb" fill-opacity="0.55"/>
<circle cx="408.8" cy="1741.4" r="4.3" fill="#bdbbbb" fill-opacity="0.55"/>
<circle cx="405.0" cy="1736.5" r="4.3" fill="#bdbbbb" fill-opacity="0.55"/>
<circle cx="384.1" cy="1747.2" r="4.3" fill="#bdbbbb" fill-opacity="0.55"/>
<circle cx="384.4" cy="1762.2" r="4.3" fill="#bdbbbb" fill-opacity="0.55"/>
<circle cx="384.7" cy="1727.6" r="4.3" fill="#bdbbbb" fill-opacity="0.55"/>
<circle cx="401.7" cy="1732.7" r="4.3" fill="#bdbbbb" fill-opacity="0.55"/>
<circle cx="396.7" cy="1710.8" r="4.3" fill="#bdbbbb" fill-opacity="0.55"/>
<circle cx="393.1" cy="1756.9" r="4.3" fill="#bdbbbb" fill-opacity="0.55"/>
<circle cx="384.7" cy="1742.3" r="4.3" fill="#bdbbbb" fill-opacity="0.55"/>
<circle cx="390.9" cy="1748.6" r="4.3" fill="#bdbbbb" fill-opacity="0.55"/>
<circle cx="390.9" cy="1738.4" r="4.3" fill="#bdbbbb" fill-opacity="0.55"/>
<circle cx="406.2" cy="1759.7" r="4.3" fill="#bdbbbb" fill-opacity="0.55"/>
<circle cx="388.8" cy="1760.6" r="4.3" fill="#bdbbbb" fill-opacity="0.55"/>
<circle cx="402.8" cy="1649.2" r="4.3" fill="#bdbbbb" fill-opacity="0.55"/>
<circle cx="401.9" cy="1731.5" r="4.3" fill="#bdbbbb" fill-opacity="0.55"/>
<circle cx="401.6" cy="1753.2" r="4.3" fill="#bdbbbb" fill-opacity="0.55"/>
<circle cx="392.6" cy="1740.2" r="4.3" fill="#bdbbbb" fill-opacity="0.55"/>
<circle cx="395.2" cy="1739.5" r="4.3" fill="#bdbbbb" fill-opacity="0.55"/>
<circle cx="389.8" cy="1714.5" r="4.3" fill="#bdbbbb" fill-opacity="0.55"/>
<circle cx="402.5" cy="1758.3" r="4.3" fill="#bdbbbb" fill-opacity="0.55"/>
<circle cx="387.1" cy="1763.6" r="4.3" fill="#bdbbbb" fill-opacity="0.55"/>
<circle cx="382.9" cy="1757.5" r="4.3" fill="#bdbbbb" fill-opacity="0.55"/>
<circle cx="401.8" cy="1751.3" r="4.3" fill="#bdbbbb" fill-opacity="0.55"/>
<circle cx="383.1" cy="1737.6" r="4.3" fill="#bdbbbb" fill-opacity="0.55"/>
<circle cx="402.4" cy="1760.8" r="4.3" fill="#bdbbbb" fill-opacity="0.55"/>
<circle cx="399.9" cy="1757.0" r="4.3" fill="#bdbbbb" fill-opacity="0.55"/>
<circle cx="409.8" cy="1721.3" r="4.3" fill="#bdbbbb" fill-opacity="0.55"/>
<circle cx="392.1" cy="1742.8" r="4.3" fill="#bdbbbb" fill-opacity="0.55"/>
<circle cx="407.9" cy="1726.7" r="4.3" fill="#bdbbbb" fill-opacity="0.55"/>
<circle cx="395.6" cy="1711.0" r="4.3" fill="#bdbbbb" fill-opacity="0.55"/>
<circle cx="407.2" cy="1700.1" r="4.3" fill="#bdbbbb" fill-opacity="0.55"/>
<circle cx="396.9" cy="1741.4" r="4.3" fill="#bdbbbb" fill-opacity="0.55"/>
<circle cx="387.4" cy="1745.6" r="4.3" fill="#bdbbbb" fill-opacity="0.55"/>
<circle cx="406.6" cy="1706.6" r="4.3" fill="#bdbbbb" fill-opacity="0.55"/>
<circle cx="387.3" cy="1763.9" r="4.3" fill="#bdbbbb" fill-opacity="0.55"/>
<circle cx="383.2" cy="1721.9" r="4.3" fill="#bdbbbb" fill-opacity="0.55"/>
<circle cx="397.0" cy="1757.6" r="4.3" fill="#bdbbbb" fill-opacity="0.55"/>
<circle cx="406.1" cy="1722.8" r="4.3" fill="#bdbbbb" fill-opacity="0.55"/>
<circle cx="390.1" cy="1751.8" r="4.3" fill="#bdbbbb" fill-opacity="0.55"/>
<circle cx="389.9" cy="1761.3" r="4.3" fill="#bdbbbb" fill-opacity="0.55"/>
<circle cx="399.1" cy="1762.9" r="4.3" fill="#bdbbbb" fill-opacity="0.55"/>
<circle cx="398.8" cy="1749.2" r="4.3" fill="#bdbbbb" fill-opacity="0.55"/>
<circle cx="395.9" cy="1713.4" r="4.3" fill="#bdbbbb" fill-opacity="0.55"/>
<circle cx="391.9" cy="1628.2" r="4.3" fill="#bdbbbb" fill-opacity="0.55"/>
<circle cx="388.1" cy="1760.7" r="4.3" fill="#bdbbbb" fill-opacity="0.55"/>
<circle cx="386.4" cy="1745.3" r="4.3" fill="#bdbbbb" fill-opacity="0.55"/>
<circle cx="385.9" cy="1681.9" r="4.3" fill="#bdbbbb" fill-opacity="0.55"/>
<circle cx="398.2" cy="1734.4" r="4.3" fill="#bdbbbb" fill-opacity="0.55"/>
<circle cx="385.5" cy="1709.9" r="4.3" fill="#bdbbbb" fill-opacity="0.55"/>
<circle cx="395.0" cy="1750.4" r="4.3" fill="#bdbbbb" fill-opacity="0.55"/>
<circle cx="399.3" cy="1747.9" r="4.3" fill="#bdbbbb" fill-opacity="0.55"/>
<circle cx="395.9" cy="1704.1" r="4.3" fill="#bdbbbb" fill-opacity="0.55"/>
<circle cx="385.5" cy="1759.0" r="4.3" fill="#bdbbbb" fill-opacity="0.55"/>
<circle cx="385.9" cy="1725.4" r="4.3" fill="#bdbbbb" fill-opacity="0.55"/>
<circle cx="396.9" cy="1732.8" r="4.3" fill="#bdbbbb" fill-opacity="0.55"/>
<circle cx="409.6" cy="1636.2" r="4.3" fill="#bdbbbb" fill-opacity="0.55"/>
<circle cx="384.9" cy="1721.1" r="4.3" fill="#bdbbbb" fill-opacity="0.55"/>
<circle cx="401.7" cy="1763.7" r="4.3" fill="#bdbbbb" fill-opacity="0.55"/>
<circle cx="395.3" cy="1755.1" r="4.3" fill="#bdbbbb" fill-opacity="0.55"/>
<circle cx="400.0" cy="1700.9" r="4.3" fill="#bdbbbb" fill-opacity="0.55"/>
<circle cx="402.7" cy="1722.9" r="4.3" fill="#bdbbbb" fill-opacity="0.55"/>
<circle cx="391.7" cy="1715.5" r="4.3" fill="#bdbbbb" fill-opacity="0.55"/>
<circle cx="407.6" cy="1738.4" r="4.3" fill="#bdbbbb" fill-opacity="0.55"/>
<circle cx="405.6" cy="1755.8" r="4.3" fill="#bdbbbb" fill-opacity="0.55"/>
<circle cx="387.3" cy="1713.7" r="4.3" fill="#bdbbbb" fill-opacity="0.55"/>
<circle cx="395.9" cy="1703.4" r="4.3" fill="#bdbbbb" fill-opacity="0.55"/>
<circle cx="386.9" cy="1742.6" r="4.3" fill="#bdbbbb" fill-opacity="0.55"/>
<circle cx="408.5" cy="1730.3" r="4.3" fill="#bdbbbb" fill-opacity="0.55"/>
<circle cx="387.1" cy="1764.7" r="4.3" fill="#bdbbbb" fill-opacity="0.55"/>
<circle cx="397.9" cy="1711.1" r="4.3" fill="#bdbbbb" fill-opacity="0.55"/>
<circle cx="405.5" cy="1746.7" r="4.3" fill="#bdbbbb" fill-opacity="0.55"/>
<circle cx="396.3" cy="1724.2" r="4.3" fill="#bdbbbb" fill-opacity="0.55"/>
<circle cx="407.1" cy="1759.1" r="4.3" fill="#bdbbbb" fill-opacity="0.55"/>
<circle cx="399.7" cy="1714.6" r="4.3" fill="#bdbbbb" fill-opacity="0.55"/>
<circle cx="386.4" cy="1735.6" r="4.3" fill="#bdbbbb" fill-opacity="0.55"/>
<circle cx="390.2" cy="1726.4" r="4.3" fill="#bdbbbb" fill-opacity="0.55"/>
<circle cx="389.0" cy="1756.5" r="4.3" fill="#bdbbbb" fill-opacity="0.55"/>
<circle cx="402.1" cy="1743.5" r="4.3" fill="#bdbbbb" fill-opacity="0.55"/>
<circle cx="398.4" cy="1758.7" r="4.3" fill="#bdbbbb" fill-opacity="0.55"/>
<circle cx="403.5" cy="1686.3" r="4.3" fill="#bdbbbb" fill-opacity="0.55"/>
<circle cx="383.5" cy="1759.8" r="4.3" fill="#bdbbbb" fill-opacity="0.55"/>
<circle cx="383.4" cy="1745.4" r="4.3" fill="#bdbbbb" fill-opacity="0.55"/>
<circle cx="382.1" cy="1739.5" r="4.3" fill="#bdbbbb" fill-opacity="0.55"/>
<circle cx="395.4" cy="1700.5" r="4.3" fill="#bdbbbb" fill-opacity="0.55"/>
<circle cx="392.1" cy="1702.7" r="4.3" fill="#bdbbbb" fill-opacity="0.55"/>
<circle cx="399.4" cy="1763.4" r="4.3" fill="#bdbbbb" fill-opacity="0.55"/>
<circle cx="397.3" cy="1728.3" r="4.3" fill="#bdbbbb" fill-opacity="0.55"/>
<circle cx="405.8" cy="1720.9" r="4.3" fill="#bdbbbb" fill-opacity="0.55"/>
<circle cx="406.9" cy="1757.4" r="4.3" fill="#bdbbbb" fill-opacity="0.55"/>
<circle cx="392.3" cy="1763.4" r="4.3" fill="#bdbbbb" fill-opacity="0.55"/>
<circle cx="382.0" cy="1756.8" r="4.3" fill="#bdbbbb" fill-opacity="0.55"/>
<circle cx="386.1" cy="1733.5" r="4.3" fill="#bdbbbb" fill-opacity="0.55"/>
<circle cx="404.2" cy="1731.1" r="4.3" fill="#bdbbbb" fill-opacity="0.55"/>
<circle cx="401.3" cy="1749.3" r="4.3" fill="#bdbbbb" fill-opacity="0.55"/>
<circle cx="400.1" cy="1703.7" r="4.3" fill="#bdbbbb" fill-opacity="0.55"/>
<circle cx="383.5" cy="1749.3" r="4.3" fill="#bdbbbb" fill-opacity="0.55"/>
<circle cx="383.4" cy="1691.2" r="4.3" fill="#bdbbbb" fill-opacity="0.55"/>
<circle cx="399.3" cy="1761.9" r="4.3" fill="#bdbbbb" fill-opacity="0.55"/>
<circle cx="383.8" cy="1748.4" r="4.3" fill="#bdbbbb" fill-opacity="0.55"/>
<circle cx="399.6" cy="1705.5" r="4.3" fill="#bdbbbb" fill-opacity="0.55"/>
<circle cx="385.3" cy="1763.7" r="4.3" fill="#bdbbbb" fill-opacity="0.55"/>
<circle cx="405.3" cy="1700.1" r="4.3" fill="#bdbbbb" fill-opacity="0.55"/>
<circle cx="402.2" cy="1747.3" r="4.3" fill="#bdbbbb" fill-opacity="0.55"/>
<circle cx="406.1" cy="1762.9" r="4.3" fill="#bdbbbb" fill-opacity="0.55"/>
<circle cx="387.4" cy="1716.4" r="4.3" fill="#bdbbbb" fill-opacity="0.55"/>
<circle cx="399.2" cy="1754.1" r="4.3" fill="#bdbbbb" fill-opacity="0.55"/>
<circle cx="397.7" cy="1697.8" r="4.3" fill="#bdbbbb" fill-opacity="0.55"/>
<circle cx="390.0" cy="1764.8" r="4.3" fill="#bdbbbb" fill-opacity="0.55"/>
<circle cx="382.1" cy="1761.1" r="4.3" fill="#bdbbbb" fill-opacity="0.55"/>
<circle cx="393.9" cy="1764.8" r="4.3" fill="#bdbbbb" fill-opacity="0.55"/>
<circle cx="404.4" cy="1757.0" r="4.3" fill="#bdbbbb" fill-opacity="0.55"/>
<circle cx="406.0" cy="1741.1" r="4.3" fill="#bdbbbb" fill-opacity="0.55"/>
<circle cx="391.5" cy="1753.3" r="4.3" fill="#bdbbbb" fill-opacity="0.55"/>
<circle cx="399.1" cy="1725.0" r="4.3" fill="#bdbbbb" fill-opacity="0.55"/>
<circle cx="386.7" cy="1758.1" r="4.3" fill="#bdbbbb" fill-opacity="0.55"/>
<circle cx="407.9" cy="1754.8" r="4.3" fill="#bdbbbb" fill-opacity="0.55"/>
<circle cx="408.5" cy="1740.3" r="4.3" fill="#bdbbbb" fill-opacity="0.55"/>
<circle cx="399.9" cy="1746.3" r="4.3" fill="#bdbbbb" fill-opacity="0.55"/>
<circle cx="404.8" cy="1668.9" r="4.3" fill="#bdbbbb" fill-opacity="0.55"/>
<circle cx="402.8" cy="1760.3" r="4.3" fill="#bdbbbb" fill-opacity="0.55"/>
<circle cx="409.1" cy="1762.8" r="4.3" fill="#bdbbbb" fill-opacity="0.55"/>
<circle cx="396.8" cy="1761.9" r="4.3" fill="#bdbbbb" fill-opacity="0.55"/>
<circle cx="392.5" cy="1717.8" r="4.3" fill="#bdbbbb" fill-opacity="0.55"/>
<circle cx="396.3" cy="1757.1" r="4.3" fill="#bdbbbb" fill-opacity="0.55"/>
<circle cx="400.4" cy="1760.0" r="4.3" fill="#bdbbbb" fill-opacity="0.55"/>
<circle cx="382.6" cy="1741.6" r="4.3" fill="#bdbbbb" fill-opacity="0.55"/>
<circle cx="406.7" cy="1756.9" r="4.3" fill="#bdbbbb" fill-opacity="0.55"/>
<circle cx="409.2" cy="1753.4" r="4.3" fill="#bdbbbb" fill-opacity="0.55"/>
<circle cx="388.9" cy="1760.4" r="4.3" fill="#bdbbbb" fill-opacity="0.55"/>
<circle cx="382.1" cy="1725.6" r="4.3" fill="#bdbbbb" fill-opacity="0.55"/>
<circle cx="382.6" cy="1752.9" r="4.3" fill="#bdbbbb" fill-opacity="0.55"/>
<circle cx="403.9" cy="1762.9" r="4.3" fill="#bdbbbb" fill-opacity="0.55"/>
<circle cx="384.7" cy="1729.7" r="4.3" fill="#bdbbbb" fill-opacity="0.55"/>
<circle cx="402.1" cy="1755.3" r="4.3" fill="#bdbbbb" fill-opacity="0.55"/>
<circle cx="400.2" cy="1733.6" r="4.3" fill="#bdbbbb" fill-opacity="0.55"/>
<circle cx="394.2" cy="1737.8" r="4.3" fill="#bdbbbb" fill-opacity="0.55"/>
<circle cx="402.9" cy="1758.8" r="4.3" fill="#bdbbbb" fill-opacity="0.55"/>
<circle cx="399.2" cy="1757.7" r="4.3" fill="#bdbbbb" fill-opacity="0.55"/>
<circle cx="395.1" cy="1713.0" r="4.3" fill="#bdbbbb" fill-opacity="0.55"/>
<circle cx="406.5" cy="1715.2" r="4.3" fill="#bdbbbb" fill-opacity="0.55"/>
<circle cx="396.0" cy="1692.9" r="4.3" fill="#bdbbbb" fill-opacity="0.55"/>
<circle cx="401.7" cy="1761.7" r="4.3" fill="#bdbbbb" fill-opacity="0.55"/>
<circle cx="399.1" cy="1763.1" r="4.3" fill="#bdbbbb" fill-opacity="0.55"/>
<circle cx="409.7" cy="1737.4" r="4.3" fill="#bdbbbb" fill-opacity="0.55"/>
<circle cx="388.0" cy="1702.4" r="4.3" fill="#bdbbbb" fill-opacity="0.55"/>
<circle cx="405.9" cy="1763.9" r="4.3" fill="#bdbbbb" fill-opacity="0.55"/>
<circle cx="408.6" cy="1744.6" r="4.3" fill="#bdbbbb" fill-opacity="0.55"/>
<circle cx="395.0" cy="1734.2" r="4.3" fill="#bdbbbb" fill-opacity="0.55"/>
<circle cx="386.9" cy="1705.4" r="4.3" fill="#bdbbbb" fill-opacity="0.55"/>
<circle cx="409.0" cy="1729.7" r="4.3" fill="#bdbbbb" fill-opacity="0.55"/>
<circle cx="396.3" cy="1764.7" r="4.3" fill="#bdbbbb" fill-opacity="0.55"/>
<circle cx="398.4" cy="1757.4" r="4.3" fill="#bdbbbb" fill-opacity="0.55"/>
<circle cx="390.7" cy="1705.9" r="4.3" fill="#bdbbbb" fill-opacity="0.55"/>
<circle cx="386.3" cy="1742.5" r="4.3" fill="#bdbbbb" fill-opacity="0.55"/>
<circle cx="401.3" cy="1744.8" r="4.3" fill="#bdbbbb" fill-opacity="0.55"/>
<circle cx="402.4" cy="1713.4" r="4.3" fill="#bdbbbb" fill-opacity="0.55"/>
<circle cx="386.2" cy="1745.7" r="4.3" fill="#bdbbbb" fill-opacity="0.55"/>
<circle cx="399.7" cy="1754.4" r="4.3" fill="#bdbbbb" fill-opacity="0.55"/>
<circle cx="395.9" cy="1724.5" r="4.3" fill="#bdbbbb" fill-opacity="0.55"/>
<circle cx="384.3" cy="1741.5" r="4.3" fill="#bdbbbb" fill-opacity="0.55"/>
<circle cx="385.6" cy="1742.8" r="4.3" fill="#bdbbbb" fill-opacity="0.55"/>
<circle cx="396.2" cy="1759.0" r="4.3" fill="#bdbbbb" fill-opacity="0.55"/>
<circle cx="390.7" cy="1735.9" r="4.3" fill="#bdbbbb" fill-opacity="0.55"/>
<circle cx="394.3" cy="1747.2" r="4.3" fill="#bdbbbb" fill-opacity="0.55"/>
<circle cx="382.1" cy="1751.7" r="4.3" fill="#bdbbbb" fill-opacity="0.55"/>
<circle cx="408.3" cy="1716.6" r="4.3" fill="#bdbbbb" fill-opacity="0.55"/>
<circle cx="402.4" cy="1727.6" r="4.3" fill="#bdbbbb" fill-opacity="0.55"/>
<circle cx="387.2" cy="1752.3" r="4.3" fill="#bdbbbb" fill-opacity="0.55"/>
<circle cx="385.1" cy="1735.5" r="4.3" fill="#bdbbbb" fill-opacity="0.55"/>
<circle cx="390.6" cy="1697.3" r="4.3" fill="#bdbbbb" fill-opacity="0.55"/>
<circle cx="387.4" cy="1745.7" r="4.3" fill="#bdbbbb" fill-opacity="0.55"/>
<circle cx="402.6" cy="1675.6" r="4.3" fill="#bdbbbb" fill-opacity="0.55"/>
<circle cx="388.4" cy="1762.3" r="4.3" fill="#bdbbbb" fill-opacity="0.55"/>
<circle cx="385.2" cy="1758.7" r="4.3" fill="#bdbbbb" fill-opacity="0.55"/>
<circle cx="386.0" cy="1759.3" r="4.3" fill="#bdbbbb" fill-opacity="0.55"/>
<circle cx="387.7" cy="1724.6" r="4.3" fill="#bdbbbb" fill-opacity="0.55"/>
<circle cx="388.2" cy="1761.8" r="4.3" fill="#bdbbbb" fill-opacity="0.55"/>
<circle cx="399.1" cy="1752.5" r="4.3" fill="#bdbbbb" fill-opacity="0.55"/>
<circle cx="383.5" cy="1764.8" r="4.3" fill="#bdbbbb" fill-opacity="0.55"/>
<circle cx="402.7" cy="1696.3" r="4.3" fill="#bdbbbb" fill-opacity="0.55"/>
<circle cx="399.3" cy="1706.8" r="4.3" fill="#bdbbbb" fill-opacity="0.55"/>
<circle cx="383.6" cy="1659.6" r="4.3" fill="#bdbbbb" fill-opacity="0.55"/>
<circle cx="398.0" cy="1746.8" r="4.3" fill="#bdbbbb" fill-opacity="0.55"/>
<circle cx="392.0" cy="1699.6" r="4.3" fill="#bdbbbb" fill-opacity="0.55"/>
<circle cx="396.1" cy="1764.2" r="4.3" fill="#bdbbbb" fill-opacity="0.55"/>
<circle cx="401.6" cy="1714.4" r="4.3" fill="#bdbbbb" fill-opacity="0.55"/>
<circle cx="409.7" cy="1669.5" r="4.3" fill="#bdbbbb" fill-opacity="0.55"/>
<circle cx="404.5" cy="1690.9" r="4.3" fill="#bdbbbb" fill-opacity="0.55"/>
<circle cx="388.7" cy="1746.8" r="4.3" fill="#bdbbbb" fill-opacity="0.55"/>
<circle cx="395.1" cy="1711.8" r="4.3" fill="#bdbbbb" fill-opacity="0.55"/>
<circle cx="388.6" cy="1761.8" r="4.3" fill="#bdbbbb" fill-opacity="0.55"/>
<circle cx="407.1" cy="1725.5" r="4.3" fill="#bdbbbb" fill-opacity="0.55"/>
<circle cx="406.5" cy="1705.3" r="4.3" fill="#bdbbbb" fill-opacity="0.55"/>
<circle cx="394.7" cy="1739.2" r="4.3" fill="#bdbbbb" fill-opacity="0.55"/>
<circle cx="383.3" cy="1762.7" r="4.3" fill="#bdbbbb" fill-opacity="0.55"/>
<circle cx="393.8" cy="1707.1" r="4.3" fill="#bdbbbb" fill-opacity="0.55"/>
<circle cx="388.2" cy="1754.0" r="4.3" fill="#bdbbbb" fill-opacity="0.55"/>
<circle cx="393.1" cy="1739.3" r="4.3" fill="#bdbbbb" fill-opacity="0.55"/>
<circle cx="402.3" cy="1731.4" r="4.3" fill="#bdbbbb" fill-opacity="0.55"/>
<circle cx="392.4" cy="1757.4" r="4.3" fill="#bdbbbb" fill-opacity="0.55"/>
<circle cx="405.3" cy="1758.4" r="4.3" fill="#bdbbbb" fill-opacity="0.55"/>
<circle cx="402.4" cy="1725.0" r="4.3" fill="#bdbbbb" fill-opacity="0.55"/>
<circle cx="409.1" cy="1755.0" r="4.3" fill="#bdbbbb" fill-opacity="0.55"/>
<circle cx="397.9" cy="1758.6" r="4.3" fill="#bdbbbb" fill-opacity="0.55"/>
<circle cx="405.8" cy="1732.2" r="4.3" fill="#bdbbbb" fill-opacity="0.55"/>
<circle cx="408.2" cy="1701.6" r="4.3" fill="#bdbbbb" fill-opacity="0.55"/>
<circle cx="389.3" cy="1754.8" r="4.3" fill="#bdbbbb" fill-opacity="0.55"/>
<circle cx="390.3" cy="1757.4" r="4.3" fill="#bdbbbb" fill-opacity="0.55"/>
<circle cx="388.9" cy="1663.3" r="4.3" fill="#bdbbbb" fill-opacity="0.55"/>
<circle cx="397.3" cy="1756.2" r="4.3" fill="#bdbbbb" fill-opacity="0.55"/>
<circle cx="390.1" cy="1730.7" r="4.3" fill="#bdbbbb" fill-opacity="0.55"/>
<circle cx="384.5" cy="1755.1" r="4.3" fill="#bdbbbb" fill-opacity="0.55"/>
<circle cx="397.6" cy="1722.9" r="4.3" fill="#bdbbbb" fill-opacity="0.55"/>
<circle cx="402.0" cy="1706.6" r="4.3" fill="#bdbbbb" fill-opacity="0.55"/>
<circle cx="383.4" cy="1707.2" r="4.3" fill="#bdbbbb" fill-opacity="0.55"/>
<circle cx="388.5" cy="1693.6" r="4.3" fill="#bdbbbb" fill-opacity="0.55"/>
<circle cx="404.8" cy="1692.6" r="4.3" fill="#bdbbbb" fill-opacity="0.55"/>
<circle cx="401.4" cy="1755.9" r="4.3" fill="#bdbbbb" fill-opacity="0.55"/>
<circle cx="401.0" cy="1750.8" r="4.3" fill="#bdbbbb" fill-opacity="0.55"/>
<circle cx="345.3" cy="1770.7" r="4.3" fill="#bdbbbb" fill-opacity="0.5"/>
<circle cx="345.3" cy="1782.9" r="4.3" fill="#bdbbbb" fill-opacity="0.5"/>
<circle cx="350.4" cy="1794.2" r="4.3" fill="#bdbbbb" fill-opacity="0.5"/>
<circle cx="444.5" cy="1782.9" r="4.3" fill="#bdbbbb" fill-opacity="0.5"/>
<circle cx="452.6" cy="1778.8" r="4.3" fill="#bdbbbb" fill-opacity="0.5"/>
<circle cx="457.7" cy="1791.1" r="4.3" fill="#bdbbbb" fill-opacity="0.5"/>
<circle cx="467.0" cy="1771.7" r="4.3" fill="#bdbbbb" fill-opacity="0.5"/>
<circle cx="501.6" cy="1780.2" r="4.3" fill="#bdbbbb" fill-opacity="0.5"/>
<circle cx="515.7" cy="1776.7" r="4.3" fill="#bdbbbb" fill-opacity="0.5"/>
<circle cx="523.8" cy="1774.3" r="4.3" fill="#bdbbbb" fill-opacity="0.5"/>
<circle cx="527.3" cy="1772.0" r="4.3" fill="#bdbbbb" fill-opacity="0.5"/>
<circle cx="458.0" cy="1791.4" r="4.3" fill="#bdbbbb" fill-opacity="0.5"/>
<circle cx="455.0" cy="1780.0" r="4.3" fill="#bdbbbb" fill-opacity="0.5"/>
<circle cx="385.3" cy="1508.3" r="4.3" fill="#bdbbbb" fill-opacity="0.5"/>
<circle cx="382.6" cy="1557.0" r="4.3" fill="#bdbbbb" fill-opacity="0.5"/>
<circle cx="381.9" cy="1557.5" r="4.3" fill="#bdbbbb" fill-opacity="0.5"/>
<circle cx="386.8" cy="1566.9" r="4.3" fill="#bdbbbb" fill-opacity="0.5"/>
<circle cx="387.4" cy="1573.0" r="4.3" fill="#bdbbbb" fill-opacity="0.5"/>
<circle cx="407.6" cy="1572.7" r="4.3" fill="#bdbbbb" fill-opacity="0.5"/>
<circle cx="387.3" cy="1617.0" r="4.3" fill="#bdbbbb" fill-opacity="0.5"/>
<circle cx="410.0" cy="1617.0" r="4.3" fill="#bdbbbb" fill-opacity="0.5"/>
<circle cx="387.0" cy="1641.0" r="4.3" fill="#bdbbbb" fill-opacity="0.5"/>
<circle cx="404.0" cy="1640.0" r="4.3" fill="#bdbbbb" fill-opacity="0.5"/>
<circle cx="410.0" cy="1648.0" r="4.3" fill="#bdbbbb" fill-opacity="0.5"/>
<circle cx="391.0" cy="1660.0" r="4.3" fill="#bdbbbb" fill-opacity="0.5"/>
<circle cx="406.0" cy="1664.0" r="4.3" fill="#bdbbbb" fill-opacity="0.5"/>
<circle cx="349.0" cy="1776.0" r="4.3" fill="#bdbbbb" fill-opacity="0.5"/>
<circle cx="440.0" cy="1800.0" r="4.3" fill="#bdbbbb" fill-opacity="0.5"/>
<circle cx="360.0" cy="1798.0" r="4.3" fill="#bdbbbb" fill-opacity="0.5"/>
<circle cx="380.1" cy="1763.5" r="4.3" fill="#5647c9" fill-opacity="0.55"/>
<circle cx="380.2" cy="1753.4" r="4.3" fill="#5647c9" fill-opacity="0.55"/>
<circle cx="380.2" cy="1757.2" r="4.3" fill="#5647c9" fill-opacity="0.55"/>
<circle cx="377.8" cy="1747.9" r="4.3" fill="#5647c9" fill-opacity="0.55"/>
<circle cx="379.1" cy="1694.3" r="4.3" fill="#5647c9" fill-opacity="0.55"/>
<circle cx="377.4" cy="1704.2" r="4.3" fill="#5647c9" fill-opacity="0.55"/>
<circle cx="375.2" cy="1699.8" r="4.3" fill="#5647c9" fill-opacity="0.55"/>
<circle cx="378.3" cy="1710.3" r="4.3" fill="#5647c9" fill-opacity="0.55"/>
<circle cx="377.2" cy="1748.3" r="4.3" fill="#5647c9" fill-opacity="0.55"/>
<circle cx="378.7" cy="1685.2" r="4.3" fill="#5647c9" fill-opacity="0.55"/>
<circle cx="378.4" cy="1722.6" r="4.3" fill="#5647c9" fill-opacity="0.55"/>
<circle cx="377.7" cy="1699.0" r="4.3" fill="#5647c9" fill-opacity="0.55"/>
<circle cx="377.1" cy="1699.3" r="4.3" fill="#5647c9" fill-opacity="0.55"/>
<circle cx="375.8" cy="1688.1" r="4.3" fill="#5647c9" fill-opacity="0.55"/>
<circle cx="379.6" cy="1712.6" r="4.3" fill="#5647c9" fill-opacity="0.55"/>
<circle cx="377.1" cy="1696.4" r="4.3" fill="#5647c9" fill-opacity="0.55"/>
<circle cx="374.9" cy="1753.9" r="4.3" fill="#5647c9" fill-opacity="0.55"/>
<circle cx="380.9" cy="1710.8" r="4.3" fill="#5647c9" fill-opacity="0.55"/>
<circle cx="375.1" cy="1684.0" r="4.3" fill="#5647c9" fill-opacity="0.55"/>
<circle cx="373.0" cy="1730.6" r="4.3" fill="#5647c9" fill-opacity="0.55"/>
<circle cx="374.1" cy="1741.3" r="4.3" fill="#5647c9" fill-opacity="0.55"/>
<circle cx="380.8" cy="1755.4" r="4.3" fill="#5647c9" fill-opacity="0.55"/>
<circle cx="372.8" cy="1691.0" r="4.3" fill="#5647c9" fill-opacity="0.55"/>
<circle cx="372.8" cy="1735.7" r="4.3" fill="#5647c9" fill-opacity="0.55"/>
<circle cx="373.0" cy="1695.7" r="4.3" fill="#5647c9" fill-opacity="0.55"/>
<circle cx="379.6" cy="1698.7" r="4.3" fill="#5647c9" fill-opacity="0.55"/>
<circle cx="373.0" cy="1736.5" r="4.3" fill="#5647c9" fill-opacity="0.55"/>
<circle cx="379.4" cy="1694.6" r="4.3" fill="#5647c9" fill-opacity="0.55"/>
<circle cx="377.3" cy="1734.9" r="4.3" fill="#5647c9" fill-opacity="0.55"/>
<circle cx="379.1" cy="1742.7" r="4.3" fill="#5647c9" fill-opacity="0.55"/>
<circle cx="376.0" cy="1683.8" r="4.3" fill="#5647c9" fill-opacity="0.55"/>
<circle cx="379.8" cy="1692.4" r="4.3" fill="#5647c9" fill-opacity="0.55"/>
<circle cx="377.6" cy="1736.4" r="4.3" fill="#5647c9" fill-opacity="0.55"/>
<circle cx="378.4" cy="1751.3" r="4.3" fill="#5647c9" fill-opacity="0.55"/>
<circle cx="373.1" cy="1714.2" r="4.3" fill="#5647c9" fill-opacity="0.55"/>
<circle cx="379.9" cy="1724.3" r="4.3" fill="#5647c9" fill-opacity="0.55"/>
<circle cx="380.5" cy="1682.0" r="4.3" fill="#5647c9" fill-opacity="0.55"/>
<circle cx="376.1" cy="1724.0" r="4.3" fill="#5647c9" fill-opacity="0.55"/>
<circle cx="380.9" cy="1730.4" r="4.3" fill="#5647c9" fill-opacity="0.55"/>
<circle cx="380.3" cy="1751.2" r="4.3" fill="#5647c9" fill-opacity="0.55"/>
<circle cx="372.7" cy="1745.8" r="4.3" fill="#5647c9" fill-opacity="0.55"/>
<circle cx="378.3" cy="1763.4" r="4.3" fill="#5647c9" fill-opacity="0.55"/>
<circle cx="373.3" cy="1701.7" r="4.3" fill="#5647c9" fill-opacity="0.55"/>
<circle cx="375.2" cy="1734.1" r="4.3" fill="#5647c9" fill-opacity="0.55"/>
<circle cx="380.3" cy="1747.4" r="4.3" fill="#5647c9" fill-opacity="0.55"/>
<circle cx="380.5" cy="1733.1" r="4.3" fill="#5647c9" fill-opacity="0.55"/>
<circle cx="376.5" cy="1682.7" r="4.3" fill="#5647c9" fill-opacity="0.55"/>
<circle cx="373.9" cy="1698.7" r="4.3" fill="#5647c9" fill-opacity="0.55"/>
<circle cx="373.2" cy="1763.8" r="4.3" fill="#5647c9" fill-opacity="0.55"/>
<circle cx="379.8" cy="1730.2" r="4.3" fill="#5647c9" fill-opacity="0.55"/>
<circle cx="374.5" cy="1720.0" r="4.3" fill="#5647c9" fill-opacity="0.55"/>
<circle cx="378.1" cy="1746.9" r="4.3" fill="#5647c9" fill-opacity="0.55"/>
<circle cx="374.9" cy="1728.9" r="4.3" fill="#5647c9" fill-opacity="0.55"/>
<circle cx="376.7" cy="1757.6" r="4.3" fill="#5647c9" fill-opacity="0.55"/>
<circle cx="380.5" cy="1723.1" r="4.3" fill="#5647c9" fill-opacity="0.55"/>
<circle cx="375.0" cy="1721.2" r="4.3" fill="#5647c9" fill-opacity="0.55"/>
<circle cx="377.4" cy="1756.0" r="4.3" fill="#5647c9" fill-opacity="0.55"/>
<circle cx="377.1" cy="1752.3" r="4.3" fill="#5647c9" fill-opacity="0.55"/>
<circle cx="378.0" cy="1745.6" r="4.3" fill="#5647c9" fill-opacity="0.55"/>
<circle cx="372.9" cy="1700.2" r="4.3" fill="#5647c9" fill-opacity="0.55"/>
<circle cx="377.8" cy="1698.6" r="4.3" fill="#5647c9" fill-opacity="0.55"/>
<circle cx="377.7" cy="1713.8" r="4.3" fill="#5647c9" fill-opacity="0.55"/>
<circle cx="380.8" cy="1733.5" r="4.3" fill="#5647c9" fill-opacity="0.55"/>
<circle cx="377.8" cy="1719.0" r="4.3" fill="#5647c9" fill-opacity="0.55"/>
<circle cx="378.1" cy="1703.1" r="4.3" fill="#5647c9" fill-opacity="0.55"/>
<circle cx="375.3" cy="1686.4" r="4.3" fill="#5647c9" fill-opacity="0.55"/>
<circle cx="380.0" cy="1711.0" r="4.3" fill="#5647c9" fill-opacity="0.55"/>
<circle cx="374.0" cy="1680.3" r="4.3" fill="#5647c9" fill-opacity="0.55"/>
<circle cx="373.3" cy="1703.0" r="4.3" fill="#5647c9" fill-opacity="0.55"/>
<circle cx="379.1" cy="1707.3" r="4.3" fill="#5647c9" fill-opacity="0.55"/>
<circle cx="379.8" cy="1717.4" r="4.3" fill="#5647c9" fill-opacity="0.55"/>
<circle cx="372.5" cy="1704.7" r="4.3" fill="#5647c9" fill-opacity="0.55"/>
<circle cx="373.5" cy="1740.0" r="4.3" fill="#5647c9" fill-opacity="0.55"/>
<circle cx="376.9" cy="1745.5" r="4.3" fill="#5647c9" fill-opacity="0.55"/>
<circle cx="377.7" cy="1704.7" r="4.3" fill="#5647c9" fill-opacity="0.55"/>
<circle cx="379.9" cy="1735.9" r="4.3" fill="#5647c9" fill-opacity="0.55"/>
<circle cx="377.0" cy="1719.1" r="4.3" fill="#5647c9" fill-opacity="0.55"/>
<circle cx="374.1" cy="1708.9" r="4.3" fill="#5647c9" fill-opacity="0.55"/>
<circle cx="375.1" cy="1762.7" r="4.3" fill="#5647c9" fill-opacity="0.55"/>
<circle cx="373.5" cy="1713.1" r="4.3" fill="#5647c9" fill-opacity="0.55"/>
<circle cx="375.5" cy="1700.3" r="4.3" fill="#5647c9" fill-opacity="0.55"/>
<circle cx="379.8" cy="1752.9" r="4.3" fill="#5647c9" fill-opacity="0.55"/>
<circle cx="377.0" cy="1750.1" r="4.3" fill="#5647c9" fill-opacity="0.55"/>
<circle cx="372.7" cy="1751.9" r="4.3" fill="#5647c9" fill-opacity="0.55"/>
<circle cx="376.0" cy="1727.4" r="4.3" fill="#5647c9" fill-opacity="0.55"/>
<circle cx="373.1" cy="1711.6" r="4.3" fill="#5647c9" fill-opacity="0.55"/>
<circle cx="380.6" cy="1764.7" r="4.3" fill="#5647c9" fill-opacity="0.55"/>
<circle cx="373.0" cy="1753.8" r="4.3" fill="#5647c9" fill-opacity="0.55"/>
<circle cx="375.6" cy="1747.6" r="4.3" fill="#5647c9" fill-opacity="0.55"/>
<circle cx="376.8" cy="1681.6" r="4.3" fill="#5647c9" fill-opacity="0.55"/>
<circle cx="378.4" cy="1688.9" r="4.3" fill="#5647c9" fill-opacity="0.55"/>
<circle cx="372.6" cy="1730.8" r="4.3" fill="#5647c9" fill-opacity="0.55"/>
<circle cx="378.1" cy="1700.4" r="4.3" fill="#5647c9" fill-opacity="0.55"/>
<circle cx="377.9" cy="1739.4" r="4.3" fill="#5647c9" fill-opacity="0.55"/>
<circle cx="378.8" cy="1688.4" r="4.3" fill="#5647c9" fill-opacity="0.55"/>
<circle cx="375.5" cy="1764.6" r="4.3" fill="#5647c9" fill-opacity="0.55"/>
<circle cx="379.5" cy="1694.2" r="4.3" fill="#5647c9" fill-opacity="0.55"/>
<circle cx="372.7" cy="1725.4" r="4.3" fill="#5647c9" fill-opacity="0.55"/>
<circle cx="373.7" cy="1693.8" r="4.3" fill="#5647c9" fill-opacity="0.55"/>
<circle cx="378.9" cy="1747.0" r="4.3" fill="#5647c9" fill-opacity="0.55"/>
<circle cx="373.9" cy="1754.7" r="4.3" fill="#5647c9" fill-opacity="0.55"/>
<circle cx="377.6" cy="1721.8" r="4.3" fill="#5647c9" fill-opacity="0.55"/>
<circle cx="379.9" cy="1741.4" r="4.3" fill="#5647c9" fill-opacity="0.55"/>
<circle cx="372.7" cy="1709.2" r="4.3" fill="#5647c9" fill-opacity="0.55"/>
<circle cx="378.1" cy="1720.2" r="4.3" fill="#5647c9" fill-opacity="0.55"/>
<circle cx="377.1" cy="1690.9" r="4.3" fill="#5647c9" fill-opacity="0.55"/>
<circle cx="379.3" cy="1703.5" r="4.3" fill="#5647c9" fill-opacity="0.55"/>
<circle cx="377.4" cy="1731.3" r="4.3" fill="#5647c9" fill-opacity="0.55"/>
<circle cx="373.2" cy="1681.3" r="4.3" fill="#5647c9" fill-opacity="0.55"/>
<circle cx="377.1" cy="1719.8" r="4.3" fill="#5647c9" fill-opacity="0.55"/>
<circle cx="374.2" cy="1711.7" r="4.3" fill="#5647c9" fill-opacity="0.55"/>
<circle cx="373.6" cy="1689.4" r="4.3" fill="#5647c9" fill-opacity="0.55"/>
<circle cx="377.1" cy="1728.6" r="4.3" fill="#5647c9" fill-opacity="0.55"/>
<circle cx="378.3" cy="1712.6" r="4.3" fill="#5647c9" fill-opacity="0.55"/>
<circle cx="379.9" cy="1745.6" r="4.3" fill="#5647c9" fill-opacity="0.55"/>
<circle cx="378.7" cy="1728.2" r="4.3" fill="#5647c9" fill-opacity="0.55"/>
<circle cx="376.7" cy="1755.3" r="4.3" fill="#5647c9" fill-opacity="0.55"/>
<circle cx="375.2" cy="1745.5" r="4.3" fill="#5647c9" fill-opacity="0.55"/>
<circle cx="380.0" cy="1697.3" r="4.3" fill="#5647c9" fill-opacity="0.55"/>
<circle cx="376.6" cy="1744.6" r="4.3" fill="#5647c9" fill-opacity="0.55"/>
<circle cx="379.5" cy="1743.3" r="4.3" fill="#5647c9" fill-opacity="0.55"/>
<circle cx="379.2" cy="1727.9" r="4.3" fill="#5647c9" fill-opacity="0.55"/>
<circle cx="380.5" cy="1682.7" r="4.3" fill="#5647c9" fill-opacity="0.55"/>
<circle cx="378.3" cy="1754.3" r="4.3" fill="#5647c9" fill-opacity="0.55"/>
<circle cx="376.6" cy="1754.6" r="4.3" fill="#5647c9" fill-opacity="0.55"/>
<circle cx="372.6" cy="1723.5" r="4.3" fill="#5647c9" fill-opacity="0.55"/>
<circle cx="375.8" cy="1680.9" r="4.3" fill="#5647c9" fill-opacity="0.55"/>
<circle cx="380.6" cy="1712.0" r="4.3" fill="#5647c9" fill-opacity="0.55"/>
<circle cx="374.6" cy="1755.6" r="4.3" fill="#5647c9" fill-opacity="0.55"/>
<circle cx="375.1" cy="1719.1" r="4.3" fill="#5647c9" fill-opacity="0.55"/>
<circle cx="378.3" cy="1732.6" r="4.3" fill="#5647c9" fill-opacity="0.55"/>
<circle cx="374.7" cy="1687.0" r="4.3" fill="#5647c9" fill-opacity="0.55"/>
<circle cx="376.8" cy="1697.7" r="4.3" fill="#5647c9" fill-opacity="0.55"/>
<circle cx="376.4" cy="1710.6" r="4.3" fill="#5647c9" fill-opacity="0.55"/>
<circle cx="374.1" cy="1704.7" r="4.3" fill="#5647c9" fill-opacity="0.55"/>
<circle cx="372.8" cy="1707.2" r="4.3" fill="#5647c9" fill-opacity="0.55"/>
<circle cx="374.3" cy="1724.0" r="4.3" fill="#5647c9" fill-opacity="0.55"/>
<circle cx="379.2" cy="1734.2" r="4.3" fill="#5647c9" fill-opacity="0.55"/>
<circle cx="375.3" cy="1690.2" r="4.3" fill="#5647c9" fill-opacity="0.55"/>
<circle cx="374.5" cy="1738.6" r="4.3" fill="#5647c9" fill-opacity="0.55"/>
<circle cx="374.8" cy="1758.5" r="4.3" fill="#5647c9" fill-opacity="0.55"/>
<circle cx="377.1" cy="1735.0" r="4.3" fill="#5647c9" fill-opacity="0.55"/>
<circle cx="379.2" cy="1757.9" r="4.3" fill="#5647c9" fill-opacity="0.55"/>
<circle cx="372.9" cy="1744.3" r="4.3" fill="#5647c9" fill-opacity="0.55"/>
<circle cx="380.8" cy="1698.3" r="4.3" fill="#5647c9" fill-opacity="0.55"/>
<circle cx="379.1" cy="1691.2" r="4.3" fill="#5647c9" fill-opacity="0.55"/>
<circle cx="373.9" cy="1764.5" r="4.3" fill="#5647c9" fill-opacity="0.55"/>
<circle cx="379.5" cy="1763.7" r="4.3" fill="#5647c9" fill-opacity="0.55"/>
<circle cx="373.1" cy="1680.3" r="4.3" fill="#5647c9" fill-opacity="0.55"/>
<circle cx="374.3" cy="1686.1" r="4.3" fill="#5647c9" fill-opacity="0.55"/>
<circle cx="373.9" cy="1682.4" r="4.3" fill="#5647c9" fill-opacity="0.55"/>
<circle cx="380.0" cy="1751.2" r="4.3" fill="#5647c9" fill-opacity="0.55"/>
<circle cx="376.3" cy="1736.2" r="4.3" fill="#5647c9" fill-opacity="0.55"/>
<circle cx="378.7" cy="1737.5" r="4.3" fill="#5647c9" fill-opacity="0.55"/>
<circle cx="373.0" cy="1724.1" r="4.3" fill="#5647c9" fill-opacity="0.55"/>
<circle cx="374.0" cy="1680.5" r="4.3" fill="#5647c9" fill-opacity="0.55"/>
<circle cx="380.5" cy="1701.2" r="4.3" fill="#5647c9" fill-opacity="0.55"/>
<circle cx="377.9" cy="1738.9" r="4.3" fill="#5647c9" fill-opacity="0.55"/>
<circle cx="379.2" cy="1725.8" r="4.3" fill="#5647c9" fill-opacity="0.55"/>
<circle cx="381.0" cy="1725.7" r="4.3" fill="#5647c9" fill-opacity="0.55"/>
<circle cx="374.5" cy="1757.4" r="4.3" fill="#5647c9" fill-opacity="0.55"/>
<circle cx="377.8" cy="1734.5" r="4.3" fill="#5647c9" fill-opacity="0.55"/>
<circle cx="378.6" cy="1763.0" r="4.3" fill="#5647c9" fill-opacity="0.55"/>
<circle cx="376.4" cy="1760.3" r="4.3" fill="#5647c9" fill-opacity="0.55"/>
<circle cx="372.9" cy="1740.0" r="4.3" fill="#5647c9" fill-opacity="0.55"/>
<circle cx="375.5" cy="1712.4" r="4.3" fill="#5647c9" fill-opacity="0.55"/>
<circle cx="375.7" cy="1757.7" r="4.3" fill="#5647c9" fill-opacity="0.55"/>
<circle cx="373.7" cy="1745.9" r="4.3" fill="#5647c9" fill-opacity="0.55"/>
<circle cx="376.2" cy="1719.4" r="4.3" fill="#5647c9" fill-opacity="0.55"/>
<circle cx="375.2" cy="1700.1" r="4.3" fill="#5647c9" fill-opacity="0.55"/>
<circle cx="371.6" cy="1744.2" r="4.3" fill="#5647c9" fill-opacity="0.55"/>
<circle cx="363.1" cy="1764.4" r="4.3" fill="#5647c9" fill-opacity="0.55"/>
<circle cx="360.3" cy="1750.6" r="4.3" fill="#5647c9" fill-opacity="0.55"/>
<circle cx="380.0" cy="1763.4" r="4.3" fill="#5647c9" fill-opacity="0.55"/>
<circle cx="378.5" cy="1748.4" r="4.3" fill="#5647c9" fill-opacity="0.55"/>
<circle cx="367.5" cy="1757.5" r="4.3" fill="#5647c9" fill-opacity="0.55"/>
<circle cx="373.8" cy="1760.6" r="4.3" fill="#5647c9" fill-opacity="0.55"/>
<circle cx="361.8" cy="1759.9" r="4.3" fill="#5647c9" fill-opacity="0.55"/>
<circle cx="377.6" cy="1747.5" r="4.3" fill="#5647c9" fill-opacity="0.55"/>
<circle cx="374.4" cy="1746.9" r="4.3" fill="#5647c9" fill-opacity="0.55"/>
<circle cx="372.8" cy="1753.2" r="4.3" fill="#5647c9" fill-opacity="0.55"/>
<circle cx="379.9" cy="1754.8" r="4.3" fill="#5647c9" fill-opacity="0.55"/>
<circle cx="378.3" cy="1760.5" r="4.3" fill="#5647c9" fill-opacity="0.55"/>
<circle cx="372.0" cy="1744.3" r="4.3" fill="#5647c9" fill-opacity="0.55"/>
<circle cx="363.0" cy="1745.8" r="4.3" fill="#5647c9" fill-opacity="0.55"/>
<circle cx="374.2" cy="1763.6" r="4.3" fill="#5647c9" fill-opacity="0.55"/>
<circle cx="366.4" cy="1759.9" r="4.3" fill="#5647c9" fill-opacity="0.55"/>
<circle cx="371.6" cy="1762.8" r="4.3" fill="#5647c9" fill-opacity="0.55"/>
<circle cx="359.0" cy="1759.4" r="4.3" fill="#5647c9" fill-opacity="0.55"/>
<circle cx="376.8" cy="1744.4" r="4.3" fill="#5647c9" fill-opacity="0.55"/>
<circle cx="374.2" cy="1754.0" r="4.3" fill="#5647c9" fill-opacity="0.55"/>
<circle cx="363.9" cy="1755.1" r="4.3" fill="#5647c9" fill-opacity="0.55"/>
<circle cx="377.8" cy="1747.4" r="4.3" fill="#5647c9" fill-opacity="0.55"/>
<circle cx="356.0" cy="1748.4" r="4.3" fill="#5647c9" fill-opacity="0.55"/>
<circle cx="369.6" cy="1752.2" r="4.3" fill="#5647c9" fill-opacity="0.55"/>
<circle cx="359.9" cy="1760.1" r="4.3" fill="#5647c9" fill-opacity="0.55"/>
<circle cx="363.6" cy="1754.9" r="4.3" fill="#5647c9" fill-opacity="0.55"/>
<circle cx="375.4" cy="1745.7" r="4.3" fill="#5647c9" fill-opacity="0.55"/>
<circle cx="374.9" cy="1753.1" r="4.3" fill="#5647c9" fill-opacity="0.55"/>
<circle cx="381.0" cy="1751.8" r="4.3" fill="#5647c9" fill-opacity="0.55"/>
<circle cx="361.3" cy="1749.4" r="4.3" fill="#5647c9" fill-opacity="0.55"/>
<circle cx="370.4" cy="1760.5" r="4.3" fill="#5647c9" fill-opacity="0.55"/>
<circle cx="367.3" cy="1748.2" r="4.3" fill="#5647c9" fill-opacity="0.55"/>
<circle cx="370.5" cy="1756.6" r="4.3" fill="#5647c9" fill-opacity="0.55"/>
<circle cx="379.7" cy="1744.2" r="4.3" fill="#5647c9" fill-opacity="0.55"/>
<circle cx="380.9" cy="1759.0" r="4.3" fill="#5647c9" fill-opacity="0.55"/>
<circle cx="361.9" cy="1757.0" r="4.3" fill="#5647c9" fill-opacity="0.55"/>
<circle cx="377.6" cy="1751.8" r="4.3" fill="#5647c9" fill-opacity="0.55"/>
<circle cx="364.4" cy="1758.8" r="4.3" fill="#5647c9" fill-opacity="0.55"/>
<circle cx="371.5" cy="1760.9" r="4.3" fill="#5647c9" fill-opacity="0.55"/>
<circle cx="361.3" cy="1753.3" r="4.3" fill="#5647c9" fill-opacity="0.55"/>
<circle cx="367.4" cy="1749.7" r="4.3" fill="#5647c9" fill-opacity="0.55"/>
<circle cx="370.7" cy="1758.6" r="4.3" fill="#5647c9" fill-opacity="0.55"/>
<circle cx="380.7" cy="1749.7" r="4.3" fill="#5647c9" fill-opacity="0.55"/>
<circle cx="366.1" cy="1747.7" r="4.3" fill="#5647c9" fill-opacity="0.55"/>
<circle cx="367.2" cy="1745.6" r="4.3" fill="#5647c9" fill-opacity="0.55"/>
<circle cx="370.0" cy="1755.5" r="4.3" fill="#5647c9" fill-opacity="0.55"/>
<circle cx="359.2" cy="1756.7" r="4.3" fill="#5647c9" fill-opacity="0.55"/>
<circle cx="367.5" cy="1759.6" r="4.3" fill="#5647c9" fill-opacity="0.55"/>
<circle cx="378.9" cy="1761.7" r="4.3" fill="#5647c9" fill-opacity="0.55"/>
<circle cx="378.3" cy="1763.2" r="4.3" fill="#5647c9" fill-opacity="0.55"/>
<circle cx="369.4" cy="1756.2" r="4.3" fill="#5647c9" fill-opacity="0.55"/>
<circle cx="367.5" cy="1749.9" r="4.3" fill="#5647c9" fill-opacity="0.55"/>
<circle cx="369.4" cy="1750.0" r="4.3" fill="#5647c9" fill-opacity="0.55"/>
<circle cx="371.6" cy="1763.8" r="4.3" fill="#5647c9" fill-opacity="0.55"/>
<circle cx="366.3" cy="1744.2" r="4.3" fill="#5647c9" fill-opacity="0.55"/>
<circle cx="362.3" cy="1761.3" r="4.3" fill="#5647c9" fill-opacity="0.55"/>
<circle cx="359.2" cy="1759.8" r="4.3" fill="#5647c9" fill-opacity="0.55"/>
<circle cx="362.9" cy="1746.3" r="4.3" fill="#5647c9" fill-opacity="0.55"/>
<circle cx="375.9" cy="1751.5" r="4.3" fill="#5647c9" fill-opacity="0.55"/>
<circle cx="375.4" cy="1746.6" r="4.3" fill="#5647c9" fill-opacity="0.55"/>
<circle cx="357.0" cy="1758.1" r="4.3" fill="#5647c9" fill-opacity="0.55"/>
<circle cx="369.7" cy="1749.5" r="4.3" fill="#5647c9" fill-opacity="0.55"/>
<circle cx="367.9" cy="1748.0" r="4.3" fill="#5647c9" fill-opacity="0.55"/>
<circle cx="372.9" cy="1759.0" r="4.3" fill="#5647c9" fill-opacity="0.55"/>
<circle cx="374.6" cy="1752.0" r="4.3" fill="#5647c9" fill-opacity="0.55"/>
<circle cx="361.8" cy="1750.7" r="4.3" fill="#5647c9" fill-opacity="0.55"/>
<circle cx="357.8" cy="1751.4" r="4.3" fill="#5647c9" fill-opacity="0.55"/>
<circle cx="359.5" cy="1762.5" r="4.3" fill="#5647c9" fill-opacity="0.55"/>
<circle cx="364.3" cy="1754.1" r="4.3" fill="#5647c9" fill-opacity="0.55"/>
<circle cx="356.9" cy="1753.6" r="4.3" fill="#5647c9" fill-opacity="0.55"/>
<circle cx="367.2" cy="1761.9" r="4.3" fill="#5647c9" fill-opacity="0.55"/>
<circle cx="359.0" cy="1752.1" r="4.3" fill="#5647c9" fill-opacity="0.55"/>
<circle cx="358.8" cy="1760.5" r="4.3" fill="#5647c9" fill-opacity="0.55"/>
<circle cx="366.2" cy="1757.7" r="4.3" fill="#5647c9" fill-opacity="0.55"/>
<circle cx="360.6" cy="1752.1" r="4.3" fill="#5647c9" fill-opacity="0.55"/>
<circle cx="365.2" cy="1754.1" r="4.3" fill="#5647c9" fill-opacity="0.55"/>
<circle cx="374.7" cy="1744.8" r="4.3" fill="#5647c9" fill-opacity="0.55"/>
<circle cx="380.3" cy="1764.4" r="4.3" fill="#5647c9" fill-opacity="0.55"/>
<circle cx="380.1" cy="1759.8" r="4.3" fill="#5647c9" fill-opacity="0.55"/>
<circle cx="361.3" cy="1757.8" r="4.3" fill="#5647c9" fill-opacity="0.55"/>
<circle cx="371.0" cy="1752.1" r="4.3" fill="#5647c9" fill-opacity="0.55"/>
<circle cx="376.8" cy="1754.7" r="4.3" fill="#5647c9" fill-opacity="0.55"/>
<circle cx="365.8" cy="1762.6" r="4.3" fill="#5647c9" fill-opacity="0.55"/>
<circle cx="365.1" cy="1751.9" r="4.3" fill="#5647c9" fill-opacity="0.55"/>
<circle cx="368.8" cy="1750.6" r="4.3" fill="#5647c9" fill-opacity="0.55"/>
<circle cx="356.9" cy="1750.1" r="4.3" fill="#5647c9" fill-opacity="0.55"/>
<circle cx="368.3" cy="1748.9" r="4.3" fill="#5647c9" fill-opacity="0.55"/>
<circle cx="372.3" cy="1751.6" r="4.3" fill="#5647c9" fill-opacity="0.55"/>
<circle cx="372.7" cy="1762.9" r="4.3" fill="#5647c9" fill-opacity="0.55"/>
<circle cx="369.1" cy="1755.5" r="4.3" fill="#5647c9" fill-opacity="0.55"/>
<circle cx="367.1" cy="1756.9" r="4.3" fill="#5647c9" fill-opacity="0.55"/>
<circle cx="380.0" cy="1747.0" r="4.3" fill="#5647c9" fill-opacity="0.55"/>
<circle cx="373.6" cy="1752.7" r="4.3" fill="#5647c9" fill-opacity="0.55"/>
<circle cx="362.1" cy="1763.8" r="4.3" fill="#5647c9" fill-opacity="0.55"/>
<circle cx="360.9" cy="1749.9" r="4.3" fill="#5647c9" fill-opacity="0.55"/>
<circle cx="361.6" cy="1758.3" r="4.3" fill="#5647c9" fill-opacity="0.55"/>
<circle cx="359.4" cy="1749.0" r="4.3" fill="#5647c9" fill-opacity="0.55"/>
<circle cx="360.3" cy="1756.6" r="4.3" fill="#5647c9" fill-opacity="0.55"/>
<circle cx="372.2" cy="1749.1" r="4.3" fill="#5647c9" fill-opacity="0.55"/>
<circle cx="367.5" cy="1764.2" r="4.3" fill="#5647c9" fill-opacity="0.55"/>
<circle cx="370.0" cy="1744.0" r="4.3" fill="#5647c9" fill-opacity="0.55"/>
<circle cx="366.2" cy="1744.4" r="4.3" fill="#5647c9" fill-opacity="0.55"/>
<circle cx="360.6" cy="1764.8" r="4.3" fill="#5647c9" fill-opacity="0.55"/>
<circle cx="365.4" cy="1744.3" r="4.3" fill="#5647c9" fill-opacity="0.55"/>
<circle cx="375.3" cy="1755.8" r="4.3" fill="#5647c9" fill-opacity="0.55"/>
<circle cx="380.8" cy="1764.9" r="4.3" fill="#5647c9" fill-opacity="0.55"/>
<circle cx="379.8" cy="1746.7" r="4.3" fill="#5647c9" fill-opacity="0.55"/>
<circle cx="364.7" cy="1750.4" r="4.3" fill="#5647c9" fill-opacity="0.55"/>
<circle cx="377.6" cy="1756.8" r="4.3" fill="#5647c9" fill-opacity="0.55"/>
<circle cx="373.8" cy="1755.1" r="4.3" fill="#5647c9" fill-opacity="0.55"/>
<circle cx="361.7" cy="1761.6" r="4.3" fill="#5647c9" fill-opacity="0.55"/>
<circle cx="360.3" cy="1748.0" r="4.3" fill="#5647c9" fill-opacity="0.55"/>
<circle cx="359.8" cy="1745.1" r="4.3" fill="#5647c9" fill-opacity="0.55"/>
<circle cx="360.5" cy="1751.1" r="4.3" fill="#5647c9" fill-opacity="0.55"/>
<circle cx="370.7" cy="1757.5" r="4.3" fill="#5647c9" fill-opacity="0.55"/>
<circle cx="370.1" cy="1761.2" r="4.3" fill="#5647c9" fill-opacity="0.55"/>
<circle cx="367.5" cy="1747.5" r="4.3" fill="#5647c9" fill-opacity="0.55"/>
<circle cx="373.1" cy="1764.2" r="4.3" fill="#5647c9" fill-opacity="0.55"/>
<circle cx="377.0" cy="1762.4" r="4.3" fill="#5647c9" fill-opacity="0.55"/>
<circle cx="363.1" cy="1750.3" r="4.3" fill="#5647c9" fill-opacity="0.55"/>
<circle cx="368.6" cy="1756.8" r="4.3" fill="#5647c9" fill-opacity="0.55"/>
<circle cx="377.3" cy="1757.8" r="4.3" fill="#5647c9" fill-opacity="0.55"/>
<circle cx="378.7" cy="1751.0" r="4.3" fill="#5647c9" fill-opacity="0.55"/>
<circle cx="359.7" cy="1764.0" r="4.3" fill="#5647c9" fill-opacity="0.55"/>
<circle cx="378.4" cy="1757.9" r="4.3" fill="#5647c9" fill-opacity="0.55"/>
<circle cx="372.6" cy="1747.7" r="4.3" fill="#5647c9" fill-opacity="0.55"/>
<circle cx="374.1" cy="1758.6" r="4.3" fill="#5647c9" fill-opacity="0.55"/>
<circle cx="358.2" cy="1746.0" r="4.3" fill="#5647c9" fill-opacity="0.55"/>
<circle cx="356.8" cy="1763.0" r="4.3" fill="#5647c9" fill-opacity="0.55"/>
<circle cx="366.6" cy="1751.3" r="4.3" fill="#5647c9" fill-opacity="0.55"/>
<circle cx="369.3" cy="1764.9" r="4.3" fill="#5647c9" fill-opacity="0.55"/>
<circle cx="368.9" cy="1764.2" r="4.3" fill="#5647c9" fill-opacity="0.55"/>
<circle cx="357.0" cy="1762.8" r="4.3" fill="#5647c9" fill-opacity="0.55"/>
<circle cx="376.9" cy="1762.0" r="4.3" fill="#5647c9" fill-opacity="0.55"/>
<circle cx="379.4" cy="1752.4" r="4.3" fill="#5647c9" fill-opacity="0.55"/>
<circle cx="359.8" cy="1748.8" r="4.3" fill="#5647c9" fill-opacity="0.55"/>
<circle cx="357.2" cy="1759.3" r="4.3" fill="#5647c9" fill-opacity="0.55"/>
<circle cx="380.8" cy="1750.7" r="4.3" fill="#5647c9" fill-opacity="0.55"/>
<circle cx="375.8" cy="1758.1" r="4.3" fill="#5647c9" fill-opacity="0.55"/>
<circle cx="366.3" cy="1751.9" r="4.3" fill="#5647c9" fill-opacity="0.55"/>
<circle cx="373.8" cy="1762.8" r="4.3" fill="#5647c9" fill-opacity="0.55"/>
<circle cx="366.7" cy="1749.9" r="4.3" fill="#5647c9" fill-opacity="0.55"/>
<circle cx="380.4" cy="1752.1" r="4.3" fill="#5647c9" fill-opacity="0.55"/>
<circle cx="370.9" cy="1757.1" r="4.3" fill="#5647c9" fill-opacity="0.55"/>
<circle cx="361.6" cy="1750.0" r="4.3" fill="#5647c9" fill-opacity="0.55"/>
<circle cx="361.0" cy="1754.5" r="4.3" fill="#5647c9" fill-opacity="0.55"/>
<circle cx="366.7" cy="1758.5" r="4.3" fill="#5647c9" fill-opacity="0.55"/>
<circle cx="359.5" cy="1754.1" r="4.3" fill="#5647c9" fill-opacity="0.55"/>
<circle cx="377.7" cy="1761.6" r="4.3" fill="#5647c9" fill-opacity="0.55"/>
<circle cx="371.4" cy="1731.8" r="4.3" fill="#5647c9" fill-opacity="0.5"/>
<circle cx="361.3" cy="1719.0" r="4.3" fill="#5647c9" fill-opacity="0.5"/>
<circle cx="368.6" cy="1739.9" r="4.3" fill="#5647c9" fill-opacity="0.5"/>
<circle cx="375.2" cy="1725.4" r="4.3" fill="#5647c9" fill-opacity="0.5"/>
<circle cx="377.5" cy="1744.0" r="4.3" fill="#5647c9" fill-opacity="0.5"/>
<circle cx="370.5" cy="1730.8" r="4.3" fill="#5647c9" fill-opacity="0.5"/>
<circle cx="377.1" cy="1712.6" r="4.3" fill="#5647c9" fill-opacity="0.5"/>
<circle cx="378.3" cy="1739.5" r="4.3" fill="#5647c9" fill-opacity="0.5"/>
<circle cx="362.3" cy="1719.5" r="4.3" fill="#5647c9" fill-opacity="0.5"/>
<circle cx="370.7" cy="1721.6" r="4.3" fill="#5647c9" fill-opacity="0.5"/>
<circle cx="375.8" cy="1743.4" r="4.3" fill="#5647c9" fill-opacity="0.5"/>
<circle cx="376.1" cy="1743.2" r="4.3" fill="#5647c9" fill-opacity="0.5"/>
<circle cx="372.7" cy="1713.4" r="4.3" fill="#5647c9" fill-opacity="0.5"/>
<circle cx="380.6" cy="1738.5" r="4.3" fill="#5647c9" fill-opacity="0.5"/>
<circle cx="374.7" cy="1740.0" r="4.3" fill="#5647c9" fill-opacity="0.5"/>
<circle cx="369.0" cy="1726.1" r="4.3" fill="#5647c9" fill-opacity="0.5"/>
<circle cx="363.5" cy="1727.6" r="4.3" fill="#5647c9" fill-opacity="0.5"/>
<circle cx="370.4" cy="1739.6" r="4.3" fill="#5647c9" fill-opacity="0.5"/>
<circle cx="373.1" cy="1717.4" r="4.3" fill="#5647c9" fill-opacity="0.5"/>
<circle cx="367.8" cy="1719.7" r="4.3" fill="#5647c9" fill-opacity="0.5"/>
<circle cx="371.8" cy="1721.9" r="4.3" fill="#5647c9" fill-opacity="0.5"/>
<circle cx="370.5" cy="1741.2" r="4.3" fill="#5647c9" fill-opacity="0.5"/>
<circle cx="379.7" cy="1737.9" r="4.3" fill="#5647c9" fill-opacity="0.5"/>
<circle cx="370.7" cy="1744.4" r="4.3" fill="#5647c9" fill-opacity="0.5"/>
<circle cx="366.8" cy="1739.3" r="4.3" fill="#5647c9" fill-opacity="0.5"/>
<circle cx="379.0" cy="1719.3" r="4.3" fill="#5647c9" fill-opacity="0.5"/>
<circle cx="364.7" cy="1728.5" r="4.3" fill="#5647c9" fill-opacity="0.5"/>
<circle cx="363.3" cy="1725.0" r="4.3" fill="#5647c9" fill-opacity="0.5"/>
<circle cx="366.9" cy="1713.9" r="4.3" fill="#5647c9" fill-opacity="0.5"/>
<circle cx="355.5" cy="1743.9" r="4.3" fill="#5647c9" fill-opacity="0.5"/>
<circle cx="367.6" cy="1742.6" r="4.3" fill="#5647c9" fill-opacity="0.5"/>
<circle cx="375.9" cy="1720.6" r="4.3" fill="#5647c9" fill-opacity="0.5"/>
<circle cx="379.1" cy="1740.7" r="4.3" fill="#5647c9" fill-opacity="0.5"/>
<circle cx="375.0" cy="1739.3" r="4.3" fill="#5647c9" fill-opacity="0.5"/>
<circle cx="377.9" cy="1739.7" r="4.3" fill="#5647c9" fill-opacity="0.5"/>
<circle cx="372.3" cy="1741.2" r="4.3" fill="#5647c9" fill-opacity="0.5"/>
<circle cx="374.7" cy="1712.9" r="4.3" fill="#5647c9" fill-opacity="0.5"/>
<circle cx="376.9" cy="1723.2" r="4.3" fill="#5647c9" fill-opacity="0.5"/>
<circle cx="373.5" cy="1723.0" r="4.3" fill="#5647c9" fill-opacity="0.5"/>
<circle cx="377.4" cy="1733.0" r="4.3" fill="#5647c9" fill-opacity="0.5"/>
<circle cx="374.7" cy="1720.1" r="4.3" fill="#5647c9" fill-opacity="0.5"/>
<circle cx="380.1" cy="1740.6" r="4.3" fill="#5647c9" fill-opacity="0.5"/>
<circle cx="380.1" cy="1716.6" r="4.3" fill="#5647c9" fill-opacity="0.5"/>
<circle cx="377.8" cy="1744.8" r="4.3" fill="#5647c9" fill-opacity="0.5"/>
<circle cx="374.2" cy="1715.6" r="4.3" fill="#5647c9" fill-opacity="0.5"/>
<circle cx="378.8" cy="1727.0" r="4.3" fill="#5647c9" fill-opacity="0.5"/>
<circle cx="366.8" cy="1734.0" r="4.3" fill="#5647c9" fill-opacity="0.5"/>
<circle cx="379.2" cy="1742.8" r="4.3" fill="#5647c9" fill-opacity="0.5"/>
<circle cx="373.6" cy="1730.8" r="4.3" fill="#5647c9" fill-opacity="0.5"/>
<circle cx="376.2" cy="1717.6" r="4.3" fill="#5647c9" fill-opacity="0.5"/>
<circle cx="366.3" cy="1565.7" r="4.3" fill="#5647c9" fill-opacity="0.5"/>
<circle cx="374.4" cy="1591.4" r="4.3" fill="#5647c9" fill-opacity="0.5"/>
<circle cx="379.1" cy="1618.7" r="4.3" fill="#5647c9" fill-opacity="0.5"/>
<circle cx="375.4" cy="1645.6" r="4.3" fill="#5647c9" fill-opacity="0.5"/>
<circle cx="371.9" cy="1660.3" r="4.3" fill="#5647c9" fill-opacity="0.5"/>
<circle cx="375.6" cy="1665.0" r="4.3" fill="#5647c9" fill-opacity="0.5"/>
<circle cx="370.5" cy="1683.0" r="4.3" fill="#5647c9" fill-opacity="0.5"/>
<circle cx="348.3" cy="1705.9" r="4.3" fill="#5647c9" fill-opacity="0.5"/>
<circle cx="365.5" cy="1710.8" r="4.3" fill="#5647c9" fill-opacity="0.5"/>
<circle cx="357.1" cy="1716.0" r="4.3" fill="#5647c9" fill-opacity="0.5"/>
<circle cx="327.3" cy="1724.8" r="4.3" fill="#5647c9" fill-opacity="0.5"/>
<circle cx="360.6" cy="1724.5" r="4.3" fill="#5647c9" fill-opacity="0.5"/>
<circle cx="306.3" cy="1744.1" r="4.3" fill="#5647c9" fill-opacity="0.5"/>
<circle cx="357.1" cy="1738.0" r="4.3" fill="#5647c9" fill-opacity="0.5"/>
<circle cx="348.3" cy="1746.7" r="4.3" fill="#5647c9" fill-opacity="0.5"/>
<circle cx="334.7" cy="1753.7" r="4.3" fill="#5647c9" fill-opacity="0.5"/>
<circle cx="346.2" cy="1762.0" r="4.3" fill="#5647c9" fill-opacity="0.5"/>
<circle cx="356.7" cy="1765.6" r="4.3" fill="#5647c9" fill-opacity="0.5"/>
<circle cx="367.2" cy="1381.0" r="4.3" fill="#5647c9" fill-opacity="0.5"/>
<circle cx="188.7" cy="1557.9" r="4.3" fill="#5647c9" fill-opacity="0.5"/>
<circle cx="377.0" cy="1600.0" r="4.3" fill="#5647c9" fill-opacity="0.5"/>
<circle cx="378.0" cy="1630.0" r="4.3" fill="#5647c9" fill-opacity="0.5"/>
<circle cx="413.4" cy="1725.6" r="4.3" fill="#e3281e" fill-opacity="0.6"/>
<circle cx="415.4" cy="1731.7" r="4.3" fill="#e3281e" fill-opacity="0.6"/>
<circle cx="439.2" cy="1728.5" r="4.3" fill="#e3281e" fill-opacity="0.6"/>
<circle cx="425.6" cy="1749.7" r="4.3" fill="#e3281e" fill-opacity="0.6"/>
<circle cx="442.2" cy="1725.3" r="4.3" fill="#e3281e" fill-opacity="0.6"/>
<circle cx="437.7" cy="1732.0" r="4.3" fill="#e3281e" fill-opacity="0.6"/>
<circle cx="413.2" cy="1734.3" r="4.3" fill="#e3281e" fill-opacity="0.6"/>
<circle cx="425.3" cy="1726.5" r="4.3" fill="#e3281e" fill-opacity="0.6"/>
<circle cx="416.2" cy="1764.2" r="4.3" fill="#e3281e" fill-opacity="0.6"/>
<circle cx="432.8" cy="1760.8" r="4.3" fill="#e3281e" fill-opacity="0.6"/>
<circle cx="412.0" cy="1719.6" r="4.3" fill="#e3281e" fill-opacity="0.6"/>
<circle cx="413.7" cy="1710.2" r="4.3" fill="#e3281e" fill-opacity="0.6"/>
<circle cx="429.5" cy="1741.4" r="4.3" fill="#e3281e" fill-opacity="0.6"/>
<circle cx="426.9" cy="1727.6" r="4.3" fill="#e3281e" fill-opacity="0.6"/>
<circle cx="434.4" cy="1754.2" r="4.3" fill="#e3281e" fill-opacity="0.6"/>
<circle cx="412.2" cy="1720.9" r="4.3" fill="#e3281e" fill-opacity="0.6"/>
<circle cx="438.5" cy="1729.9" r="4.3" fill="#e3281e" fill-opacity="0.6"/>
<circle cx="422.1" cy="1763.9" r="4.3" fill="#e3281e" fill-opacity="0.6"/>
<circle cx="424.1" cy="1726.6" r="4.3" fill="#e3281e" fill-opacity="0.6"/>
<circle cx="430.1" cy="1730.3" r="4.3" fill="#e3281e" fill-opacity="0.6"/>
<circle cx="427.1" cy="1740.5" r="4.3" fill="#e3281e" fill-opacity="0.6"/>
<circle cx="414.2" cy="1737.7" r="4.3" fill="#e3281e" fill-opacity="0.6"/>
<circle cx="423.2" cy="1712.9" r="4.3" fill="#e3281e" fill-opacity="0.6"/>
<circle cx="423.2" cy="1760.0" r="4.3" fill="#e3281e" fill-opacity="0.6"/>
<circle cx="421.6" cy="1717.9" r="4.3" fill="#e3281e" fill-opacity="0.6"/>
<circle cx="416.2" cy="1722.6" r="4.3" fill="#e3281e" fill-opacity="0.6"/>
<circle cx="414.5" cy="1732.0" r="4.3" fill="#e3281e" fill-opacity="0.6"/>
<circle cx="418.3" cy="1735.1" r="4.3" fill="#e3281e" fill-opacity="0.6"/>
<circle cx="421.0" cy="1737.9" r="4.3" fill="#e3281e" fill-opacity="0.6"/>
<circle cx="415.6" cy="1761.5" r="4.3" fill="#e3281e" fill-opacity="0.6"/>
<circle cx="429.8" cy="1756.0" r="4.3" fill="#e3281e" fill-opacity="0.6"/>
<circle cx="416.6" cy="1713.8" r="4.3" fill="#e3281e" fill-opacity="0.6"/>
<circle cx="416.0" cy="1705.5" r="4.3" fill="#e3281e" fill-opacity="0.6"/>
<circle cx="415.6" cy="1720.2" r="4.3" fill="#e3281e" fill-opacity="0.6"/>
<circle cx="416.1" cy="1735.7" r="4.3" fill="#e3281e" fill-opacity="0.6"/>
<circle cx="431.8" cy="1758.4" r="4.3" fill="#e3281e" fill-opacity="0.6"/>
<circle cx="424.2" cy="1724.2" r="4.3" fill="#e3281e" fill-opacity="0.6"/>
<circle cx="435.4" cy="1741.3" r="4.3" fill="#e3281e" fill-opacity="0.6"/>
<circle cx="425.0" cy="1716.1" r="4.3" fill="#e3281e" fill-opacity="0.6"/>
<circle cx="435.2" cy="1711.9" r="4.3" fill="#e3281e" fill-opacity="0.6"/>
<circle cx="444.2" cy="1757.3" r="4.3" fill="#e3281e" fill-opacity="0.6"/>
<circle cx="419.0" cy="1704.2" r="4.3" fill="#e3281e" fill-opacity="0.6"/>
<circle cx="414.8" cy="1725.0" r="4.3" fill="#e3281e" fill-opacity="0.6"/>
<circle cx="438.0" cy="1755.4" r="4.3" fill="#e3281e" fill-opacity="0.6"/>
<circle cx="425.0" cy="1715.9" r="4.3" fill="#e3281e" fill-opacity="0.6"/>
<circle cx="450.3" cy="1729.7" r="4.3" fill="#e3281e" fill-opacity="0.6"/>
<circle cx="420.7" cy="1726.1" r="4.3" fill="#e3281e" fill-opacity="0.6"/>
<circle cx="437.1" cy="1749.7" r="4.3" fill="#e3281e" fill-opacity="0.6"/>
<circle cx="412.0" cy="1758.7" r="4.3" fill="#e3281e" fill-opacity="0.6"/>
<circle cx="417.4" cy="1728.9" r="4.3" fill="#e3281e" fill-opacity="0.6"/>
<circle cx="424.0" cy="1723.3" r="4.3" fill="#e3281e" fill-opacity="0.6"/>
<circle cx="418.0" cy="1754.8" r="4.3" fill="#e3281e" fill-opacity="0.6"/>
<circle cx="415.4" cy="1760.7" r="4.3" fill="#e3281e" fill-opacity="0.6"/>
<circle cx="426.1" cy="1706.1" r="4.3" fill="#e3281e" fill-opacity="0.6"/>
<circle cx="420.5" cy="1763.6" r="4.3" fill="#e3281e" fill-opacity="0.6"/>
<circle cx="427.0" cy="1728.7" r="4.3" fill="#e3281e" fill-opacity="0.6"/>
<circle cx="435.0" cy="1740.2" r="4.3" fill="#e3281e" fill-opacity="0.6"/>
<circle cx="429.2" cy="1734.0" r="4.3" fill="#e3281e" fill-opacity="0.6"/>
<circle cx="420.0" cy="1741.9" r="4.3" fill="#e3281e" fill-opacity="0.6"/>
<circle cx="413.2" cy="1756.8" r="4.3" fill="#e3281e" fill-opacity="0.6"/>
<circle cx="424.4" cy="1733.2" r="4.3" fill="#e3281e" fill-opacity="0.6"/>
<circle cx="416.3" cy="1761.8" r="4.3" fill="#e3281e" fill-opacity="0.6"/>
<circle cx="416.9" cy="1729.4" r="4.3" fill="#e3281e" fill-opacity="0.6"/>
<circle cx="421.9" cy="1736.5" r="4.3" fill="#e3281e" fill-opacity="0.6"/>
<circle cx="417.1" cy="1740.1" r="4.3" fill="#e3281e" fill-opacity="0.6"/>
<circle cx="418.2" cy="1710.2" r="4.3" fill="#e3281e" fill-opacity="0.6"/>
<circle cx="414.6" cy="1756.8" r="4.3" fill="#e3281e" fill-opacity="0.6"/>
<circle cx="417.7" cy="1759.0" r="4.3" fill="#e3281e" fill-opacity="0.6"/>
<circle cx="416.7" cy="1747.6" r="4.3" fill="#e3281e" fill-opacity="0.6"/>
<circle cx="416.8" cy="1753.5" r="4.3" fill="#e3281e" fill-opacity="0.6"/>
<circle cx="417.7" cy="1737.1" r="4.3" fill="#e3281e" fill-opacity="0.6"/>
<circle cx="418.9" cy="1761.3" r="4.3" fill="#e3281e" fill-opacity="0.6"/>
<circle cx="426.8" cy="1704.1" r="4.3" fill="#e3281e" fill-opacity="0.6"/>
<circle cx="414.6" cy="1756.7" r="4.3" fill="#e3281e" fill-opacity="0.6"/>
<circle cx="413.4" cy="1754.8" r="4.3" fill="#e3281e" fill-opacity="0.6"/>
<circle cx="424.1" cy="1746.9" r="4.3" fill="#e3281e" fill-opacity="0.6"/>
<circle cx="417.1" cy="1760.7" r="4.3" fill="#e3281e" fill-opacity="0.6"/>
<circle cx="414.8" cy="1723.8" r="4.3" fill="#e3281e" fill-opacity="0.6"/>
<circle cx="419.6" cy="1715.3" r="4.3" fill="#e3281e" fill-opacity="0.6"/>
<circle cx="424.1" cy="1732.6" r="4.3" fill="#e3281e" fill-opacity="0.6"/>
<circle cx="412.8" cy="1704.4" r="4.3" fill="#e3281e" fill-opacity="0.6"/>
<circle cx="424.9" cy="1721.8" r="4.3" fill="#e3281e" fill-opacity="0.6"/>
<circle cx="439.7" cy="1739.6" r="4.3" fill="#e3281e" fill-opacity="0.6"/>
<circle cx="438.2" cy="1729.1" r="4.3" fill="#e3281e" fill-opacity="0.6"/>
<circle cx="419.2" cy="1748.5" r="4.3" fill="#e3281e" fill-opacity="0.6"/>
<circle cx="417.1" cy="1746.4" r="4.3" fill="#e3281e" fill-opacity="0.6"/>
<circle cx="430.8" cy="1752.5" r="4.3" fill="#e3281e" fill-opacity="0.6"/>
<circle cx="445.5" cy="1759.8" r="4.3" fill="#e3281e" fill-opacity="0.6"/>
<circle cx="417.5" cy="1753.4" r="4.3" fill="#e3281e" fill-opacity="0.6"/>
<circle cx="434.3" cy="1749.1" r="4.3" fill="#e3281e" fill-opacity="0.6"/>
<circle cx="424.1" cy="1750.4" r="4.3" fill="#e3281e" fill-opacity="0.6"/>
<circle cx="432.0" cy="1740.6" r="4.3" fill="#e3281e" fill-opacity="0.6"/>
<circle cx="416.4" cy="1747.4" r="4.3" fill="#e3281e" fill-opacity="0.6"/>
<circle cx="423.2" cy="1750.9" r="4.3" fill="#e3281e" fill-opacity="0.6"/>
<circle cx="429.0" cy="1718.4" r="4.3" fill="#e3281e" fill-opacity="0.6"/>
<circle cx="419.0" cy="1763.4" r="4.3" fill="#e3281e" fill-opacity="0.6"/>
<circle cx="428.5" cy="1721.6" r="4.3" fill="#e3281e" fill-opacity="0.6"/>
<circle cx="435.8" cy="1720.0" r="4.3" fill="#e3281e" fill-opacity="0.6"/>
<circle cx="425.8" cy="1759.5" r="4.3" fill="#e3281e" fill-opacity="0.6"/>
<circle cx="413.5" cy="1720.0" r="4.3" fill="#e3281e" fill-opacity="0.6"/>
<circle cx="415.3" cy="1754.9" r="4.3" fill="#e3281e" fill-opacity="0.6"/>
<circle cx="437.9" cy="1763.5" r="4.3" fill="#e3281e" fill-opacity="0.6"/>
<circle cx="424.0" cy="1722.7" r="4.3" fill="#e3281e" fill-opacity="0.6"/>
<circle cx="422.7" cy="1751.2" r="4.3" fill="#e3281e" fill-opacity="0.6"/>
<circle cx="422.9" cy="1748.1" r="4.3" fill="#e3281e" fill-opacity="0.6"/>
<circle cx="428.5" cy="1718.9" r="4.3" fill="#e3281e" fill-opacity="0.6"/>
<circle cx="437.8" cy="1722.5" r="4.3" fill="#e3281e" fill-opacity="0.6"/>
<circle cx="412.1" cy="1723.6" r="4.3" fill="#e3281e" fill-opacity="0.6"/>
<circle cx="434.8" cy="1754.8" r="4.3" fill="#e3281e" fill-opacity="0.6"/>
<circle cx="422.4" cy="1736.6" r="4.3" fill="#e3281e" fill-opacity="0.6"/>
<circle cx="425.3" cy="1723.0" r="4.3" fill="#e3281e" fill-opacity="0.6"/>
<circle cx="424.0" cy="1718.2" r="4.3" fill="#e3281e" fill-opacity="0.6"/>
<circle cx="420.7" cy="1727.6" r="4.3" fill="#e3281e" fill-opacity="0.6"/>
<circle cx="415.3" cy="1712.5" r="4.3" fill="#e3281e" fill-opacity="0.6"/>
<circle cx="427.9" cy="1704.9" r="4.3" fill="#e3281e" fill-opacity="0.6"/>
<circle cx="434.8" cy="1734.5" r="4.3" fill="#e3281e" fill-opacity="0.6"/>
<circle cx="449.6" cy="1757.1" r="4.3" fill="#e3281e" fill-opacity="0.6"/>
<circle cx="450.1" cy="1718.7" r="4.3" fill="#e3281e" fill-opacity="0.6"/>
<circle cx="422.1" cy="1722.7" r="4.3" fill="#e3281e" fill-opacity="0.6"/>
<circle cx="441.5" cy="1706.3" r="4.3" fill="#e3281e" fill-opacity="0.6"/>
<circle cx="444.2" cy="1737.8" r="4.3" fill="#e3281e" fill-opacity="0.6"/>
<circle cx="436.9" cy="1717.5" r="4.3" fill="#e3281e" fill-opacity="0.6"/>
<circle cx="427.9" cy="1735.7" r="4.3" fill="#e3281e" fill-opacity="0.6"/>
<circle cx="419.8" cy="1758.4" r="4.3" fill="#e3281e" fill-opacity="0.6"/>
<circle cx="417.5" cy="1755.5" r="4.3" fill="#e3281e" fill-opacity="0.6"/>
<circle cx="424.5" cy="1725.7" r="4.3" fill="#e3281e" fill-opacity="0.6"/>
<circle cx="416.6" cy="1732.3" r="4.3" fill="#e3281e" fill-opacity="0.6"/>
<circle cx="429.4" cy="1744.9" r="4.3" fill="#e3281e" fill-opacity="0.6"/>
<circle cx="420.3" cy="1718.6" r="4.3" fill="#e3281e" fill-opacity="0.6"/>
<circle cx="429.2" cy="1742.1" r="4.3" fill="#e3281e" fill-opacity="0.6"/>
<circle cx="415.4" cy="1735.7" r="4.3" fill="#e3281e" fill-opacity="0.6"/>
<circle cx="430.0" cy="1707.3" r="4.3" fill="#e3281e" fill-opacity="0.6"/>
<circle cx="429.5" cy="1760.9" r="4.3" fill="#e3281e" fill-opacity="0.6"/>
<circle cx="414.4" cy="1736.1" r="4.3" fill="#e3281e" fill-opacity="0.6"/>
<circle cx="418.4" cy="1743.9" r="4.3" fill="#e3281e" fill-opacity="0.6"/>
<circle cx="424.0" cy="1764.6" r="4.3" fill="#e3281e" fill-opacity="0.6"/>
<circle cx="428.4" cy="1730.1" r="4.3" fill="#e3281e" fill-opacity="0.6"/>
<circle cx="426.7" cy="1757.7" r="4.3" fill="#e3281e" fill-opacity="0.6"/>
<circle cx="424.0" cy="1742.1" r="4.3" fill="#e3281e" fill-opacity="0.6"/>
<circle cx="428.7" cy="1736.7" r="4.3" fill="#e3281e" fill-opacity="0.6"/>
<circle cx="424.5" cy="1731.9" r="4.3" fill="#e3281e" fill-opacity="0.6"/>
<circle cx="438.2" cy="1705.7" r="4.3" fill="#e3281e" fill-opacity="0.6"/>
<circle cx="421.7" cy="1718.8" r="4.3" fill="#e3281e" fill-opacity="0.6"/>
<circle cx="422.8" cy="1708.6" r="4.3" fill="#e3281e" fill-opacity="0.6"/>
<circle cx="419.5" cy="1748.3" r="4.3" fill="#e3281e" fill-opacity="0.6"/>
<circle cx="439.5" cy="1733.3" r="4.3" fill="#e3281e" fill-opacity="0.6"/>
<circle cx="417.6" cy="1755.2" r="4.3" fill="#e3281e" fill-opacity="0.6"/>
<circle cx="418.4" cy="1754.4" r="4.3" fill="#e3281e" fill-opacity="0.6"/>
<circle cx="412.6" cy="1762.8" r="4.3" fill="#e3281e" fill-opacity="0.6"/>
<circle cx="432.4" cy="1723.2" r="4.3" fill="#e3281e" fill-opacity="0.6"/>
<circle cx="419.9" cy="1750.1" r="4.3" fill="#e3281e" fill-opacity="0.6"/>
<circle cx="416.4" cy="1741.9" r="4.3" fill="#e3281e" fill-opacity="0.6"/>
<circle cx="424.2" cy="1740.1" r="4.3" fill="#e3281e" fill-opacity="0.6"/>
<circle cx="449.3" cy="1763.3" r="4.3" fill="#e3281e" fill-opacity="0.6"/>
<circle cx="424.8" cy="1725.4" r="4.3" fill="#e3281e" fill-opacity="0.6"/>
<circle cx="416.8" cy="1753.1" r="4.3" fill="#e3281e" fill-opacity="0.6"/>
<circle cx="429.1" cy="1744.7" r="4.3" fill="#e3281e" fill-opacity="0.6"/>
<circle cx="428.9" cy="1743.9" r="4.3" fill="#e3281e" fill-opacity="0.6"/>
<circle cx="415.0" cy="1742.5" r="4.3" fill="#e3281e" fill-opacity="0.6"/>
<circle cx="434.6" cy="1721.2" r="4.3" fill="#e3281e" fill-opacity="0.6"/>
<circle cx="421.3" cy="1762.8" r="4.3" fill="#e3281e" fill-opacity="0.6"/>
<circle cx="426.9" cy="1758.1" r="4.3" fill="#e3281e" fill-opacity="0.6"/>
<circle cx="441.6" cy="1756.7" r="4.3" fill="#e3281e" fill-opacity="0.6"/>
<circle cx="423.3" cy="1730.0" r="4.3" fill="#e3281e" fill-opacity="0.6"/>
<circle cx="436.5" cy="1745.9" r="4.3" fill="#e3281e" fill-opacity="0.6"/>
<circle cx="424.9" cy="1747.7" r="4.3" fill="#e3281e" fill-opacity="0.6"/>
<circle cx="432.0" cy="1739.5" r="4.3" fill="#e3281e" fill-opacity="0.6"/>
<circle cx="428.7" cy="1740.6" r="4.3" fill="#e3281e" fill-opacity="0.6"/>
<circle cx="425.9" cy="1727.3" r="4.3" fill="#e3281e" fill-opacity="0.6"/>
<circle cx="416.4" cy="1726.5" r="4.3" fill="#e3281e" fill-opacity="0.6"/>
<circle cx="427.3" cy="1735.2" r="4.3" fill="#e3281e" fill-opacity="0.6"/>
<circle cx="439.0" cy="1756.7" r="4.3" fill="#e3281e" fill-opacity="0.6"/>
<circle cx="436.0" cy="1754.2" r="4.3" fill="#e3281e" fill-opacity="0.6"/>
<circle cx="426.3" cy="1745.1" r="4.3" fill="#e3281e" fill-opacity="0.6"/>
<circle cx="417.2" cy="1758.1" r="4.3" fill="#e3281e" fill-opacity="0.6"/>
<circle cx="427.3" cy="1725.7" r="4.3" fill="#e3281e" fill-opacity="0.6"/>
<circle cx="429.2" cy="1720.6" r="4.3" fill="#e3281e" fill-opacity="0.6"/>
<circle cx="414.1" cy="1723.7" r="4.3" fill="#e3281e" fill-opacity="0.6"/>
<circle cx="418.1" cy="1757.7" r="4.3" fill="#e3281e" fill-opacity="0.6"/>
<circle cx="431.6" cy="1717.1" r="4.3" fill="#e3281e" fill-opacity="0.6"/>
<circle cx="413.4" cy="1727.6" r="4.3" fill="#e3281e" fill-opacity="0.6"/>
<circle cx="423.0" cy="1764.1" r="4.3" fill="#e3281e" fill-opacity="0.6"/>
<circle cx="426.6" cy="1720.6" r="4.3" fill="#e3281e" fill-opacity="0.6"/>
<circle cx="415.9" cy="1761.5" r="4.3" fill="#e3281e" fill-opacity="0.6"/>
<circle cx="419.7" cy="1762.7" r="4.3" fill="#e3281e" fill-opacity="0.6"/>
<circle cx="413.1" cy="1747.6" r="4.3" fill="#e3281e" fill-opacity="0.6"/>
<circle cx="418.5" cy="1750.7" r="4.3" fill="#e3281e" fill-opacity="0.6"/>
<circle cx="434.3" cy="1761.3" r="4.3" fill="#e3281e" fill-opacity="0.6"/>
<circle cx="427.9" cy="1759.6" r="4.3" fill="#e3281e" fill-opacity="0.6"/>
<circle cx="422.9" cy="1755.5" r="4.3" fill="#e3281e" fill-opacity="0.6"/>
<circle cx="414.5" cy="1709.6" r="4.3" fill="#e3281e" fill-opacity="0.6"/>
<circle cx="429.8" cy="1761.4" r="4.3" fill="#e3281e" fill-opacity="0.6"/>
<circle cx="426.2" cy="1739.2" r="4.3" fill="#e3281e" fill-opacity="0.6"/>
<circle cx="420.7" cy="1748.0" r="4.3" fill="#e3281e" fill-opacity="0.6"/>
<circle cx="412.9" cy="1762.9" r="4.3" fill="#e3281e" fill-opacity="0.6"/>
<circle cx="426.7" cy="1718.8" r="4.3" fill="#e3281e" fill-opacity="0.6"/>
<circle cx="426.1" cy="1725.3" r="4.3" fill="#e3281e" fill-opacity="0.6"/>
<circle cx="424.1" cy="1740.7" r="4.3" fill="#e3281e" fill-opacity="0.6"/>
<circle cx="416.9" cy="1747.5" r="4.3" fill="#e3281e" fill-opacity="0.6"/>
<circle cx="424.5" cy="1716.3" r="4.3" fill="#e3281e" fill-opacity="0.6"/>
<circle cx="431.9" cy="1723.2" r="4.3" fill="#e3281e" fill-opacity="0.6"/>
<circle cx="431.6" cy="1747.7" r="4.3" fill="#e3281e" fill-opacity="0.6"/>
<circle cx="423.2" cy="1718.2" r="4.3" fill="#e3281e" fill-opacity="0.6"/>
<circle cx="424.7" cy="1711.0" r="4.3" fill="#e3281e" fill-opacity="0.6"/>
<circle cx="423.0" cy="1725.7" r="4.3" fill="#e3281e" fill-opacity="0.6"/>
<circle cx="417.2" cy="1752.6" r="4.3" fill="#e3281e" fill-opacity="0.6"/>
<circle cx="437.9" cy="1763.6" r="4.3" fill="#e3281e" fill-opacity="0.6"/>
<circle cx="416.3" cy="1724.3" r="4.3" fill="#e3281e" fill-opacity="0.6"/>
<circle cx="428.6" cy="1738.7" r="4.3" fill="#e3281e" fill-opacity="0.6"/>
<circle cx="415.1" cy="1760.5" r="4.3" fill="#e3281e" fill-opacity="0.6"/>
<circle cx="422.9" cy="1731.2" r="4.3" fill="#e3281e" fill-opacity="0.6"/>
<circle cx="438.8" cy="1729.9" r="4.3" fill="#e3281e" fill-opacity="0.6"/>
<circle cx="415.8" cy="1759.5" r="4.3" fill="#e3281e" fill-opacity="0.6"/>
<circle cx="419.0" cy="1747.4" r="4.3" fill="#e3281e" fill-opacity="0.6"/>
<circle cx="442.6" cy="1742.0" r="4.3" fill="#e3281e" fill-opacity="0.6"/>
<circle cx="415.9" cy="1742.3" r="4.3" fill="#e3281e" fill-opacity="0.6"/>
<circle cx="412.3" cy="1706.0" r="4.3" fill="#e3281e" fill-opacity="0.6"/>
<circle cx="426.1" cy="1745.9" r="4.3" fill="#e3281e" fill-opacity="0.6"/>
<circle cx="419.5" cy="1719.1" r="4.3" fill="#e3281e" fill-opacity="0.6"/>
<circle cx="439.8" cy="1708.3" r="4.3" fill="#e3281e" fill-opacity="0.6"/>
<circle cx="417.0" cy="1741.4" r="4.3" fill="#e3281e" fill-opacity="0.6"/>
<circle cx="435.5" cy="1748.0" r="4.3" fill="#e3281e" fill-opacity="0.6"/>
<circle cx="438.5" cy="1733.7" r="4.3" fill="#e3281e" fill-opacity="0.6"/>
<circle cx="419.9" cy="1715.0" r="4.3" fill="#e3281e" fill-opacity="0.6"/>
<circle cx="437.9" cy="1755.0" r="4.3" fill="#e3281e" fill-opacity="0.6"/>
<circle cx="414.4" cy="1739.6" r="4.3" fill="#e3281e" fill-opacity="0.6"/>
<circle cx="414.4" cy="1764.2" r="4.3" fill="#e3281e" fill-opacity="0.6"/>
<circle cx="417.6" cy="1743.1" r="4.3" fill="#e3281e" fill-opacity="0.6"/>
<circle cx="433.0" cy="1722.6" r="4.3" fill="#e3281e" fill-opacity="0.6"/>
<circle cx="421.1" cy="1704.8" r="4.3" fill="#e3281e" fill-opacity="0.6"/>
<circle cx="420.2" cy="1749.1" r="4.3" fill="#e3281e" fill-opacity="0.6"/>
<circle cx="421.4" cy="1746.8" r="4.3" fill="#e3281e" fill-opacity="0.6"/>
<circle cx="412.8" cy="1740.1" r="4.3" fill="#e3281e" fill-opacity="0.6"/>
<circle cx="414.1" cy="1712.6" r="4.3" fill="#e3281e" fill-opacity="0.6"/>
<circle cx="422.3" cy="1732.7" r="4.3" fill="#e3281e" fill-opacity="0.6"/>
<circle cx="421.5" cy="1722.9" r="4.3" fill="#e3281e" fill-opacity="0.6"/>
<circle cx="425.4" cy="1743.1" r="4.3" fill="#e3281e" fill-opacity="0.6"/>
<circle cx="417.1" cy="1719.8" r="4.3" fill="#e3281e" fill-opacity="0.6"/>
<circle cx="413.4" cy="1744.9" r="4.3" fill="#e3281e" fill-opacity="0.6"/>
<circle cx="415.7" cy="1756.1" r="4.3" fill="#e3281e" fill-opacity="0.6"/>
<circle cx="435.3" cy="1756.3" r="4.3" fill="#e3281e" fill-opacity="0.6"/>
<circle cx="428.3" cy="1763.8" r="4.3" fill="#e3281e" fill-opacity="0.6"/>
<circle cx="428.9" cy="1740.0" r="4.3" fill="#e3281e" fill-opacity="0.6"/>
<circle cx="434.5" cy="1754.3" r="4.3" fill="#e3281e" fill-opacity="0.6"/>
<circle cx="414.5" cy="1748.8" r="4.3" fill="#e3281e" fill-opacity="0.6"/>
<circle cx="431.8" cy="1738.2" r="4.3" fill="#e3281e" fill-opacity="0.6"/>
<circle cx="422.7" cy="1723.1" r="4.3" fill="#e3281e" fill-opacity="0.6"/>
<circle cx="427.7" cy="1752.6" r="4.3" fill="#e3281e" fill-opacity="0.6"/>
<circle cx="424.2" cy="1732.3" r="4.3" fill="#e3281e" fill-opacity="0.6"/>
<circle cx="429.7" cy="1758.2" r="4.3" fill="#e3281e" fill-opacity="0.6"/>
<circle cx="424.0" cy="1722.1" r="4.3" fill="#e3281e" fill-opacity="0.6"/>
<circle cx="415.8" cy="1728.9" r="4.3" fill="#e3281e" fill-opacity="0.6"/>
<circle cx="437.6" cy="1746.2" r="4.3" fill="#e3281e" fill-opacity="0.6"/>
<circle cx="413.4" cy="1724.3" r="4.3" fill="#e3281e" fill-opacity="0.6"/>
<circle cx="425.6" cy="1725.1" r="4.3" fill="#e3281e" fill-opacity="0.6"/>
<circle cx="414.1" cy="1735.0" r="4.3" fill="#e3281e" fill-opacity="0.6"/>
<circle cx="436.7" cy="1706.7" r="4.3" fill="#e3281e" fill-opacity="0.6"/>
<circle cx="415.7" cy="1751.0" r="4.3" fill="#e3281e" fill-opacity="0.6"/>
<circle cx="436.6" cy="1740.6" r="4.3" fill="#e3281e" fill-opacity="0.6"/>
<circle cx="442.2" cy="1725.0" r="4.3" fill="#e3281e" fill-opacity="0.6"/>
<circle cx="417.5" cy="1714.1" r="4.3" fill="#e3281e" fill-opacity="0.6"/>
<circle cx="419.7" cy="1717.8" r="4.3" fill="#e3281e" fill-opacity="0.6"/>
<circle cx="423.6" cy="1739.3" r="4.3" fill="#e3281e" fill-opacity="0.6"/>
<circle cx="436.3" cy="1751.9" r="4.3" fill="#e3281e" fill-opacity="0.6"/>
<circle cx="418.0" cy="1760.4" r="4.3" fill="#e3281e" fill-opacity="0.6"/>
<circle cx="436.6" cy="1707.3" r="4.3" fill="#e3281e" fill-opacity="0.6"/>
<circle cx="423.9" cy="1722.2" r="4.3" fill="#e3281e" fill-opacity="0.6"/>
<circle cx="433.6" cy="1758.4" r="4.3" fill="#e3281e" fill-opacity="0.6"/>
<circle cx="425.2" cy="1754.7" r="4.3" fill="#e3281e" fill-opacity="0.6"/>
<circle cx="429.9" cy="1728.1" r="4.3" fill="#e3281e" fill-opacity="0.6"/>
<circle cx="417.8" cy="1725.6" r="4.3" fill="#e3281e" fill-opacity="0.6"/>
<circle cx="419.6" cy="1707.1" r="4.3" fill="#e3281e" fill-opacity="0.6"/>
<circle cx="418.8" cy="1753.4" r="4.3" fill="#e3281e" fill-opacity="0.6"/>
<circle cx="438.2" cy="1759.3" r="4.3" fill="#e3281e" fill-opacity="0.6"/>
<circle cx="425.1" cy="1726.0" r="4.3" fill="#e3281e" fill-opacity="0.6"/>
<circle cx="416.2" cy="1724.4" r="4.3" fill="#e3281e" fill-opacity="0.6"/>
<circle cx="433.5" cy="1721.8" r="4.3" fill="#e3281e" fill-opacity="0.6"/>
<circle cx="415.1" cy="1724.5" r="4.3" fill="#e3281e" fill-opacity="0.6"/>
<circle cx="414.3" cy="1716.2" r="4.3" fill="#e3281e" fill-opacity="0.6"/>
<circle cx="421.0" cy="1738.8" r="4.3" fill="#e3281e" fill-opacity="0.6"/>
<circle cx="424.7" cy="1744.8" r="4.3" fill="#e3281e" fill-opacity="0.6"/>
<circle cx="415.0" cy="1736.6" r="4.3" fill="#e3281e" fill-opacity="0.6"/>
<circle cx="436.6" cy="1727.4" r="4.3" fill="#e3281e" fill-opacity="0.6"/>
<circle cx="423.4" cy="1728.5" r="4.3" fill="#e3281e" fill-opacity="0.6"/>
<circle cx="418.7" cy="1716.4" r="4.3" fill="#e3281e" fill-opacity="0.6"/>
<circle cx="425.4" cy="1731.1" r="4.3" fill="#e3281e" fill-opacity="0.6"/>
<circle cx="446.2" cy="1726.5" r="4.3" fill="#e3281e" fill-opacity="0.6"/>
<circle cx="441.7" cy="1743.5" r="4.3" fill="#e3281e" fill-opacity="0.6"/>
<circle cx="419.5" cy="1748.4" r="4.3" fill="#e3281e" fill-opacity="0.6"/>
<circle cx="428.4" cy="1748.8" r="4.3" fill="#e3281e" fill-opacity="0.6"/>
<circle cx="413.7" cy="1741.5" r="4.3" fill="#e3281e" fill-opacity="0.6"/>
<circle cx="446.3" cy="1713.3" r="4.3" fill="#e3281e" fill-opacity="0.6"/>
<circle cx="419.1" cy="1716.4" r="4.3" fill="#e3281e" fill-opacity="0.6"/>
<circle cx="413.3" cy="1720.7" r="4.3" fill="#e3281e" fill-opacity="0.6"/>
<circle cx="438.6" cy="1758.2" r="4.3" fill="#e3281e" fill-opacity="0.6"/>
<circle cx="420.0" cy="1709.8" r="4.3" fill="#e3281e" fill-opacity="0.6"/>
<circle cx="416.8" cy="1747.2" r="4.3" fill="#e3281e" fill-opacity="0.6"/>
<circle cx="443.5" cy="1728.5" r="4.3" fill="#e3281e" fill-opacity="0.6"/>
<circle cx="414.3" cy="1763.8" r="4.3" fill="#e3281e" fill-opacity="0.6"/>
<circle cx="417.0" cy="1748.4" r="4.3" fill="#e3281e" fill-opacity="0.6"/>
<circle cx="412.9" cy="1756.3" r="4.3" fill="#e3281e" fill-opacity="0.6"/>
<circle cx="413.1" cy="1731.7" r="4.3" fill="#e3281e" fill-opacity="0.6"/>
<circle cx="421.6" cy="1724.7" r="4.3" fill="#e3281e" fill-opacity="0.6"/>
<circle cx="429.0" cy="1733.5" r="4.3" fill="#e3281e" fill-opacity="0.6"/>
<circle cx="423.6" cy="1752.5" r="4.3" fill="#e3281e" fill-opacity="0.6"/>
<circle cx="429.8" cy="1745.4" r="4.3" fill="#e3281e" fill-opacity="0.6"/>
<circle cx="416.4" cy="1718.9" r="4.3" fill="#e3281e" fill-opacity="0.6"/>
<circle cx="425.8" cy="1753.4" r="4.3" fill="#e3281e" fill-opacity="0.6"/>
<circle cx="416.9" cy="1741.7" r="4.3" fill="#e3281e" fill-opacity="0.6"/>
<circle cx="413.7" cy="1742.7" r="4.3" fill="#e3281e" fill-opacity="0.6"/>
<circle cx="425.8" cy="1725.2" r="4.3" fill="#e3281e" fill-opacity="0.6"/>
<circle cx="415.1" cy="1756.6" r="4.3" fill="#e3281e" fill-opacity="0.6"/>
<circle cx="416.9" cy="1734.1" r="4.3" fill="#e3281e" fill-opacity="0.6"/>
<circle cx="425.5" cy="1716.0" r="4.3" fill="#e3281e" fill-opacity="0.6"/>
<circle cx="421.4" cy="1753.2" r="4.3" fill="#e3281e" fill-opacity="0.6"/>
<circle cx="429.7" cy="1749.1" r="4.3" fill="#e3281e" fill-opacity="0.6"/>
<circle cx="424.4" cy="1739.7" r="4.3" fill="#e3281e" fill-opacity="0.6"/>
<circle cx="416.8" cy="1724.6" r="4.3" fill="#e3281e" fill-opacity="0.6"/>
<circle cx="420.7" cy="1727.8" r="4.3" fill="#e3281e" fill-opacity="0.6"/>
<circle cx="413.5" cy="1738.6" r="4.3" fill="#e3281e" fill-opacity="0.6"/>
<circle cx="424.7" cy="1735.0" r="4.3" fill="#e3281e" fill-opacity="0.6"/>
<circle cx="428.8" cy="1717.1" r="4.3" fill="#e3281e" fill-opacity="0.6"/>
<circle cx="428.1" cy="1716.2" r="4.3" fill="#e3281e" fill-opacity="0.6"/>
<circle cx="412.4" cy="1726.9" r="4.3" fill="#e3281e" fill-opacity="0.6"/>
<circle cx="421.1" cy="1732.2" r="4.3" fill="#e3281e" fill-opacity="0.6"/>
<circle cx="428.8" cy="1756.6" r="4.3" fill="#e3281e" fill-opacity="0.6"/>
<circle cx="424.4" cy="1728.2" r="4.3" fill="#e3281e" fill-opacity="0.6"/>
<circle cx="451.2" cy="1729.5" r="4.3" fill="#e3281e" fill-opacity="0.6"/>
<circle cx="418.7" cy="1735.2" r="4.3" fill="#e3281e" fill-opacity="0.6"/>
<circle cx="419.8" cy="1725.3" r="4.3" fill="#e3281e" fill-opacity="0.6"/>
<circle cx="417.7" cy="1744.7" r="4.3" fill="#e3281e" fill-opacity="0.6"/>
<circle cx="434.0" cy="1737.6" r="4.3" fill="#e3281e" fill-opacity="0.6"/>
<circle cx="436.2" cy="1746.4" r="4.3" fill="#e3281e" fill-opacity="0.6"/>
<circle cx="450.4" cy="1722.9" r="4.3" fill="#e3281e" fill-opacity="0.6"/>
<circle cx="427.5" cy="1717.3" r="4.3" fill="#e3281e" fill-opacity="0.6"/>
<circle cx="420.1" cy="1724.2" r="4.3" fill="#e3281e" fill-opacity="0.6"/>
<circle cx="421.5" cy="1760.0" r="4.3" fill="#e3281e" fill-opacity="0.6"/>
<circle cx="416.6" cy="1748.2" r="4.3" fill="#e3281e" fill-opacity="0.6"/>
<circle cx="415.5" cy="1734.4" r="4.3" fill="#e3281e" fill-opacity="0.6"/>
<circle cx="419.7" cy="1721.2" r="4.3" fill="#e3281e" fill-opacity="0.6"/>
<circle cx="427.3" cy="1709.8" r="4.3" fill="#e3281e" fill-opacity="0.6"/>
<circle cx="416.1" cy="1735.0" r="4.3" fill="#e3281e" fill-opacity="0.6"/>
<circle cx="429.9" cy="1734.9" r="4.3" fill="#e3281e" fill-opacity="0.6"/>
<circle cx="412.3" cy="1716.8" r="4.3" fill="#e3281e" fill-opacity="0.6"/>
<circle cx="419.4" cy="1731.2" r="4.3" fill="#e3281e" fill-opacity="0.6"/>
<circle cx="423.7" cy="1721.1" r="4.3" fill="#e3281e" fill-opacity="0.6"/>
<circle cx="419.3" cy="1740.0" r="4.3" fill="#e3281e" fill-opacity="0.6"/>
<circle cx="429.3" cy="1739.4" r="4.3" fill="#e3281e" fill-opacity="0.6"/>
<circle cx="427.3" cy="1724.8" r="4.3" fill="#e3281e" fill-opacity="0.6"/>
<circle cx="425.8" cy="1752.2" r="4.3" fill="#e3281e" fill-opacity="0.6"/>
<circle cx="430.4" cy="1730.9" r="4.3" fill="#e3281e" fill-opacity="0.6"/>
<circle cx="422.8" cy="1733.3" r="4.3" fill="#e3281e" fill-opacity="0.6"/>
<circle cx="426.5" cy="1741.2" r="4.3" fill="#e3281e" fill-opacity="0.6"/>
<circle cx="414.2" cy="1717.6" r="4.3" fill="#e3281e" fill-opacity="0.6"/>
<circle cx="416.7" cy="1710.2" r="4.3" fill="#e3281e" fill-opacity="0.6"/>
<circle cx="412.5" cy="1743.6" r="4.3" fill="#e3281e" fill-opacity="0.6"/>
<circle cx="420.9" cy="1746.5" r="4.3" fill="#e3281e" fill-opacity="0.6"/>
<circle cx="427.7" cy="1712.5" r="4.3" fill="#e3281e" fill-opacity="0.6"/>
<circle cx="421.8" cy="1760.3" r="4.3" fill="#e3281e" fill-opacity="0.6"/>
<circle cx="413.3" cy="1724.1" r="4.3" fill="#e3281e" fill-opacity="0.6"/>
<circle cx="415.2" cy="1731.2" r="4.3" fill="#e3281e" fill-opacity="0.6"/>
<circle cx="414.4" cy="1753.4" r="4.3" fill="#e3281e" fill-opacity="0.6"/>
<circle cx="439.0" cy="1736.4" r="4.3" fill="#e3281e" fill-opacity="0.6"/>
<circle cx="419.6" cy="1762.5" r="4.3" fill="#e3281e" fill-opacity="0.6"/>
<circle cx="413.2" cy="1738.8" r="4.3" fill="#e3281e" fill-opacity="0.6"/>
<circle cx="431.0" cy="1707.1" r="4.3" fill="#e3281e" fill-opacity="0.6"/>
<circle cx="429.5" cy="1725.2" r="4.3" fill="#e3281e" fill-opacity="0.6"/>
<circle cx="413.6" cy="1763.4" r="4.3" fill="#e3281e" fill-opacity="0.6"/>
<circle cx="419.8" cy="1716.9" r="4.3" fill="#e3281e" fill-opacity="0.6"/>
<circle cx="416.6" cy="1741.8" r="4.3" fill="#e3281e" fill-opacity="0.6"/>
<circle cx="420.6" cy="1736.7" r="4.3" fill="#e3281e" fill-opacity="0.6"/>
<circle cx="421.7" cy="1761.7" r="4.3" fill="#e3281e" fill-opacity="0.6"/>
<circle cx="415.6" cy="1756.7" r="4.3" fill="#e3281e" fill-opacity="0.6"/>
<circle cx="417.6" cy="1730.9" r="4.3" fill="#e3281e" fill-opacity="0.6"/>
<circle cx="414.1" cy="1735.7" r="4.3" fill="#e3281e" fill-opacity="0.6"/>
<circle cx="423.6" cy="1725.5" r="4.3" fill="#e3281e" fill-opacity="0.6"/>
<circle cx="426.2" cy="1715.3" r="4.3" fill="#e3281e" fill-opacity="0.6"/>
<circle cx="422.8" cy="1744.5" r="4.3" fill="#e3281e" fill-opacity="0.6"/>
<circle cx="430.5" cy="1729.3" r="4.3" fill="#e3281e" fill-opacity="0.6"/>
<circle cx="432.1" cy="1763.4" r="4.3" fill="#e3281e" fill-opacity="0.6"/>
<circle cx="448.1" cy="1710.8" r="4.3" fill="#c8201c" fill-opacity="0.6"/>
<circle cx="454.8" cy="1708.1" r="4.3" fill="#c8201c" fill-opacity="0.6"/>
<circle cx="440.6" cy="1707.6" r="4.3" fill="#c8201c" fill-opacity="0.6"/>
<circle cx="447.3" cy="1700.1" r="4.3" fill="#c8201c" fill-opacity="0.6"/>
<circle cx="452.2" cy="1705.2" r="4.3" fill="#c8201c" fill-opacity="0.6"/>
<circle cx="448.3" cy="1707.0" r="4.3" fill="#c8201c" fill-opacity="0.6"/>
<circle cx="445.8" cy="1703.5" r="4.3" fill="#c8201c" fill-opacity="0.6"/>
<circle cx="416.3" cy="1569.2" r="4.3" fill="#e3281e" fill-opacity="0.5"/>
<circle cx="412.8" cy="1631.8" r="4.3" fill="#e3281e" fill-opacity="0.5"/>
<circle cx="415.3" cy="1655.2" r="4.3" fill="#e3281e" fill-opacity="0.5"/>
<circle cx="438.0" cy="1654.5" r="4.3" fill="#e3281e" fill-opacity="0.5"/>
<circle cx="459.7" cy="1663.8" r="4.3" fill="#e3281e" fill-opacity="0.5"/>
<circle cx="421.0" cy="1670.8" r="4.3" fill="#e3281e" fill-opacity="0.5"/>
<circle cx="429.8" cy="1679.7" r="4.3" fill="#e3281e" fill-opacity="0.5"/>
<circle cx="455.0" cy="1674.3" r="4.3" fill="#e3281e" fill-opacity="0.5"/>
<circle cx="464.4" cy="1674.3" r="4.3" fill="#e3281e" fill-opacity="0.5"/>
<circle cx="413.0" cy="1683.0" r="4.3" fill="#e3281e" fill-opacity="0.5"/>
<circle cx="438.0" cy="1694.7" r="4.3" fill="#e3281e" fill-opacity="0.5"/>
<circle cx="454.3" cy="1694.7" r="4.3" fill="#e3281e" fill-opacity="0.5"/>
<circle cx="489.5" cy="1714.8" r="4.3" fill="#e3281e" fill-opacity="0.5"/>
<circle cx="502.3" cy="1738.8" r="4.3" fill="#e3281e" fill-opacity="0.5"/>
<circle cx="482.2" cy="1746.8" r="4.3" fill="#e3281e" fill-opacity="0.5"/>
<circle cx="482.2" cy="1746.8" r="4.3" fill="#e3281e" fill-opacity="0.5"/>
<circle cx="457.2" cy="1748.6" r="4.3" fill="#e3281e" fill-opacity="0.5"/>
<circle cx="457.2" cy="1764.5" r="4.3" fill="#e3281e" fill-opacity="0.5"/>
<circle cx="450.0" cy="1740.0" r="4.3" fill="#e3281e" fill-opacity="0.5"/>
<circle cx="452.0" cy="1725.0" r="4.3" fill="#e3281e" fill-opacity="0.5"/>
<circle cx="448.0" cy="1755.0" r="4.3" fill="#e3281e" fill-opacity="0.5"/>
<circle cx="415.2" cy="1655.2" r="4.3" fill="#e3281e" fill-opacity="0.5"/>
<circle cx="429.9" cy="1679.0" r="4.3" fill="#e3281e" fill-opacity="0.5"/>
<circle cx="429.9" cy="1679.0" r="4.3" fill="#e3281e" fill-opacity="0.5"/>
</g>
<defs><clipPath id="cv"><rect x="129.5" y="1361.5" width="532" height="454"/></clipPath></defs>
<line x1="457.5" y1="1387" x2="471.8" y2="1401.3" stroke="#0b0b0b" stroke-width="2.2"/>
<circle cx="453.7" cy="1381" r="6.2" fill="#f1a4b2" stroke="#1c1f4a" stroke-width="1.6"/>
<line x1="451" y1="1476" x2="466" y2="1490.2" stroke="#0b0b0b" stroke-width="2.2"/>
<circle cx="449" cy="1473.2" r="6.2" fill="#f1a4b2" stroke="#1c1f4a" stroke-width="1.6"/>
<text x="478.49" y="1414.60" font-size="22.60" fill="#b22a26">Hspa1b</text>
<text x="467.12" y="1501.60" font-size="22.30" fill="#b22a26">Hspa1a</text>
<text x="141.92" y="1392.20" font-size="22.40" fill="#3b3fb0">102 down</text>
<text x="574.19" y="1387.80" font-size="22.80" fill="#e8322a">192 up</text>
<rect x="127.3" y="1359.5" width="536" height="458" fill="none" stroke="#0b0b0b" stroke-width="4"/>
<text x="101.33" y="1452.20" font-size="21.00" fill="#111">15</text>
<text x="101.22" y="1567.20" font-size="21.00" fill="#111">10</text>
<text x="112.98" y="1680.90" font-size="21.00" fill="#111">5</text>
<text x="112.88" y="1801.20" font-size="21.00" fill="#111">0</text>
<text x="221.72" y="1845.60" font-size="21.00" fill="#111">-10</text>
<text x="391.12" y="1845.60" font-size="21.00" fill="#111">0</text>
<text x="540.92" y="1845.60" font-size="21.00" fill="#111">10</text>
<text x="243" y="1873.6" font-size="22.3" fill="#111">Log<tspan font-size="15" dy="5">2</tspan><tspan dy="-5"> Fold Change (hM3Dq/mCherry)</tspan></text>
<text transform="translate(87.7,1591.8) rotate(-90)" text-anchor="middle" font-size="22.3" fill="#111">-Log<tspan font-size="15" dy="5">10</tspan><tspan dy="-5"> Adjusted </tspan><tspan font-style="italic">P</tspan></text>
</svg>
</body></html>
